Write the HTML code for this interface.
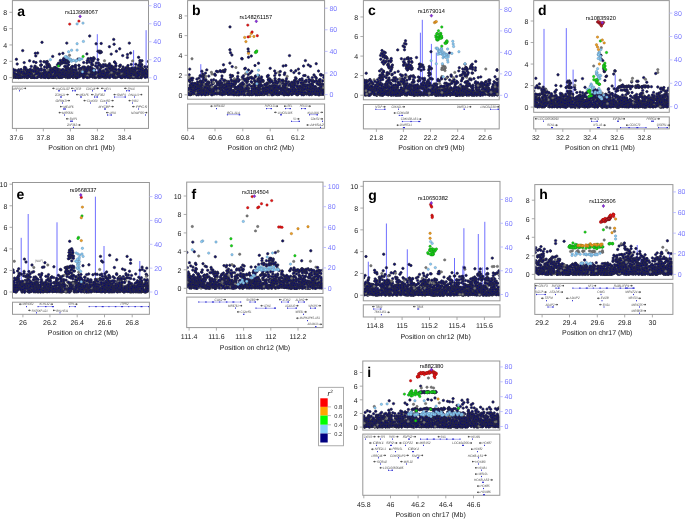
<!DOCTYPE html>
<html><head><meta charset="utf-8">
<style>
html,body{margin:0;padding:0;background:#fff;width:685px;height:519px;overflow:hidden}
svg{position:absolute;left:0;top:0;font-family:"Liberation Sans",sans-serif;will-change:transform;text-rendering:geometricPrecision}
</style></head>
<body>
<svg id="s" width="685" height="519" viewBox="0 0 685 519"><defs><marker id="mn" markerUnits="userSpaceOnUse" markerWidth="4" markerHeight="4" refX="0" refY="0" overflow="visible"><circle cx="0" cy="0" r="1.2" fill="#0a0a72" stroke="#2c2c3c" stroke-width="0.7"></circle></marker><marker id="mlb" markerUnits="userSpaceOnUse" markerWidth="4" markerHeight="4" refX="0" refY="0" overflow="visible"><circle cx="0" cy="0" r="1.2" fill="#87cefa" stroke="#6a8aa8" stroke-width="0.45"></circle></marker><marker id="mg" markerUnits="userSpaceOnUse" markerWidth="4" markerHeight="4" refX="0" refY="0" overflow="visible"><circle cx="0" cy="0" r="1.2" fill="#10e010" stroke="#208020" stroke-width="0.45"></circle></marker><marker id="mo" markerUnits="userSpaceOnUse" markerWidth="4" markerHeight="4" refX="0" refY="0" overflow="visible"><circle cx="0" cy="0" r="1.2" fill="#f0a020" stroke="#a06818" stroke-width="0.45"></circle></marker><marker id="mr" markerUnits="userSpaceOnUse" markerWidth="4" markerHeight="4" refX="0" refY="0" overflow="visible"><circle cx="0" cy="0" r="1.2" fill="#ee1010" stroke="#901818" stroke-width="0.45"></circle></marker><marker id="mp" markerUnits="userSpaceOnUse" markerWidth="4" markerHeight="4" refX="0" refY="0" overflow="visible"><circle cx="0" cy="0" r="1.2" fill="#8a2be2" stroke="#502080" stroke-width="0.45"></circle></marker><marker id="mgr" markerUnits="userSpaceOnUse" markerWidth="4" markerHeight="4" refX="0" refY="0" overflow="visible"><circle cx="0" cy="0" r="1.2" fill="#7a7a7a" stroke="#5a5a5a" stroke-width="0.45"></circle></marker><marker id="mdr" markerUnits="userSpaceOnUse" markerWidth="4" markerHeight="4" refX="0" refY="0" overflow="visible"><circle cx="0" cy="0" r="1.2" fill="#c41a2a" stroke="#601010" stroke-width="0.45"></circle></marker></defs><g><clipPath id="ca"><rect x="12.9" y="1.1" width="135.1" height="80.7"></rect></clipPath><g clip-path="url(#ca)"><line x1="97.3" x2="97.3" y1="34.2" y2="77.8" stroke="#6f6fff" stroke-width="1"></line><line x1="133.6" x2="133.6" y1="50.2" y2="77.8" stroke="#6f6fff" stroke-width="1"></line><line x1="146.1" x2="146.1" y1="30.2" y2="77.8" stroke="#6f6fff" stroke-width="1"></line><g><path d="M80.1 73.7 80.7 75.6 100.1 64.7 98.8 77.5" fill="none" style="marker:url(#mn)"></path><path d="M75.8 72.4" fill="none" style="marker:url(#mgr)"></path><path d="M112.2 71.9 53.3 74.3 127.1 68.4 98.2 74.4 62.6 73.3 128.5 74.5 137.4 74.2" fill="none" style="marker:url(#mn)"></path><path d="M54.3 74" fill="none" style="marker:url(#mgr)"></path><path d="M132.3 70.7 29.2 70.5 86.5 73 88.6 74 143.2 74.5 90.4 72.2 101.1 74.9 109.1 66.8 100.4 77.4 138.4 71.7 101.4 66.2 102.8 73.5 43.1 75.6 24.9 75 37 76.5 114.6 62 128.1 74 98 59.7 79.3 68.9 21.1 70.1 95.8 75.1 137.4 77.5 35.3 75.1 69.2 74.3 20.7 74.5 69.2 75.8 58.4 75.1 145.1 71.7 45.8 75.2" fill="none" style="marker:url(#mn)"></path><path d="M88.9 74.2" fill="none" style="marker:url(#mgr)"></path><path d="M30.2 72 30.9 76.8 98.4 76.2 123 66.9 113.7 69.3 59 69.6 99.4 75.4 115.3 75.4 116.4 70" fill="none" style="marker:url(#mn)"></path><path d="M31.3 75.7" fill="none" style="marker:url(#mgr)"></path><path d="M89.1 77.3 83.1 76.7 84.3 75.8 146.2 69.5 76.7 77.1 65.3 73.9 25.8 71.8 24.4 77.3 90.1 68 22.9 76.8 21 74.3 31.5 73.9 134.5 74.2 147.5 72.8 86.4 69.4 141.1 70.6 67.8 69.3 98.5 62.9 113.3 68 71.2 76.2 94.8 74.8 115.5 77.1 109.1 65.3 83.6 75 137.6 77 134.5 72.1 90 75.6 72.8 70.8" fill="none" style="marker:url(#mn)"></path><path d="M109.7 75" fill="none" style="marker:url(#mgr)"></path><path d="M110.1 66.3 115.4 72.7 113.3 67.1 35.4 66.8 46.7 75 56.4 75.8 95.5 77.4 122.4 73.8 51.5 76.9 86.7 72.1 84.3 68.7 50.5 71.4 133.1 72.1 90.1 71.7 21.1 69.5 136.7 72.4 59.2 73.1 13.3 74.1 120.4 75.3 142.4 74.6 24.5 70.7 128.1 68.1 21.4 76.8" fill="none" style="marker:url(#mn)"></path><path d="M15.3 74" fill="none" style="marker:url(#mgr)"></path><path d="M43.2 76.3" fill="none" style="marker:url(#mn)"></path><path d="M13.1 70 63.8 74.3" fill="none" style="marker:url(#mgr)"></path><path d="M130.5 76.9 59.9 70.1 16.8 74.3 117.5 72.5 76.4 71.8 101.3 75 108.1 72.6 69.8 77.4 98.8 65.3 29.6 75.8 122.2 75.5 143.3 72.6 41.1 65 30.5 75.1 132.5 68 66.8 74.6" fill="none" style="marker:url(#mn)"></path><path d="M60 69.8" fill="none" style="marker:url(#mgr)"></path><path d="M48.1 66.5 95.5 72.5 83.5 74.5 139.1 68.7 28.4 76.1 33.9 75.6 34.4 75.6" fill="none" style="marker:url(#mn)"></path><path d="M44.8 70.2" fill="none" style="marker:url(#mgr)"></path><path d="M24.8 69.2 82.9 71.1 110.4 75.1 103.5 72.7 65.5 76.2 45.3 77.1 21.8 76.9 47.2 61.5 78.9 65.4 108.5 74.8 41 77.2 101 67.5 54.7 74 141.7 65 65.8 77.3 76.1 69.4 89.6 71.2 75.5 77.3 44.9 74.5 55.9 71.7 58.6 76.7 51.6 73.1 66.7 73.3 27 73.4" fill="none" style="marker:url(#mn)"></path><path d="M142 68.2 90.9 68.1" fill="none" style="marker:url(#mgr)"></path><path d="M124.8 75.2 114.5 62.1" fill="none" style="marker:url(#mn)"></path><path d="M37 67.5" fill="none" style="marker:url(#mgr)"></path><path d="M139.5 76.6 100.4 74.3 47.9 66 28.3 73.1 50.9 68.5 77.5 76.8 31.8 75 14.8 74.2 124.6 71.9 72.7 70.6 145.4 70.4 56.9 74.2 115.5 77.4 62.4 70 71.8 71.2 15.4 75.4 94.3 71.1 127.2 67.1 67.1 71.8 123.3 69.5 24.5 74.7 111.9 72.7 140.3 67.5 69.5 76 113.9 73.4 14.2 73.5 103 72.3 90.9 74.3 13.4 76.4 87.6 73.6 33.6 74.9 72.4 73 25.4 73.2 102 76.4 34.4 68 142.1 75.1 56.1 73.9 77.7 77 71.1 68 76.7 77.6 35 77.2 43.8 69.9 87.4 75.6 39.4 74.8 92.8 77.2 128.2 71.4 143.9 74.9 25.1 71 105.7 75.2 88.8 74.2 67.1 68.4 33.4 75 129.7 77.6 59.1 77.3 113.7 76.7 48.6 75.2 75.5 75.4" fill="none" style="marker:url(#mn)"></path><path d="M135.8 69.4" fill="none" style="marker:url(#mgr)"></path><path d="M103.1 75.2 142.4 69 148.4 75.3 52.4 75.7 141.8 71.1 24.6 68.8 32.1 76.5 115 72.3 105.9 77.6 51.3 71.3" fill="none" style="marker:url(#mn)"></path><path d="M61.3 76" fill="none" style="marker:url(#mgr)"></path><path d="M83.7 67.1 130.9 77.3 53.3 76.5 75.8 76.9 113.2 74.2 52.5 69.6 107 74.5 58.1 69.7 135.1 74.1" fill="none" style="marker:url(#mn)"></path><path d="M132.7 73.9" fill="none" style="marker:url(#mgr)"></path><path d="M84.3 68.3 81.2 74.8 35 66.1 30.7 75.6 92.4 64.5 21.1 72.4 74.4 69.8 142 68.3 135.8 68.2 147.7 71.1 127.1 75.3 121.6 75.8 121.9 69.6 59 76.8 15.2 76.2 47.3 65.7 101.7 67.1 71.7 67.4 33.6 77.2 92.7 72 128 65.5 13.9 74.5 43.9 61.7 81.7 73.6 104.3 71.9 122 77.5 121.4 77.5" fill="none" style="marker:url(#mn)"></path><path d="M42.3 75.6" fill="none" style="marker:url(#mgr)"></path><path d="M125.2 74.4 92.6 71.7 138.9 73 15.5 70.3 65.4 75.9 45 75.2 141.5 72.5 15.7 77.2 44.2 75.6 147 76.8 88.9 76.2 18.4 77.5 69.4 75.7 125.3 71.1 56.5 75.3 124.3 69.8 25 70.5 30.7 76 122.1 77 129.4 77 108.9 72.1 92.9 72.4 115.4 69.3 100.6 72.4 125.8 70.5 92.7 71.9 31.2 77.3 54.3 76.2 130.5 70.4 132.6 74.3 44.6 74.9 35.6 74.1 148.3 74.5 59.6 76.9 51.9 73.6 130.1 76.3 56.6 72.7 29.1 75.1 25.7 75 51.4 75 132.5 77.1 69.9 75.6" fill="none" style="marker:url(#mn)"></path><path d="M77.8 72" fill="none" style="marker:url(#mgr)"></path><path d="M97.6 73.5 62 72.9 75.5 65.2 140.1 62.2 70.6 76.4 118.9 76.3 79.4 72.9 28 71.4 21.7 73.8 135.8 64.3 103.3 70.6 132.6 70.4 86.7 70.8 96.6 76.9 141.9 76.7" fill="none" style="marker:url(#mn)"></path><path d="M20.3 77.5" fill="none" style="marker:url(#mgr)"></path><path d="M14.1 77 54.9 77.4 134.9 68.9 32.9 75.5 43.2 76.7 61.1 74.4 109.8 68.7 65.6 76.5 115.9 76.7 103.1 71.8 73.1 77.4 71 73.2 79.4 69.4" fill="none" style="marker:url(#mn)"></path><path d="M53.1 75.8 132.6 60.9 68.1 76.3 19.1 75.6" fill="none" style="marker:url(#mgr)"></path><path d="M119.9 66.5 130.3 75.7 39 76.2 31.2 77.4 35.4 70.8 108 72.2 39.5 70.5 80.7 73.1 58.7 71.6 61.5 73.7 67.6 73.5 48.7 77.5 94.1 72.4 94.3 73.3 48.2 77.4 37 77 138.1 71.8 46.4 72.3 109.5 63.8 24.3 72.3 129.3 75.5 13.4 72.3 35.5 76.2 12.9 77.6 145.4 74.2 87.7 76.6 82.7 71.7 130.5 75.7 136 77.1 107.8 76.5 37 68.8 34.9 70.8 75.1 73.9 142 70.9 12.7 75 137.2 76.2 97.7 68.1 70.1 76.8 18.9 77.1 35.3 75.7 50.9 69.5 61 77.4 84 74.7 116.6 77 117.8 72.2 56.7 75.6 24.6 72.7 18.7 69.8 140.6 77.3 33.2 72 128 75.4 90.7 74.6 129.6 74.6 14.7 70.4" fill="none" style="marker:url(#mn)"></path><path d="M96.6 74.4" fill="none" style="marker:url(#mgr)"></path><path d="M135.4 67.6 64 76.3 17.4 71 32 71 63.5 74.5 133.9 71.4 31 75.3 90.8 76.6 53.7 72.4 144 75.3 81.2 68.7 104.7 73.8 112.5 67.4 80.1 71.9 40.9 76.7 112.8 74 70.2 69.3 12.7 75.9 16.8 76.3 36.5 77 14.9 73.6 67.9 77.6 138 75.1" fill="none" style="marker:url(#mn)"></path><path d="M118.2 71.5" fill="none" style="marker:url(#mgr)"></path><path d="M18.8 76.9 141.5 64.4 50.3 70 48.8 77.4 34.5 74.6 119.8 70.4 127.6 69.9 83.4 77.5 107.1 69.1 37 74.4 19.1 72.4 131.9 71.3 37 74.6 147.5 76.7 71.4 67.8 140.8 75.6 27.2 76.8 101.5 76.5 83.7 71.9 92.3 68.6 138.1 75.8 39.8 76.6 70.3 68.7 15.2 77.2 48.6 71.2 142.6 71.3 107.4 70.7 27.1 77.4 26.5 75.8 130.3 74.3 87.8 74.4 139.1 77.5 96.3 76.8 103.2 66.8 143.1 74 41 73.4 74.7 66.3 92.3 68.7 19.6 73.4 28.8 74.9 128.9 75.1 137.8 76.9 56.5 77.6 32.6 77 67.6 76.4" fill="none" style="marker:url(#mn)"></path><path d="M30.8 75.8" fill="none" style="marker:url(#mgr)"></path><path d="M140.1 68.5 130.5 75.7 50.1 77.1 136.8 77.2 105.7 74.7 43.3 75.7 64.1 70.5 63.6 76.6 86.5 73.4 45 75.5 76 70.2" fill="none" style="marker:url(#mn)"></path><path d="M78.9 75.9" fill="none" style="marker:url(#mgr)"></path><path d="M101.2 66.3 117.5 77" fill="none" style="marker:url(#mn)"></path><path d="M81.4 72.1" fill="none" style="marker:url(#mgr)"></path><path d="M106.9 66.2 56.5 70.8 147.4 74.5 50.2 73.4 133.2 76.8 61.3 70.2 52 75.4" fill="none" style="marker:url(#mn)"></path><path d="M110.3 74.3" fill="none" style="marker:url(#mgr)"></path><path d="M84.1 74.5 130.4 74.9 144.7 73.2 109.9 69.1 112.4 69 114.6 75.6 37.9 71.5 113.2 74.6 34.7 75.5 80.7 69.3 84.2 75.3 114.5 75.1 38.9 69.7 47.2 67.6 16.9 77.4 101.4 72.5 135 74.2 147.7 66.9 20.6 76.3 71.7 71.4 94.5 69.5 58.3 69.7 69.1 69.7 88.3 75.2 64.4 75.1 15.7 76.7 141.5 76.9 138.8 77.6 104.2 77.4 18.6 73.2 75.7 77.1 57 77.2 33.1 77.1 131.3 64.4 41.5 74.3 79 76.2 36.8 77.3 144.8 66.8 67.5 68.1 24.5 67.3 36.1 72.9 105 73.2 134.6 75.2 95.7 72.9 143.6 72.4 140.5 77.2 76.9 74.5 122.3 69.7 16.8 75" fill="none" style="marker:url(#mn)"></path><path d="M112.6 75.5" fill="none" style="marker:url(#mgr)"></path><path d="M119.7 65.9 50.9 75.4 55.6 75.4 94 76.8" fill="none" style="marker:url(#mn)"></path><path d="M21.6 75.6 56.6 69.8" fill="none" style="marker:url(#mgr)"></path><path d="M52.8 75.6 21.8 77.3 100.9 74 112.3 74 108.4 77 88.3 66.8 140.5 66.9 86 73.1 122.4 74.4 120.5 76.2 54.9 71.8 95.3 72.4 141.2 76.8 70.5 76.1 64 71.8 124 71.4 138.1 68.6 42.9 73.7 74.7 75.3 46.9 67.7 41.2 68.6 82.8 67.2 109.6 68 57.3 70.4 90.1 67.8 76.1 74.1 38 68.6 142.2 70.6 19.6 74.8 129.6 69.6 18.3 72.9 96 76.3 144.8 70.6 111.4 67.4 28.4 71.3 104.4 76.4 122.1 74.2 63.1 69.5 90.5 67 20.2 77.1 25.4 72.8" fill="none" style="marker:url(#mn)"></path><path d="M138 67.2" fill="none" style="marker:url(#mgr)"></path><path d="M131.7 71.3 87.5 67.8 21.1 72.1 38.1 72.6 117 74.7 124.4 75.3 109.2 67.3 20.2 76.3 139.5 74 86.5 71.3 18.4 74 88.6 74.1" fill="none" style="marker:url(#mn)"></path><path d="M20.1 76" fill="none" style="marker:url(#mgr)"></path><path d="M104.6 76.2 131.4 75.4 107.8 65.8 43 76.4 81.9 72.8 110.6 72.3 54.2 73 133.3 77.5 68.1 72.2 67.3 76.1 144.5 76.5 137.9 76.8 49.5 65.4 80.6 74.3 84.1 74.6 88.6 69 66.1 70.8 116 74 117.2 74.8 32.1 73.9 94.5 77 139.8 64.1 75.4 76.6" fill="none" style="marker:url(#mn)"></path><path d="M21 71.5" fill="none" style="marker:url(#mgr)"></path><path d="M130.4 71.9 13.2 69.4 33.2 74.8 99.3 70.5 45.2 77.5 121.5 75.7 24.5 71.8 120.4 65.1 64.7 66.4 29.9 74.5 124.7 72.9 86.9 70.9 83.7 62.5 20.1 76.6 102.6 76.6 100 69.5 104 74.1 39.7 76" fill="none" style="marker:url(#mn)"></path><path d="M121.3 73.4" fill="none" style="marker:url(#mgr)"></path><path d="M127.2 73.3 27.4 75.3 111.9 74.7 74.8 75.2 75.9 74.2 77.1 77.1 84.7 68.1 42.5 77.1 29.5 72.3 67.7 67.5 60.3 73.7 113.4 76.7 141.8 76 28.9 72.4 45.7 75.6 72.1 66.8 55.6 68.5 36 73.9 139.8 75.2 20.6 76.3 67.6 77.1 115.7 66.4 25 75.1 134.1 76.3 62.9 73.2 57.8 75.6 87.9 75.3 145.3 77.4 71.3 71.6 81.1 75.2 141.1 66.4" fill="none" style="marker:url(#mn)"></path><path d="M57.6 77.5" fill="none" style="marker:url(#mgr)"></path><path d="M32.8 73.1 126.3 72.4 102 74.3 62.5 76.5 65.2 76.1 113.9 77.3 132.9 74.7 51.6 71.8 84.5 67.1 46.9 64.7 53.2 71.4 84.2 74.6 66 68.8 47.7 75.9 98.5 72.3 92 72.7 76.1 76.6 46.3 74.1 55.5 67.5 111.8 74.1 24.2 73.7 113.8 71.5 52.5 72.6 87.2 69.8 122.7 76.9 41.1 77 86.5 69.3 119.3 72.4 26.6 77.4 32.9 70.1 61.9 77.4 101.6 74.4 72.7 75.6 37.4 76.3 90.6 69.9 139.7 71.4 144.6 70.6 64.5 75.8 42.5 73.9 111 70.5 48.6 64.1 109.8 68.5 105.4 64.6 101.1 75.6 87.5 71.4 82.4 72.2 25.6 74.4 71.5 73 92.4 65.1 92 70.3 59.1 73 52.7 77.3 134.7 77.3 100.8 71.2 26.5 71.7 46.8 76.5 96.3 76.7 52.6 68.9 84.7 76.9 23.7 74.5" fill="none" style="marker:url(#mn)"></path><path d="M53.8 74.2" fill="none" style="marker:url(#mgr)"></path><path d="M116.8 75.9 18.7 75.5 60.3 76.3 76.2 73.9 43.6 72.6 112.9 75.3 40.7 65.4 46.8 63.6 109.5 76.7 62 72.8 49.8 66.9 47.5 77.3 12.9 75.6 107.6 71.3 142.1 73 65.5 73.5 111.6 66 90.4 74.8 37.3 77.3 141.7 75.8 54.2 67.7 42.8 75.4 134.3 73.6 105.3 75.1 55.1 76.1 138.9 74.7 48.1 73.2 127.5 54.5 88 76.9 125.6 74.3 110.5 75.2 111.3 70.3 128.4 68.5 132.6 77.4 141.3 77.6 91.7 71.3 69.7 72.9 94.5 76.9 41.4 70.3 44.8 71.4 73.2 72.2 78 59.1 19.1 74.7 46.6 76.1 77.2 72.8 67 68.1 91.5 60.4 138.6 65.3 109.2 64.9 92.9 74.4 62.8 72.4 134.2 76.8 17.2 64 118.8 69.4 31.3 66.4 135.2 69.3 97 66.9 135.4 76.6 92.8 71.2 35.7 74.5 25.6 69.3 38.3 72.9 118.2 72.9 102.7 76.6 90.6 74.5 59.9 77.5" fill="none" style="marker:url(#mn)"></path><path d="M53.3 76.1" fill="none" style="marker:url(#mgr)"></path><path d="M134.4 70.3 41.3 64.9 65.6 75.4 109.7 77.5 127.1 76.3 70.4 71.9 32.9 76.5 91.1 74.6 47.5 73.5 26.7 73.8 125 77.2 137.5 76.2 128.7 72.8 41.8 75.9 18.8 77.5 92.5 70.8 140.3 61.4 124.2 76.1 132.4 73.7 27.8 77.5 79 65.4 26.6 76.7 56.5 72.9 138.2 68.4 134.2 76.9 24.7 74.5 44.1 75.4 116 65.6 128 74.9 33.4 77 72.8 76.9 92.7 74.9 117.6 73.2 86.9 62.8 116.4 51.2 53.2 69.1 63.8 58.4 29.4 74.6 19.3 71 35.7 68 120.8 76.6 135 70.5" fill="none" style="marker:url(#mn)"></path><path d="M133.5 76.4" fill="none" style="marker:url(#mgr)"></path><path d="M140.1 76.4 105.8 69.3 24.8 72.3 72.3 76.4 54.6 74.9 32 77.4 86.5 77 83.4 75.7 62.6 75.2" fill="none" style="marker:url(#mn)"></path><path d="M33.3 73.3" fill="none" style="marker:url(#mgr)"></path><path d="M83.8 73.5 124.5 69.7 28.3 72.3 54.8 70.6 51.1 77.1 88.7 75.2 73.5 74.9 55.2 73.5 111 75.1 148.4 61.5 131.1 73.4 17.9 75.6 75.6 67.1 125.7 77.1" fill="none" style="marker:url(#mn)"></path><path d="M47.7 70" fill="none" style="marker:url(#mgr)"></path><path d="M128.8 70.9 125.5 67.9 88 67.2 12.6 76 36.1 77.3 89 73.2 29.8 76.5 44.6 70 51.9 77.1 24.7 76.8 43.5 73.9 126.4 74 121.4 71.6 17.6 75.9 32.5 77 35.8 55.9 81.2 68.7 144.6 70.7 26.7 75.7 53.5 77.2 129 74.1 15.4 76.9 101.2 75.2 17.6 75.2 48.4 65.9 134.2 74.3 57.2 68.8 102.2 72.2 24.3 71.5 28.9 73.5 79.3 76.9 19.5 76.7" fill="none" style="marker:url(#mn)"></path><path d="M116.6 75" fill="none" style="marker:url(#mgr)"></path><path d="M52.9 69.7 126.3 70.9 126.5 73.3 68 74.2 21 72.8 31.3 74.3 69.2 76.9 73.9 72.3 24.2 62.6 127.8 68.6 138.6 57.3 46.8 74.8 44.6 66.9 55.3 67.9 18.2 77.3 77.1 73.9 78.9 75.3 39.3 75.3 77.4 77.4 67.2 66.1 96.2 63.1" fill="none" style="marker:url(#mn)"></path><path d="M24.1 71.9" fill="none" style="marker:url(#mgr)"></path><path d="M95 77 119 76.1 70.1 72.7 127.4 57.5 111.8 71.2 85 71.3 49.1 72.5" fill="none" style="marker:url(#mn)"></path><path d="M87.5 75.9" fill="none" style="marker:url(#mgr)"></path><path d="M45 72.8 108.3 72.4 33.9 77 69.9 73.7 24.2 76.7 29 73.7 60.6 72.8 129.3 71.8 31 70.6 50.9 74.9 28.8 74.6 101.8 73.2 17.5 74.7 96.9 74.8 61.7 74.2" fill="none" style="marker:url(#mn)"></path><path d="M88.8 72.4" fill="none" style="marker:url(#mgr)"></path><path d="M145.7 73.2 31.2 73.6 123.3 76.8" fill="none" style="marker:url(#mn)"></path><path d="M140.1 76.7" fill="none" style="marker:url(#mgr)"></path><path d="M79.3 68.6" fill="none" style="marker:url(#mn)"></path><path d="M111.5 72.6" fill="none" style="marker:url(#mgr)"></path><path d="M118.2 74.5 100.7 51.4 41.6 76 87.2 77.5 34.3 77.5 16.7 74.6 106.8 72.7 18.9 75.3 23.6 72 27.7 70 21.6 71.7 19.9 77.4 139.9 60.5 126.7 75.8 53 77.3 58.4 73.6 122.9 71 112.7 75.4" fill="none" style="marker:url(#mn)"></path><path d="M36.4 76" fill="none" style="marker:url(#mgr)"></path><path d="M71.9 76 129 70.1 137.5 73.5 57.5 72.5 27.1 76.2 80.8 69.8 127.8 77.5 57.2 75.8 140.7 69.6 103.4 73.6 64.1 75.1 124.8 76.7 94.3 74.4" fill="none" style="marker:url(#mn)"></path><path d="M96.7 75.4" fill="none" style="marker:url(#mgr)"></path><path d="M63 74.2 35.9 70.1 124.9 72 51.9 77 43.9 77.2 119 73.6 94.3 58.8 95.1 74" fill="none" style="marker:url(#mn)"></path><path d="M81.3 69.3" fill="none" style="marker:url(#mgr)"></path><path d="M29.4 72.6 95.5 65.7 59 72.8 107.1 76.9 134.1 74.9 98.4 75.9 22.6 76.9 115.7 63.5 83.7 76.8 105.2 65.7 69.9 74.8 131.4 68.3 81.6 73.3 138.7 75.3 112.6 76.9 134.2 69.5 30.4 69.2 129 69 50.9 76.8 39.8 73.8 35.4 71.3 72.6 66.5 140.4 66.3 103.3 64.6 79.7 75 120.6 77.3 55.8 72 28.3 75.5 25.6 67.8 99.9 76.6 69 75 37.8 77 30.8 73.9 72.9 69.8 46.9 62 117.2 74.1 145.8 69.6 36.8 73.5 58.6 77.1 81.1 68.8 140.9 77.1 91.8 64.4 53.4 76.6 33.4 71.3 24.1 73.3 66.2 70.3 60.1 72.8 98 51.2 101.3 52.2 99.4 51.2 100.1 52.8 99.6 52.4 68.6 61.9 60.8 62.1 62.7 62.4 60.6 64.1 62.8 59.9 68.1 62.2 65.2 61.6 60.4 60.4 63.7 60.5 67.8 60.9 58.5 63.2 61.2 62.3 57.5 64.8 59.4 65.5 66.3 59.9 62.1 63 66.6 63.3 63 62.8 68.7 64.8 65.8 59.8 65.3 66.4 65.1 63 93.6 57.7 93.1 60.9 88.2 58.6 88.6 60.4 90.9 58.5 93.2 59.3 90.7 58.5 91.5 62.8 89.3 62.1 87.3 60.6" fill="none" style="marker:url(#mn)"></path><path d="M69.5 55.3 104.5 60.8" fill="none" style="marker:url(#mgr)"></path><path d="M16.4 59.3 22.7 50.6 42 42.3 35.4 53.3 37.7 53 29.6 60.8 33.7 61.7 36 62.5 40.6 61.4 45.2 62 52.7 56.4 59.4 54.1 62.9 53.3 66.8 43.1 89.7 36 113.7 39.4 96.1 43.8 101.2 43.5 114.1 44.2 129.3 43.1 109.4 46.7 119.7 48.8 86.9 53.9 111.2 54.1 122.7 55.6 130.6 53 142 60.8 93.5 58.5" fill="none" style="marker:url(#mn)"></path><path d="M70 59.1 70.9 59.5 66.4 56.7 68.8 58.6 67.6 57.5 66.8 57.8 66.5 57.3 65.4 56.6 71.4 61.2 70.1 59.8 70 59.2 72.8 60.6 73.5 60.3 75.7 61 75.9 61 76.7 60.6 81.9 58.9 79.6 58.7 79.3 60 80 59.5 79.1 59.2 77.1 23.9 83 23.1 77.1 43.7 83.4 41.4 77.1 50.1 68.6 51.8 71.6 50.2 50.4 59.7 82.5 71.8 94 70.3" fill="none" style="marker:url(#mlb)"></path><path d="M58.5 66 83.1 56.4" fill="none" style="marker:url(#mg)"></path><path d="M69.7 24.1 78.9 21.1" fill="none" style="marker:url(#mr)"></path><path d="M80.1 14.74L81.50 16.4L80.1 18.04L78.69 16.4Z" fill="#8a2be2" stroke="#502080" stroke-width="0.4"></path></g></g><rect x="12.4" y="0.6" width="136.1" height="81.7" fill="none" stroke="#979797" stroke-width="1"></rect><line x1="9.4" x2="12.4" y1="77.6" y2="77.6" stroke="#979797" stroke-width="0.8"></line><text x="7.2" y="80.39" font-size="7" text-anchor="end" fill="#222">0</text><line x1="9.4" x2="12.4" y1="61.27" y2="61.27" stroke="#979797" stroke-width="0.8"></line><text x="7.2" y="64.08" font-size="7" text-anchor="end" fill="#222">2</text><line x1="9.4" x2="12.4" y1="44.95" y2="44.95" stroke="#979797" stroke-width="0.8"></line><text x="7.2" y="47.75" font-size="7" text-anchor="end" fill="#222">4</text><line x1="9.4" x2="12.4" y1="28.63" y2="28.63" stroke="#979797" stroke-width="0.8"></line><text x="7.2" y="31.43" font-size="7" text-anchor="end" fill="#222">6</text><line x1="9.4" x2="12.4" y1="12.31" y2="12.31" stroke="#979797" stroke-width="0.8"></line><text x="7.2" y="15.11" font-size="7" text-anchor="end" fill="#222">8</text><line x1="148.5" x2="151.5" y1="77.8" y2="77.8" stroke="#b4b4ff" stroke-width="0.8"></line><text x="153.3" y="80.3" font-size="7" text-anchor="start" fill="#7878ff">0</text><line x1="148.5" x2="151.5" y1="59.78" y2="59.78" stroke="#b4b4ff" stroke-width="0.8"></line><text x="153.3" y="62.28" font-size="7" text-anchor="start" fill="#7878ff">20</text><line x1="148.5" x2="151.5" y1="41.76" y2="41.76" stroke="#b4b4ff" stroke-width="0.8"></line><text x="153.3" y="44.26" font-size="7" text-anchor="start" fill="#7878ff">40</text><line x1="148.5" x2="151.5" y1="23.73" y2="23.73" stroke="#b4b4ff" stroke-width="0.8"></line><text x="153.3" y="26.23" font-size="7" text-anchor="start" fill="#7878ff">60</text><line x1="148.5" x2="151.5" y1="5.71" y2="5.71" stroke="#b4b4ff" stroke-width="0.8"></line><text x="153.3" y="8.21" font-size="7" text-anchor="start" fill="#7878ff">80</text><rect x="12.4" y="86.1" width="136.1" height="42.30" fill="none" stroke="#979797" stroke-width="1"></rect><path d="M23.4 88.39h2.6M26.09 88.39l-1 -0.6v1.2z" stroke="#444" stroke-width="0.55" fill="#444"></path><text x="12.5" y="89.5" font-size="3.4" font-style="italic" fill="#484848" textLength="10.3" lengthAdjust="spacingAndGlyphs">MRPS15</text><rect x="19" y="90.2" width="1" height="1.2" fill="#3030d0"></rect><path d="M52.6 88.39h2.6M52.5 88.39l1 -0.6v1.2z" stroke="#444" stroke-width="0.55" fill="#444"></path><text x="55.8" y="89.5" font-size="3.4" font-style="italic" fill="#484848" textLength="14.10" lengthAdjust="spacingAndGlyphs">LINC01137</text><rect x="58" y="90.2" width="2" height="1.2" fill="#3030d0"></rect><path d="M71.3 88.39h2.6M71.19 88.39l1 -0.6v1.2z" stroke="#444" stroke-width="0.55" fill="#444"></path><text x="74.5" y="89.5" font-size="3.4" font-style="italic" fill="#484848" textLength="6.59" lengthAdjust="spacingAndGlyphs">CSF3R</text><rect x="72" y="90.6" width="4" height="0.45" fill="#5050e0"></rect><rect x="72" y="90.2" width="1" height="1.2" fill="#3030d0"></rect><rect x="74.5" y="90.2" width="1.5" height="1.2" fill="#3030d0"></rect><path d="M95.8 88.39h2.6M98.5 88.39l-1 -0.6v1.2z" stroke="#444" stroke-width="0.55" fill="#444"></path><text x="86.1" y="89.5" font-size="3.4" font-style="italic" fill="#484848" textLength="9.09" lengthAdjust="spacingAndGlyphs">CDCA8</text><rect x="92" y="90.2" width="1" height="1.2" fill="#3030d0"></rect><path d="M101.3 88.39h2.6M101.19 88.39l1 -0.6v1.2z" stroke="#444" stroke-width="0.55" fill="#444"></path><text x="104.5" y="89.5" font-size="3.4" font-style="italic" fill="#484848" textLength="6.59" lengthAdjust="spacingAndGlyphs">HEYL</text><rect x="104" y="90.2" width="2" height="1.2" fill="#3030d0"></rect><path d="M124.5 88.39h2.6M124.39 88.39l1 -0.6v1.2z" stroke="#444" stroke-width="0.55" fill="#444"></path><text x="127.7" y="89.5" font-size="3.4" font-style="italic" fill="#484848" textLength="7.10" lengthAdjust="spacingAndGlyphs">EPHA10</text><rect x="126" y="90.6" width="4" height="0.45" fill="#5050e0"></rect><rect x="126" y="90.2" width="1" height="1.2" fill="#3030d0"></rect><rect x="128.5" y="90.2" width="1.5" height="1.2" fill="#3030d0"></rect><path d="M65.8 94.6h2.6M68.5 94.6l-1 -0.6v1.2z" stroke="#444" stroke-width="0.55" fill="#444"></path><text x="54.9" y="95.7" font-size="3.4" font-style="italic" fill="#484848" textLength="10.29" lengthAdjust="spacingAndGlyphs">ZC3H12A</text><rect x="60" y="96.4" width="2" height="1.2" fill="#3030d0"></rect><path d="M76.3 94.6h2.6M76.19 94.6l1 -0.6v1.2z" stroke="#444" stroke-width="0.55" fill="#444"></path><text x="79.5" y="95.7" font-size="3.4" font-style="italic" fill="#484848" textLength="9.09" lengthAdjust="spacingAndGlyphs">MEAF6</text><rect x="80" y="96.4" width="2" height="1.2" fill="#3030d0"></rect><path d="M91.3 94.6h2.6M91.19 94.6l1 -0.6v1.2z" stroke="#444" stroke-width="0.55" fill="#444"></path><text x="94.5" y="95.7" font-size="3.4" font-style="italic" fill="#484848" textLength="10.29" lengthAdjust="spacingAndGlyphs">ZNF362</text><rect x="94" y="96.8" width="4" height="0.45" fill="#5050e0"></rect><rect x="94" y="96.4" width="1" height="1.2" fill="#3030d0"></rect><rect x="96.5" y="96.4" width="1.5" height="1.2" fill="#3030d0"></rect><path d="M113.8 94.6h2.6M113.69 94.6l1 -0.6v1.2z" stroke="#444" stroke-width="0.55" fill="#444"></path><text x="117" y="95.7" font-size="3.4" font-style="italic" fill="#484848" textLength="9.09" lengthAdjust="spacingAndGlyphs">SNIP1</text><rect x="114" y="96.8" width="12" height="0.45" fill="#5050e0"></rect><rect x="114" y="96.4" width="1" height="1.2" fill="#3030d0"></rect><rect x="124.5" y="96.4" width="1.5" height="1.2" fill="#3030d0"></rect><path d="M139.5 94.6h2.6M142.20 94.6l-1 -0.6v1.2z" stroke="#444" stroke-width="0.55" fill="#444"></path><text x="128.6" y="95.7" font-size="3.4" font-style="italic" fill="#484848" textLength="10.30" lengthAdjust="spacingAndGlyphs">DNALI1</text><rect x="134" y="96.4" width="1" height="1.2" fill="#3030d0"></rect><path d="M67.10 100.6h2.6M69.80 100.6l-1 -0.6v1.2z" stroke="#444" stroke-width="0.55" fill="#444"></path><text x="55.4" y="101.7" font-size="3.4" font-style="italic" fill="#484848" textLength="11.10" lengthAdjust="spacingAndGlyphs">GRIK3</text><rect x="62" y="102.4" width="1" height="1.2" fill="#3030d0"></rect><path d="M83.8 100.6h2.6M83.69 100.6l1 -0.6v1.2z" stroke="#444" stroke-width="0.55" fill="#444"></path><text x="87" y="101.7" font-size="3.4" font-style="italic" fill="#484848" textLength="10.40" lengthAdjust="spacingAndGlyphs">C1orf109</text><rect x="90" y="102.4" width="1" height="1.2" fill="#3030d0"></rect><path d="M110.8 100.6h2.6M113.5 100.6l-1 -0.6v1.2z" stroke="#444" stroke-width="0.55" fill="#444"></path><text x="99.9" y="101.7" font-size="3.4" font-style="italic" fill="#484848" textLength="10.29" lengthAdjust="spacingAndGlyphs">C1orf50</text><rect x="106" y="102.4" width="1" height="1.2" fill="#3030d0"></rect><path d="M128.79 100.6h2.6M128.7 100.6l1 -0.6v1.2z" stroke="#444" stroke-width="0.55" fill="#444"></path><text x="132" y="101.7" font-size="3.4" font-style="italic" fill="#484848" textLength="6.5" lengthAdjust="spacingAndGlyphs">RHBDL2</text><rect x="132" y="102.4" width="1" height="1.2" fill="#3030d0"></rect><path d="M60.1 106.6h2.6M60 106.6l1 -0.6v1.2z" stroke="#444" stroke-width="0.55" fill="#444"></path><text x="63.3" y="107.7" font-size="3.4" font-style="italic" fill="#484848" textLength="10.29" lengthAdjust="spacingAndGlyphs">MEAF6</text><rect x="63" y="108.4" width="3" height="1.2" fill="#3030d0"></rect><path d="M110.8 106.6h2.6M113.5 106.6l-1 -0.6v1.2z" stroke="#444" stroke-width="0.55" fill="#444"></path><text x="98.6" y="107.7" font-size="3.4" font-style="italic" fill="#484848" textLength="11.59" lengthAdjust="spacingAndGlyphs">MYCBP</text><rect x="104" y="108.4" width="2" height="1.2" fill="#3030d0"></rect><path d="M132.5 106.6h2.6M132.4 106.6l1 -0.6v1.2z" stroke="#444" stroke-width="0.55" fill="#444"></path><text x="135.70" y="107.7" font-size="3.4" font-style="italic" fill="#484848" textLength="11.59" lengthAdjust="spacingAndGlyphs">PPCS</text><rect x="138" y="108.4" width="1" height="1.2" fill="#3030d0"></rect><path d="M58.90 112.6h2.6M58.80 112.6l1 -0.6v1.2z" stroke="#444" stroke-width="0.55" fill="#444"></path><text x="62.1" y="113.7" font-size="3.4" font-style="italic" fill="#484848" textLength="11.49" lengthAdjust="spacingAndGlyphs">MIR5581</text><rect x="64" y="114.4" width="1" height="1.2" fill="#3030d0"></rect><path d="M106.3 112.6h2.6M106.19 112.6l1 -0.6v1.2z" stroke="#444" stroke-width="0.55" fill="#444"></path><text x="109.5" y="113.7" font-size="3.4" font-style="italic" fill="#484848" textLength="6.59" lengthAdjust="spacingAndGlyphs">AKIRIN1</text><rect x="107" y="114.8" width="5" height="0.45" fill="#5050e0"></rect><rect x="107" y="114.4" width="1" height="1.2" fill="#3030d0"></rect><rect x="110.5" y="114.4" width="1.5" height="1.2" fill="#3030d0"></rect><path d="M144.5 112.6h2.6M147.20 112.6l-1 -0.6v1.2z" stroke="#444" stroke-width="0.55" fill="#444"></path><text x="131.1" y="113.7" font-size="3.4" font-style="italic" fill="#484848" textLength="12.80" lengthAdjust="spacingAndGlyphs">NDUFS5</text><rect x="145" y="114.4" width="1" height="1.2" fill="#3030d0"></rect><path d="M66.3 118.8h2.6M66.19 118.8l1 -0.6v1.2z" stroke="#444" stroke-width="0.55" fill="#444"></path><text x="69.5" y="119.9" font-size="3.4" font-style="italic" fill="#484848" textLength="7.90" lengthAdjust="spacingAndGlyphs">SNIP1</text><rect x="70" y="120.60" width="3" height="1.2" fill="#3030d0"></rect><path d="M77.60 125h2.6M80.30 125l-1 -0.6v1.2z" stroke="#444" stroke-width="0.55" fill="#444"></path><text x="66.9" y="126.10" font-size="3.4" font-style="italic" fill="#484848" textLength="10.09" lengthAdjust="spacingAndGlyphs">ZNF362</text><rect x="73" y="126.80" width="1" height="1.2" fill="#3030d0"></rect><line x1="16.4" x2="16.4" y1="128.4" y2="131.4" stroke="#979797" stroke-width="0.8"></line><text x="16.4" y="139.6" font-size="7" text-anchor="middle" fill="#222">37.6</text><line x1="43.3" x2="43.3" y1="128.4" y2="131.4" stroke="#979797" stroke-width="0.8"></line><text x="43.3" y="139.6" font-size="7" text-anchor="middle" fill="#222">37.8</text><line x1="70.4" x2="70.4" y1="128.4" y2="131.4" stroke="#979797" stroke-width="0.8"></line><text x="70.4" y="139.6" font-size="7" text-anchor="middle" fill="#222">38</text><line x1="97.4" x2="97.4" y1="128.4" y2="131.4" stroke="#979797" stroke-width="0.8"></line><text x="97.4" y="139.6" font-size="7" text-anchor="middle" fill="#222">38.2</text><line x1="124.6" x2="124.6" y1="128.4" y2="131.4" stroke="#979797" stroke-width="0.8"></line><text x="124.6" y="139.6" font-size="7" text-anchor="middle" fill="#222">38.4</text><text x="81.5" y="150" font-size="7" text-anchor="middle" fill="#222">Position on chr1 (Mb)</text><text x="17.3" y="15.5" font-size="14" font-weight="bold" fill="#000">a</text><text x="81.5" y="14.3" font-size="5.7" text-anchor="middle" fill="#000">rs113998067</text></g><g><clipPath id="cb"><rect x="188.1" y="1.1" width="136.00" height="97.60"></rect></clipPath><g clip-path="url(#cb)"><line x1="200.8" x2="200.8" y1="64.2" y2="94.6" stroke="#6f6fff" stroke-width="1"></line><g><path d="M223.4 93.1 244.7 90.8 310.5 88.3 225.1 88.1 259.4 91.2 204.3 85.6 202.7 75.6 295.4 89.2" fill="none" style="marker:url(#mn)"></path><path d="M242.3 79.2" fill="none" style="marker:url(#mgr)"></path><path d="M271.9 90.3 241.6 84.3 301.3 83.3 207.4 94.3 264.7 93.8 284.5 88.3 220.6 94 323.8 90 278.7 79.7 193 90.7 254.3 90 255.5 88.7 188.8 88.2 270.2 88.3 271.9 92.3 324.3 88.5 198.8 86.1 259.5 92.3 278.2 91.7 254.1 85.3 254.6 92.4 232.4 90.7 303 92 311.2 86.5 226.3 90.8 313.5 81.2 297.7 86.8 270.2 80.3 231.8 81" fill="none" style="marker:url(#mn)"></path><path d="M261.5 92.9" fill="none" style="marker:url(#mgr)"></path><path d="M260.6 89.4 267.5 75.9 266.9 89.8 209 83.3 190.3 87.6 216 80.8 307.3 85.7 290 91.5 305.5 81.3 187.9 80.5 309.3 94.7 198.9 78.1 312.7 85.6 295.8 93.7 283.4 85.9 225.2 94 285.7 91.4 273.1 92.7 238.2 90.3 218.9 92 310.8 80.2 306.6 89.9 276.2 92.7 200.8 85.7 299.1 73.2 270.6 86.6 274.7 75.6 276 92 253.8 78.5 286 86.8 277.7 88.9 245.4 92.3 191.6 89.9 305 81.3 294.1 92.6 235 84.2 298.6 89.9 261.4 90.3 247 86.5 269.7 85.8 214.4 87.5 257.8 82.8 228 94.2 233.3 93.6 205.1 84.5 306.3 81.6 288.9 92.9 313.2 93.1 272.7 86.9 281.2 88.4 263.6 91.5 268.9 80.5 304.2 90.7 214.5 94.1 294.8 83.5" fill="none" style="marker:url(#mn)"></path><path d="M313.1 87.3" fill="none" style="marker:url(#mgr)"></path><path d="M229.8 90 276.2 81.6 265.1 93.4 287.1 93.8 220 84.5" fill="none" style="marker:url(#mn)"></path><path d="M282 93.5" fill="none" style="marker:url(#mgr)"></path><path d="M192 87.1 281.7 89.6 322.8 84.2 221.5 93.5 263 81.6 221.5 84.1 319.4 80 234.5 83.7 295.4 90.1 303.2 82.9 313.8 81.4 319.7 94.1 303.6 94.7 213.9 90.5 249.2 84.8" fill="none" style="marker:url(#mn)"></path><path d="M203.1 88.4" fill="none" style="marker:url(#mgr)"></path><path d="M221.4 93.4" fill="none" style="marker:url(#mn)"></path><path d="M234.4 78.8" fill="none" style="marker:url(#mgr)"></path><path d="M221.3 83 309 79.5 200.9 89.3 239.3 89.7 300 79.5 231.7 92.4 310.5 87.9 204.9 94.2 254.3 88.5 287.8 92.8 250.2 91.7 217 89.4 198.7 85.4 204 75.1 271.9 89.9 236.5 88.4 303.7 90.9" fill="none" style="marker:url(#mn)"></path><path d="M263.3 89.3" fill="none" style="marker:url(#mgr)"></path><path d="M264.4 92.7 211 85.6 299.8 79.9 224.2 92.5 272.4 94.3 258.1 94 287 90 233.9 93 302.1 88 190.2 84.9 208.4 82 324.1 89.1 211.6 89.4 201.2 92.9 299.5 93.4 299.8 86.2 320.1 90.2 293.2 87.1" fill="none" style="marker:url(#mn)"></path><path d="M245.6 73.8" fill="none" style="marker:url(#mgr)"></path><path d="M256.3 88.1 322.6 93.8 258.1 80.2 268.5 87 224.2 92.4 284.4 92.8 283.8 85.3 305.6 84.7 244.7 90.2 315.7 91.7 285.5 80.9 196.6 86.9 275.6 84.3 229.1 90.3 320.6 74.5 248.4 91.4 282.3 88.1 232.5 75.8 306.9 93.2 312.9 91.4 239.1 93.4 247.6 81.3 266.4 85.9 307.6 92 236.1 88.7 289.5 90.6 224.8 80.2 281.8 88.7 275.3 87.6 283.9 94.7 294.8 91.2 319 90" fill="none" style="marker:url(#mn)"></path><path d="M227.9 81.3" fill="none" style="marker:url(#mgr)"></path><path d="M275.1 78.5 242.3 77.1 322.5 92.1 303.1 83 237.8 88 208.2 90.6 269.6 88.8 274.5 91.3 238.5 91.5 248.4 90.6 293.6 91 297.6 86.6 318.3 88.3 247.9 93.7 223.6 92.9 304.3 92.7 246.8 82.8 190.7 78.8 275.2 82.5 257.9 92.1 243.4 89.6 264.8 93.8 194.1 93.5 319.8 84.7 290.4 91.5 190.2 85.6 202.3 84.4 245.9 79.2 316.3 80.4 246.4 81.3 324.2 88.5 210 87.6 214.9 89 217.7 89 222 76 220.7 90.4 224 85.3 312.7 80.5 297.1 81.7 239.6 94.3 302.3 80.3 274.6 91.5 247.3 85.6 234.8 86.8 230.4 93.9 250.1 77.6 265.2 90.5 266.3 87.7 316.1 91.9 255.1 93.4 217.2 90.5 263.2 80.6 319.5 81.7 246.1 79.3 320.5 89.6 312.2 81.5 310.5 93.8" fill="none" style="marker:url(#mn)"></path><path d="M193.3 94.3" fill="none" style="marker:url(#mgr)"></path><path d="M311.7 92.6 262.4 93.6 194.2 92.1 315.7 94.3 256 91.6 244.3 92.8 304.7 92.1 320.7 92.5 190.4 87.1 241.3 89.6 306.8 94.1 225.9 93.2 212.5 88 312.3 93.5 280.6 88.5 240.8 93.9 261.5 91.2 291.5 93.7 297 91.3 230.7 77.4 194.3 92 220.7 89.9 283 83.1 215.6 92.9 282.9 81.1 263.6 88.3 315.2 76.8 305.5 90.6 210.6 89.8 240.1 84.6" fill="none" style="marker:url(#mn)"></path><path d="M310.2 88.5" fill="none" style="marker:url(#mgr)"></path><path d="M242.7 91.4 193.2 92.8 189.9 81.8 285.2 83.8" fill="none" style="marker:url(#mn)"></path><path d="M198.8 82.8 254.6 92.3" fill="none" style="marker:url(#mgr)"></path><path d="M312.4 91.7 284.4 74.5 279.8 82.3 219.3 92.3 310.9 92 260.5 84.2 267.4 92.8 307.1 90.4 291.7 94.3 245 86.1 254.2 84.5 217.9 92.2 321.9 91.9 247.7 92.7 279.4 79.4 284.4 91.3 296 91 262.9 92.8 299.9 88.3 248.2 92.2 193.2 86.3 263.1 87.8 289.4 91.4 324 89.3 206 84.8 200.2 80.9 303.3 85.9 320 94.5 205.2 91.9 290.1 90.5 229.7 92.8 224.8 82 189.3 79.6 291.8 93.6 265.3 87.9" fill="none" style="marker:url(#mn)"></path><path d="M214.6 74.4 287.2 76.4" fill="none" style="marker:url(#mgr)"></path><path d="M301.7 91.5 208.1 85.7 228.8 90.2 279.6 75 190.7 87.3" fill="none" style="marker:url(#mn)"></path><path d="M278.6 72.4" fill="none" style="marker:url(#mgr)"></path><path d="M193.7 90.8 200 90.2 202.8 73.9 209.2 91.7 236.8 94.8 220 87.9 247.9 79 194 90.4 259.1 86.7 272.6 93.6" fill="none" style="marker:url(#mn)"></path><path d="M209.6 92.6" fill="none" style="marker:url(#mgr)"></path><path d="M272.4 85.5 215.2 93.4 229.3 83.2 223.2 84.9 267.5 76.7 233.6 90.7 191.5 93.8 272.8 89.4 205.5 73.1 213.3 83.4 203.5 91.8 258.2 87.6 263.8 88.6 251.8 91.9 315.7 93" fill="none" style="marker:url(#mn)"></path><path d="M298.5 92.9" fill="none" style="marker:url(#mgr)"></path><path d="M241.3 86.5 199.7 87" fill="none" style="marker:url(#mn)"></path><path d="M319.3 92.4" fill="none" style="marker:url(#mgr)"></path><path d="M225.3 89.2 289 94 250.2 91.9 216.4 87.6 240.5 86.5 229.3 86.5 302.7 87.1 290.9 90.6 295.1 92 265.8 93.6 259.4 94.2 276.8 94 206.6 92.7 321.5 90.3 253 86.1 248.3 93.1 221.7 87.2 296.1 91.8 245.2 86.1 284.4 94.7 263.4 92.1 303 88.4 218.8 85.1 237.3 92.6 319.2 94.2 207.7 88.6 255.3 83.3 292.7 86.1 221.7 83 285.3 92.7 295.5 77.6 226.2 81.9 234.9 81.3 196.9 79.1 262.6 93 247.8 77.8 210.1 86.1 311.3 85.7 261 78.8 219.4 89.3 200 89.5 192.3 92.1 263.7 92.9 289.1 93.4 286.3 81.3 245.1 94.6 189.1 92.9 288.7 81.9 219.7 93.7 249.4 94.8 272.2 86.2 221.8 89.6 199.9 82.1 205 93.6 261.6 77 202.7 89.8 292 91.4 219.7 87.9 260.5 82 286.5 78.7 246.1 93.2 254.9 87.8 323.9 94.4 313.5 81.7 197.9 91.3 200.6 91.5 223.5 87.9 247.7 93.9 288.4 93.6 321.2 91.4 222.7 87 197.3 84.7 262.4 90.3" fill="none" style="marker:url(#mn)"></path><path d="M323.5 80.5" fill="none" style="marker:url(#mgr)"></path><path d="M233.2 85.5 316.7 91.5 265.3 84.2 237.7 76.5 285.2 94.1 192.2 86.1 189 94.5 188.4 89.9 221 88 320.2 83.2 234 84.2 273.7 88.3" fill="none" style="marker:url(#mn)"></path><path d="M207 87.7" fill="none" style="marker:url(#mgr)"></path><path d="M235.9 82.7 234.8 92.1 284.9 90.5 270.6 93.4 260.1 90.7 282.1 90 294.7 80.2 294 90.7 310.9 88.3 226.3 81.4" fill="none" style="marker:url(#mn)"></path><path d="M265.7 92.3" fill="none" style="marker:url(#mgr)"></path><path d="M297.7 94.7 201.9 86.9 188.8 93.2" fill="none" style="marker:url(#mn)"></path><path d="M277.8 91.1" fill="none" style="marker:url(#mgr)"></path><path d="M299.5 91.6 269.4 78.7 259.7 81.1 276 89.2 204.2 76.5" fill="none" style="marker:url(#mn)"></path><path d="M198.6 83.9" fill="none" style="marker:url(#mgr)"></path><path d="M190.8 94.5 293.7 90.8 323.8 86.8 234.2 90.6 320.6 88 273.4 86.4 296.2 78.7 204.9 91 189.9 94.4 303.2 92.2 194.6 92 318.1 89.7 195.9 84.9 275.2 80.2 257.9 79.1 294.6 88.9 202.9 90.5 282.9 80.1 189.1 93.9 233.5 91.2 303.9 85.8 251.3 94.2 242.4 89.1" fill="none" style="marker:url(#mn)"></path><path d="M312 88.2" fill="none" style="marker:url(#mgr)"></path><path d="M324.4 90.5 253.5 94.2 298.6 89.1 270.8 81 215.8 93.5 315.9 91.8 266.4 92.6 225.8 83.2 236.2 88.7 275.6 73.2 312.4 84 257.8 91.1 190.3 94.6 263 88.9 309.1 82 238.8 90.1 197.4 85 245 92.7 242 89.7 314.7 81.7 314.3 93.5 193.5 87.3 322.4 89.3 316.2 89.5 323.1 91.7" fill="none" style="marker:url(#mn)"></path><path d="M220.9 91.2" fill="none" style="marker:url(#mgr)"></path><path d="M265.3 85.4" fill="none" style="marker:url(#mn)"></path><path d="M243.3 93.5" fill="none" style="marker:url(#mgr)"></path><path d="M245.9 93.6 205.9 79.7 310.4 85.1 238.6 86.4 208.8 82.6 252.5 94.2 275.6 87.3 207.7 82.1 279.6 85.9 221 85.6" fill="none" style="marker:url(#mn)"></path><path d="M246.8 91.6" fill="none" style="marker:url(#mgr)"></path><path d="M276.7 94 261.8 80.7 301 93.6 311.7 91 243.7 94.6 288.5 94.7 281.3 92.4 201.5 76.4 273.6 94.2 207 94.1 215.3 75.3 262.3 80.1 209.2 88.3 310.5 87 299.4 87.6 235.6 94.1 189 80.5 288.2 90 200.2 89 308.4 93.7 191.4 93.1 191.7 84.1 216.9 94" fill="none" style="marker:url(#mn)"></path><path d="M320.5 87.7" fill="none" style="marker:url(#mgr)"></path><path d="M278.4 88.8 196.8 94.2" fill="none" style="marker:url(#mn)"></path><path d="M268.8 83.7" fill="none" style="marker:url(#mgr)"></path><path d="M228.7 93.4 291.9 83.7 274.3 90.5 312.3 92.8 288.7 94.4 321.9 84 212.6 84 220.4 93.8 286.4 83.7 259.1 94.3 269.3 91.6 282.3 93.9 255 87.2 247.1 91.7 258.9 92.9 201.1 82.9 300.4 91.4 306.1 85.9 248.2 93.4 221.2 93.3 267.3 83.4 195.7 92.8 270.5 79.8 309.1 85.5 280.6 83.6 245.6 94.4 317.2 90.1 320.8 75 248.6 88.3 262.5 85.6 285.1 84.7 220.3 84.8 199.6 89.1 311.5 92.9 189.6 94.5 218.8 88.7 270.9 81.6 286.4 94.4 267.1 83 259.4 90.4 189.1 93.2 301.9 89.8 236.8 92.2 229.5 91.4 204.9 80.2 231.1 87.4 293.6 91.4 198.9 85.3 320.3 91.2 291.7 94.4 203.3 82.5 268.6 92.7 305.9 89.7 238.3 81.4 204.1 89.1 224.4 93.2 297.1 92.5 288.4 85.2 256.3 82.6 198.3 82.6 266.2 89.3 246.3 94.1 194.6 85.2 219.6 85.5 255 84.3 229.8 90.2 322.8 93.8" fill="none" style="marker:url(#mn)"></path><path d="M202 85.7" fill="none" style="marker:url(#mgr)"></path><path d="M211.8 82.1 306 90 205.3 94.7 324.3 90.8" fill="none" style="marker:url(#mn)"></path><path d="M290.8 90" fill="none" style="marker:url(#mgr)"></path><path d="M254.5 80.5 246.5 87.3 249.8 93.1 311.8 92.6 300.8 93.2 317.4 81.9 300.6 92.2 295.5 93.7 217.2 82.6 270.1 82.2 223.7 91.6 194.3 86.4 291.3 87.3 302.4 84.9 199.8 89.5 197.5 82 191 89.2 251.9 94.7 237 94.2 222.4 90.3 305.2 86.6 236.4 80.3 278.4 82 289.5 93 238.7 88.8 240.9 89 191.3 88 280.9 92.2 233.5 84.2 254.9 81.1 267.8 91.7 194.6 88.8 245.8 79.7 296.4 85.6 268.8 87.9 306.7 93.6 315.9 88.3 277.4 83.4 286.8 87.7 258.1 91.9 260.4 94.1 225.8 93.1 213 94" fill="none" style="marker:url(#mn)"></path><path d="M276 85.6" fill="none" style="marker:url(#mgr)"></path><path d="M246.2 93.3 319.4 81 242 92.4" fill="none" style="marker:url(#mn)"></path><path d="M272.5 80.6" fill="none" style="marker:url(#mgr)"></path><path d="M239.2 80 228.6 85.6 304.8 94.1 227.6 94.1 202.3 93.4 273.9 88.2 226.9 84 273.2 91.7 198 89.6 192.1 80.2 262.9 90 309.7 84.5 259.1 92.9 254.1 92.1 284.2 89.3 305.3 92.8 274 92.9 214.5 91.2 255.2 89.7 201.2 85.2 276.2 87 259.1 85.3 194.5 90.5 202.3 81 220.2 90.3 321.7 92.4 322.5 81 263.6 89.1 218.7 92.3 321.6 94.3 211.3 80.1 292.8 90.9 306.1 92.9 260 90.5 243.5 75.8 311.2 88.9 305 93.2" fill="none" style="marker:url(#mn)"></path><path d="M318.9 84.4" fill="none" style="marker:url(#mgr)"></path><path d="M203.3 92.6" fill="none" style="marker:url(#mn)"></path><path d="M225.8 82.6" fill="none" style="marker:url(#mgr)"></path><path d="M241.5 83.5 214.8 88.6" fill="none" style="marker:url(#mn)"></path><path d="M213.5 82.8" fill="none" style="marker:url(#mgr)"></path><path d="M205.1 87 193.1 90.1 321.4 86.2 283 86 301.1 82.6 240.5 87.1 268.4 93.9 297.8 83.4 269.9 92.6 195.9 84.6 189.5 89.4" fill="none" style="marker:url(#mn)"></path><path d="M257.1 85.4" fill="none" style="marker:url(#mgr)"></path><path d="M260.3 84.8 258.7 75.6 251.5 77.2 215.4 86.3 313.9 89.3 298.3 81.8 204.4 91.5 214.8 74.2 225 87.7" fill="none" style="marker:url(#mn)"></path><path d="M263.4 94.5" fill="none" style="marker:url(#mgr)"></path><path d="M259.2 94.6 292.9 83.9 293.5 92.4 203.5 77.1 323.6 92.2 315.6 86.7 219.3 93.9 277.5 94.6 281.7 80.4 254.7 92 257.7 92.3 273.9 93.9 217.2 84.9 314 89.6 219.5 91.7 274.3 90.7 212.1 94.6 255.3 84.2" fill="none" style="marker:url(#mn)"></path><path d="M297.7 90.2" fill="none" style="marker:url(#mgr)"></path><path d="M313.1 92.7 300.4 86.8 321.3 92.7 275.6 93 319.6 92.1 257.2 89.3 273.1 93.4 217.5 83.2 281.2 92.1 279.1 88.5 299.7 88.2 265 89.7 195.2 83.7 278.8 93 287.1 94.2 287.3 93.6 198.4 87.4 193.9 90.6 309.9 89.6 244.8 80.6 210.5 90.9 274 85.6 191.3 93.6 252 88.5 189.2 74.8 255.3 88.8 272.8 93.7 298.8 91.1 285.5 92 211.9 91.3 273.7 87.6 241.2 86.3 237.8 90.4 190.8 87.5 284.3 91 208.8 76.1 203.1 92.2 269.5 91.8 290.3 91.4 283.6 93.8 213.7 79.7 192.8 78.2 272.8 94.7" fill="none" style="marker:url(#mn)"></path><path d="M286.8 86.4" fill="none" style="marker:url(#mgr)"></path><path d="M272.9 89.1 231.7 83.5 277 86.1 251.9 92.4 203.2 91.8 302 78.8 317.6 94.2 218.1 88.6 229 91.2 231.2 80 206.5 90.4 316.3 78 264.2 88.4 191.6 78.4 294.7 85.3 292.9 92.5 312.3 77.6 198.6 94.7 320.3 88.4 213.9 92.5 196.1 87.3 243.8 78.8 207.1 89.6 197.2 91.9 263.1 88.7 247.6 93.4 320.4 89.6 211.9 92 227.4 88.3 321.7 75 210.4 92.3 312.4 88.2 290.6 85.7 225 85 256.9 93.6 294.3 81.1 227.2 83.4 268.7 79.5 219.8 84.9 268.7 92.1 268.4 92.1" fill="none" style="marker:url(#mn)"></path><path d="M261.1 91.3" fill="none" style="marker:url(#mgr)"></path><path d="M260.1 94.2 218.7 82.1 292.2 92.6 223.9 94.2 274.4 89.8 294.3 82.5 235.7 81.6 299.8 92.9 287.9 89.8 268.5 92.5 199.2 92.6 322 94.1 321.9 87.6 299.9 86.5 324 75.6 237.3 87.9 231.3 94.3 239.3 93.2 287.5 94.4 197.3 92.8 298.4 89.1 322.2 90.8 258.4 92.8 289.4 82.8 308.1 77.1 253.4 91.6 208 92.5 233.6 91.2 255.5 76 304.9 93.3 226.5 86 289.4 90.4 263 91.3 273 83 242 94.1 275.8 90.3 255.2 93.5 215.2 90.8 203.9 92.8 250.4 94.3" fill="none" style="marker:url(#mn)"></path><path d="M208.3 94.5 237.9 94.4" fill="none" style="marker:url(#mgr)"></path><path d="M210.2 91.2 286.7 93.4 319.4 88.7 284.8 72.9 292.1 84.5 248.2 90.9 311 84.8 278.9 94.5 304 84.9 295.9 89.9 231.2 86.9 223.6 80.4 243.6 84 277.4 92.6 200.9 89.1 288.5 82.9 260.4 84.7 314.2 88.2 312.4 86.4 297.3 92.9 237.6 78.5 218.2 83.1 314.6 89.9 320.6 86.9 273.3 88.9 193.2 85.3 302.9 88.4 314 74.9 242.5 84.6 259.3 88.5" fill="none" style="marker:url(#mn)"></path><path d="M251.7 92.6 291.4 83" fill="none" style="marker:url(#mgr)"></path><path d="M290.2 89.6 210.7 90.9 273.5 88 307.7 85 291.2 92.6 190.8 87.8 310.9 92.6 257.4 94.7 226.5 92.8 233.3 91.2 228 88.8 303.1 91 207.3 85 197.7 88.6 316.6 91.2" fill="none" style="marker:url(#mn)"></path><path d="M291.4 91.1" fill="none" style="marker:url(#mgr)"></path><path d="M268.3 75.4 249.1 93.9 229 81.8 308.6 92.4 298.2 92.6 280.3 71.5 223.3 92.4 281 88.6 201.9 94 233.8 93.8 276.4 90.3 292.2 86.8 200.7 91.9 196.7 94.8 260.5 92.3 235.3 94.3 293.9 72.6 192.8 83.2 269.6 81.3 248.6 94.3 194.1 93.5 222.2 94.7 238.7 87.1 260.9 93.6 211.4 94.4" fill="none" style="marker:url(#mn)"></path><path d="M279.9 83.7" fill="none" style="marker:url(#mgr)"></path><path d="M271.7 94.7 229.2 94.4 188.4 94.3 279.3 94.3 265.2 93.3 195.6 87.2 235.1 87.5 261 92.6 216 87.2 311.7 91.9 297.9 92.5 241.3 94.1 312.3 85.5 193.1 92.4 294 87.5 238.5 86.4 268.3 79.6 267.7 90.6 205.5 86.2 205 87.6" fill="none" style="marker:url(#mn)"></path><path d="M251.5 91.4" fill="none" style="marker:url(#mgr)"></path><path d="M302 87.1 264 94.5 213.7 93.8 275.3 94.1" fill="none" style="marker:url(#mn)"></path><path d="M214.9 91.7" fill="none" style="marker:url(#mgr)"></path><path d="M251.8 78.4 204.3 90.9 323.8 77.5 201.8 84.9 201.6 82.1 231 93.1 214.5 93.4 296.8 94.6 284.2 87.2 207.4 84.4 287.8 94.4 233.5 81.1 320.2 79.5 288.6 89.5 316.2 63.7 311.7 94.6 248.3 74.5 272.3 94.4 232.4 75.9 208.5 93.9 197.5 91.9 236.5 92.4 238 72.9 318.6 93.8 278.3 87.3 229.5 84.8 245.6 92.4 208.8 89.6 314.8 86.6 259.5 87.9 300.1 86.2 304.7 91.6 320.1 92.9 219.4 89.6 284.8 88.5 198.5 93.7 275.8 86 251.8 82.4 203.6 90.9 267.6 94.5 309 88.6 258.5 92.8 256.4 94.3 292 90.8 308.3 64.9 195.5 86.9 220.1 83.1 289.5 55.6 308.9 90.6 258.8 87.7 320.5 84.4 227.2 89.2 321.3 86.9 319.9 84.4 298.4 88.8 251.2 81.6" fill="none" style="marker:url(#mn)"></path><path d="M204.6 84.3" fill="none" style="marker:url(#mgr)"></path><path d="M200.8 93.3 285.3 85.6 212.1 89.1 263.6 93.9 221.9 78.5 247.7 88.9 207 88.4" fill="none" style="marker:url(#mn)"></path><path d="M262.2 94.6 305.1 91.5" fill="none" style="marker:url(#mgr)"></path><path d="M269.8 93.7 274.4 92.2 257.8 89.5 243.2 84.6 261.6 94.1" fill="none" style="marker:url(#mn)"></path><path d="M245 86" fill="none" style="marker:url(#mgr)"></path><path d="M244.2 94.2 305.5 88.4 310.4 66.3 228 92.9 258.3 79.2 267.2 87.6 297.2 92.4 200.1 75.7 191.3 94.1 248.6 94.2" fill="none" style="marker:url(#mn)"></path><path d="M323.4 87.5" fill="none" style="marker:url(#mgr)"></path><path d="M199.3 88.5 257.1 81.8 216.6 88.6 292 83.4 319.1 94.7 271.7 81.3 261.2 94.3" fill="none" style="marker:url(#mn)"></path><path d="M196.4 93" fill="none" style="marker:url(#mgr)"></path><path d="M305.1 75.5 271.9 90.9" fill="none" style="marker:url(#mn)"></path><path d="M320.9 94.1" fill="none" style="marker:url(#mgr)"></path><path d="M207.3 88.1 258.7 85.8 220.3 80.7 279.6 92.5 191.5 83.7 201.8 90.8 224.5 91.8 198 93.5 274.7 87.7 229 83.5 260.3 81.8 238.4 94.7 248.2 94.3 200.4 86.4 269.5 90 243.3 91.2 202.8 94.1 191.5 89.7 200.8 93.2 293.2 93.8" fill="none" style="marker:url(#mn)"></path><path d="M289.9 83.3" fill="none" style="marker:url(#mgr)"></path><path d="M234.2 94.7 207.1 83.5 245.2 89 313.6 91.7 294.3 91.6" fill="none" style="marker:url(#mn)"></path><path d="M246.4 93.2" fill="none" style="marker:url(#mgr)"></path><path d="M258.9 90.2 298.3 94" fill="none" style="marker:url(#mn)"></path><path d="M189.2 77.1" fill="none" style="marker:url(#mgr)"></path><path d="M189.7 69.1 261 86.1" fill="none" style="marker:url(#mn)"></path><path d="M269.1 94.7" fill="none" style="marker:url(#mgr)"></path><path d="M292 82.2 294.9 80.8 279 93.8 301.9 92.4 304.4 89.4 318.3 84.4 239.7 91.8" fill="none" style="marker:url(#mn)"></path><path d="M190.5 91.6" fill="none" style="marker:url(#mgr)"></path><path d="M234.1 81.2 281.4 93.7 231.1 90.3 315.2 93.7 195.9 89.6 247.8 93.9 234.9 87.7 247.9 89.1 269.2 92 203.6 94 296.6 93.6 223.1 92 201.5 94.7 269.6 80.8 200.7 90.2" fill="none" style="marker:url(#mn)"></path><path d="M211.8 87" fill="none" style="marker:url(#mgr)"></path><path d="M298.8 89.2 281 90.1 255 65.5 255.3 76.8 259 78.2 290 83.9 271.5 90.5 207.9 84 242.6 82.7 312.6 85.3 274.7 71 309.1 91.5 251.2 86.3 292.5 90.7 323.7 92.3 297.4 86.6 230.4 88.5 212.7 91.4 263.3 91.8 318.9 94.8 206.8 69.9 251.8 91.7 211.9 94.7 251.6 93.1 307.5 87.9 319.4 93.8 277.1 90.8 317 83.6 244.8 68.8 231.3 85.8 239.1 94.7 215.4 93.4 276.4 93.3 285.3 85 292.4 89.2 311.6 83.9 226.5 86.5 295.8 70.7 213.5 90.2 199.7 90.6 213.4 91.2 197.4 84.4 304.5 92.6 203.5 78.9 246.7 88.8 233.2 94.6 262 94.1 266 91.5 298.7 91.6 191.1 91.5 283.1 90 255.8 94.8 219.1 91.6 197.8 88.3 241.7 91.8 236 87.3 301.9 94.7 282.5 92.9 318.4 91.3 206.1 84.1 209.8 90.6 206.4 92.7 264.9 84.4 230.4 75.1 314.2 93.9 188.6 88.7 310.6 94.1 248.5 78.9 322.5 93.7 199 93.4 261.3 93.3 251.6 90.8 230.6 89.3 267.1 84 315.8 94.2 201 86 229.9 90.8 242.5 87.7 290.6 91.2 253.3 89 227.4 92.8 219.4 89.1 306.2 80.2 250.3 73 194.9 83.4" fill="none" style="marker:url(#mn)"></path><path d="M218.2 90.7" fill="none" style="marker:url(#mgr)"></path><path d="M254.5 85.9 205.6 80.5 285.1 87.8 305 92.7 303.7 75.6 224.6 71.5 217.8 71.7 220.1 70.8 223.1 70.6 223.6 71.4 221.6 71.5 220.4 71.3 224 71.7 216.5 71.3 225.2 69.7 230 26.9 248.1 49 248.5 51.6 251.3 56 248.5 57.2 242.1 58.9 258.5 63.2 305.4 60.6 303.6 66 283.2 66 285.8 65.5 270.2 68.3 298.4 69.1 291.1 70.7 318.5 71 229.9 49.8 230.5 52.7 231.9 55 241.8 58.5 229.9 63.1 232.2 66.6 223.5 64.8 201.9 71.2 245.3 68.3 248.4 70 251.8 71.2" fill="none" style="marker:url(#mn)"></path><path d="M192 58.8 235.9 67.5 211.4 72.3 212 74.1 206 76.4" fill="none" style="marker:url(#mgr)"></path><path d="M258.5 70.2 257.7 75 256.8 83.7 247 72" fill="none" style="marker:url(#mlb)"></path><path d="M256 51.6 256.8 50.9 255.4 52.5 256.5 52" fill="none" style="marker:url(#mg)"></path><path d="M244.7 37.4 245.9 41.6 249.9 36.4 251.3 33.4 253.9 36.5 248.5 53.4" fill="none" style="marker:url(#mo)"></path><path d="M247.8 25.1 252.1 32 248.1 36.9 257.3 35.7" fill="none" style="marker:url(#mr)"></path><path d="M256.3 19.65L257.70 21.3L256.3 22.95L254.89 21.3Z" fill="#8a2be2" stroke="#502080" stroke-width="0.4"></path></g></g><rect x="187.6" y="0.6" width="137.00" height="98.60" fill="none" stroke="#979797" stroke-width="1"></rect><line x1="184.6" x2="187.6" y1="94.8" y2="94.8" stroke="#979797" stroke-width="0.8"></line><text x="182.4" y="97.6" font-size="7" text-anchor="end" fill="#222">0</text><line x1="184.6" x2="187.6" y1="75.08" y2="75.08" stroke="#979797" stroke-width="0.8"></line><text x="182.4" y="77.88" font-size="7" text-anchor="end" fill="#222">2</text><line x1="184.6" x2="187.6" y1="55.36" y2="55.36" stroke="#979797" stroke-width="0.8"></line><text x="182.4" y="58.16" font-size="7" text-anchor="end" fill="#222">4</text><line x1="184.6" x2="187.6" y1="35.64" y2="35.64" stroke="#979797" stroke-width="0.8"></line><text x="182.4" y="38.44" font-size="7" text-anchor="end" fill="#222">6</text><line x1="184.6" x2="187.6" y1="15.92" y2="15.92" stroke="#979797" stroke-width="0.8"></line><text x="182.4" y="18.72" font-size="7" text-anchor="end" fill="#222">8</text><line x1="324.6" x2="327.6" y1="94.6" y2="94.6" stroke="#b4b4ff" stroke-width="0.8"></line><text x="329.40" y="97.1" font-size="7" text-anchor="start" fill="#7878ff">0</text><line x1="324.6" x2="327.6" y1="73" y2="73" stroke="#b4b4ff" stroke-width="0.8"></line><text x="329.40" y="75.5" font-size="7" text-anchor="start" fill="#7878ff">20</text><line x1="324.6" x2="327.6" y1="51.39" y2="51.39" stroke="#b4b4ff" stroke-width="0.8"></line><text x="329.40" y="53.89" font-size="7" text-anchor="start" fill="#7878ff">40</text><line x1="324.6" x2="327.6" y1="29.79" y2="29.79" stroke="#b4b4ff" stroke-width="0.8"></line><text x="329.40" y="32.29" font-size="7" text-anchor="start" fill="#7878ff">60</text><line x1="324.6" x2="327.6" y1="8.19" y2="8.19" stroke="#b4b4ff" stroke-width="0.8"></line><text x="329.40" y="10.69" font-size="7" text-anchor="start" fill="#7878ff">80</text><rect x="187.6" y="104" width="137.00" height="24.30" fill="none" stroke="#979797" stroke-width="1"></rect><path d="M210.7 106.19h2.6M210.6 106.19l1 -0.6v1.2z" stroke="#444" stroke-width="0.55" fill="#444"></path><text x="213.9" y="107.3" font-size="3.4" font-style="italic" fill="#484848" textLength="10.90" lengthAdjust="spacingAndGlyphs">MIR4432</text><rect x="216" y="108" width="1" height="1.2" fill="#3030d0"></rect><path d="M275.2 106.19h2.6M277.9 106.19l-1 -0.6v1.2z" stroke="#444" stroke-width="0.55" fill="#444"></path><text x="264.7" y="107.3" font-size="3.4" font-style="italic" fill="#484848" textLength="9.90" lengthAdjust="spacingAndGlyphs">PAPOLG</text><rect x="266" y="108.39" width="6" height="0.45" fill="#5050e0"></rect><rect x="266" y="108" width="1" height="1.2" fill="#3030d0"></rect><rect x="270.5" y="108" width="1.5" height="1.2" fill="#3030d0"></rect><path d="M284.2 106.19h2.6M284.1 106.19l1 -0.6v1.2z" stroke="#444" stroke-width="0.55" fill="#444"></path><text x="287.4" y="107.3" font-size="3.4" font-style="italic" fill="#484848" textLength="4.90" lengthAdjust="spacingAndGlyphs">REL</text><rect x="285" y="108.39" width="6" height="0.45" fill="#5050e0"></rect><rect x="285" y="108" width="1" height="1.2" fill="#3030d0"></rect><rect x="289.5" y="108" width="1.5" height="1.2" fill="#3030d0"></rect><path d="M307.9 106.19h2.6M310.59 106.19l-1 -0.6v1.2z" stroke="#444" stroke-width="0.55" fill="#444"></path><text x="299.8" y="107.3" font-size="3.4" font-style="italic" fill="#484848" textLength="7.5" lengthAdjust="spacingAndGlyphs">PEX13</text><rect x="301" y="108.39" width="5" height="0.45" fill="#5050e0"></rect><rect x="301" y="108" width="1" height="1.2" fill="#3030d0"></rect><rect x="304.5" y="108" width="1.5" height="1.2" fill="#3030d0"></rect><text x="226.9" y="113.5" font-size="3.4" font-style="italic" fill="#484848" textLength="13.29" lengthAdjust="spacingAndGlyphs">BCL11A</text><rect x="226.9" y="114.6" width="13.29" height="0.45" fill="#5050e0"></rect><rect x="226.9" y="114.2" width="1" height="1.2" fill="#3030d0"></rect><rect x="238.7" y="114.2" width="1.5" height="1.2" fill="#3030d0"></rect><path d="M274.5 112.39h2.6M274.40 112.39l1 -0.6v1.2z" stroke="#444" stroke-width="0.55" fill="#444"></path><text x="277.7" y="113.5" font-size="3.4" font-style="italic" fill="#484848" textLength="14.60" lengthAdjust="spacingAndGlyphs">LINC01185</text><rect x="280" y="114.2" width="2" height="1.2" fill="#3030d0"></rect><path d="M320.09 112.39h2.6M322.79 112.39l-1 -0.6v1.2z" stroke="#444" stroke-width="0.55" fill="#444"></path><text x="307.6" y="113.5" font-size="3.4" font-style="italic" fill="#484848" textLength="11.89" lengthAdjust="spacingAndGlyphs">KIAA1841</text><rect x="309" y="114.6" width="9" height="0.45" fill="#5050e0"></rect><rect x="309" y="114.2" width="1" height="1.2" fill="#3030d0"></rect><rect x="316.5" y="114.2" width="1.5" height="1.2" fill="#3030d0"></rect><path d="M296.59 118.89h2.6M299.29 118.89l-1 -0.6v1.2z" stroke="#444" stroke-width="0.55" fill="#444"></path><text x="293.3" y="120" font-size="3.4" font-style="italic" fill="#484848" textLength="2.69" lengthAdjust="spacingAndGlyphs">PUS10</text><rect x="291" y="121.1" width="9" height="0.45" fill="#5050e0"></rect><rect x="291" y="120.7" width="1" height="1.2" fill="#3030d0"></rect><rect x="298.5" y="120.7" width="1.5" height="1.2" fill="#3030d0"></rect><path d="M320.09 118.89h2.6M322.79 118.89l-1 -0.6v1.2z" stroke="#444" stroke-width="0.55" fill="#444"></path><text x="310.7" y="120" font-size="3.4" font-style="italic" fill="#484848" textLength="8.80" lengthAdjust="spacingAndGlyphs">C2orf74</text><rect x="322" y="120.7" width="1" height="1.2" fill="#3030d0"></rect><path d="M306.8 125h2.6M306.70 125l1 -0.6v1.2z" stroke="#444" stroke-width="0.55" fill="#444"></path><text x="310" y="126.10" font-size="3.4" font-style="italic" fill="#484848" textLength="14" lengthAdjust="spacingAndGlyphs">AHSA2</text><rect x="320" y="126.80" width="1" height="1.2" fill="#3030d0"></rect><line x1="187.7" x2="187.7" y1="128.3" y2="131.3" stroke="#979797" stroke-width="0.8"></line><text x="187.7" y="139.5" font-size="7" text-anchor="middle" fill="#222">60.4</text><line x1="215" x2="215" y1="128.3" y2="131.3" stroke="#979797" stroke-width="0.8"></line><text x="215" y="139.5" font-size="7" text-anchor="middle" fill="#222">60.6</text><line x1="242.8" x2="242.8" y1="128.3" y2="131.3" stroke="#979797" stroke-width="0.8"></line><text x="242.8" y="139.5" font-size="7" text-anchor="middle" fill="#222">60.8</text><line x1="270.2" x2="270.2" y1="128.3" y2="131.3" stroke="#979797" stroke-width="0.8"></line><text x="270.2" y="139.5" font-size="7" text-anchor="middle" fill="#222">61</text><line x1="297.8" x2="297.8" y1="128.3" y2="131.3" stroke="#979797" stroke-width="0.8"></line><text x="297.8" y="139.5" font-size="7" text-anchor="middle" fill="#222">61.2</text><text x="260.8" y="150" font-size="7" text-anchor="middle" fill="#222">Position on chr2 (Mb)</text><text x="192" y="15.39" font-size="14" font-weight="bold" fill="#000">b</text><text x="255.8" y="19" font-size="5.7" text-anchor="middle" fill="#000">rs148261157</text></g><g><clipPath id="cc"><rect x="363.9" y="1.1" width="134.8" height="98.2"></rect></clipPath><g clip-path="url(#cc)"><line x1="420.4" x2="420.4" y1="32.7" y2="95.3" stroke="#6f6fff" stroke-width="1"></line><line x1="422.3" x2="422.3" y1="19.8" y2="95.3" stroke="#6f6fff" stroke-width="1"></line><line x1="431.4" x2="431.4" y1="43.9" y2="95.3" stroke="#6f6fff" stroke-width="1"></line><line x1="436.3" x2="436.3" y1="52.5" y2="95.3" stroke="#6f6fff" stroke-width="1"></line><g><path d="M415.9 87.1 414 81.2 430.9 86.4 470.3 93 465.3 93.1 498.7 80.2 462.8 95.1" fill="none" style="marker:url(#mn)"></path><path d="M374.1 79.7" fill="none" style="marker:url(#mgr)"></path><path d="M470.8 93.9 464.3 87.8 476.4 95.1 428.2 80.2 427.4 93.7" fill="none" style="marker:url(#mn)"></path><path d="M432.6 94 419.6 89.9" fill="none" style="marker:url(#mgr)"></path><path d="M443.7 93.1 492.9 86.3 479.1 94 493.2 92.1 476.4 83.2 445.3 79.1 492.2 95.2 383.3 86.7 412.2 82.6 463.5 94 494.5 87 449 88.8 416.2 86.7 493.1 92.5 371.3 88.8 488.7 88 441.2 86.3" fill="none" style="marker:url(#mn)"></path><path d="M478.4 89.5" fill="none" style="marker:url(#mgr)"></path><path d="M496.7 89.9 389 78" fill="none" style="marker:url(#mn)"></path><path d="M388.1 95" fill="none" style="marker:url(#mgr)"></path><path d="M439.9 94.5 418.7 91.1 440.7 88.1 471.9 87.9 380.4 82.9 411.1 91.8 366.4 80.5" fill="none" style="marker:url(#mn)"></path><path d="M397.7 93.1" fill="none" style="marker:url(#mgr)"></path><path d="M443.5 88.3 430.6 93.4 382.6 91.7 432.3 90.7 438.3 91.2 394.3 88.2 458.2 94.1 476.1 90.4 457.7 82.5 405.7 90.1 385.3 84.4 421.3 92.5 461.4 94.6 445 89.6 389.6 90.4 413 92.7 379.2 89.6 395.8 89.3 374.1 91.1 375.7 91.6 419.2 94.3 450.1 84.1 453.5 91.7 494.9 92.2 380.4 78" fill="none" style="marker:url(#mn)"></path><path d="M382.4 89.8" fill="none" style="marker:url(#mgr)"></path><path d="M450 92.2 463.6 90.4 426.6 89.5 385.8 94.1 445.9 94.7" fill="none" style="marker:url(#mn)"></path><path d="M374.3 91.1" fill="none" style="marker:url(#mgr)"></path><path d="M482.6 93.9 480.9 94.9 417.3 88 450.6 89.7 486.4 87.6 412.7 86.5 399.9 84.2 385.9 87.1 400.2 90.8 492.2 91.2 497.4 90.8 368.4 86.4 365.7 94.9 366.3 84.8 386.8 81.5 466 93.4 466.4 94.2 398.2 85 471.5 86.7" fill="none" style="marker:url(#mn)"></path><path d="M451.4 81.9" fill="none" style="marker:url(#mgr)"></path><path d="M444.5 94.9 418.8 86.3 462.1 90.2 419.8 80.3 410.3 93.9 409.1 87.3 416.3 92.5" fill="none" style="marker:url(#mn)"></path><path d="M380.1 87.6" fill="none" style="marker:url(#mgr)"></path><path d="M389.3 88.5 466.3 81.6 445.4 93.6 413.6 95.2 377.6 84.5 456.9 95.2 496.3 92.2 464.2 92.2 426.1 84.9 458.2 93 459.7 92.9 405.5 87.7 463 92.8 411 93.7 438.8 88 459.8 94.2 430.1 91.8 430.8 89.8 413.5 93.9 366.5 91.9 425.7 93.8 370.2 94.7 496.6 91.7 461.7 90.2 433 91.4 418.5 94.7 432.3 79 404.3 83.9 448.3 91.7 393.2 92.2 463.3 91.2 405.2 94.7 479 86.6 438 79.4 497.4 86.7 413.6 93.8 475.2 83 412.4 90.3 396.5 90.6 428.3 91 376.7 91.4 451.8 83.2 413.7 89.8 466.7 88.4 492.6 94 461.3 94.9 371.1 85.9 407.7 86.7 411.6 85.1 476.4 91.4 488 94.5 429.7 84.6 381.3 92.2 483.2 87.8 364.4 86.7 369.5 83.7 434.4 93.2 485.2 89 493.5 89.4 410.2 87.5 472.5 91 432 94.6 464.4 87.4 382.3 84.2" fill="none" style="marker:url(#mn)"></path><path d="M430.4 86.8" fill="none" style="marker:url(#mgr)"></path><path d="M398.9 92.2 446.7 83.6 386.5 85.9 464.7 92.9 463.3 86.5 482 89.4 465.9 92.4 447.9 86.6 494.1 81.6 384.7 92.9 428.9 90 482.7 84.3" fill="none" style="marker:url(#mn)"></path><path d="M378.7 84.7 416.5 94.7" fill="none" style="marker:url(#mgr)"></path><path d="M418.3 87.3 480.5 92.6 376.1 85 460.7 91.5 388.8 82.2 374.9 81.4 468.9 90.6 466.7 88.5 462.1 79.3 374.4 87.7 417.4 88.3 442.5 90 423.5 94.9 375.9 92.8" fill="none" style="marker:url(#mn)"></path><path d="M497.6 86.6" fill="none" style="marker:url(#mgr)"></path><path d="M460.5 87.9 424.3 94.3 495.1 90.3 496.5 90.1 487.2 85.8 397.1 95.2 417 94.3" fill="none" style="marker:url(#mn)"></path><path d="M481.1 94.2" fill="none" style="marker:url(#mgr)"></path><path d="M470.3 91.1 364.8 88.6 476.3 87.2 413.3 79.7 476.5 86.7 397.2 88.3 445.6 94.4 385.4 90.9 479.8 86.8" fill="none" style="marker:url(#mn)"></path><path d="M460.1 89.5" fill="none" style="marker:url(#mgr)"></path><path d="M404.2 85 471.2 90.7 468.7 85.4 402.3 78.7 448.2 93 391.1 83.4 405.1 94.6 435.2 92.3 444.1 87.2 422.6 85.4 391.9 91.8 434.1 92.9 386.9 93.8 481.1 92.2 468.9 89.9 427.9 93.8 454.9 86.5 422.3 85.4 462.3 92.8 369.8 91.6 456.4 90.9 496.9 79.3 463.6 91.7 368.3 95.1 372.7 89.8 374.2 93.5 401.6 94.3 407.1 83.4 367.9 94.6 382.4 90.1 427.1 93.3 385.6 88.5 438.2 89.4 424.4 94.9 365 81 429.7 90.5 475.4 91.1" fill="none" style="marker:url(#mn)"></path><path d="M455.7 89.1 422.6 86.3" fill="none" style="marker:url(#mgr)"></path><path d="M373.4 90.4 432.7 93.5 460.5 86 461.4 90.5 383.5 94.6 401.5 84.1 450.3 87.9 424.6 94" fill="none" style="marker:url(#mn)"></path><path d="M441.9 76.5" fill="none" style="marker:url(#mgr)"></path><path d="M482.5 86.3 414.5 94.1 388.7 86.2 488.7 80 429.6 85.3 434.2 86.7 446.4 95 427.1 93.2" fill="none" style="marker:url(#mn)"></path><path d="M486 93.4" fill="none" style="marker:url(#mgr)"></path><path d="M468.1 90.9" fill="none" style="marker:url(#mn)"></path><path d="M457.4 94.1" fill="none" style="marker:url(#mgr)"></path><path d="M379.6 92.8 492.2 93.6 370.1 89.9 419.9 92.2 404.8 84.3 487.1 89.3 387 75 443.9 93.5" fill="none" style="marker:url(#mn)"></path><path d="M376.1 94.4 470.4 78.4" fill="none" style="marker:url(#mgr)"></path><path d="M444.3 86.8 421.3 86.9 447.5 86.3 469.4 95 395.8 95.2 471.1 92.6 458.6 92.9 396 87.8 451.1 75 498.2 83 371.4 82.8 391.6 93.5 380.1 95.1 395 90.6 384.5 88.1 368.7 91.4 449.2 85.6 394.7 93.8 476.1 92.9" fill="none" style="marker:url(#mn)"></path><path d="M475.8 90.4" fill="none" style="marker:url(#mgr)"></path><path d="M392.4 94.7 482.6 91 428.7 93.4 413.3 75.7 494.6 94.7 457.3 94.2" fill="none" style="marker:url(#mn)"></path><path d="M482.2 91.4" fill="none" style="marker:url(#mgr)"></path><path d="M444.9 83.2 485.7 91.5 417 89.2 414.7 95.1 369 95.1 379.2 92.2 472.9 85.2 373.4 91.4 389.5 80.5 418.3 80.7 417.6 93.3 413.4 91.3 472.5 92.1 379.1 94.1 480 94.9 380.1 88.9 424 79.8 382.6 94.1 397.8 94 397.3 94.4 403.9 90.8" fill="none" style="marker:url(#mn)"></path><path d="M454.4 91.3" fill="none" style="marker:url(#mgr)"></path><path d="M456.8 95.2 381 90.5 487.9 89.4 410.6 86.6 426.1 94.1 426.6 86 460.7 84.6 403.5 80.7 386.8 94.4 472.7 86.7 497.2 92.6 463.2 89.2 400.1 95 481.2 93.7" fill="none" style="marker:url(#mn)"></path><path d="M370.9 92.5" fill="none" style="marker:url(#mgr)"></path><path d="M415.6 90.7 406.2 93.2 377.8 85.8 487.8 91.6 393.4 80.9 405.7 92.7 461.3 91.4" fill="none" style="marker:url(#mn)"></path><path d="M438.6 89.5" fill="none" style="marker:url(#mgr)"></path><path d="M408.7 86.1 367.9 88.5 495.1 93.6 366.1 92.1 451 94.2 406.9 94.9 377 95 448.6 84.2 476.1 85.3 403.1 89.3 405.4 92.4 498.1 85.4 379.4 77.8 436.6 87.6 472.3 94.3 394.9 89.2 434.7 89.8 469 92.3 416.2 90.8 377.1 94.5 436.5 95.2 388.9 79.5 393.8 95.1 492.6 91.5 497.1 85.9 402.5 75.5 422.3 94.6" fill="none" style="marker:url(#mn)"></path><path d="M441.4 88.7" fill="none" style="marker:url(#mgr)"></path><path d="M378.2 91.7 471.7 93.2 490.1 92.2 386.8 86.1" fill="none" style="marker:url(#mn)"></path><path d="M457.9 88" fill="none" style="marker:url(#mgr)"></path><path d="M396.6 87.8 404.7 93.5" fill="none" style="marker:url(#mn)"></path><path d="M401.1 84" fill="none" style="marker:url(#mgr)"></path><path d="M469.1 90.7 373.5 93.8 446 92.4 371.1 89.2 398 82.5 380.4 91.1 386.2 92.4 414 85.7 493.2 91.3 463.2 89 411.5 89.1 490.8 90.9 399.8 84.4 385.7 85.4 463.9 93.9 363.7 88.2 454.4 90.6 428 92.1 457 91.1 426.6 89.9 422.4 78.5 395.2 78.6 492.2 91 393.9 77.8 443 90.8 472.4 95.1 499 78.9 467.5 84.4 493.9 89.4 453.6 90.3 462.7 78 435.3 84.6" fill="none" style="marker:url(#mn)"></path><path d="M486.4 92.6" fill="none" style="marker:url(#mgr)"></path><path d="M465.1 94.3 375.9 92.2 449.1 93.2 393.9 87.5 396.2 85.7 403.8 79.6 467.9 85.4 444.6 86.1 447.1 88.6 370.4 94.2" fill="none" style="marker:url(#mn)"></path><path d="M469.7 92.8" fill="none" style="marker:url(#mgr)"></path><path d="M441.3 92.7 436.8 91.9 367.8 81.2 409.2 77 479.1 84.6 388.4 94.9 470.7 85.9 493.3 87.2 376.7 94.3 365.2 91.8 364.4 86.1 486.4 88.4 378.7 89.2 451.5 89.4 406.7 90.8 423.9 92.7 370.3 89.5 436.8 84.3 393.9 80.1 486.5 93.8 381.2 94.6 364.2 89.2 496.4 84.9 433 92.9 379 83.9 396.3 88 423.1 82.3 431.4 90.9 489.7 94.9 443.4 94.1 417.2 95.1 370.6 93.8 376.7 95.1 445.4 89.3" fill="none" style="marker:url(#mn)"></path><path d="M473.4 93.9" fill="none" style="marker:url(#mgr)"></path><path d="M435.7 93.3" fill="none" style="marker:url(#mn)"></path><path d="M370 91.6" fill="none" style="marker:url(#mgr)"></path><path d="M378 83.5 391.9 74.9" fill="none" style="marker:url(#mn)"></path><path d="M478.9 89.5" fill="none" style="marker:url(#mgr)"></path><path d="M467 90.9 420.7 87.4 410.8 89.9 486.7 93.6 412.8 94.1 441.7 93.2 377.6 79.6 460.3 75.5 395.3 93.2 454.5 91.2 422.1 94.6 461.7 94.5 468.5 95.1 435.8 83.9 455.1 84.7 382 92 465.3 88.5 408.2 89 400.5 74.6 386.3 77.8 387.7 72.7 401.7 75.9 404.4 81.2 473.9 78.6 465.3 87.1 497.7 94.6 470.7 92.8 398.7 95.2 466.5 91 472.9 92.2 459.3 88.5 460.6 91.9 376.1 92.7 450.2 90.1 434.6 91.6 464 94.9 386.8 84.9 466.4 92 382 95.2 409.8 84.6 366.7 84.5 424.5 80.1 428.8 95 486.1 81.5 478.7 94.7 400.3 79" fill="none" style="marker:url(#mn)"></path><path d="M459.3 86.5" fill="none" style="marker:url(#mgr)"></path><path d="M466.2 90.8 486.2 85.7 425.2 86.8 466.9 83.6 435.8 85.1 378 93.8 455.2 87.5 487.8 91.8 403.7 87.8 441.7 94.1 433.5 91.8 390.8 94.5 486.3 90.1 412.4 93.2 472.6 91 486 91.8 405.1 77.8 374.6 94.3 481.5 82.5" fill="none" style="marker:url(#mn)"></path><path d="M383.1 93.2" fill="none" style="marker:url(#mgr)"></path><path d="M413.5 86 434.5 92.5 441 95 485.4 93.2 469.3 93.8 492.5 87.8 398.5 94.2 408.7 93.1 461.4 90.3 490.6 91.8 394.8 93.5" fill="none" style="marker:url(#mn)"></path><path d="M497.3 93.6" fill="none" style="marker:url(#mgr)"></path><path d="M451.5 88.9 377.9 86.3 442.3 94.9 383.6 89.9 386.6 87.8 375.5 87.2 406.6 94.9 452 94.5 407.2 88.2 380.6 80.2 386 83.5 430.1 93.8" fill="none" style="marker:url(#mn)"></path><path d="M406.7 76.4" fill="none" style="marker:url(#mgr)"></path><path d="M392.4 80 407.6 92.9 485.3 94.5 385.9 85 397.2 91.7 411.2 94.5 435.9 85.5 473.1 90.2 456.5 76.4 394.3 80 466.4 89.7 379.5 87.9 497.2 95 368.5 89.9 364 80.1 395.6 84.8 434.2 84 496.5 92.1 462.4 86.8 475.8 87.6 462.7 90.4 382.6 77.5 434.7 92.1 453.3 94 423.8 94.6 382.4 94.4 428.7 81.9 441.6 78.9" fill="none" style="marker:url(#mn)"></path><path d="M428.3 94.9 425.2 94.3" fill="none" style="marker:url(#mgr)"></path><path d="M456.2 95.2 443.9 93 447.5 94.4 458 95 491.7 90.3 432.5 85.6 376.4 95 497.7 84.3 489 89.8 397.4 92.6 458.3 91.1 456.7 94.3 443.1 89.8 418.3 77 386 92.1 371 91.9 388.5 92.6 416.1 87.8 491.9 90.4 413.2 76.6 368.9 91.7 428.9 91.3 442.5 93.5 427.5 91.2 381 88.2 439.4 94.5 456 90.3 395.9 94.8 412.3 94.3 439.9 92.2 455.7 94.8 479.4 92 378.4 81.4 485.8 92.7 466.7 85.5 445.9 91.2 483 91.9 469.7 79.2 418.4 87.3 467 95 488.3 85.2 389 87.6" fill="none" style="marker:url(#mn)"></path><path d="M377.5 94.6" fill="none" style="marker:url(#mgr)"></path><path d="M488.9 93.8" fill="none" style="marker:url(#mn)"></path><path d="M465.8 89.8" fill="none" style="marker:url(#mgr)"></path><path d="M489.1 81.2 382.8 95.1 449.7 80 438.2 89.9 427.5 83.7 448.8 89.9 434.9 93.2" fill="none" style="marker:url(#mn)"></path><path d="M439.6 83.4" fill="none" style="marker:url(#mgr)"></path><path d="M476.5 92.7 408.4 92.1 467.9 94.2 426 92.9 363.8 81.3 382.2 92.9 463.5 93.3 381.2 77.1 486.9 84.7 385.2 87.5 414.6 77.4 497 83 446.1 83.2 471.8 91.2 419.5 77.7 436.1 90.5 415.8 90.6 469.6 85.2 438.7 95.2 423.1 88.5 429.6 84.7 435.5 95.2 480.4 84 400.7 81.5 397.4 79.5 405.6 74.8" fill="none" style="marker:url(#mn)"></path><path d="M474.8 95.1" fill="none" style="marker:url(#mgr)"></path><path d="M440.3 86.8 446.4 89.9 430.7 78.7 467.1 82.2 404.1 83.2 461.4 80.9 477.7 92.4 417.1 90.9 417.7 94.9 428.5 90.5 433.7 92.5 389 90.7 395.5 90.5 424.7 89.3 455.8 92.8 472.6 91.8 369.7 94.2 388.8 90.4 441.3 93.2 476.4 89 462.7 78.1 478.6 90 456.6 81.3 405.6 84.5 483.8 83.8 417.8 92.4 497.5 89.4 413.2 90.5 381.3 92.5 389.3 93.4 381.3 75.7 374.2 94.6 398.6 90.3 485.3 82.1 420.3 94.7 414.7 91.4 493.2 84.5 439.7 92.3 493.7 86.1 471.2 94.6 471.4 92.5 454.8 82.6 384.4 92.4 425.1 91.2 452.3 81.1 407 94.7 402.4 93.5 432.1 93 367 88.1 424.6 91.5 401.3 93 412.1 92.7 368.8 93.9" fill="none" style="marker:url(#mn)"></path><path d="M466.7 77.3" fill="none" style="marker:url(#mgr)"></path><path d="M480.8 86.1 465.1 74.9 391.8 86.9 369.7 87.5 453.8 81.6 462.9 95 479 90.2 365 92.8 395.5 81.3 465.7 88.8 488.8 90.2 400.6 92.7 409.4 78.6 402.8 89.4 479.5 87.3 391.1 91.9 437.1 92.7" fill="none" style="marker:url(#mn)"></path><path d="M459.6 86.4 486.5 92.8" fill="none" style="marker:url(#mgr)"></path><path d="M458.2 87.8 433.3 88.8 469.3 83.6 482.6 86.4 489.7 93.6 481.9 92.2 413.5 91.1 391.4 88.1 480.4 95.2 468.9 91.1 494.1 95.1 390.8 84.3 473.2 93.9 472.7 88.4 368.1 86.5 391.2 95 444.6 90.8 498.6 90.9 448.5 94 450.4 89.1 418.4 81.1 491.3 92.1 476.6 87.1 492.7 91.4 392.5 94.6 449.1 91.2" fill="none" style="marker:url(#mn)"></path><path d="M423.1 86.7" fill="none" style="marker:url(#mgr)"></path><path d="M461.3 90.7 372.4 83 381.6 85.7 471.9 95 397.6 87.1 371.9 87 364.7 94.9 371.1 89.7 469.3 93.8 370.2 91.3 403.3 90.8 456.4 87.4 492.8 94.4 370 79.5 482.4 86 490.5 93.2 482.5 93.2" fill="none" style="marker:url(#mn)"></path><path d="M454.9 90.4" fill="none" style="marker:url(#mgr)"></path><path d="M424.8 93.8 489.3 91.8 484.5 85 484.3 84.2 465.4 93.9 418.6 93 378.9 91.6 499.2 82.5 409.7 92.9 365.1 83.8 465.9 91.7 454.3 89 401.3 88.8" fill="none" style="marker:url(#mn)"></path><path d="M449.1 87" fill="none" style="marker:url(#mgr)"></path><path d="M423.5 94.3 400.3 95.1" fill="none" style="marker:url(#mn)"></path><path d="M404.6 86.7" fill="none" style="marker:url(#mgr)"></path><path d="M413.9 89.3 364.7 82.5 442.1 89.9 369.5 80.1 478.8 86.1 424.5 83 487.9 91.2 382.7 79.5 383.4 93.6 410 93.7 427.1 83.2 363.8 89.9 370.9 93.3 494.8 82.7 388.6 90.2 433.6 93.8 375.4 85.4 457.4 92 387.5 84 457.2 93.5 439.5 90.4 437.2 87.3 417.8 88 498 93.4 459.4 88.9 417.5 84.8 473.7 94.3 441.5 78 373.9 92.1 410.4 94.4 426.6 87.5 428.4 86.2 366.6 89.8 389 94 403.3 89.4 382.9 88.7 436.2 88.9 435.6 89.4 486.7 90.9 396.2 93.3 397.9 94.4" fill="none" style="marker:url(#mn)"></path><path d="M392.7 89.5" fill="none" style="marker:url(#mgr)"></path><path d="M441.2 92.6 449.2 90.9 418.8 88.2 392.5 86.1 367.3 86.8 372.8 87.3 401.3 92 447.5 86.7 371.2 81.3 397.7 49.9 368 91.5" fill="none" style="marker:url(#mn)"></path><path d="M442.2 87.5" fill="none" style="marker:url(#mgr)"></path><path d="M463.6 93.6" fill="none" style="marker:url(#mn)"></path><path d="M497.6 93.9" fill="none" style="marker:url(#mgr)"></path><path d="M413 91 495 76.8 489.3 95.1 428.2 90 425.8 94.2 497.8 90.6 393.9 87.8 391.6 94.9 454.6 90.6 392.7 87.8 483.8 88.5 417.5 87.3 464.7 89.2 393.5 94.5 489.8 94.1 498 92.6 375.9 90.4 424.1 93.1 400.9 89.6 437.9 80.7 493 86.8 485.6 90.4 456.8 95.1 396 89.7 365.3 87.3 458.7 90.4 474.3 94.8 459.7 94.5 487.1 85.4 424.5 89.8 489.9 89.9 491.1 94.4 409.6 78.9 390.2 82.9 468.7 92.5 409.9 86.8 495.9 94.2 428.7 92.3 495.8 94.1 404.8 86.2 397.8 93.3 404.2 88.9 442.4 95.1 420.5 95.1 426.2 90.5 414.1 87.9 459.1 91.6 366 95 450.3 93.5 404.8 83.7 471.2 79.8 409.3 89.2 423.4 87.8 430.5 93.3 391.1 91.8 489.8 80 376.5 90.8 460.1 93.8 470.1 94.3 393.7 85.3 421.9 87.5 407.7 88.2 466.6 85.6 490.8 93.3 457.2 94.4 406.4 85.4 464.9 92.9 376.7 88.5 479.4 93.1 377 82.5 388.4 90.9 426.7 91 407.6 92.6 469 90.4 372.9 89.8 430.7 94.4 427.2 94.9 489.9 94.6 416.3 90.3 409.6 94.3 487.4 90.3 469.9 91.2 454.6 94.5 413.4 90.4 482.1 84.8 378.4 93.6 375.3 94.5 427 81.9 406.9 80.3 481.4 92.6 447.4 77.1 388.2 80.2 383.2 92.7 418.6 94.6 382.7 93.5 401.9 81.4 476 93.9 395.6 94.4 421.9 88.2 473.7 95.2 442.7 90.5 402.5 94.2 446.8 90.1 381.4 88.6 488.1 92 439.5 92.8" fill="none" style="marker:url(#mn)"></path><path d="M404.3 92.3" fill="none" style="marker:url(#mgr)"></path><path d="M399.2 90.8 431.6 91.3 414.8 93.2 435.5 91 458.6 91 444.7 92.3 376.6 88.9 498.4 88.6 403.5 61.7 444.2 91.4 372.7 91.9 478.3 77.5 432.5 89 430.1 78.2 414.9 95.1 366.6 82.1 462.7 95 469 94.5 462.7 89.1 460.9 93.5 492.7 90.5 431.9 94 495 88.4 365.2 93.4 499.1 93.7 464.9 73.8 488.6 91.4 467.8 81.2 413.8 90.5 462.7 94.3 404.1 91.1 454.1 79.5 468 86.1 492.1 92.6 487.7 83.8 464.1 91.7 497.1 69.8" fill="none" style="marker:url(#mn)"></path><path d="M376.2 93" fill="none" style="marker:url(#mgr)"></path><path d="M379.9 84.4 450 95.1 421.1 94 410.4 90.9 374.7 93.8 421.8 85.2 394.2 91.7 379.1 93.5 465.7 92 453.9 88.3 495.7 88.1 430.9 93.1 424.5 78.4 425.4 85.5 403.2 90.1 366.2 73.2 398.1 85.5 450.5 95 497.2 94.2 431.4 93.2 387.6 87 453.1 94.6 475.8 94 405.5 86.9 394.8 72.6 428.8 89.7 478.3 92 472.7 90.4 434.8 93.1 465.1 82.3" fill="none" style="marker:url(#mn)"></path><path d="M454.8 72.4" fill="none" style="marker:url(#mgr)"></path><path d="M397.7 93.3 478.9 93.3 480 92 473 94.6 391.9 89.8 370.5 91 409.1 86.4 413.3 81.7 443 86.7 383.5 71 401.4 58.7 456.3 83.4 443.5 95.2 439.2 90.7 476.7 93.6 490.6 93 497.6 85 470.4 92.6 498.2 93.2 491.5 92.2 494.8 88.9 451.3 76.2 430.4 90.9 483 92.3 395.5 77.6 416.8 89.7 377.6 93.8 447.4 94.6 436.9 95.1 484.1 93.7 402.1 93 482.2 83.2 441.2 86.2 453.3 92.4 429.4 83.5 415.5 85.9 433.6 92.8 383 94.9 414.1 94.8 448.4 94 490.4 93.2 373.9 89.1 446.7 95" fill="none" style="marker:url(#mn)"></path><path d="M481.6 91.9" fill="none" style="marker:url(#mgr)"></path><path d="M398.5 82.7 377.3 86.6" fill="none" style="marker:url(#mn)"></path><path d="M367.1 94.1" fill="none" style="marker:url(#mgr)"></path><path d="M453.6 92.9 379.8 84.4 385.8 92.7 419.6 94.6" fill="none" style="marker:url(#mn)"></path><path d="M478 85.6" fill="none" style="marker:url(#mgr)"></path><path d="M494 87.3 378.4 92 421.4 84 367.8 89.7 450.6 88.3 416.3 92.4 388.4 90.8 437 94 485.2 89.4 463.9 91.2 379.7 91 368.5 89.4 403.5 82.8 383.2 92.7 482.9 92.6 448.4 92.1 416.3 89.6 410.9 76 390.7 94.7 451.5 93.6 477 95.1 494.2 93.6 391.4 87.5 381.2 94.3 438.6 92.6 413.6 93" fill="none" style="marker:url(#mn)"></path><path d="M453.4 77.7" fill="none" style="marker:url(#mgr)"></path><path d="M429.2 85.4 390.7 93.1 497.9 94.6 403.3 92.5 449.6 52.9 398.2 71.4 367.8 85.1" fill="none" style="marker:url(#mn)"></path><path d="M366 90.8" fill="none" style="marker:url(#mgr)"></path><path d="M451.2 87.9 384.5 93.9 364 88.7 465.9 92 393.6 89.3 411.6 94.5 366 86 401 93.8 374.5 88.1 468.9 91.6 373.1 84 438.8 94.2 468.9 91.5 440.7 94.9 476.9 90.1" fill="none" style="marker:url(#mn)"></path><path d="M497.5 94.1" fill="none" style="marker:url(#mgr)"></path><path d="M437.5 90.9 415.6 85.4" fill="none" style="marker:url(#mn)"></path><path d="M495.1 86.8" fill="none" style="marker:url(#mgr)"></path><path d="M445.1 91.7 423.3 85.3" fill="none" style="marker:url(#mn)"></path><path d="M429.3 93.2" fill="none" style="marker:url(#mgr)"></path><path d="M480 91.7 474.8 94.6 411.5 93.1" fill="none" style="marker:url(#mn)"></path><path d="M369.6 92.1 406.3 90.6" fill="none" style="marker:url(#mgr)"></path><path d="M456.6 90 410 76.9 458.9 94.7 471.2 93.2 461.3 94.3 416.8 88.4 389.2 88.8 460 95.2 497.1 70.2 367.5 94.3 405.3 93.6 413.3 94.3 391.2 94.8 449.5 93.7 371.6 86.4 449.8 92.4 475.7 81.7 432.9 92.5 481.8 92.6 387 91 392.3 74.1 492 89.3 456.4 95.2 455.4 93.9 382.1 93.4 457.8 94.8" fill="none" style="marker:url(#mn)"></path><path d="M491 92.2" fill="none" style="marker:url(#mgr)"></path><path d="M451.3 92.9 497.1 91.3 393.5 90.3 480.6 94.1 382.5 90.2 429.8 83.3 452.7 94 459.8 93.2 465.7 93.6 443.9 86.2 447.5 94.3" fill="none" style="marker:url(#mn)"></path><path d="M441.9 92.4" fill="none" style="marker:url(#mgr)"></path><path d="M447.1 85.5 409 87.8 482.8 95 413.8 82.3 401.2 87.6 466 92.2 369.6 95.2 436.8 93.8 378.2 92.4 459.6 94 477.9 82.7 417.5 88.2 437 93.1 474.9 93 489.8 83.3 446 94.2 375 87 453.5 91.6" fill="none" style="marker:url(#mn)"></path><path d="M399.6 78.8" fill="none" style="marker:url(#mgr)"></path><path d="M403.1 90.6 439.5 80.7 459.3 94.7 448.9 93.5 476.8 94.3 467.1 90.8" fill="none" style="marker:url(#mn)"></path><path d="M366.7 93.9 445.1 68.2" fill="none" style="marker:url(#mgr)"></path><path d="M433.5 87.1 466.6 95 480.8 76.9 435.4 92.1 381.5 53.4 383.4 54.9 383.7 60.7 386 61.2 385.1 62.5 383.7 64.1 382.3 62.2 386.1 56.8 380.8 59.2 385.3 52.7 382.9 56.8 387.1 58.3 382.5 53.7 386.1 57.1 380.6 55.4 384.4 55.4 384.9 57.8 386.8 58.1 388.6 61 388.2 63.7 392.4 65 392 67.6 390.3 60.7 391.3 67.3 388.9 67.3 391.3 69.5 389.2 68.1 388.5 65.1 391.8 66.2 391.3 60.6 390.7 61.8 391.2 58.5 387.6 64.9 388.5 66.2 389 73.5 382.2 74.6 381.3 75.8 384.5 76.4 390.6 71 380.7 75.3 380 75.2 387 75.1 386.9 72.9 382.9 74.5 379.6 70.9 381.5 69.4 382.2 72.8 383.6 71.9 411.9 62.3 407.4 58.9 403.9 64.3 407.8 66.7 406.8 66.4 404.5 59.4 410.1 68.3 411.6 61.5 409 61.2 407.1 58.2 408.8 62 403.6 65.4 411 58.5 406.6 66.1 411.3 66.1 404.7 62.8 408.2 57.8 407.5 66.9 408.6 58.9 406.4 64.6 410.8 68 412.2 67.9 407.3 65.8 411.9 69.1 408.3 68.9 411.2 69.2 408.7 64.3 406.8 67.6 409.8 67.2 406.4 68.6 407.4 70.1 410.4 65.2 404.6 43.5 403.1 46 404.5 49.8 404.5 47 421.1 70.3 421.1 66.4 420.8 64.4 423.8 69.3 423.6 67.1 419.7 64.4 418.7 68.9 419.4 64.2 422.7 65.1 419.8 66.9 429.3 66.5 430.2 74.1 428.9 75.6 428.9 72.9 429.6 72.9 431.4 68.4 429.3 72.9 429.2 68.9 429.2 73.1 428.8 70.1 429.6 67.5 431 68.8 466.9 69.4 464.8 72.7 466.7 75.5 466.1 67.5 458.8 70.9 472.6 73.1 465.8 67.4 462.8 68.9 472 73 467.1 71.1 464.9 69.2 467.2 69.2 459.3 67.7 467.6 74.3 465 64.1 461.7 75 463.2 73.6 463.1 71.8 466.3 67.9 465 75.9 470.1 68.3 472.5 69.2 470.9 66.3 468.3 72.8 472.2 64.2 472.1 67.1 475.3 70.2 471.3 65.5 471.1 66.8 472.3 67.5 475.4 67.8" fill="none" style="marker:url(#mn)"></path><path d="M444.4 67.3 444.8 66.6 445.1 67.6 442 67.9 442.8 65.5 441.8 69.5 444.2 69.5 445 70.6 442.5 69.1 443.4 67.9 446.7 78.1 485.8 69" fill="none" style="marker:url(#mgr)"></path><path d="M431 51.7 475.7 61.4 382 50.5 384 52 405.5 40.8 406 44 416.5 57.5" fill="none" style="marker:url(#mn)"></path><path d="M439.4 51.2 446.1 54.8 438.8 51.4 447.5 55.4 447.5 60.1 443 57.8 445 54.7 441.4 48.2 446.8 54.1 440.1 51 437.4 49 446 55.2 446 57 448.3 55.8 444.2 56.6 444.9 55.7 441.6 49.1 446.6 55.5 439.4 52.4 439.6 52.8 436.1 48.1 441.7 54.1 444.3 52.7 437.5 49.1 440 50 438.7 51.5 437.3 48.1 440.2 51.7 446.5 55.2 442.6 53.2 445.5 55.1 446 54.9 444 53.5 443.1 54 442.1 50.8 447 56.7 442.3 52.2 448 57.2 439.9 51.5 446 57.3 440.8 51.8 439.8 51.3 441.2 53.2 438.9 53.7 443.1 55.2 439.3 53.7 440.6 53.5 437.8 54.2 440.4 53.4 444.5 55.3 452.8 41.3 453.2 44 453.6 46.5 451.9 53.4 458.9 51.7 447.6 49 431.1 60.7 436.3 63.8 442.4 63.8 447.9 62.1 465 63.8 443.2 76.8" fill="none" style="marker:url(#mlb)"></path><path d="M436.8 39.6 437.8 38.1 441.7 37.8 437.8 40.1 441 36.3 440.3 37.8 435.8 35.8 437 39.8 437.3 33.5 438.5 39.3 436.9 33.6 439 37 440.8 33.3 437.3 38.3 441.5 37.8 440.5 38.3 440.3 34.9 439.6 34.1 436.1 37.3 440.4 35.2 438.3 36.7 439.8 34 437.8 37.2 437.4 38.3 441.6 36 437.4 38.6 446.4 42.9 446.7 41 446.6 42 447.1 41.9 446.2 42.8 445 42.9 445.4 43.4 441.8 27 438.5 30.8 441.8 46.1 447 41" fill="none" style="marker:url(#mg)"></path><path d="M434.5 22.6 435.5 22 436.3 21.6" fill="none" style="marker:url(#mo)"></path><path d="M431.4 14.04L432.80 15.7L431.4 17.34L429.99 15.7Z" fill="#8a2be2" stroke="#502080" stroke-width="0.4"></path></g></g><rect x="363.4" y="0.6" width="135.8" height="99.2" fill="none" stroke="#979797" stroke-width="1"></rect><line x1="360.4" x2="363.4" y1="95.2" y2="95.2" stroke="#979797" stroke-width="0.8"></line><text x="358.2" y="98" font-size="7" text-anchor="end" fill="#222">0</text><line x1="360.4" x2="363.4" y1="75.64" y2="75.64" stroke="#979797" stroke-width="0.8"></line><text x="358.2" y="78.44" font-size="7" text-anchor="end" fill="#222">2</text><line x1="360.4" x2="363.4" y1="56.08" y2="56.08" stroke="#979797" stroke-width="0.8"></line><text x="358.2" y="58.88" font-size="7" text-anchor="end" fill="#222">4</text><line x1="360.4" x2="363.4" y1="36.52" y2="36.52" stroke="#979797" stroke-width="0.8"></line><text x="358.2" y="39.32" font-size="7" text-anchor="end" fill="#222">6</text><line x1="360.4" x2="363.4" y1="16.96" y2="16.96" stroke="#979797" stroke-width="0.8"></line><text x="358.2" y="19.76" font-size="7" text-anchor="end" fill="#222">8</text><line x1="499.2" x2="502.2" y1="95.3" y2="95.3" stroke="#b4b4ff" stroke-width="0.8"></line><text x="504" y="97.8" font-size="7" text-anchor="start" fill="#7878ff">0</text><line x1="499.2" x2="502.2" y1="73.85" y2="73.85" stroke="#b4b4ff" stroke-width="0.8"></line><text x="504" y="76.35" font-size="7" text-anchor="start" fill="#7878ff">20</text><line x1="499.2" x2="502.2" y1="52.4" y2="52.4" stroke="#b4b4ff" stroke-width="0.8"></line><text x="504" y="54.9" font-size="7" text-anchor="start" fill="#7878ff">40</text><line x1="499.2" x2="502.2" y1="30.95" y2="30.95" stroke="#b4b4ff" stroke-width="0.8"></line><text x="504" y="33.45" font-size="7" text-anchor="start" fill="#7878ff">60</text><line x1="499.2" x2="502.2" y1="9.5" y2="9.5" stroke="#b4b4ff" stroke-width="0.8"></line><text x="504" y="12" font-size="7" text-anchor="start" fill="#7878ff">80</text><rect x="363.4" y="104.5" width="135.8" height="24.40" fill="none" stroke="#979797" stroke-width="1"></rect><path d="M382.7 106.8h2.6M385.4 106.8l-1 -0.6v1.2z" stroke="#444" stroke-width="0.55" fill="#444"></path><text x="375.3" y="107.9" font-size="3.4" font-style="italic" fill="#484848" textLength="6.80" lengthAdjust="spacingAndGlyphs">MTAP</text><rect x="375.3" y="109" width="10.19" height="0.45" fill="#5050e0"></rect><rect x="375.3" y="108.60" width="1" height="1.2" fill="#3030d0"></rect><rect x="384" y="108.60" width="1.5" height="1.2" fill="#3030d0"></rect><path d="M402.09 106.8h2.6M404.79 106.8l-1 -0.6v1.2z" stroke="#444" stroke-width="0.55" fill="#444"></path><text x="391.6" y="107.9" font-size="3.4" font-style="italic" fill="#484848" textLength="9.89" lengthAdjust="spacingAndGlyphs">CDKN2A</text><rect x="398" y="108.60" width="1" height="1.2" fill="#3030d0"></rect><path d="M468.5 106.8h2.6M471.2 106.8l-1 -0.6v1.2z" stroke="#444" stroke-width="0.55" fill="#444"></path><text x="457" y="107.9" font-size="3.4" font-style="italic" fill="#484848" textLength="10.90" lengthAdjust="spacingAndGlyphs">DMRTA1</text><rect x="463.5" y="108.60" width="1.5" height="1.2" fill="#3030d0"></rect><path d="M496.2 106.8h2.6M498.9 106.8l-1 -0.6v1.2z" stroke="#444" stroke-width="0.55" fill="#444"></path><text x="480.5" y="107.9" font-size="3.4" font-style="italic" fill="#484848" textLength="15.10" lengthAdjust="spacingAndGlyphs">LINC01239</text><rect x="490" y="109" width="9" height="0.45" fill="#5050e0"></rect><rect x="490" y="108.60" width="1" height="1.2" fill="#3030d0"></rect><rect x="497.5" y="108.60" width="1.5" height="1.2" fill="#3030d0"></rect><path d="M393.9 113h2.6M393.8 113l1 -0.6v1.2z" stroke="#444" stroke-width="0.55" fill="#444"></path><text x="397.09" y="114.10" font-size="3.4" font-style="italic" fill="#484848" textLength="11.90" lengthAdjust="spacingAndGlyphs">CDKN2B</text><rect x="398.8" y="115.2" width="4.09" height="0.45" fill="#5050e0"></rect><rect x="398.8" y="114.80" width="1" height="1.2" fill="#3030d0"></rect><rect x="401.4" y="114.80" width="1.5" height="1.2" fill="#3030d0"></rect><path d="M418.5 119.1h2.6M421.2 119.1l-1 -0.6v1.2z" stroke="#444" stroke-width="0.55" fill="#444"></path><text x="400.8" y="120.2" font-size="3.4" font-style="italic" fill="#484848" textLength="17.10" lengthAdjust="spacingAndGlyphs">CDKN2B-AS1</text><rect x="401.9" y="121.3" width="18.30" height="0.45" fill="#5050e0"></rect><rect x="401.9" y="120.9" width="1" height="1.2" fill="#3030d0"></rect><rect x="410.29" y="120.9" width="1.5" height="1.2" fill="#3030d0"></rect><rect x="418.2" y="120.9" width="2" height="1.2" fill="#3030d0"></rect><path d="M396.9 125.19h2.6M396.8 125.19l1 -0.6v1.2z" stroke="#444" stroke-width="0.55" fill="#444"></path><text x="400.09" y="126.3" font-size="3.4" font-style="italic" fill="#484848" textLength="11.90" lengthAdjust="spacingAndGlyphs">DMRTA1</text><rect x="402.9" y="127" width="2.10" height="1.2" fill="#3030d0"></rect><line x1="376.4" x2="376.4" y1="128.9" y2="131.9" stroke="#979797" stroke-width="0.8"></line><text x="376.4" y="140.1" font-size="7" text-anchor="middle" fill="#222">21.8</text><line x1="403.4" x2="403.4" y1="128.9" y2="131.9" stroke="#979797" stroke-width="0.8"></line><text x="403.4" y="140.1" font-size="7" text-anchor="middle" fill="#222">22</text><line x1="430.5" x2="430.5" y1="128.9" y2="131.9" stroke="#979797" stroke-width="0.8"></line><text x="430.5" y="140.1" font-size="7" text-anchor="middle" fill="#222">22.2</text><line x1="457.7" x2="457.7" y1="128.9" y2="131.9" stroke="#979797" stroke-width="0.8"></line><text x="457.7" y="140.1" font-size="7" text-anchor="middle" fill="#222">22.4</text><line x1="485" x2="485" y1="128.9" y2="131.9" stroke="#979797" stroke-width="0.8"></line><text x="485" y="140.1" font-size="7" text-anchor="middle" fill="#222">22.6</text><text x="431.4" y="150" font-size="7" text-anchor="middle" fill="#222">Position on chr9 (Mb)</text><text x="368" y="15.39" font-size="14" font-weight="bold" fill="#000">c</text><text x="431.4" y="12.9" font-size="5.7" text-anchor="middle" fill="#000">rs1679014</text></g><g><clipPath id="cd"><rect x="534.2" y="1.1" width="134.59" height="110.7"></rect></clipPath><g clip-path="url(#cd)"><line x1="544" x2="544" y1="28.9" y2="106.7" stroke="#6f6fff" stroke-width="1"></line><line x1="566.3" x2="566.3" y1="28.1" y2="106.7" stroke="#6f6fff" stroke-width="1"></line><line x1="573.1" x2="573.1" y1="69.6" y2="106.7" stroke="#6f6fff" stroke-width="1"></line><line x1="615.2" x2="615.2" y1="74.6" y2="106.7" stroke="#6f6fff" stroke-width="1"></line><g><path d="M635.5 102.9 568.4 104.2 580 94.9 563 98.9" fill="none" style="marker:url(#mn)"></path><path d="M649.4 101" fill="none" style="marker:url(#mgr)"></path><path d="M566 106.9 560.9 105.8 566.8 104.3 652.5 97.4 617.2 102.7 554.2 104.7 544 95.1 559.9 99.6 650.3 105.5 639.7 100.8" fill="none" style="marker:url(#mn)"></path><path d="M621.3 106.7" fill="none" style="marker:url(#mgr)"></path><path d="M622.2 105.7 543.4 103.8 612.7 105.4 552.9 102.3 579.6 96.9 596.1 105.5 647.9 100.3 626 104.2 547.6 102.9 642.4 105.5 617.6 97.3 545.3 100.1 591.9 94.5 601.3 98.3 598.9 102.3 605.7 94.3 637.8 102.6 633 102.9 595.6 104.7 638.2 105.1 630.6 96 550.4 105.1 574 103.4 663 97.5" fill="none" style="marker:url(#mn)"></path><path d="M553.9 106.5" fill="none" style="marker:url(#mgr)"></path><path d="M564.2 104.2 573.3 105.2 647.2 97.6 545.8 92.3 643.7 103.3 571.8 97.3 575.5 107 646.9 97.9 638.5 106.6 585.6 101.8 605.2 102.9 660.6 102.5 569.3 101.6 620.3 105.7 549.4 103 591.2 97.9" fill="none" style="marker:url(#mn)"></path><path d="M624.1 103.8" fill="none" style="marker:url(#mgr)"></path><path d="M604.2 105.4 566.6 101.5 640.8 102.2 644.1 97.6 606.4 106.9 653.6 92.4 554.7 100.3 579 106.2 562.4 94.8 669.2 94.3 565.6 105.8 568.6 98.7 611.4 101.5 667.7 106.3 603.5 102" fill="none" style="marker:url(#mn)"></path><path d="M638.4 103" fill="none" style="marker:url(#mgr)"></path><path d="M640.3 106 607.2 102.8 646.2 101 600.8 103 561.9 105.6" fill="none" style="marker:url(#mn)"></path><path d="M650 101" fill="none" style="marker:url(#mgr)"></path><path d="M554.2 95.9" fill="none" style="marker:url(#mn)"></path><path d="M640.1 103.1" fill="none" style="marker:url(#mgr)"></path><path d="M615.3 103 593.4 97.8 538.3 106.1 546.6 103.2 619.8 106.5 538.5 99.5 614.7 104.1 663.3 100.1 539.7 106.8 667 103.5 584.4 104.4 547.3 99.3 551.7 106.4 627.8 106.9 536.8 105.5 649.1 100.9 548.6 93.1 578.5 106.5 559.3 105.4 659 93.3 654.8 104.6 628.6 105.7 628 102.9 570 105.8 593.5 99.7 663.8 103.3 564.5 106 562 105.6 604.8 104.8 589.5 104.9 628.5 104.3 626.2 98.3 542 106.9 578.2 98.2 595.8 106.9 649.9 99.1 571.7 98.4 547.2 91.6 664.4 99.7 539.5 87.7 534.5 99 587.7 102.5" fill="none" style="marker:url(#mn)"></path><path d="M620.1 101.9" fill="none" style="marker:url(#mgr)"></path><path d="M585 106.9 560.2 102.4 607.6 107 622.4 95.1 577.1 104.6 657.7 103.8 665.5 96.7 619.3 103.1 570.4 101.6 582.4 97.9 539.4 83.9 580.2 105.7 553.5 105.5 661.9 88.3 590.4 97.6 601.7 96.9 578.7 98.8 616.2 91.3 581.5 101.6 578.1 105.7 565.2 106.7 598.1 101.4 600.5 94.2 549.4 106.7" fill="none" style="marker:url(#mn)"></path><path d="M595.1 97.3" fill="none" style="marker:url(#mgr)"></path><path d="M542.1 93.1 611.7 105.3 659 96.8 537.1 103.4 604.5 106.2 595.8 97.5 667.3 99.1 622.1 105.6 570.5 98.8 638.4 104.5" fill="none" style="marker:url(#mn)"></path><path d="M657 99.7" fill="none" style="marker:url(#mgr)"></path><path d="M656.7 104.8 615.8 102.7 572.6 94 650.6 97.8 553.8 97.5 664.2 96.6 561 100.7 666 92 582.8 105.7 595.3 89.8 592.9 104.9 534.8 100.8 665.9 100.3 538.4 87.9 626.3 104.5 550.9 101.5 656.1 99 583.9 106.3 650.6 102.5 574.8 104.3 665 104.2 607.5 100.5 636.3 101.2 581 97 556.3 90 555.1 104 567 101.6 609.9 101.6" fill="none" style="marker:url(#mn)"></path><path d="M539.4 105.8" fill="none" style="marker:url(#mgr)"></path><path d="M591 100.9 567 99.2 549.1 92.7 665.7 106.3 664.7 94.3 554.2 101.5 600.9 105.9 629.5 106.1 602.1 104.3 652.9 101.9 593.9 95.7 563.4 102.3 570.7 101.9 574.2 104.8 543.1 105.8 642.1 105.6 606.4 100.7 534.1 94.4 547.8 102.2 627.2 106 631.7 102.6 539.1 97.9 638.1 101.2 661.7 106.6 600.3 102.6" fill="none" style="marker:url(#mn)"></path><path d="M627.9 105.2" fill="none" style="marker:url(#mgr)"></path><path d="M664.3 100.1 662.4 99.5 625.8 105.4 605.2 104.2" fill="none" style="marker:url(#mn)"></path><path d="M566.5 100.9" fill="none" style="marker:url(#mgr)"></path><path d="M658.9 94.7 579.5 107 657.5 102.9 648.8 95.7 595.9 92.7 557.8 102.7 616.6 95.8 616.6 103.6 569.7 101.7 558.1 102.6 607.1 101.8" fill="none" style="marker:url(#mn)"></path><path d="M566.5 98.5" fill="none" style="marker:url(#mgr)"></path><path d="M554.1 106.5 622.8 105.5 584.5 106.1 566.4 106.9 593.2 105.3 555.7 98.2 655 106.4 599.9 93.1 573.1 105.6 619.1 102.6 604.6 95.5 607.1 100.9 569 101.1 636.3 96.8 556.5 105.1 636.4 105" fill="none" style="marker:url(#mn)"></path><path d="M626.6 106.3" fill="none" style="marker:url(#mgr)"></path><path d="M575 106.5 618.8 104 597.9 106.5 599 102.8 572.1 104.9 583.5 100.7 596.2 105 572.1 97.4 630.9 106.3 611.3 102" fill="none" style="marker:url(#mn)"></path><path d="M602.1 105.4" fill="none" style="marker:url(#mgr)"></path><path d="M559.7 101.9 575.3 100.6 636.3 104.1 545.6 101.9 572.9 101.2 639.5 105.7 592.4 98.6 664.2 106 624 104.7 552.9 103.2 591.5 105.7 550.2 103.9 601.9 103.4 644.2 101 638.2 107.1 598.2 100.3 605.3 104.3 648.9 103.4 582.5 95.5 547.5 95.6 605 102.1 590 102.3 661 99.6 570.1 96.2 619.1 100.2 653.3 96.7 635.6 100.2 615.3 94.8 659.4 97.1 542.5 90.8 545 106 642.7 90.4 664 106.6 659.3 100.3 606.9 106.2 634.9 100.2" fill="none" style="marker:url(#mn)"></path><path d="M625.5 103.5" fill="none" style="marker:url(#mgr)"></path><path d="M566.5 102 608.8 104.5 579.3 105.9 630.2 104.6 536.2 97.9 630.8 105.5 660.9 88.2 666.6 104.7 625.8 95 625.3 104.5 574.7 105.8 644.4 106.5 619.4 102.3 607.4 103.7 610.6 100.7 534.9 102.5 619.2 103.7" fill="none" style="marker:url(#mn)"></path><path d="M631.4 106" fill="none" style="marker:url(#mgr)"></path><path d="M642.1 104.3 651.1 106.2 588.7 102.7 570.7 97.7 664.1 103 666.6 93.4 665.2 91.1 653.3 103.5 663.3 90" fill="none" style="marker:url(#mn)"></path><path d="M636.7 102.1" fill="none" style="marker:url(#mgr)"></path><path d="M580.2 102.4 581.2 103.8 557.1 98.9 655.5 104.2 605.5 100.6" fill="none" style="marker:url(#mn)"></path><path d="M572.2 98.7" fill="none" style="marker:url(#mgr)"></path><path d="M546.8 100.9 650.4 106.9 627.6 101.3" fill="none" style="marker:url(#mn)"></path><path d="M622.1 98.4" fill="none" style="marker:url(#mgr)"></path><path d="M582.6 92.7 602.3 99.6 661.4 107" fill="none" style="marker:url(#mn)"></path><path d="M577.6 105.6 665.3 94.3" fill="none" style="marker:url(#mgr)"></path><path d="M543.5 106.9 598 97.5 654.3 95.6 597.6 106.5 556.8 100 550.7 103.3 587.4 100.4 622.7 102.6 598.2 100.3 642.5 106.4 627.4 101.8 652.8 103.3 636.5 99.7 580.1 96 610.5 101.9 552.5 100.9 638.9 103.4 614.4 105.6 613.4 106.4 635.7 100.9 544.9 103.9 569.9 100.2 641.3 95.9 572.2 96.2 575.5 106.7 561.2 103.9" fill="none" style="marker:url(#mn)"></path><path d="M616.5 100.9" fill="none" style="marker:url(#mgr)"></path><path d="M570.6 99.6 653 102.9 610.3 100.3 590.4 103.6 666.2 104.1 551.8 100 613.3 98.6 610.6 101 565.6 100.4 552.1 101.7 605 101.9 585 100.6 565.6 101.5 581.6 105.5" fill="none" style="marker:url(#mn)"></path><path d="M592.6 102.6" fill="none" style="marker:url(#mgr)"></path><path d="M545.6 89.1 586.9 99.6 574.4 105.8 595.8 101.3 668.2 97.7 627.6 106.3 543.2 87.1 554.8 106.3 659.8 95.8 626.4 104.7 627.1 100 581.8 98.5 584.9 106.9 614.9 101.6 586 93.1 662.3 100.7 556.4 106 654 98.1 575.2 98.7 543.7 92 620.1 100.4 617.7 106.4 604.8 103.3 616.1 106.6 537.6 107.1 643.8 104.4 565.2 106.2 541.1 102.4 562 104.3 625.7 100.9 635.4 103.3 665.8 94.8 610 104.9 596.9 100.1 565.6 96 554.8 102.9 595 97.5 566 105.2" fill="none" style="marker:url(#mn)"></path><path d="M554.4 102" fill="none" style="marker:url(#mgr)"></path><path d="M572.2 102.6 609.4 100.1 584.5 102.3 644.7 107.1 593.4 105.9 589.6 101.5 650.6 98.7 558.8 106.3 665.3 94.9 534.7 95.1 596.8 105.3 561.9 98.9 551.6 96.3 629.5 103.4" fill="none" style="marker:url(#mn)"></path><path d="M590 103.3" fill="none" style="marker:url(#mgr)"></path><path d="M666.2 102 618.5 104.6 595 104.7 638.3 103.4 649.4 106.5 606.1 103.8 549.6 106.4 647.8 103.9 535.4 105 637 105.5 622.6 106.5 564.5 106.9 553.6 104.6 638 100.4 642.7 93.1 556.9 106.1 619.6 103.3 535.6 94" fill="none" style="marker:url(#mn)"></path><path d="M644 95.7" fill="none" style="marker:url(#mgr)"></path><path d="M618 96.4 650.1 101.9 571.3 106.4 580.6 98.7 587.1 101.2 555.5 97 608.8 98.8 658.8 100.4 668.3 104.2 654 99.8 625.9 101.7" fill="none" style="marker:url(#mn)"></path><path d="M571 103.2" fill="none" style="marker:url(#mgr)"></path><path d="M627.1 104.7 584.7 105.8 605.2 106.1 650 100.5 632 101.6 649.7 102.3 550.9 100.8 646.9 91.6 564.6 102.4 549.8 103.6 551.6 100.1 652.3 102.2 551.6 98.5 614.4 98.2 605.9 94.4 536.7 97.8 598.5 105.8 535.3 87.7 603.8 100.9 570.2 103.3 534.6 97.2 648.3 105.1 647.6 100.9 561.1 95.6 602.9 100.4 633.6 106.5 575.4 100.4 539.5 95.3 541.1 104.4 554 102.7 641.2 105.3 664.4 104.9 560.8 104 642 101.8 548.6 102.6" fill="none" style="marker:url(#mn)"></path><path d="M636.6 107" fill="none" style="marker:url(#mgr)"></path><path d="M564 96.1 557.1 97.1 570 103.7 636.7 106 549.5 97.3 599.4 103.3 584.7 101.1 552 102 645.6 105.4 658.9 103.8 550.1 103.3 555.1 92.4 616.9 107 636.2 105.6 632.3 97.4 546.2 99.1 651.8 106.3 644.7 106.2 624 99.2 609.7 100.3 620.5 101.4 544.7 105.3 620.1 99.4 577.8 106.8 657.5 105.9 652.8 101.5 580.8 101.7 626.5 101.4 594.2 100.3 652.2 103.6 562.2 96.1 651.9 100.3 663.8 101.8 539.6 94.2 578.3 105.4 611.5 103.1 645.1 98.3 574.7 103.8 600.6 104.5 647.9 104.9 655 105.8 534.3 101 587.7 106.6 543.5 96.6 660.4 106" fill="none" style="marker:url(#mn)"></path><path d="M617.3 104" fill="none" style="marker:url(#mgr)"></path><path d="M645.1 104.1 585.3 101.2 536.1 97.1 540.4 100 557.6 106.9 563.9 102.8 555 91.6 647.7 99.9 566.9 101 639.3 103.3 566 100.9 563 104.3 576.8 92.5 602.9 105.1 667.1 99.2 615.3 103.8 549 99.1 550.9 106.3 668 99.2 630.1 102.3 660.5 88.7 634.7 104.3 658.8 98.7 593 97.6 662.3 95.5 592.2 105 545.4 96.5 568.7 105.3" fill="none" style="marker:url(#mn)"></path><path d="M663.3 106.5" fill="none" style="marker:url(#mgr)"></path><path d="M623.5 97.5 654.3 97.1" fill="none" style="marker:url(#mn)"></path><path d="M549 96.3" fill="none" style="marker:url(#mgr)"></path><path d="M560.4 98.6 606.2 106.9 657.4 103.8 638.1 106.5 575.3 102 636 104.4 550.1 106.2 581.6 103.8 585.4 96.7 650.1 101.6 615.1 96.3 657.3 96.4 550.7 103.2 602.2 107.1 599.4 104.9 574.3 101.8" fill="none" style="marker:url(#mn)"></path><path d="M581.2 100.7" fill="none" style="marker:url(#mgr)"></path><path d="M660.2 97.9 648.5 105.8" fill="none" style="marker:url(#mn)"></path><path d="M571.4 104.9" fill="none" style="marker:url(#mgr)"></path><path d="M567.9 97.5 660.5 106.8 558.5 100.5 617.4 96.6 557.7 102.8 598.5 98.5 614.9 104.2 606.5 105.7 607 103.1 575 89.5 569 97 561.2 94.9" fill="none" style="marker:url(#mn)"></path><path d="M546 89.6" fill="none" style="marker:url(#mgr)"></path><path d="M667.6 90.5 581.8 101.4 557.1 101.7" fill="none" style="marker:url(#mn)"></path><path d="M607.9 106.9" fill="none" style="marker:url(#mgr)"></path><path d="M564.7 104 609.4 99.3" fill="none" style="marker:url(#mn)"></path><path d="M632.6 103.7" fill="none" style="marker:url(#mgr)"></path><path d="M626 104.9 609.1 106.1 664.9 104.2 611.4 101.3 618.9 107 657.2 98.6 625.5 104.6 653 105.8 648.3 103.1 623.4 104.8 601.2 93.4 660 100.3 560.6 97.6 588.5 105.6 537 95.3 610.7 94 565.6 98.9 548.3 106.4 559.7 103.9 589.1 101.7 669 105.5 543.1 99.8 547.1 104.7 612 93.6 605.8 104.8 623.6 102.1 623.2 102.4 603.2 96 606.5 103.6 655.9 105.4 576.9 104.9 653.6 98 574.2 98.8 579.8 101.6 636.6 106.5 653.6 100.2 557.1 105.4 605.1 98.1 543.3 105.4 619.4 105.9 559.7 101.2 542.3 97.4 572.4 106.9 604.1 103.7 570.9 107 614.1 88.8 587 99.8 614.5 100.9 658.2 103.9 566.3 99.1 575.4 106.5 551.8 103.5 549.2 105.8 606.4 102.8 651.6 100 568.3 92.1 612.8 98.1" fill="none" style="marker:url(#mn)"></path><path d="M542.5 105.5" fill="none" style="marker:url(#mgr)"></path><path d="M565.7 94.3 549.5 106.6 599.2 99.8 617.1 105.2 618 99.5 554.7 99.3 586.3 97 633.1 105.6 623.8 103.9 660.7 98.9 657.6 101.1 600.9 102.4 615.9 101.7 545.3 105.1 594.1 96.4 589.1 106.8 640.7 95.2" fill="none" style="marker:url(#mn)"></path><path d="M625 106.2" fill="none" style="marker:url(#mgr)"></path><path d="M549.5 97.2 625.6 103.5" fill="none" style="marker:url(#mn)"></path><path d="M595.2 101.3" fill="none" style="marker:url(#mgr)"></path><path d="M544.8 105.5 558.8 106.2 562.7 105.5 574.8 105.6 561.7 93.8 546.7 98.1 656.9 93.9 566.7 101.8 588.7 96.7 643.4 100.9 664.9 103.3 607 106.5 546.1 92.6 657.2 99.2" fill="none" style="marker:url(#mn)"></path><path d="M608.6 98.6" fill="none" style="marker:url(#mgr)"></path><path d="M645.3 99 590.8 102.6 650.7 106 661.8 106 549.4 98.3 581.7 100 601.4 97.5" fill="none" style="marker:url(#mn)"></path><path d="M612.4 100" fill="none" style="marker:url(#mgr)"></path><path d="M559.4 104.3 536.2 100.8 542.5 98.1 539.4 100.6 640.4 103.7 621.2 105.2 597.9 105 543.3 100.9 571 98.8 641.4 96.6 550.2 104.3 563.7 103.1 650.4 99.4 539 94.7 574.7 103.6 640.2 103.2 580.9 104.6 589.2 103.7 545.4 104.7 589.8 104.1 570.4 104.7 604.7 99.5 662.7 99.9 634.6 95.9 608.6 88.8 665.2 101.2 569.5 105.4 645.2 101.4 579 102.2 546.9 105 664.9 103.8 651.3 104.7" fill="none" style="marker:url(#mn)"></path><path d="M555.9 98.1" fill="none" style="marker:url(#mgr)"></path><path d="M556.4 98.2 589.7 104.4 667.5 101.9 574.4 105.1 543.3 94 657.1 99.8 579.9 99.9 561.4 102.7 639.1 106.2 641 105.5 537.7 87.6 536.5 98 541.4 102.2 597.3 99.2" fill="none" style="marker:url(#mn)"></path><path d="M536.4 96.7" fill="none" style="marker:url(#mgr)"></path><path d="M666.8 101.5 575.9 104.9 642.6 98.7 622.8 106 646.2 105.2 646 97.9 544.5 96.3 556.3 104.5 576.3 105 580.8 101.7 559.8 103.3" fill="none" style="marker:url(#mn)"></path><path d="M606.4 106.1" fill="none" style="marker:url(#mgr)"></path><path d="M580.6 99 599.8 93.7 542.9 100.6 544.6 94.9 635 107" fill="none" style="marker:url(#mn)"></path><path d="M573.8 102.4" fill="none" style="marker:url(#mgr)"></path><path d="M610 106.6 566 106.3" fill="none" style="marker:url(#mn)"></path><path d="M568.6 104.5" fill="none" style="marker:url(#mgr)"></path><path d="M639.6 103.8 586.4 105 646.2 106.5 541.9 90.8 538.3 99.6 623.8 105.3 567.1 100.9 610.7 104.3 657.5 101.5 632 101.9 636.6 103.2 610.9 102.8 640.1 103.6 641.3 94.1 637.9 101.8 667.2 106.9 571.6 95.2 646.4 104.2 659.9 104.6 615.5 97.8 551.7 99.5 590.2 103.1 647.8 101.9 642.8 100.9 660.8 107 612.7 101.6 563.2 104.7 656.1 99.5 659.1 93.2 535.9 97 589.2 98.9 551 94.7 579.6 98.9 599.4 104.9 650.9 100.7 569.4 100.4 635.9 95.8 630.7 100.4 642.7 97.2 583.7 96.7" fill="none" style="marker:url(#mn)"></path><path d="M634 101" fill="none" style="marker:url(#mgr)"></path><path d="M609.4 105.5 600.2 97.3 559.3 103.1 580.4 105.2 661.1 91.7 624.3 106.8 638.1 98.5 626.6 98 655.5 106.8 598.4 95.3 535.8 78.3 624.6 97.9 571.1 104.5 567.7 106.2 634.3 98.1 571 96.1 631.4 101.1 631.8 104.9 598.3 92.6 644.9 96.7 609.7 101.8 575.5 97.9 597.8 101.2 582.2 106.4" fill="none" style="marker:url(#mn)"></path><path d="M645.9 99.5" fill="none" style="marker:url(#mgr)"></path><path d="M612.8 95.7 587 102.8 605.4 102.7 610.7 100.8 632.2 101.4 628.4 92.5 664.9 95.1 618.9 105.4 653.7 102.5 546.7 101.6 554.2 99.8 543.9 101.3 643 107 592.1 92.4 548.8 104.2 613.2 102.9 567.5 100.1 598.1 98 587.4 104.1 622.3 101.4 644.6 101.1 567.6 105.3 612.5 100.8 561 94.8 590.1 98.4 621.5 105.5 584.7 94.2 603.2 106.4 626 100.1 639.9 103.6 539.1 106.1 579.9 99.3 609.5 95.8 608.8 97.3 576.8 102.9 536 100.2 570.7 100.2 568.7 99.6 569.5 97.6 549.2 100.8 598.1 96.1 539.9 101.6 632.1 103.4 639.4 106.3 639.4 106.7 578.4 95.9 600.6 100.5" fill="none" style="marker:url(#mn)"></path><path d="M625 96.8" fill="none" style="marker:url(#mgr)"></path><path d="M667.4 101.3 535.4 106.2 635.1 97.7 567.4 102.8 586.3 104 551.2 95.4 641.5 93.1 648.2 102.5 657 96.8 656.6 100.2" fill="none" style="marker:url(#mn)"></path><path d="M655.4 104" fill="none" style="marker:url(#mgr)"></path><path d="M541.8 106.7 563.9 102.8 587 100 616.5 103.2 659.9 106.9 584.4 103.2 542.9 92 652.3 95 638.1 100.6 576.9 96.9 624.7 100.9 648.8 98.6 668.6 100.7 542.1 94 607.2 103.4 539.3 99.7 601.8 104.6 590 105.4 627.5 103.7 616.3 105.8 628.6 107 638.6 99.7 601.6 105.7" fill="none" style="marker:url(#mn)"></path><path d="M646.8 107" fill="none" style="marker:url(#mgr)"></path><path d="M541.7 89.1" fill="none" style="marker:url(#mn)"></path><path d="M547.4 105.5" fill="none" style="marker:url(#mgr)"></path><path d="M642.8 101 661.7 103" fill="none" style="marker:url(#mn)"></path><path d="M601.1 98.8" fill="none" style="marker:url(#mgr)"></path><path d="M577.8 99.6 555.1 105.3 577.8 104.6 577 106 539.9 104.5 639.6 105.9 608.3 89.4" fill="none" style="marker:url(#mn)"></path><path d="M661.4 105.1" fill="none" style="marker:url(#mgr)"></path><path d="M583.2 103.4 604 102.7 579.1 105.9 667.6 106.4 573.3 104.4 639.4 102 565.1 101.9 639.6 106.2 543.9 104.3" fill="none" style="marker:url(#mn)"></path><path d="M535 102.4" fill="none" style="marker:url(#mgr)"></path><path d="M627.5 100.3 583.1 99 610.7 103.3 570.5 101.8" fill="none" style="marker:url(#mn)"></path><path d="M654.8 104.6" fill="none" style="marker:url(#mgr)"></path><path d="M559.8 103.9 667 104.4 568.8 105.6 585.9 106.4 616.1 104.8 635.9 97.8 614.7 105.4 605.6 106.2 573.9 106.7 568.1 103.7 605.8 106.8 663.1 89.3 635.5 103" fill="none" style="marker:url(#mn)"></path><path d="M600.8 97.8" fill="none" style="marker:url(#mgr)"></path><path d="M591.5 104.4 625.2 104 650.6 105.9 668.4 97.6 574.6 87.1 647.9 102.7 636.8 102.6 589.2 96.9 585.7 101.3 632.6 106.9 557 105.6 620.7 103.8 664.3 103.2 626.8 104 646 106.8 573.5 98.1 586.2 102.3 576.1 104.2 608.5 104.1 620.3 102 574.7 107 587.1 92.6 649 106.6 596.7 105.5 570.8 95.2 576.8 106.2 643.7 77.6 575.4 106.6 666.3 106.7" fill="none" style="marker:url(#mn)"></path><path d="M602.2 93.1" fill="none" style="marker:url(#mgr)"></path><path d="M552.5 101.3 657.2 102.6 601.5 106.1 536.4 103.2 629.7 105.4 603.8 106.8 640.1 106.6 567.8 102.7 625.8 98.6 650.1 103.6 622.1 103 577.1 101.1 660.9 99.2 646.2 103.8" fill="none" style="marker:url(#mn)"></path><path d="M662.4 104.1" fill="none" style="marker:url(#mgr)"></path><path d="M620.6 97.2 662.9 103.4 650.7 101.8 658.5 93.8 567.5 96.4 589.5 103.9 651 105.3 591 102.3 587.5 106.3 613.5 106.4 579.7 96.6 570.8 83 638.4 101.3 609 101.5 558.9 99.7 553 104.3 585.4 104.6" fill="none" style="marker:url(#mn)"></path><path d="M657.4 105.6" fill="none" style="marker:url(#mgr)"></path><path d="M651 104.1 613.7 102 641.7 106.2 559.5 101.9 644.9 99.3 559.2 97.4 614.5 104.8 606.8 105.5 583.6 104.7" fill="none" style="marker:url(#mn)"></path><path d="M552.7 98" fill="none" style="marker:url(#mgr)"></path><path d="M621.2 103.4 618.9 106.7 668.2 105.9 556 95.2 542 93 593.7 105.5 593.3 106.4 664.2 103.4 579.2 99 553.8 101 571.2 103.5 623.2 105.6 611 107 652.1 100.8 543.2 101 585.1 102.3 564.8 103.9 609.5 98.5 636.4 106.1 576.1 104.9 609.6 106.4 580.7 96.6 617.1 106.8 573.6 103.8 562.2 100.1" fill="none" style="marker:url(#mn)"></path><path d="M551 106.2" fill="none" style="marker:url(#mgr)"></path><path d="M557.6 106.4 614.6 104.4 667.7 96.1 619.9 104" fill="none" style="marker:url(#mn)"></path><path d="M614 98.5" fill="none" style="marker:url(#mgr)"></path><path d="M564.9 106.3 629.4 103.4 629.9 99.2" fill="none" style="marker:url(#mn)"></path><path d="M635.8 104.4" fill="none" style="marker:url(#mgr)"></path><path d="M546.1 100.6 584.8 101.2 597.7 94.3 577.9 106.7 657.6 98.5 568.9 103.3 641.9 106 570.3 103.7 662.6 106.8 568.6 103.7 552.8 106.5 544.5 106.8 612.3 93.7 540.3 105.4 560.5 106.9 578.6 100.6 646.8 82.2 603 104.6 563.7 96.7 660.6 104.6 624.5 102.2 551.9 103.4 562.5 99.5 664.1 105.5 552.7 101.1 589.6 106.3 601.4 98.3 599.3 93.5 622.7 99.8 618.4 107 654 106.1 613.6 99.4 640.5 105.7 663.3 107.1 534.4 104.9 567 104.5 533.9 99.3 653 106.3 616.3 105.4 550.4 100.5 574.9 103.3 569.4 99 604.8 105.8 602.1 107.1 543.2 104.9 564.1 104.9 657.9 105.4 606.9 104.3 595.4 103.7 627.2 102.9 585.6 100.8 604.6 106.5" fill="none" style="marker:url(#mn)"></path><path d="M574 102.6" fill="none" style="marker:url(#mgr)"></path><path d="M569.8 103.4 584.1 102.5 613.2 106.4 619.6 101.8 587.4 104.6 607.5 95.1 619.9 97.3" fill="none" style="marker:url(#mn)"></path><path d="M574.8 85.2" fill="none" style="marker:url(#mgr)"></path><path d="M587.5 101.2 592.1 106.1 653 99.7" fill="none" style="marker:url(#mn)"></path><path d="M577.2 106.9" fill="none" style="marker:url(#mgr)"></path><path d="M648.1 105.7 606.9 99.8 637.4 105.6 546.3 104.4 615.6 105.4 569.9 104.9 583.4 106.6 632.1 92.5" fill="none" style="marker:url(#mn)"></path><path d="M663.2 104" fill="none" style="marker:url(#mgr)"></path><path d="M577.6 106.1 592.2 97.3 669.2 102.8 562.5 106.3 635.7 106 592.1 105.8 636.8 106.4 571.4 100.9 572.7 94.7" fill="none" style="marker:url(#mn)"></path><path d="M571.5 95.9" fill="none" style="marker:url(#mgr)"></path><path d="M571.2 104.3 656.4 103.3 558.8 100.3 594.5 107 667.6 104 570.5 97.7 645.2 107 560.3 106.8 577.1 99.4 594.1 92.6 561.5 102.2 585.7 101.4 571.5 101.6 596.1 106 638.6 101.1 626.3 104.8 666.2 94.7 545.3 104 539.5 99.2 539.4 104.1 590 106.2 587.7 107.1 569.3 94.8 544.1 102.2 622.6 106.5 629.6 106.5 634.8 102.2 648.1 104.6 607.3 106.9 640 94.2 534.8 102.8 538.7 105.4 661.9 100.1 623.9 105.8 602.1 100.2 638.6 100.7 583.7 105.7 615.9 102.9 602.7 106.7 555.9 85.4 562.8 106.6 544.6 105.9 579 101.2 643.4 104.3 587.9 105.9 659.9 96.1 637.4 104.9 597.6 107 652.6 100.4 553.3 104.7 663.6 104 549.2 105.9 544.5 90.4 628.3 102.6 576 99.2 653.2 107 543.6 89.5 567.7 102.7 574.7 104.9 625.9 103.7 609.7 103.4 550.9 100.2 637.1 104.3 597.4 100.3 612.1 86 579.4 104.8 652.7 106.7 598.5 104.7 621.6 100.6 557.1 102.6 551.8 95.9 660.4 103.7 596.1 101.5 593.3 100 575 102.8 650 102.2 655.7 103.4 630.6 105.3 617.5 106.8 593.9 102.3 573.2 104.6 579.8 103.9 608.1 104.8 668.6 88.1 662 101.2 634.9 105.3 542.6 106.6 649.3 106.2 615.2 105.7 563.4 100 622.3 97.9 583.8 104.7 624.2 101.7 664.9 95 569.5 102.5 591.4 104.2 541.3 102 557 107 618.3 104.4 551.2 106.8 664.5 101 598.6 104.5 644.5 99 634.9 106.9 535.9 105.9 597.7 90.2 576.4 105.1 537 85.7" fill="none" style="marker:url(#mn)"></path><path d="M660.2 106.6" fill="none" style="marker:url(#mgr)"></path><path d="M650.9 99.7" fill="none" style="marker:url(#mn)"></path><path d="M607.5 103.6" fill="none" style="marker:url(#mgr)"></path><path d="M562.8 106.1 660.1 102.3 537 94.5 617.8 106.9 602.8 99.2 599.2 98.6 589.2 100.4 545.1 95.7 560.4 93.4 557.6 101.7 548 100.3 645 104.2 610.1 97.4 584.6 95.8 614.4 105.2 565.1 100.3 606.4 106.8 600 104.7 554.4 106.7 624.1 104.4 640.7 96.5 619.1 98.1 659.6 102 608.9 97.6 645.8 97.7 666 100.4 663.4 96.5 581.3 99.4 631.6 105.4" fill="none" style="marker:url(#mn)"></path><path d="M633.1 102.8" fill="none" style="marker:url(#mgr)"></path><path d="M569.3 93.9 600.5 102.1 547.2 103.2 636.8 97 601.4 102.2 636.6 94.4 626.5 106.6 601.8 105.3 580.1 92.1 631.7 82 626 106.9 602.4 98.6 601.8 101.2 661.7 102.3 537 102.5 533.9 105.6 662.5 97.2 545.4 99 663 105.1 533.9 91 567.7 105.1 662.3 104.9 613.7 104.3 663.9 87.5 545 102.6 636.8 81.3 650.3 103.4 646.8 97.6 565.1 103.5 606.8 95.5" fill="none" style="marker:url(#mn)"></path><path d="M548.4 99.7" fill="none" style="marker:url(#mgr)"></path><path d="M551.6 100.9 552.9 106.3 583.3 105.3 559 103.9 572.5 101.6 609.1 92.1 534.5 105.9 563.7 106.7 534.8 101.3 639.9 105.3 554.5 105 646 105.5 559.1 106.6 564.5 106.5 649.5 103 624.5 97.6 543.8 103.8 565.8 107.1 630.5 88.7 664.9 105.8 668.2 103.6 629.9 103 588.3 104.9 602.4 103.9 657.6 105 579.2 107 612.9 106.5 554.9 105.8 582.3 99.4 546.1 99.8 546 105.4 592.7 104.7 552.5 106.9 598.5 97.3 631 103.8 599.4 103.6 630.1 104.9 619.2 105.2 639.1 97 667.5 106.5 569.9 99.3 536.6 99.3 551.5 93.7 638.4 106.2 535.9 99.3 664.5 99.7 656.7 105.7 584.5 105.9 569.5 102.7 657.2 103.1 586.7 106.4 666.3 105 569.9 91.1 567.4 82.2 568.4 92.2 569.5 93.1 568.5 93.1 570.9 87.9 569.3 86.5 567.5 91.2 569.5 84.8 569.8 83.3 567.9 86.2 569 87.9 569.4 80.9 567.9 81.1 569.2 93.6 571.2 87.3 570.9 91.6 567 87 570.1 93.2 566 87.5 629.6 86.7 647.6 86.8 644.9 86.3 624.6 86.8 648.3 86.8 635.7 87.5 644.4 86.8 625.1 86.7 648.1 86.1 623.8 86.8 635.8 85.9 639.1 86.2 619.7 87.3 624.8 86.7 626.5 86.3 636.4 86.8 638.9 87.3 645.1 86.1 618.8 86.8 620.1 86.6 637.6 86.6 637 86.1 628.1 86.2 642.4 86.6 641.9 87.2 638 86.6 643.9 86 628.8 85.9 620.9 86.1 642.2 87.2 622 85.6 622.7 84.9 643.4 86.6 651.4 86.7 623 86.6 623.8 86.8 641.4 87.1 648.2 86.9 646 86.1 632.3 86.2 627.6 86.6 626.5 86.5 627 87 630.1 86.3 621.2 86.9 642.4 86.6 641.9 86.8 642.5 86.7 637.9 85.3 631.9 86.6 637.6 86.3 638.8 87.4 645.2 87 636.7 87.1 637.1 86.6 622.8 90.1 621.1 90.1 627.2 90.5 617.8 90.5 626 90.6 616.7 89 628 93.4 627.4 93 625.7 90.5 617.9 87.9 626.5 89.6 624.7 90 600.3 55.1 600.6 55.4 601.2 59 602.8 60.6 600.9 55.3 604.9 80.5 606.6 76 605 70.5 604.4 71.4 604.3 71.6 603.7 68.7 604.3 70.4 606 76.6 598 95.2 599.3 93 598.9 92.3 595.1 95 602.6 96.4 601.6 96.1 593.3 90.5 596.9 91.8" fill="none" style="marker:url(#mn)"></path><path d="M593.7 66 601.3 47.7" fill="none" style="marker:url(#mgr)"></path><path d="M614.8 70.8" fill="none" style="marker:url(#mn)"></path><path d="M620.2 80.2 632.5 78.3 631.8 80.9 645.5 79.3 657.8 69.6 657.8 72.5" fill="none" style="marker:url(#mgr)"></path><path d="M615.2 71.1 613.7 74 655.7 73.5 638 81.2 657.8 87 558 74.8 560.9 86 575.4 80.6 582.5 78.6 585 87.3" fill="none" style="marker:url(#mn)"></path><path d="M598.2 54.4 600.4 60 598.9 52.6 600.6 56.2 598.6 55.2 599.8 58.2 599.4 52.3 599.3 53.6 600.2 59 600.9 49.6 598.2 58.5 598.6 54.7 598.9 76.7 598.6 76.5 597.1 72.8 597 74.2 600.7 75.8 596.5 74 598.7 76.2 597.1 74.8 599.9 78.8 599.1 78.4 597.6 68.7 596.5 72.7 596.5 71.5 598.5 78.3 600 75.2 591.1 84 600.7 92.9 598.9 88.5 591 85.5 591.7 85.3 606.9 97.1 601.4 98.6 600.2 90.6 592.4 87.9 595.3 92 598.8 92.9 597.6 92.8 592 89 600 92.2 588 89.3 603.8 95.1 594.8 93.2 587.2 89.6 593.8 87.2 601.2 97.3 599.6 91.6 591.8 92.3 601.8 98.9 592.5 87.9 599.2 96.4 588.6 89.2 600 97.4 590.3 86.3" fill="none" style="marker:url(#mlb)"></path><path d="M605.7 69.6 604.1 64.9 604.1 65.6 603.9 65.1 603.8 67.2 605.1 66 604.1 67.3 603.6 66.1 604.9 63.1 604.8 68.7 597.7 80.8 593.8 79.7 599.2 84.2 596.8 82.9 596.1 81.2 595.8 79.9 598.5 83.6 596.9 79.5 599.2 84.3 599.6 84.3 590 93.4 588.4 90.9 589.7 90.3 589 96.6 591.4 95.8 590.1 95.9 589.3 91.3 589.6 90.8 588.5 91.6 600.4 41 606.5 52.5 593.7 76.5" fill="none" style="marker:url(#mg)"></path><path d="M597.5 37.1 602.3 40 604.2 42.9 596.5 44.8 597.5 47 598.5 49.6 599.4 64" fill="none" style="marker:url(#mo)"></path><path d="M597.5 22 599 23 600.5 24.5 601.5 26 602.5 24 603.5 22.5 598.5 21.5 600.5 22.5" fill="none" style="marker:url(#mdr)"></path><path d="M602.3 21.05L603.70 22.7L602.3 24.34L600.89 22.7Z" fill="#8a2be2" stroke="#502080" stroke-width="0.4"></path></g></g><rect x="533.7" y="0.6" width="135.59" height="111.7" fill="none" stroke="#979797" stroke-width="1"></rect><line x1="530.7" x2="533.7" y1="107.1" y2="107.1" stroke="#979797" stroke-width="0.8"></line><text x="528.5" y="109.89" font-size="7" text-anchor="end" fill="#222">0</text><line x1="530.7" x2="533.7" y1="85.58" y2="85.58" stroke="#979797" stroke-width="0.8"></line><text x="528.5" y="88.38" font-size="7" text-anchor="end" fill="#222">2</text><line x1="530.7" x2="533.7" y1="64.06" y2="64.06" stroke="#979797" stroke-width="0.8"></line><text x="528.5" y="66.86" font-size="7" text-anchor="end" fill="#222">4</text><line x1="530.7" x2="533.7" y1="42.53" y2="42.53" stroke="#979797" stroke-width="0.8"></line><text x="528.5" y="45.33" font-size="7" text-anchor="end" fill="#222">6</text><line x1="530.7" x2="533.7" y1="21.01" y2="21.01" stroke="#979797" stroke-width="0.8"></line><text x="528.5" y="23.81" font-size="7" text-anchor="end" fill="#222">8</text><line x1="669.3" x2="672.3" y1="106.7" y2="106.7" stroke="#b4b4ff" stroke-width="0.8"></line><text x="674.09" y="109.2" font-size="7" text-anchor="start" fill="#7878ff">0</text><line x1="669.3" x2="672.3" y1="83.30" y2="83.30" stroke="#b4b4ff" stroke-width="0.8"></line><text x="674.09" y="85.80" font-size="7" text-anchor="start" fill="#7878ff">20</text><line x1="669.3" x2="672.3" y1="59.90" y2="59.90" stroke="#b4b4ff" stroke-width="0.8"></line><text x="674.09" y="62.40" font-size="7" text-anchor="start" fill="#7878ff">40</text><line x1="669.3" x2="672.3" y1="36.50" y2="36.50" stroke="#b4b4ff" stroke-width="0.8"></line><text x="674.09" y="39.00" font-size="7" text-anchor="start" fill="#7878ff">60</text><line x1="669.3" x2="672.3" y1="13.10" y2="13.10" stroke="#b4b4ff" stroke-width="0.8"></line><text x="674.09" y="15.60" font-size="7" text-anchor="start" fill="#7878ff">80</text><rect x="533.7" y="116.9" width="135.59" height="12" fill="none" stroke="#979797" stroke-width="1"></rect><path d="M535.2 118.8h2.6M535.1 118.8l1 -0.6v1.2z" stroke="#444" stroke-width="0.55" fill="#444"></path><text x="538.4" y="119.9" font-size="3.4" font-style="italic" fill="#484848" textLength="20.20" lengthAdjust="spacingAndGlyphs">LOC100506390</text><rect x="543" y="120.60" width="1" height="1.2" fill="#3030d0"></rect><path d="M590.40 118.8h2.6M590.30 118.8l1 -0.6v1.2z" stroke="#444" stroke-width="0.55" fill="#444"></path><text x="593.6" y="119.9" font-size="3.4" font-style="italic" fill="#484848" textLength="5.79" lengthAdjust="spacingAndGlyphs">WT1</text><rect x="591" y="121" width="7" height="0.45" fill="#5050e0"></rect><rect x="591" y="120.60" width="1" height="1.2" fill="#3030d0"></rect><rect x="596.5" y="120.60" width="1.5" height="1.2" fill="#3030d0"></rect><path d="M622.2 118.8h2.6M624.9 118.8l-1 -0.6v1.2z" stroke="#444" stroke-width="0.55" fill="#444"></path><text x="612.7" y="119.9" font-size="3.4" font-style="italic" fill="#484848" textLength="8.89" lengthAdjust="spacingAndGlyphs">EIF3M</text><rect x="617" y="120.60" width="2" height="1.2" fill="#3030d0"></rect><path d="M656.90 118.8h2.6M659.6 118.8l-1 -0.6v1.2z" stroke="#444" stroke-width="0.55" fill="#444"></path><text x="646.5" y="119.9" font-size="3.4" font-style="italic" fill="#484848" textLength="9.80" lengthAdjust="spacingAndGlyphs">PRRG4</text><rect x="651" y="120.60" width="3" height="1.2" fill="#3030d0"></rect><path d="M554.7 125.19h2.6M557.4 125.19l-1 -0.6v1.2z" stroke="#444" stroke-width="0.55" fill="#444"></path><text x="547.3" y="126.3" font-size="3.4" font-style="italic" fill="#484848" textLength="6.80" lengthAdjust="spacingAndGlyphs">RCN1</text><rect x="551" y="127" width="2" height="1.2" fill="#3030d0"></rect><path d="M602.80 125.19h2.6M605.5 125.19l-1 -0.6v1.2z" stroke="#444" stroke-width="0.55" fill="#444"></path><text x="593.3" y="126.3" font-size="3.4" font-style="italic" fill="#484848" textLength="8.90" lengthAdjust="spacingAndGlyphs">WT1-AS</text><rect x="597" y="127" width="3" height="1.2" fill="#3030d0"></rect><path d="M626.2 125.19h2.6M626.1 125.19l1 -0.6v1.2z" stroke="#444" stroke-width="0.55" fill="#444"></path><text x="629.4" y="126.3" font-size="3.4" font-style="italic" fill="#484848" textLength="10.89" lengthAdjust="spacingAndGlyphs">CCDC73</text><rect x="620" y="127.39" width="26.5" height="0.45" fill="#5050e0"></rect><rect x="620" y="127" width="1" height="1.2" fill="#3030d0"></rect><rect x="628.33" y="127" width="1.5" height="1.2" fill="#3030d0"></rect><rect x="636.33" y="127" width="2" height="1.2" fill="#3030d0"></rect><rect x="645.5" y="127" width="1" height="1.2" fill="#3030d0"></rect><path d="M667.2 125.19h2.6M669.9 125.19l-1 -0.6v1.2z" stroke="#444" stroke-width="0.55" fill="#444"></path><text x="656.7" y="126.3" font-size="3.4" font-style="italic" fill="#484848" textLength="9.89" lengthAdjust="spacingAndGlyphs">QSER1</text><rect x="658" y="127.39" width="10" height="0.45" fill="#5050e0"></rect><rect x="658" y="127" width="1" height="1.2" fill="#3030d0"></rect><rect x="666.5" y="127" width="1.5" height="1.2" fill="#3030d0"></rect><line x1="535.8" x2="535.8" y1="128.9" y2="131.9" stroke="#979797" stroke-width="0.8"></line><text x="535.8" y="140.1" font-size="7" text-anchor="middle" fill="#222">32</text><line x1="562.8" x2="562.8" y1="128.9" y2="131.9" stroke="#979797" stroke-width="0.8"></line><text x="562.8" y="140.1" font-size="7" text-anchor="middle" fill="#222">32.2</text><line x1="590" x2="590" y1="128.9" y2="131.9" stroke="#979797" stroke-width="0.8"></line><text x="590" y="140.1" font-size="7" text-anchor="middle" fill="#222">32.4</text><line x1="617.1" x2="617.1" y1="128.9" y2="131.9" stroke="#979797" stroke-width="0.8"></line><text x="617.1" y="140.1" font-size="7" text-anchor="middle" fill="#222">32.6</text><line x1="644.3" x2="644.3" y1="128.9" y2="131.9" stroke="#979797" stroke-width="0.8"></line><text x="644.3" y="140.1" font-size="7" text-anchor="middle" fill="#222">32.8</text><text x="600" y="150" font-size="7" text-anchor="middle" fill="#222">Position on chr11 (Mb)</text><text x="538" y="15.39" font-size="14" font-weight="bold" fill="#000">d</text><text x="600.8" y="20" font-size="5.7" text-anchor="middle" fill="#000">rs10835920</text></g><g><clipPath id="ce"><rect x="13" y="183" width="135.9" height="114.60"></rect></clipPath><g clip-path="url(#ce)"><line x1="21.2" x2="21.2" y1="237.8" y2="292" stroke="#6f6fff" stroke-width="1"></line><line x1="28.2" x2="28.2" y1="214" y2="292" stroke="#6f6fff" stroke-width="1"></line><line x1="57" x2="57" y1="222.3" y2="292" stroke="#6f6fff" stroke-width="1"></line><line x1="95.4" x2="95.4" y1="196.7" y2="292" stroke="#6f6fff" stroke-width="1"></line><line x1="104" x2="104" y1="246" y2="292" stroke="#6f6fff" stroke-width="1"></line><line x1="139.8" x2="139.8" y1="261" y2="292" stroke="#6f6fff" stroke-width="1"></line><g><path d="M38.6 291.7 46.5 285 66.9 291.9 64.2 280 101.2 289 63.6 281.7 20.4 285.4 37.5 290.5 95.5 279.3 104.7 289.6 37.4 283.8 72.2 284.6 138.6 281.8 136.6 282.6 17.5 282.6 114.9 288.8 26.6 282.3 115 288.1" fill="none" style="marker:url(#mn)"></path><path d="M121.1 288.7" fill="none" style="marker:url(#mgr)"></path><path d="M17.2 287.2 121.6 290.9" fill="none" style="marker:url(#mn)"></path><path d="M23.5 281.6" fill="none" style="marker:url(#mgr)"></path><path d="M27.3 274.7 128.3 275 147.5 290.1 34.8 290.6 145.8 286.1 102.5 280 86.7 291.8 97.4 289.7 59.4 283.5 77.3 279.9 119.4 279.9 60.3 276.7 55 285.7 54.6 282.8 64.3 291.2 133.1 291.6 127.3 288.2 70 286 41.7 288.1 61.4 286 134.1 285.5 85.5 290.5 142.1 285.9 81.6 286 78.1 284.4 126.7 277.8 90.8 281.1 127.7 285.3 27.8 278.7 33.9 283.8 15.2 279 64.6 289.8 65.9 291.9 126 289 41.8 283.3 89.8 288 110.3 291.7 85.2 285.6 60.9 277.5 81 274.5 73 282.1 126.3 288 28.4 291.4 61.8 291.3 40.9 289.7 88.2 288.8 89.6 286.1 107.5 290.6" fill="none" style="marker:url(#mn)"></path><path d="M67.5 282.3" fill="none" style="marker:url(#mgr)"></path><path d="M24 291.1 149.3 286.4 75.8 281.7 49.6 290.7 146.7 285.2 76.4 282.5 130.7 278.5 111.4 283.8 98.1 289.3 143.6 290.6 45.4 284.2 60.8 285.2 41.9 291.4 20.2 285.3" fill="none" style="marker:url(#mn)"></path><path d="M118.2 291.8" fill="none" style="marker:url(#mgr)"></path><path d="M88.7 274 100 274.9 136.1 291.6" fill="none" style="marker:url(#mn)"></path><path d="M138.7 291.3" fill="none" style="marker:url(#mgr)"></path><path d="M124.4 278.9 81 286 45.3 291.1 103.3 289.8 96.2 290.6 62.2 285.5 123.3 276.6" fill="none" style="marker:url(#mn)"></path><path d="M144.4 284.4" fill="none" style="marker:url(#mgr)"></path><path d="M67.9 290.1 98.5 289.3 135.2 283.3 46.5 280.4 49.3 289.6 24.1 271.4 19.2 273.6 137.2 291.9 60 291.8 121.7 289.5 27.9 288.7 30 282.7 85.4 286.9 63.9 283.5 38.3 286.6 37.9 287.5 35.3 290.9 87.8 279 26.4 287.8 107.6 282.2 38.7 289.9 43.7 291.7 100.6 288.3 123.1 288 105.9 281.2" fill="none" style="marker:url(#mn)"></path><path d="M92 288.9" fill="none" style="marker:url(#mgr)"></path><path d="M89.8 287.2 16.2 291 118 280.1" fill="none" style="marker:url(#mn)"></path><path d="M46.1 288.1" fill="none" style="marker:url(#mgr)"></path><path d="M146.2 274.2 119.1 285 78 290.6 146.1 288.3 141.3 287 104.3 284.9 85.5 287.6 148.7 286.5 98.9 279.6 129.6 287.6 22.2 282.3 58.1 283.1 142.8 287.4 60.2 288 30.9 284.3 47.8 284.5 17.1 282.1 88.6 288.3 18.2 289.4 83.5 288.5 131.2 287.1 146.4 284.8 47.7 288.3 39.5 285.7 65 290.1 63.6 290.7 111.9 286.9 43.2 288.2 138.1 290.1 86.4 281 113.2 289.9 112.9 290.9 143.4 290.9 94.6 288.7 86.6 274.6 121.3 290.3 119.2 282.3 84.3 289.3 33.2 285.8 41.4 279.5 59.7 290.3 80.3 280.9 61.5 289.8 106.5 283.8 52.7 291.5" fill="none" style="marker:url(#mn)"></path><path d="M20.1 288" fill="none" style="marker:url(#mgr)"></path><path d="M51.9 286.7 38.3 291.3 63.2 285.9" fill="none" style="marker:url(#mn)"></path><path d="M30.1 289.2" fill="none" style="marker:url(#mgr)"></path><path d="M124.5 282.5 87.7 284.7 113.8 282.4 59.7 291.2 81.8 289.3 84.9 277.2 128.5 287.3 33.8 287.7 47.5 288.9 107.8 282 103.6 282.6 111.6 285.8 127.6 290.2 39 290.4 70 287.8 110.8 289.6 71.5 276.6 25.1 291.6 18.6 288.4 90.3 290 95.2 286.9 105.4 291.8 68.9 288.2 18.7 268.8 38.2 279.6 22.3 284.5 142.7 290.9 22 290.8 39.8 287.6 19.9 281.6 101.1 285.1 66.9 290.5 100.2 279 52.9 289.1 74.6 289.7 134.9 286.8 117.8 286.3 111.1 285.8 33.7 283.6 30.2 273.7 133.2 291.5" fill="none" style="marker:url(#mn)"></path><path d="M30.9 290.7" fill="none" style="marker:url(#mgr)"></path><path d="M139.8 291.3" fill="none" style="marker:url(#mn)"></path><path d="M111.7 288.8" fill="none" style="marker:url(#mgr)"></path><path d="M66.1 280.1 120.5 288.3 55.9 290.8 106.6 289.2" fill="none" style="marker:url(#mn)"></path><path d="M64.1 275.3" fill="none" style="marker:url(#mgr)"></path><path d="M116 291 48.6 278.8 54 291 148.9 286.8 102.7 287.3 66.6 286.1 31 283 33.2 289.4 36.4 286 141.9 283.1 116.6 273.7 127.3 291.6 127.5 289.5 23.7 275.9 117.1 287.3 89.6 289.4 24.5 284.6 33.7 285.3 117.4 281.7 62.6 288.3 122.2 286.5" fill="none" style="marker:url(#mn)"></path><path d="M48.9 280.2" fill="none" style="marker:url(#mgr)"></path><path d="M129.2 289.2 138.1 291.5 40.4 287.2 123.7 287.6 22.9 291.5 76.3 286.2 36.1 279.6 34.4 290.3 121.4 279.3 89.7 281.7 117.6 291.6 61.4 291.5 43.8 282.9 87.7 291.6 96.9 291.3 20.8 288.6 31.7 283.8 109.5 276.5 108.8 277.1 134.7 289.2 109 292 94.2 290.6 35.8 287.4 77.5 285.3 24.9 283.7 106.2 288 22.6 290.7 140.4 281.6 94.7 284.2 75.4 282.9 120.7 285.1 72.3 277.5 37.4 285 40.7 282.3 140.3 284.2 114 291.9 62.2 285 110.1 286.1 145.4 291.9 96.2 288.2 111.3 289" fill="none" style="marker:url(#mn)"></path><path d="M76.8 291.8" fill="none" style="marker:url(#mgr)"></path><path d="M94 288.4 112.7 288.7 96.1 285.1 40.3 286 105.3 291.2 110 283.8" fill="none" style="marker:url(#mn)"></path><path d="M124 287.7" fill="none" style="marker:url(#mgr)"></path><path d="M16.6 291.1 110 277.8 104.9 286.6 27 280.8 114.6 281" fill="none" style="marker:url(#mn)"></path><path d="M35 277.6" fill="none" style="marker:url(#mgr)"></path><path d="M130.5 291.8 20.5 286.5" fill="none" style="marker:url(#mn)"></path><path d="M87.7 283.4" fill="none" style="marker:url(#mgr)"></path><path d="M13.7 285.5" fill="none" style="marker:url(#mn)"></path><path d="M89.8 290.6" fill="none" style="marker:url(#mgr)"></path><path d="M91.1 291.8 84.5 280.1 35.8 291.9 14 289.4 32.7 290 50.9 277.6 111.2 291.7 130.4 291.7 79.4 277.1 110.8 289 138 289.3 21.4 274.2 145.3 284.8 52.9 288.5 123.1 291.2 32.4 282.6 75.9 282.5 113.1 276.8 79.9 289.8 25.1 280.5 95.3 282.8" fill="none" style="marker:url(#mn)"></path><path d="M118.4 281.6" fill="none" style="marker:url(#mgr)"></path><path d="M91.2 282 142.3 291.3 84.8 277.2 32.4 286.9 19.6 273.4 60.9 284.7 39.9 291.2 50.3 284.8 144.5 279.6 119 277.4 20.1 288.4 50.2 280.2" fill="none" style="marker:url(#mn)"></path><path d="M126.3 290.4" fill="none" style="marker:url(#mgr)"></path><path d="M89.3 289.2 56.1 288.9 25.6 285 106.1 291.3 66.5 286.1 63.3 279.8 132.5 288.1 78.1 291.2 86.8 290.6" fill="none" style="marker:url(#mn)"></path><path d="M143.9 284.1" fill="none" style="marker:url(#mgr)"></path><path d="M109.4 281.8 107.9 287.6 45.6 283.5 144.7 291.7 29.1 276.5 109.7 281.9 112.2 291.9" fill="none" style="marker:url(#mn)"></path><path d="M51.9 287.7" fill="none" style="marker:url(#mgr)"></path><path d="M141.5 285.4 30.3 277 54.2 291 147.2 288.4 37.6 283.8 76.4 290.6" fill="none" style="marker:url(#mn)"></path><path d="M120 287.1" fill="none" style="marker:url(#mgr)"></path><path d="M116.8 289.1 56.8 291.8 13.1 281.5 58.4 289.4 104.3 291 25.6 282.3 79.6 287.1 149.2 287.5 43.7 285.4 74.8 282.1 65.9 289 100.8 291 58 284.8 53.7 277.6 23.6 283.1" fill="none" style="marker:url(#mn)"></path><path d="M101.6 289.8" fill="none" style="marker:url(#mgr)"></path><path d="M147.4 279.7 30.9 291.4 19.8 283.9 139.3 283.9 56.3 281.6 13.5 291 132.1 286.1 102 288.9 147.5 283.2" fill="none" style="marker:url(#mn)"></path><path d="M24.5 281.9" fill="none" style="marker:url(#mgr)"></path><path d="M97.9 281.5 24.2 285.7 65.5 291.1 40.8 289.8 69.6 290.7 45.1 289.5 142.5 290 38.9 287 118.9 288 47.7 279.8 21.9 290.1 22.4 290.4 31.5 289.2 33.9 290.1 117.2 291.9 92.9 287.6 58.8 289.6 97.7 287.8 31.2 289.7 116.1 290.1 70.5 284.3 133.4 291.9 117.6 290.5 73.7 275.6 29.9 281.2 43.8 284.4 74 291.8" fill="none" style="marker:url(#mn)"></path><path d="M84.6 291.5" fill="none" style="marker:url(#mgr)"></path><path d="M135.3 291.8 62.1 291.9 70.8 283 45.4 285 30.4 281.4 105 292 58.3 282.9 25.3 291.1 77 290.9 70.9 278 79.7 279.3 94.8 290.8 107.6 284 16.7 279.9 112.4 283.9 111.6 290 112.9 286.3 18.5 278.8 60.8 281.5 117.6 287.1 29.9 286.4 30.7 287.7 50 287.8 41.8 281.1 138.3 291.6 80.6 279.2 89.5 288.9 104.5 286.8 146.1 283.5 15 290.8 131.3 291.7 128.9 285.2 129.9 283.9 126.1 289.1 107.5 289.6 137.7 285 23.1 285.7 59.4 285 141.4 277.7 75.5 279.6 81.9 288.8 58.1 279.2 70.9 290 70.7 291.1 48.4 287.3 57.7 289.3 110.3 287.6 112.6 286.4 18 279.1 62.7 288.7 112.8 286 129.3 283.8 63 283.6 86.6 289.8 74.5 283.1 57.2 288.3 139.3 284.7 17.8 279.1 58.8 287.8 80.4 290.4 55.3 286.8 115.9 285.7 133 290.9 101.3 284.7 136.4 288.7 106.1 290.7 58.8 291.6 21.8 283 78.2 291.1 59.4 289.3 121.3 288.6 56.8 290.6 106.7 290.5 97.6 284.2 14.9 291.4 104.7 287.8 72.6 285.5 62.4 290.4 72.8 278.8 86.8 284.4 121.9 281.7 21.9 287.5 139.2 291.9 105.3 276.2 19.6 287.9" fill="none" style="marker:url(#mn)"></path><path d="M101.4 285.2" fill="none" style="marker:url(#mgr)"></path><path d="M130.4 291.2 61.9 290.2 20.7 289.8 131.7 283.7 96.1 288.8 126 273.7 107.6 280.5 106 277.4 32.3 272.2 79.8 283.4 25.3 288.6 119.9 289.6 74.5 288.6 115.7 289.8 139.2 282.3 115.4 289.1 17.4 277.9 107.3 291.4 50.4 284.9 109.1 287.5 130.2 290.6 135 288.6 114.5 277.9 81.2 280.4 101.6 288.9 135.7 291.2 26.9 285.9 129.6 288 72.5 287.1 53.4 291.4 96.5 287.9 37.5 282.2 107.5 290.1 25.9 287.2 98.7 290.9 84.3 290.6 92 284.8 27.9 291.5 141.7 282.7 18.6 285.4 145.9 289.7 112.1 287.1 135 287.8 46.2 291.6" fill="none" style="marker:url(#mn)"></path><path d="M58.7 287.8" fill="none" style="marker:url(#mgr)"></path><path d="M141.6 282.1 115.9 284.8" fill="none" style="marker:url(#mn)"></path><path d="M125.9 280.6" fill="none" style="marker:url(#mgr)"></path><path d="M72 283.1 38.6 290.5 101.8 283.3 99.3 290.4 27.6 285.8 89.9 284.6 69.3 284 124.8 289.1 26.3 287.8 107.4 290.5 79.7 283.3 105.9 288.6 98.4 290.9 49.6 287.2 132.2 289.5 48.2 283.9 77.6 291.4 103.7 289.7 60.3 289.1 94.2 291.3 105.3 284.4 94 282.5 88.9 288.5 147 275.5 143 290.8 89.6 287.3 76 288.6 76.4 276.6 78.3 286.3 47.8 276.6" fill="none" style="marker:url(#mn)"></path><path d="M69.2 283.7" fill="none" style="marker:url(#mgr)"></path><path d="M78.9 290.3 108.3 284.2 69.6 283.1 52.5 291.4 18.2 276.6 92.4 287.8 138.7 284.9 17 279.4 34.4 291.7 88 280.8 18.8 275.2 121.8 283.5 121.5 285.5 44.2 290.5 91.8 290.6 21 288.1 56.3 287.4 61.2 291.7 57.8 290.5 53.5 282.7 103.7 288.7 42.4 290.5 36.5 286.1 94.4 282.3 78.7 288.5 75.5 286.6 104.1 283.4 51.9 276.8 100.2 288.3 87.7 286.4 124.5 290 146.8 286.9 44.1 286.8" fill="none" style="marker:url(#mn)"></path><path d="M31.8 289.7" fill="none" style="marker:url(#mgr)"></path><path d="M100.6 282.4 138.8 277.3 30.3 283.1 93.4 287 107.3 285.6 13.8 284.4 113.3 287.7 37.7 291.6 130.8 287.5" fill="none" style="marker:url(#mn)"></path><path d="M65.9 286.6" fill="none" style="marker:url(#mgr)"></path><path d="M53.1 286.7 76.7 291 33.5 279.6 126.1 274.9 126.6 289.8 38.5 285.5 121.8 282.5 14.7 280.2 27.2 275.9 122.5 286.1 84.2 287.5 22 292 111.3 281.1 129.3 286.6 144.7 291.5 120 289.4 77.2 287.2" fill="none" style="marker:url(#mn)"></path><path d="M46.9 289.6" fill="none" style="marker:url(#mgr)"></path><path d="M16.2 292 106.6 271.9 85.9 290.1 52.1 290.3 17.7 284.3 62.3 289 131.5 275.4 82.6 282.3 40.5 291.6 28.7 288.1 23 291.5 84.3 291.7" fill="none" style="marker:url(#mn)"></path><path d="M123 285.9" fill="none" style="marker:url(#mgr)"></path><path d="M40.9 289.1 126.1 289.1 82.4 289.8 93.3 285.5 22.8 291.5 90.7 291 65.4 291.3 86 291.2 41.2 284.3 27.1 283.7 74.9 289.8 35.2 282.4 138.7 291.5 145.9 291.4 141.3 291.7 29.1 291.9 87 290.2 50.2 287.9 92.3 285.1 24.4 292 139.5 288.4 93.8 290.9 141.3 291.9 38.5 290.9 39.9 290.7 56.2 285.4 113 290.2 69.8 292" fill="none" style="marker:url(#mn)"></path><path d="M41.7 287.8" fill="none" style="marker:url(#mgr)"></path><path d="M90.2 280 115.8 283.9 148.9 288.4 148.2 285.2" fill="none" style="marker:url(#mn)"></path><path d="M139.1 289.5" fill="none" style="marker:url(#mgr)"></path><path d="M142.4 289.6 39.3 291.5" fill="none" style="marker:url(#mn)"></path><path d="M78.7 272.2" fill="none" style="marker:url(#mgr)"></path><path d="M125.7 286.4 146.1 289.4 69.8 288.6 91.9 290.5 99.9 278.7 61.1 278.9 103.7 288.4 117.1 286.1 109.6 288.2 85.5 285.9 48 287.5 59.4 289.4 45.8 290 73.8 283.1 14.4 282.7 94 290 85.3 291.4 69.6 291.2 57.1 289.7 135.8 286.7 138.1 288.2 106.2 277.9 114.1 286.8 35 285.5 45.6 282.3 97.1 288.9 144 290.8 55 290.8 51.5 277.5 36.4 291 124.5 282.2 21.4 285.6 62.5 291.2" fill="none" style="marker:url(#mn)"></path><path d="M25.9 276.7" fill="none" style="marker:url(#mgr)"></path><path d="M46.7 291.4" fill="none" style="marker:url(#mn)"></path><path d="M18.2 285.2" fill="none" style="marker:url(#mgr)"></path><path d="M50.4 288.5 52.8 291.5 106.2 282.2 67.1 290.7 91.9 290.4 98.6 286.8 103.6 279.5 78.4 278.6 103.2 278.9 48.6 287 103.1 287.5 47.6 291.8 116.7 289.8 53.4 289.3 61.9 291 60.6 289.4 15.4 288.8 17.6 271 91.2 287.2 117.9 278.5 47.5 287.3 105.4 289.9 70.5 288.3 95.8 280.6 52.5 290.9 141.5 285.5 104.4 291.5 59.1 285.2 35.6 283.9 88.8 287.7 76.9 291.8 76.8 288.2 38.7 291.1 63.7 284 138.6 286.4 126.4 290.8 111.8 288.8 12.9 284.9 81 287.6 145.5 291.8 24.3 287.8 56.5 278.3 125.4 289 88.9 292 18.8 276.1 67.6 290.8 141.8 280.8 91.1 280 104.4 285.6 120 276.5 29.2 284 147.3 288.2 108.5 280.7 90.4 287.4 80.5 290.3 23.3 284.7 104.8 289.3 130 284 13.8 286.6" fill="none" style="marker:url(#mn)"></path><path d="M120.1 277.7" fill="none" style="marker:url(#mgr)"></path><path d="M75.6 276.9 31.3 290.9 78.4 278.4 29.8 287.2 29.2 289.4 143.5 285.9 128.6 286.9 120.2 278.6 69.5 290.7 62.3 290.2 102.3 276.3 96.8 291.2 97.5 287.2 87 286.2 12.8 290.8 99.6 290.6 146.2 291.1 145.6 290.9 35.1 291 139.2 282.5 54.2 283 102.2 286.8 81.8 287.9 49.6 289.3 107.8 278.9 87.4 291.7 75.2 291.7 81.1 282.4 70.8 285.1 21.5 282.3 38.5 290.4 29.6 291.1 140.9 291.1 59.9 289.1 50.1 287.2 27.9 276.3 63.8 290.9 39.1 274.6 127.2 277.7 35.8 285 90.5 289.3 17.8 277.4 30.2 284.2 80.8 278.3 118.2 286.2 113.1 280.8 137.4 280.8 64.9 285.3 44.6 288.7 56.6 283 56.1 290.7 28.5 275.2 67.5 291 114.4 286.7 83.7 282.4 95 290.9 43.7 291.5 38.8 290.3 141.2 291.1" fill="none" style="marker:url(#mn)"></path><path d="M97.7 279.3" fill="none" style="marker:url(#mgr)"></path><path d="M61.3 281.1 74.7 291.8 89.9 282.2 22.8 289.8 97.3 290.4 140.3 278.9 25.6 276.5 140.5 291.8 148.5 286.4 139.6 291.5 120.2 285.3 135.7 274 84.4 283.1 132.3 286.1 138.8 287.5 53.9 290.7 90.9 289.9 117.1 289.3 42.5 267.3 44.9 262.7 137.5 285.8 143.9 290.7 71.1 288.1 68.3 291.7 61.9 291.1 60.5 278.4" fill="none" style="marker:url(#mn)"></path><path d="M146.4 276.4" fill="none" style="marker:url(#mgr)"></path><path d="M35.7 283 124.7 287.1 52.9 291.5 78.6 283.1 71.7 288.6 27.8 279.8 126.8 290.9 125.7 287.9 36.1 282.1 63.9 284.4 51.1 283.4 52.5 289.2 129.5 271.2" fill="none" style="marker:url(#mn)"></path><path d="M32.8 288.3" fill="none" style="marker:url(#mgr)"></path><path d="M74.7 290.2 140 270.1 101.4 289.5 15 289.1 68.5 282.2 47 283.4 72.2 283.9 82.1 291.6 140.9 284.4 142.1 286.8 67.9 274.2 119.1 288.4 23 285.1 71.8 275.5 18 285.6 95.9 284.1 85.6 290.1 46.9 290.5 42 290.6 13 287.4 78.8 288 136.1 290.1 34 277.2 29.2 283.5 54.7 290.9 97.7 291.1 32.3 284.2 114.3 287.7 129.8 291.7 137.6 289.7 82.2 290.3" fill="none" style="marker:url(#mn)"></path><path d="M145.5 281.7" fill="none" style="marker:url(#mgr)"></path><path d="M14.5 278.1 21.3 288.9 61.5 291 100.5 291.7 13.2 289.4 76.2 285.1 142.6 288.8 16.6 291.1 96.5 286.3 98.2 291.2 80 289.2 56.4 281 120 291.7 106.8 287.8 43.4 290.5 98.8 289.7 147.8 286.9 41.2 289 60.9 269.9 100.7 288.9 130.3 283.4 131.2 287.7 144 285.7 86.7 290.7 103.8 291 129 281.9 43.3 288.2 135.6 290.4 48 291 80.2 285.7 80.3 290.6 105 273.7 80.7 290.6 21.3 287.8 68.3 288.7 132.8 287 60.4 269.4 82 280.5 148.8 290.9 24.1 273.2 53.9 266.8" fill="none" style="marker:url(#mn)"></path><path d="M99.7 269.5" fill="none" style="marker:url(#mgr)"></path><path d="M60.2 290.8 107.6 288.4 63.8 290.9 22.2 286.6 99.3 289.2 108.3 288.9 138.8 286.6 17.6 285.4 119.7 289.9 145.5 283.2 109.8 288.2 22.4 281.3 40.6 277 112.5 290.5 129.1 278 38 291.9 14.9 289.1 57 290.7 142.3 269.4 49.2 281 84.7 290.6 13.1 270 131.9 290.1 101.8 291.9 118.3 290 146.1 280.8 83 265.7 111.7 291.1 19 281.1 49.6 291.3 24.9 291 96.8 290.8 147.4 291 40 290.6 15 285.4 33.7 271.7 46.8 284.5 83.1 285.5 119.6 290.8 32.1 289.5 92.9 274.7 64.3 291.2 43.5 284.9 13.9 290.1 34.7 284.3 146.5 291.7 135.7 291.3 102.4 288.6 140.4 291.1 71.8 276.6 33.7 291.7 70.4 285 83.4 286 131.9 291.8 80.8 277.6 149.3 281.5 51 290.4 34.1 287.7 74.5 290.7 39.4 289.6 124.4 288.3 129.1 291 40.1 285.7 70.8 286.5 99.1 291.3 14.1 289 118 284.3 115.8 285.5 84.3 291.9 144.8 270.9 110.4 290.3 146.2 280.4 38.8 290.7" fill="none" style="marker:url(#mn)"></path><path d="M33.8 267.5" fill="none" style="marker:url(#mgr)"></path><path d="M120.5 286.4 33.2 286.9 101.2 284.4 28.8 279.4 25.7 286.3 139.3 290.5 35.6 276.9 81.8 279.3 95.3 283.9 132.1 291.2 24.4 259.1 81.7 284.8 108.8 285.7 89.6 290.8 110.3 288.6 91.8 291.4 70.2 287.7 71.1 284.1 99 284.7 55.3 290 146.1 291.5 132.2 288.5 100.3 279.1 128.9 284.7 116.8 289.3 142.8 289.1 56.4 280.1 131.2 289 88.9 264.8 93.7 284.2 129 289.8 128.7 286.1 107.6 290.7 41.1 291.5 24.2 285.2 137.3 290.7 62.6 276.1 85.3 291.4 118.9 289.9" fill="none" style="marker:url(#mn)"></path><path d="M76.8 289.8" fill="none" style="marker:url(#mgr)"></path><path d="M30.6 291.7 76.8 280.6" fill="none" style="marker:url(#mn)"></path><path d="M85.6 291.4" fill="none" style="marker:url(#mgr)"></path><path d="M96.9 290.8 135 288.3 45.9 276.3 119.4 283 134 279.2 81.1 291.8 54.5 290.8" fill="none" style="marker:url(#mn)"></path><path d="M64.1 288.9" fill="none" style="marker:url(#mgr)"></path><path d="M107.2 278.7 37.1 288.3 78.7 274.9 64.9 288.8" fill="none" style="marker:url(#mn)"></path><path d="M73.2 283.2" fill="none" style="marker:url(#mgr)"></path><path d="M98.1 286.9 55.3 291.2 147 287 15.4 291.9 60.5 289.5 68.6 289.8 40.5 284.9 121.6 278.5 136.1 290.1 16.6 285 69.2 291.9 90.4 288.8 101.5 282.7 36.2 287.9 17.2 287.5 42.8 291.9 144.1 284.6 96.4 291.5 42.1 289.6 146.8 268.1 80 286.6 59.8 287.3 96.8 286.7 17.3 290.2 130.2 290.3 63 291.4 122.5 289.6 46.4 284.7 30.7 286.2 46 289 71.7 288.5 131.4 289.9 124.6 279 58.5 288.3 36.8 278.4 80.8 284.5 48.5 284 134.3 287.6 75.7 289.8 108.9 275.3 124 292 13.8 272.4 121.5 286 15.2 287.5 131.4 288.5 20.8 289.2 79.4 289.7 32.9 290.4 28.9 271.5 101.3 279.4 121.8 287.9 123.7 291.6 25.7 287.2 101.7 274.1 116.8 287 50.3 281.3 48.2 286.5 56.6 288.9 141.6 288.7 57 289.1 123.5 291.5 80.6 289.2 29.1 292 115.5 287.4 45 286 33.9 289.1 47 290 128.6 288.9 121.7 290.6 41.8 273.5 136.7 287.2 72.7 288.9 20.4 284.9 139 284.2 141 284.2 48.5 274.6 118.5 286 94.8 286 109.9 291.2 64.7 291 55.9 289.1 64.9 290.6 89.1 288.5 20.3 282.4 148.3 289.1 111.5 287 71.4 288.3 43.2 283.7 77.4 291 19.9 284.1 37.1 289.2 60.5 291.5 115.9 289.9 97.1 274.3 79.9 289.2 115.8 288.2" fill="none" style="marker:url(#mn)"></path><path d="M65.5 291.6" fill="none" style="marker:url(#mgr)"></path><path d="M149.3 290.7 76.3 287.9 27 288.2" fill="none" style="marker:url(#mn)"></path><path d="M91.4 287.7" fill="none" style="marker:url(#mgr)"></path><path d="M124.8 269.9 41.5 275 146.3 290.5 102.8 291.5 94 282.3 89.9 290.7 22.7 289.6 60.5 289.8 15 285.2 86 290.8 33.7 279.8 39.2 290 39.7 289.4 69.3 277.2 89.1 287.2 45 287 95.3 274 96.5 280.1 13.6 291.2 120.2 289.7 34 291.2 29.1 290.7 142.1 267.1 26 276.2 128.2 291.5" fill="none" style="marker:url(#mn)"></path><path d="M78.6 261.3" fill="none" style="marker:url(#mgr)"></path><path d="M58.4 275.3 66.9 274 85.5 286 147.7 288.4 50.6 285.1 64.4 286.5 48.3 291 40.4 286.9 42.7 290.1 67 276.4 86.5 291.7 24.6 292 69.8 288.5 140.1 286.5 53.8 288.7 144.1 291.7 110.9 289.7 117.2 288 30.9 282.7 111.3 287.1 81.9 289.6 73.3 275.4 90.5 285.9 124.9 291.8 82.2 289.5 91 291.8 50.5 291 90.3 286.8 143.7 290.1 40.6 292 24.8 288.3 136.8 282.4 34.9 283.1 86.1 290.1 43.1 290.6 78.4 291.5 49.3 291.6 48 286.8 86.3 291.7 145.4 291.7 132.6 286.7 116.7 274.5 69.1 255.6 71.8 260.9 72.5 257.7 70.1 257.5 69.5 250.2 70.8 254.8 70.7 255.9 72.5 253.6 73.5 256.1 70.3 252.2 70.8 249.5 72.1 255.6 71.7 248.8 72.3 250.4 73.4 258.3 69.9 257.8 72.8 252.3 69.4 258.3 69 252.5 69.9 254.6 68.8 256 68.4 258.7 69.1 273.6 66.4 267.2 66.2 270.5 68.4 271.2 72.3 265.9 67.8 266.9 70.9 270.1 74.5 271 73.8 267.7 66.6 271.3 73.6 270.9 65.1 267.8 67.1 268.4 71.7 273 70.4 266.1 66 268 66.4 273.2 73.6 266.5 71.8 269.4 71.8 267.7 70 272.5 66.7 268.9 68.9 267.4 65.5 271.9 69.5 267 69.7 241.3 100.5 256.4 101.6 261 102.8 262.1 109.7 255.2 116.7 259.8 127.1 256.4 130.6 259.8 130.6 263.3 114.4 267.5 122.5 269" fill="none" style="marker:url(#mn)"></path><path d="M14.3 261.3 47.8 265" fill="none" style="marker:url(#mgr)"></path><path d="M26 262 32 265 44 267" fill="none" style="marker:url(#mn)"></path><path d="M77.6 264 75.7 261.3 76.9 268 79.1 267 78 261.8 78.8 264.2 79.2 257.5 76.8 261.5 78.2 268.9 79.1 259 79.5 261.6 78.9 263.9 77.7 265.1 77.4 259.2 82.4 248.3 76.2 253 78 254 80 255 82 254 83.1 256.4 77.4 268 79 269.5 80.8 271.4 81.3 281.8" fill="none" style="marker:url(#mlb)"></path><path d="M82 215.9 78.5 237.4 78 238.5" fill="none" style="marker:url(#mg)"></path><path d="M82.4 207.1 81.3 217.7 81.3 240.6" fill="none" style="marker:url(#mo)"></path><path d="M81.3 197.4" fill="none" style="marker:url(#mr)"></path><path d="M80.8 193.35L82.20 195L80.8 196.65L79.39 195Z" fill="#8a2be2" stroke="#502080" stroke-width="0.4"></path></g></g><rect x="12.5" y="182.5" width="136.9" height="115.60" fill="none" stroke="#979797" stroke-width="1"></rect><line x1="9.5" x2="12.5" y1="292" y2="292" stroke="#979797" stroke-width="0.8"></line><text x="7.3" y="294.8" font-size="7" text-anchor="end" fill="#222">0</text><line x1="9.5" x2="12.5" y1="270.44" y2="270.44" stroke="#979797" stroke-width="0.8"></line><text x="7.3" y="273.24" font-size="7" text-anchor="end" fill="#222">2</text><line x1="9.5" x2="12.5" y1="248.88" y2="248.88" stroke="#979797" stroke-width="0.8"></line><text x="7.3" y="251.68" font-size="7" text-anchor="end" fill="#222">4</text><line x1="9.5" x2="12.5" y1="227.32" y2="227.32" stroke="#979797" stroke-width="0.8"></line><text x="7.3" y="230.12" font-size="7" text-anchor="end" fill="#222">6</text><line x1="9.5" x2="12.5" y1="205.76" y2="205.76" stroke="#979797" stroke-width="0.8"></line><text x="7.3" y="208.56" font-size="7" text-anchor="end" fill="#222">8</text><line x1="9.5" x2="12.5" y1="184.2" y2="184.2" stroke="#979797" stroke-width="0.8"></line><text x="7.3" y="187" font-size="7" text-anchor="end" fill="#222">10</text><line x1="149.4" x2="152.4" y1="292" y2="292" stroke="#b4b4ff" stroke-width="0.8"></line><text x="154.20" y="294.5" font-size="7" text-anchor="start" fill="#7878ff">0</text><line x1="149.4" x2="152.4" y1="268.15" y2="268.15" stroke="#b4b4ff" stroke-width="0.8"></line><text x="154.20" y="270.65" font-size="7" text-anchor="start" fill="#7878ff">20</text><line x1="149.4" x2="152.4" y1="244.3" y2="244.3" stroke="#b4b4ff" stroke-width="0.8"></line><text x="154.20" y="246.8" font-size="7" text-anchor="start" fill="#7878ff">40</text><line x1="149.4" x2="152.4" y1="220.45" y2="220.45" stroke="#b4b4ff" stroke-width="0.8"></line><text x="154.20" y="222.95" font-size="7" text-anchor="start" fill="#7878ff">60</text><line x1="149.4" x2="152.4" y1="196.60" y2="196.60" stroke="#b4b4ff" stroke-width="0.8"></line><text x="154.20" y="199.10" font-size="7" text-anchor="start" fill="#7878ff">80</text><rect x="12.5" y="302.2" width="136.9" height="12.10" fill="none" stroke="#979797" stroke-width="1"></rect><path d="M19.4 304.20h2.6M19.3 304.20l1 -0.6v1.2z" stroke="#444" stroke-width="0.55" fill="#444"></path><text x="22.59" y="305.3" font-size="3.4" font-style="italic" fill="#484848" textLength="10.90" lengthAdjust="spacingAndGlyphs">MIR4302</text><rect x="26" y="306" width="1" height="1.2" fill="#3030d0"></rect><path d="M50.1 304.20h2.6M52.8 304.20l-1 -0.6v1.2z" stroke="#444" stroke-width="0.55" fill="#444"></path><text x="39.6" y="305.3" font-size="3.4" font-style="italic" fill="#484848" textLength="9.89" lengthAdjust="spacingAndGlyphs">KLHL42</text><rect x="37.6" y="306.40" width="16.29" height="0.45" fill="#5050e0"></rect><rect x="37.6" y="306" width="1" height="1.2" fill="#3030d0"></rect><rect x="45" y="306" width="1.5" height="1.2" fill="#3030d0"></rect><rect x="51.9" y="306" width="2" height="1.2" fill="#3030d0"></rect><path d="M74.60 304.20h2.6M77.30 304.20l-1 -0.6v1.2z" stroke="#444" stroke-width="0.55" fill="#444"></path><text x="68.2" y="305.3" font-size="3.4" font-style="italic" fill="#484848" textLength="5.79" lengthAdjust="spacingAndGlyphs">SSPN</text><rect x="69" y="306.40" width="7" height="0.45" fill="#5050e0"></rect><rect x="69" y="306" width="1" height="1.2" fill="#3030d0"></rect><rect x="74.5" y="306" width="1.5" height="1.2" fill="#3030d0"></rect><text x="120.4" y="305.3" font-size="3.4" font-style="italic" fill="#484848" textLength="8.09" lengthAdjust="spacingAndGlyphs">ITPR2</text><rect x="88.7" y="306.40" width="60.3" height="0.45" fill="#5050e0"></rect><rect x="88.7" y="306" width="1" height="1.2" fill="#3030d0"></rect><rect x="95.23" y="306" width="1.5" height="1.2" fill="#3030d0"></rect><rect x="101.65" y="306" width="2" height="1.2" fill="#3030d0"></rect><rect x="108.46" y="306" width="1" height="1.2" fill="#3030d0"></rect><rect x="114.83" y="306" width="1.5" height="1.2" fill="#3030d0"></rect><rect x="121.08" y="306" width="2" height="1.2" fill="#3030d0"></rect><rect x="128.23" y="306" width="1" height="1.2" fill="#3030d0"></rect><rect x="134.43" y="306" width="1.5" height="1.2" fill="#3030d0"></rect><rect x="140.52" y="306" width="2" height="1.2" fill="#3030d0"></rect><rect x="148" y="306" width="1" height="1.2" fill="#3030d0"></rect><path d="M28.59 310.40h2.6M28.5 310.40l1 -0.6v1.2z" stroke="#444" stroke-width="0.55" fill="#444"></path><text x="31.79" y="311.5" font-size="3.4" font-style="italic" fill="#484848" textLength="16" lengthAdjust="spacingAndGlyphs">RN7SKP-A21</text><rect x="36" y="312.2" width="1" height="1.2" fill="#3030d0"></rect><path d="M53.1 310.40h2.6M53 310.40l1 -0.6v1.2z" stroke="#444" stroke-width="0.55" fill="#444"></path><text x="56.3" y="311.5" font-size="3.4" font-style="italic" fill="#484848" textLength="11.90" lengthAdjust="spacingAndGlyphs">BHLHE41</text><rect x="59.5" y="312.2" width="1" height="1.2" fill="#3030d0"></rect><line x1="22.9" x2="22.9" y1="314.3" y2="317.3" stroke="#979797" stroke-width="0.8"></line><text x="22.9" y="324.7" font-size="7" text-anchor="middle" fill="#222">26</text><line x1="49.9" x2="49.9" y1="314.3" y2="317.3" stroke="#979797" stroke-width="0.8"></line><text x="49.9" y="324.7" font-size="7" text-anchor="middle" fill="#222">26.2</text><line x1="77.2" x2="77.2" y1="314.3" y2="317.3" stroke="#979797" stroke-width="0.8"></line><text x="77.2" y="324.7" font-size="7" text-anchor="middle" fill="#222">26.4</text><line x1="104.5" x2="104.5" y1="314.3" y2="317.3" stroke="#979797" stroke-width="0.8"></line><text x="104.5" y="324.7" font-size="7" text-anchor="middle" fill="#222">26.6</text><line x1="132.2" x2="132.2" y1="314.3" y2="317.3" stroke="#979797" stroke-width="0.8"></line><text x="132.2" y="324.7" font-size="7" text-anchor="middle" fill="#222">26.8</text><text x="83" y="334.9" font-size="7" text-anchor="middle" fill="#222">Position on chr12 (Mb)</text><text x="16.6" y="199.39" font-size="14" font-weight="bold" fill="#000">e</text><text x="83.1" y="192.4" font-size="5.7" text-anchor="middle" fill="#000">rs9668337</text></g><g><clipPath id="cf"><rect x="187.2" y="182.6" width="135.3" height="110.4"></rect></clipPath><g clip-path="url(#cf)"><g><path d="M251 281.3 220.6 281.1 194.8 280.3 301.6 287.6 242 280.8 271 280.7 250.1 287.5 252.3 278.3 192.8 270.1 200.3 276.5 199.5 280.5 306.7 287.5 264.9 274.5 302 268.7 224 265.6 311 273.7 214.4 280.8 188 282.4 226.2 267 194.3 278.8 241.1 281.4 232.1 286.2 210.9 283.9 265.6 281.5 255.5 267 197.3 288.3 250 280.4 317.2 283.7 266.9 287.5 223.7 278.3 202.2 286.2 294.2 272.5 303.5 287.7 293 282.4 190.4 286.6 217.4 272.2 315.2 288.3 243.6 285.3 284.8 276.4 217.3 276.7 238.8 283.5 221.8 278.6 320.9 286.1 276.9 285.9 314.4 272 247.7 279.2 228.5 271.9 246.6 285.9 207.9 285.1 194.6 284.3 191.5 282.4 228.5 279.5 198.8 280.3 304.3 272.6 299.3 282.3 201.3 279.2 283.6 286.9 211.9 278.7 249.3 284.7 253.1 272.4 279.5 287.3 215.3 286.1 262.5 273.6 248.9 286.9 228 280.8 209.7 285.1 258.1 286 293.6 286.6" fill="none" style="marker:url(#mn)"></path><path d="M269.3 288.1" fill="none" style="marker:url(#mgr)"></path><path d="M204.3 287.6 243.2 284.6 322.3 287.9 239.6 284.4 227.9 271 209.2 283.6 266.6 271.8" fill="none" style="marker:url(#mn)"></path><path d="M226.5 285.8" fill="none" style="marker:url(#mgr)"></path><path d="M195.8 283 195.2 271.5 223.5 279.7 272.9 281.6 259.5 285.7 225.8 287.8 251.9 285.4 305.5 276.2 305.3 288 191.5 287.9 289.5 287.1 249.1 280.2 311.6 285.8 224.9 276.7 285.1 280.9 194.5 285.9 215.3 287 224.7 278.4 201.6 271.9 201.5 287.8 215.4 285.7 210.2 281.7 252.6 280.2 219.6 284.8 215.3 278.3 233.6 288.3 259 279.2 253.6 272.7 282.1 281.2 230.2 287.9 262.6 287.2 244.8 287.1" fill="none" style="marker:url(#mn)"></path><path d="M212.4 286 206.4 285.8 288.2 286" fill="none" style="marker:url(#mgr)"></path><path d="M252.7 281.5 290.6 285.1 299.6 284.8 267.5 272.2" fill="none" style="marker:url(#mn)"></path><path d="M262.6 279.6" fill="none" style="marker:url(#mgr)"></path><path d="M228.5 269.1 203.8 278.3 242.8 265.1 245.2 281.9" fill="none" style="marker:url(#mn)"></path><path d="M312.7 283.8" fill="none" style="marker:url(#mgr)"></path><path d="M189.3 280.3 290.3 281.6 197.9 284.5 244.2 275.5 249.8 283.9 292.9 281.1 320.7 285.6 322.7 287.1 227 286.9 243.3 280.5 302.6 270.8 320.7 280.5 276.9 282.5 249.4 286 227.9 281.8 321 282.9" fill="none" style="marker:url(#mn)"></path><path d="M321.7 281.6" fill="none" style="marker:url(#mgr)"></path><path d="M257.7 284.8 198.4 285.4 193.6 286.3 315.4 284.4 305.6 286.5 244.1 275.9 240.2 275.5 195.9 287 279.2 270.5 312.2 283.9 288.3 287.9 295.9 270.8 231.9 282.1 192.3 281.8 304.6 280.5 310.2 287.5" fill="none" style="marker:url(#mn)"></path><path d="M303.5 280.4" fill="none" style="marker:url(#mgr)"></path><path d="M262.4 283.4 232.1 280.2 302.4 287.5 313.3 284.2 300 287 322.1 285.2 307.4 287" fill="none" style="marker:url(#mn)"></path><path d="M259.7 280.6" fill="none" style="marker:url(#mgr)"></path><path d="M282 287.2 313.1 278.1 273.9 279.3 250.9 284.4" fill="none" style="marker:url(#mn)"></path><path d="M265.8 283.3" fill="none" style="marker:url(#mgr)"></path><path d="M191.1 288 251.4 283.4 240.8 287.4 309.7 278 280.4 284.9 298 280 314.1 278.6 191.4 281.6 199.9 282.8 296.6 286.4 244.1 280.5 192.5 285.6 201.2 281.8 322.2 284.5 188.9 275.3 252.5 286.9 313.8 282.5 253.1 282.2 217 273.6 249 284.6 232.9 284.9 256 286.5 263 285.1 228.6 282.2 283.7 284.2" fill="none" style="marker:url(#mn)"></path><path d="M306.3 269.2" fill="none" style="marker:url(#mgr)"></path><path d="M189.7 284.1 288.4 286.5 275.4 279 302 287.8 275.1 284.5 305.5 283 251.1 267 276.4 286.2 209.8 284 239.5 280.8 210 272.8 240.6 281.9 266.6 279.6" fill="none" style="marker:url(#mn)"></path><path d="M200.5 279.4" fill="none" style="marker:url(#mgr)"></path><path d="M278.7 279.6 317 287.8" fill="none" style="marker:url(#mn)"></path><path d="M285.3 277.3" fill="none" style="marker:url(#mgr)"></path><path d="M188.4 283.9 240.8 281.6 257.8 283.9" fill="none" style="marker:url(#mn)"></path><path d="M285.1 285.6" fill="none" style="marker:url(#mgr)"></path><path d="M209.9 277.9 196.3 269.2 188.1 281.8" fill="none" style="marker:url(#mn)"></path><path d="M308 287.8" fill="none" style="marker:url(#mgr)"></path><path d="M242 283.8 309.8 274.2 265.9 275.4 194.5 287.8 264.3 287.9 306.9 284.1 215.2 284 292.9 286.2 214.1 284.1 204.2 284.1 211.5 269.4 196.3 287.9 231.2 270.4 237 277.1 273.4 281.8 243.1 277 205.2 279.5 226.8 270.7 304.8 285.2 194.7 284 314.2 286.5 217.1 282.3 228.7 279.3 269.3 276.1 255.5 286.5 220.8 285.4" fill="none" style="marker:url(#mn)"></path><path d="M300.8 282.6" fill="none" style="marker:url(#mgr)"></path><path d="M191.2 283.3 263.5 279.9 309.1 282.4 257.2 285.3 316 284.5 230.6 284.9 195.8 286.2 207.7 285.6 241.9 287.6 316.5 282.2 293.6 277 276 282.1 265.7 285.3 222.3 274.2 286.6 287.6" fill="none" style="marker:url(#mn)"></path><path d="M236 275" fill="none" style="marker:url(#mgr)"></path><path d="M283.5 280.7 318 275.6" fill="none" style="marker:url(#mn)"></path><path d="M309.8 287.8" fill="none" style="marker:url(#mgr)"></path><path d="M250.7 284.2 247 288 321.5 283.5 246.2 283 260.2 282.8" fill="none" style="marker:url(#mn)"></path><path d="M291.6 284.9" fill="none" style="marker:url(#mgr)"></path><path d="M216.4 285.3 269.5 286.3 305.3 280.1 287.1 287.2 290.7 286.2 249.3 284.5 268 285.3 295.4 284.9 274.4 284.7 268.4 274.5" fill="none" style="marker:url(#mn)"></path><path d="M191.2 276.8 241.9 283" fill="none" style="marker:url(#mgr)"></path><path d="M232 284.5 256.1 284.8 301 278.9 308.2 281 228.3 287.3 224 280.1 190.4 276.7 295.3 280.4 251.2 284.4 195.8 278.7 225.4 278.6 301.9 285.2" fill="none" style="marker:url(#mn)"></path><path d="M231.2 287.2" fill="none" style="marker:url(#mgr)"></path><path d="M198.4 273.8 322.4 283.3 254.4 287.9 227.1 277 301.7 268.9" fill="none" style="marker:url(#mn)"></path><path d="M295 282.8 308.2 285.7" fill="none" style="marker:url(#mgr)"></path><path d="M299.1 287.8 212.5 285.7 272 288.1 272.3 282.3 230.4 280.1 221 286.7 233.4 284.8 211.6 286.6 211.1 267.4 263.9 283.8 279.4 282.4 245 284.8 230.7 283.5 215.9 284.5 231.9 283.6 304.3 287.3 202.4 282.3 225.7 275.1 289.7 284.6 209.8 288.3" fill="none" style="marker:url(#mn)"></path><path d="M220 284.7 286.6 284.5" fill="none" style="marker:url(#mgr)"></path><path d="M318.5 282.2 281.1 286.9" fill="none" style="marker:url(#mn)"></path><path d="M210.4 285.2" fill="none" style="marker:url(#mgr)"></path><path d="M268.6 288.1 249.5 281.3 291.6 287.9 306.1 283.9 192.5 282.1 225.8 281.4 232.7 272.7 190.2 282.9 197.6 283 235.5 286.1 269.6 285.8 258.7 286.2 298.1 285.4 309.3 281.5 208.5 285.1 306.2 273.3 243 285.3 243.3 276 269.8 268.9" fill="none" style="marker:url(#mn)"></path><path d="M253.2 284.3" fill="none" style="marker:url(#mgr)"></path><path d="M249 288.1 278.1 286.4 284.1 282.9 188.7 284.8 284.9 276.5 235.4 281.5 187.2 286.5 280.6 284.7 223.8 285 280 282.9 214.5 280.4" fill="none" style="marker:url(#mn)"></path><path d="M276 288.2" fill="none" style="marker:url(#mgr)"></path><path d="M265.8 285.6 193.4 278.9 317.2 275.5 286.2 280.3 206.8 277.3 311.8 283.9 188.2 281 316.6 281.8 309.1 286.8 307.7 281.4 205.5 279.7 316.8 271.8 212.8 279.8 317.4 279.9 298.9 278.7 186.7 287.1 270.4 286.3 208.9 283.9 255.6 287.9 288.2 285.2 309.7 283.4 197.8 282.5 321.9 287.4 252.9 282.5 214.6 281.2 253.4 282.2 249.8 280 214.1 286 281 281.5 317.5 285.5 262.4 273.7 265.9 281.4 282.8 286.7 318.8 271.6 284.1 281.7 303.7 283 276.1 286.3 290.8 284.9 234.1 281.2 227.9 276.6 189.7 285.5 289.9 279.5 310.2 285.8 223.4 282.4 211 281.9 226.4 274.8 210.4 285.7 276.9 277.2 260.4 287 231.9 283.2 188.3 284.4 235.5 286.5 290.1 280.6 295.8 277.6 235.3 278.7 310.8 282.2 265 285.6 293.1 283.4 316.5 282.5 258.9 280.3 286.3 277.7 308.2 277.1 242.7 277.5 312.1 287.7 322.5 287.9 287.2 285.4 212.9 285.2 254.5 287.1 241.1 281.7 235.2 279.1 215.4 286 313.2 283.6 245.1 282.4 300.3 279.4 248.3 285.7 233.7 286.3 196.2 288.1 256.6 283.2 200.4 287.4 321.6 278.9 214.4 275.7 205.8 275.6 217.9 273.2 292.8 279.8 210.8 281.5 287.6 284.4 228.6 279.2 303 287.4 201.8 272.3 193.5 275 237.9 274.9 292.6 280.3 204.8 277.9 189.5 282.7 317.7 276.2 303 279.9" fill="none" style="marker:url(#mn)"></path><path d="M212 288" fill="none" style="marker:url(#mgr)"></path><path d="M293.8 287.7 320.1 286.9 301 285.7 294.5 276.1 227.2 283.4 313.9 284 274.3 279.1 314.6 281.5 311.7 282.5 203.4 285 215 288.2 241.6 286.5 313.3 286.4" fill="none" style="marker:url(#mn)"></path><path d="M246.6 282.8" fill="none" style="marker:url(#mgr)"></path><path d="M316 283.5 192.1 285.1 292.5 277.4 270.2 279.3 314.4 277 277.3 284.2 214.3 283.7 295 288.3 215.4 288.2 228.4 277.7" fill="none" style="marker:url(#mn)"></path><path d="M230.6 280.9" fill="none" style="marker:url(#mgr)"></path><path d="M308.1 268.8 195.9 268.4 290.6 276.3 219.4 286.1 187.2 279 292.7 284.7 277.7 275.1 286.6 282.5 301.2 284.1 297.5 286 281.6 277.7 242.5 288 315.3 273.8 268.3 276.9 286.7 276 283.1 274.9 287.4 280.9 289.2 287.1 284.3 279 195 277.1 269.3 281.7 311 286.4 202.9 279.9 188.9 274.7 252.4 286.5 319.7 276.1 281 277.4 244.4 285.5 198.1 276.3" fill="none" style="marker:url(#mn)"></path><path d="M216.4 278.7" fill="none" style="marker:url(#mgr)"></path><path d="M287.7 278.5 304.3 277.4 216.3 287.9" fill="none" style="marker:url(#mn)"></path><path d="M275.4 286" fill="none" style="marker:url(#mgr)"></path><path d="M221.1 288 231.1 283.1 259.4 280.5 291.8 288.2 281.9 286 224.1 281 232.2 285.7 227.9 270.8 212.6 285.8 220.3 287 243.3 269.3 205.5 286.2 203.4 283.3 242.8 270.7 314.7 279.2 315.9 276.5 269.7 279.4 223.3 284.6 220.2 277.1 240.1 285.1 249.9 286.6 290.1 285.3 212.5 281 241.4 283 291 285.5 249.1 274.5 256.3 285.3 294 267.9 281.5 274.6 293.3 283.4 293.8 276.6 187.1 283.5 195.3 270.7 212.2 279.8 240.6 273.5 233.1 284.6 314.4 274.1 191.4 283.1 246.6 279.7 192.3 282.6 277.5 268.6 282.2 278.1 312.1 283.2 227 287.3 287.3 287.6 197.2 286.2 201.6 284 291.6 287.2 263.1 271.4 283.2 282.6 236.9 275.8 252.1 286.5 262.7 274.2 309.9 287.3 198.3 284.1 270.6 271.8 189 273.7 281.4 286.1 242.8 288.2 317.8 284.3 272 279.8 263.1 284.1 192.5 282.3 321 278.3 235.1 283.5 233.2 286.8 286 279.7 291.4 277.9 213.6 284.3 199.5 279.3 192.4 276.6 232.1 282.9 204.8 281.6 240.9 281.7 246.9 275 275.4 274.9 232.8 282 283.9 284.9 240.3 281.1 215.3 276.5 249.4 273 207.3 283.1 266.1 280.4 226.7 265.4 193 267.1 254.9 284.1 305.2 283.5 262.5 288.2 254.9 275.2 289.6 277.8 296.5 273.9 311.6 286.9 221.8 274.3 273.8 280.8 293 281.8 303.8 284 292.5 282.6 194.9 281.9 300.8 277.3 284.1 287.5 207.7 270.3 311.6 272.5" fill="none" style="marker:url(#mn)"></path><path d="M198.9 287.1" fill="none" style="marker:url(#mgr)"></path><path d="M298.7 270.1 188.9 281.7 248.3 281.2 199.2 279.4 296.7 288.1 266.3 271.1 296 280.3 317.3 274.3" fill="none" style="marker:url(#mn)"></path><path d="M316.6 278.8" fill="none" style="marker:url(#mgr)"></path><path d="M213.4 273.7 269.4 280.2 195.7 287.3 273.1 276.8 226.2 284.3 200.3 279.5 310.1 288.1 257 278.3 208.7 276.6 231.5 281 241 280.3 223.5 273 305.5 288 231.5 275 252 286.6 258 269.9 219.6 279.9 277.5 281.1 220 284.2 265.1 280.8 215.2 281.9 287.7 282 320.7 285.8 309.9 288 311.7 280.1 285.9 279 299.3 287.8 296.2 279.2 250.7 286.3 293.9 280.1 225.6 275.6 311.9 278.9" fill="none" style="marker:url(#mn)"></path><path d="M302.1 286.1" fill="none" style="marker:url(#mgr)"></path><path d="M237.7 278.1 235.4 287.7 244 283.7 207.1 274.5 319.7 287 231.4 285.8" fill="none" style="marker:url(#mn)"></path><path d="M258.9 281.6" fill="none" style="marker:url(#mgr)"></path><path d="M313.5 282.7 279.1 285.7 205.8 288.3 240.7 276.3 253.8 286.4 239.7 286 258.3 277.2 314.3 286.9 308.7 277.4 317.9 279 307.5 281.8 307.3 288.3 231.8 276.8 277.7 283 235.8 282.9 273.2 284.9" fill="none" style="marker:url(#mn)"></path><path d="M242.4 287.7" fill="none" style="marker:url(#mgr)"></path><path d="M206.6 285.3 234.7 285.9 229 287.8 313.1 288 258.4 281.5 239 268.9 249.6 283 234.1 284.8 256.4 280.3 194.5 285.6 271.2 285.7 288.4 280.3 208.5 288 199.2 281 228.5 278.9 195.7 287.8 218.9 283.6 247.4 280.7 250.5 285 220.8 280.9 312.6 284.5 314.7 281.6" fill="none" style="marker:url(#mn)"></path><path d="M277.7 284" fill="none" style="marker:url(#mgr)"></path><path d="M299.1 281.7 271.5 276.6" fill="none" style="marker:url(#mn)"></path><path d="M303.5 283.7" fill="none" style="marker:url(#mgr)"></path><path d="M197.7 274.3 301.8 285.2 319.4 281.8 259.3 284 207.2 286.9 274.2 283.5 233.3 283.1 269.3 286.5 277.7 274 243.2 278.3 259.1 284.7 242.6 283.2 269.8 285.4 279.3 287.4 222 284.8 308.8 282.6 305.4 283 243.7 276.8 291.4 283.5 235.1 282 279.3 287 290 285.8 244.2 266 198.4 274.7 202.7 282.9 265.5 282.4 189.9 276.6 206.9 287.8 307.3 281.2 192.8 242.1 310 284.2 321.1 273.4 233.3 284.6 236.1 280.1 187.4 282.3 240.2 287.6 215.1 272 224.4 275.7 254.3 279.9 290.6 287.9 229.2 280.7 190.1 287.5 238.4 286.7 213.2 271.7" fill="none" style="marker:url(#mn)"></path><path d="M200.9 288.1" fill="none" style="marker:url(#mgr)"></path><path d="M201.3 286 245.2 286.9 309 288.2 308 288 242.5 274.4 212.9 270 304.7 283.2 288.3 285 197.6 282.3 222.6 287.7 307.4 282.6 261.4 288.1 299.2 287.7 249.8 286.6 217.1 286 306.9 284.7 310.4 283.4 291.1 287.1 191.6 280.8" fill="none" style="marker:url(#mn)"></path><path d="M254.9 285.7" fill="none" style="marker:url(#mgr)"></path><path d="M209.1 287.1" fill="none" style="marker:url(#mn)"></path><path d="M270.8 280.8" fill="none" style="marker:url(#mgr)"></path><path d="M186.9 276.5 188.4 277.4 213.7 287.4 315.6 288.3 263 285.3 197.1 278 276.7 266.3 272.9 287.1 241.2 267.4 225.2 282.9 262.9 278.5 279.1 278 194.3 251.7 310.7 286.1 296.2 281.2 319.2 287.9 245 279.9 188.2 271.9 309.1 287.1 265 285 255.1 273.7 282.1 270.9 300 275.9 192 279.5" fill="none" style="marker:url(#mn)"></path><path d="M220.2 287.6 320 280.4" fill="none" style="marker:url(#mgr)"></path><path d="M277.5 286.8 259.9 287.9 279.7 285.6 296.9 283.8 264.2 287.7 267.5 288 266.6 283.4 233.4 286.4 313.7 285.6 321.1 287.9" fill="none" style="marker:url(#mn)"></path><path d="M222.3 283.9" fill="none" style="marker:url(#mgr)"></path><path d="M312.5 287.9 189.9 284.8 204.5 274.9 250.5 285.7 281.2 284.4 216.9 275.5 234.6 272.6 199.5 283.5 254.3 287.1 207.3 277.1 290.9 268.7 239.7 288.1 276.9 283.6 189.4 262.7 271.7 282.5 301 282.3 302.9 279.2 286.1 285.4" fill="none" style="marker:url(#mn)"></path><path d="M233.8 265.8 235.2 283.9" fill="none" style="marker:url(#mgr)"></path><path d="M275.1 264.8 257.3 287.9 322.1 286.7 270.1 265.5 305.9 283.2 215 279.9 229.6 280.1" fill="none" style="marker:url(#mn)"></path><path d="M230.9 286.9" fill="none" style="marker:url(#mgr)"></path><path d="M286.7 275.4 315.6 283.2 214 281.7 214.7 285.4 273.7 286.1 295.4 288.2 266.3 286.5 255.2 278.3 235.8 287.8 238.8 286.5 218.9 285.2 316.4 280.8 215.5 288.2 253.9 283.1 301.3 283.1 241.7 286.6 248.2 285.1 272.8 274 242.3 269.6 302 281.5 292.1 284.8 204.5 287 256.8 271.8 276 280.2 225.9 278.4 305.9 282.9 271.8 280.6 250.3 287.8 195.5 263.3 187.8 275.5 313.8 279.2 255.3 286.2 298.7 272.6 221.3 285.3 290.9 288.3 256.5 281.5 234 288 191.5 281.8 203 263.7 310 277.3 299.9 287.6 190.3 278.6 244.9 278.3 305.2 286.9 251.4 277.4 196 264.5 288.4 287.8 215.3 256.8 317.3 285.2 203.5 276 293.5 285.4 312.2 282 199.2 278.9 242.1 287.5 303.8 278.2 260.5 275.3 189.4 277.3" fill="none" style="marker:url(#mn)"></path><path d="M293.7 261.4" fill="none" style="marker:url(#mgr)"></path><path d="M276.5 276.7 227 273.5 253.8 270.6 196.9 281.3 320.2 287.7 317.3 279.5 321.6 283.6 242.5 287.2 199.3 285.1 308.2 286.1 221.1 275.8 275.2 288 262.6 271.6 294.4 287.9" fill="none" style="marker:url(#mn)"></path><path d="M263.9 286.4" fill="none" style="marker:url(#mgr)"></path><path d="M211.2 285.2 194.1 287.9 212.4 287.1 294.5 288.3 301.7 284 303.3 287.5 243.9 274.6 203.6 287 258.6 264.5 222 281.8 291.8 278 300.1 287.6 250.4 275.7 299.6 286.5 235 276.7 246.6 274.2" fill="none" style="marker:url(#mn)"></path><path d="M306.4 287.7" fill="none" style="marker:url(#mgr)"></path><path d="M232.2 288.2 298.3 287.3 296.7 288.1 196.5 288.2 301.7 260.8 254.9 284.9 299.4 275.9 203 281.8 321.4 277.4 285.4 287.3 270.5 264.3 303.3 286.7" fill="none" style="marker:url(#mn)"></path><path d="M317.6 281.6" fill="none" style="marker:url(#mgr)"></path><path d="M198.5 279.9 255.8 284 198.7 277.5 313.6 281 226.3 275.8 260.6 285.5 269.4 285.8 257.1 281.2 214.2 287 205.1 266.1 202.1 286.7 212.1 285.4 196.5 281.5 216.5 285.3 291 280.1 306.8 272.7 186.9 252.4 236.9 269 198.8 286.4 245.6 284.6 293.7 280.1 258.3 287.5 321.4 280.9 302.7 275.6 221.7 279 208.1 286.7 229.9 265.2 264.5 264.1 215 288 300 286.2 263.5 275 283.5 286.7 259.4 284 254.5 283 308.5 287.5 297.9 286.8 304 287 223.6 282.2 260.9 275.1 218.5 280.7" fill="none" style="marker:url(#mn)"></path><path d="M310 288" fill="none" style="marker:url(#mgr)"></path><path d="M312.3 285.3 299 284.6 272.7 271.4 257 277.4 294.3 283.3 196.3 280.9 209.9 279.8 278.1 287.8 209 288.1 321.9 280.2 287.2 287.1 243.5 287.5 317.7 284.4 310.4 286.7 284 285.4 253.2 283.5 260.3 281.4 311.1 282.8 239.6 270.3 196 272.4 242.1 284.9 192.9 284.6 215 273.5 312.9 280.6 224.8 288.2 187.4 267.6 304 281.7 322.7 285.6 261.1 286.2 285.6 279.1 306.4 283.2 218.6 285.5 215.9 284.3 213.6 281.5 311.9 275.3 206.5 266.7 320.3 285.1" fill="none" style="marker:url(#mn)"></path><path d="M228.6 275.4" fill="none" style="marker:url(#mgr)"></path><path d="M234.8 286.1 186.8 273.5 302.5 288.2 207.1 288 321.8 285.9 275.8 281.8 210.7 282 264.4 276.2 284.8 287.5 312.9 285" fill="none" style="marker:url(#mn)"></path><path d="M315.9 267.1" fill="none" style="marker:url(#mgr)"></path><path d="M271.3 288.1 321.8 286.1 286.1 287.3 317.7 283.3 200.4 285.5 262.1 284.3 322.1 287.8 248.4 284.9 263.3 283.8 243.7 286.9 196 285.2 274.1 266 243.7 276.3 259.2 287.9" fill="none" style="marker:url(#mn)"></path><path d="M187.2 282.2" fill="none" style="marker:url(#mgr)"></path><path d="M199.6 284.7 271.6 282.8 243.9 283.2 209.3 287 301.9 282.9 270.4 286 304.8 271.3" fill="none" style="marker:url(#mn)"></path><path d="M305.2 285.8" fill="none" style="marker:url(#mgr)"></path><path d="M288.2 276.8 244.5 282.4 302.1 286.1 189.8 288 200.2 277.5 297.9 285" fill="none" style="marker:url(#mn)"></path><path d="M222.3 281.7" fill="none" style="marker:url(#mgr)"></path><path d="M289.8 270.6 281.7 273 193.3 279 263 277.8 305.2 276.5 210.9 281.1 289.7 288.1 259.9 285.5 266.2 287 302.2 272.8 190.8 265.9 319.2 272.9 202.9 284 289.9 270.7 228.9 284.4 212.3 284.3 288.4 285.3 273.7 280.4 240.6 286.4 187.9 285.7 239 285.3 251.8 288 249.6 287.5 309.4 276 230.7 273.3 321.7 287.4 234.2 266.2 232.2 286.9 202.3 269.9 317.6 267.5 306.3 282.8 201.4 280.8 272.5 284.8 282.2 271.6 233.2 287.2 305 287.1 299.1 275.3 218.8 284.8 190.3 281.8 296.9 288.3 285.4 279.2 223.5 286.4" fill="none" style="marker:url(#mn)"></path><path d="M291.6 278.2" fill="none" style="marker:url(#mgr)"></path><path d="M318.2 277.5 284 284.2 211.6 272.5 194.1 277.9 271.1 284.8 272.5 285.6 304.3 284.2 293.4 273.6 226.1 276.4 219.2 288 288.8 280.5 237.8 286.9 254.7 281.2 271.1 285.3 270.4 285.3 240.2 280.5 302.6 280 319 282.6 236.6 270 199.6 276.8 275.3 276.4 279.9 280.1 257.8 286.3 275.1 287.8 236 281.1 227.3 287.9 208 286.4 309.7 274.1 194.8 280 283.8 285.9 261.9 260.6 262.2 258.6 272.7 261.2 271.9 263.6 266.4 266.1 261.9 263.6 274.7 264.1 269.7 258.4 270.8 260.2 269.2 265.7 273.2 258.9 269.6 263.3 271.1 263.8 266.4 260.7 263.8 263.1 263.6 264.8 268.9 260.7 266.7 264.7 269.1 264.1 275.4 262.7 296.2 270.7 295.1 269.9 299.8 270.9 301.5 270.4 309.4 270.2 318.2 270.9 302.9 269.3 298.4 270.8 304.4 270.2 293.3 270 313.8 270.4 304.7 270.2 305.8 270.7 318.8 270.3 319.1 270.7 306.2 270.9 320.2 270.8 311.2 269.7 306.1 269.4 296 270.2 311.1 269.9 299.4 270.9 297.6 269.7 316.8 270.9 312.1 270.4 322.6 270.2 277.8 265 272.5 259.8 276.5 265.8 270.9 258.4 273.7 263.5 270.8 258.5 273.1 260.1" fill="none" style="marker:url(#mn)"></path><path d="M247.1 215.9 257.7 226.5 255.5 230.9" fill="none" style="marker:url(#mgr)"></path><path d="M282.7 240.9 310.8 250.8" fill="none" style="marker:url(#mn)"></path><path d="M278.1 251.3 310.4 261.2" fill="none" style="marker:url(#mgr)"></path><path d="M259.3 255.3 267.7 253.7 275.4 252.6" fill="none" style="marker:url(#mn)"></path><path d="M192.3 226.5 198.7 256 239.7 254.2 232 264.6" fill="none" style="marker:url(#mgr)"></path><path d="M263.6 269.7 257.8 270.4 268.2 269.8 274 269.3 266 269.4 257.8 269.2 268.7 269.3 264.4 268.2 262.2 268.8 265.4 270.4 261 268.2 271.1 267.1 277.7 269.1 273.6 268.5 261.1 269.1 255.2 270.5 273.9 266.8 269 267.6 262.4 269.9 277.8 270 274.7 270 261.3 266.7 256.9 270.6 277.1 269.2 261.3 270.2 259.2 269.3 262.3 268.4 272.6 269.7 259 266.9 259.8 268.8 266.8 269.3 269.3 268.5 270.3 268.7 270.7 267.6 278.4 269.6 265.5 269.5 269 267.6 257.6 268 261.1 268.4 261.3 269.2 254.4 275.8 240.3 282.5 242.4 281.4 243.4 283 241.9 281.6 251.2 277.9 242.2 279.9 238.1 284.3 251 277.6 253.3 275.1 252.2 277.8 246.7 281.3 243.3 221.4 272.5 253 267.2 257 290.5 264.1 202.7 240.9 201.6 241.6 216 242 192.3 249.8 208.7 253.1 232 254.7" fill="none" style="marker:url(#mlb)"></path><path d="M294.9 255.7 230.9 238.7 231.5 245.8" fill="none" style="marker:url(#mg)"></path><path d="M291.4 233.6 298 228.7 308 226.7" fill="none" style="marker:url(#mo)"></path><path d="M252.2 196.6 261.5 203.7 271.7 200.6 267 205 257.7 207.7 258.8 207 247.7 207.7 278.7 227 280.3 227 282 227.3" fill="none" style="marker:url(#mr)"></path><path d="M254.4 194.54L255.80 196.2L254.4 197.85L252.99 196.2Z" fill="#8a2be2" stroke="#502080" stroke-width="0.4"></path></g></g><rect x="186.7" y="182.1" width="136.3" height="111.4" fill="none" stroke="#979797" stroke-width="1"></rect><line x1="183.7" x2="186.7" y1="288.3" y2="288.3" stroke="#979797" stroke-width="0.8"></line><text x="181.5" y="291.1" font-size="7" text-anchor="end" fill="#222">0</text><line x1="183.7" x2="186.7" y1="269.84" y2="269.84" stroke="#979797" stroke-width="0.8"></line><text x="181.5" y="272.64" font-size="7" text-anchor="end" fill="#222">2</text><line x1="183.7" x2="186.7" y1="251.38" y2="251.38" stroke="#979797" stroke-width="0.8"></line><text x="181.5" y="254.18" font-size="7" text-anchor="end" fill="#222">4</text><line x1="183.7" x2="186.7" y1="232.92" y2="232.92" stroke="#979797" stroke-width="0.8"></line><text x="181.5" y="235.72" font-size="7" text-anchor="end" fill="#222">6</text><line x1="183.7" x2="186.7" y1="214.46" y2="214.46" stroke="#979797" stroke-width="0.8"></line><text x="181.5" y="217.26" font-size="7" text-anchor="end" fill="#222">8</text><line x1="183.7" x2="186.7" y1="196" y2="196" stroke="#979797" stroke-width="0.8"></line><text x="181.5" y="198.8" font-size="7" text-anchor="end" fill="#222">10</text><line x1="323" x2="326" y1="288.3" y2="288.3" stroke="#b4b4ff" stroke-width="0.8"></line><text x="327.8" y="290.8" font-size="7" text-anchor="start" fill="#7878ff">0</text><line x1="323" x2="326" y1="267.90" y2="267.90" stroke="#b4b4ff" stroke-width="0.8"></line><text x="327.8" y="270.40" font-size="7" text-anchor="start" fill="#7878ff">20</text><line x1="323" x2="326" y1="247.5" y2="247.5" stroke="#b4b4ff" stroke-width="0.8"></line><text x="327.8" y="250" font-size="7" text-anchor="start" fill="#7878ff">40</text><line x1="323" x2="326" y1="227.10" y2="227.10" stroke="#b4b4ff" stroke-width="0.8"></line><text x="327.8" y="229.60" font-size="7" text-anchor="start" fill="#7878ff">60</text><line x1="323" x2="326" y1="206.70" y2="206.70" stroke="#b4b4ff" stroke-width="0.8"></line><text x="327.8" y="209.20" font-size="7" text-anchor="start" fill="#7878ff">80</text><line x1="323" x2="326" y1="186.3" y2="186.3" stroke="#b4b4ff" stroke-width="0.8"></line><text x="327.8" y="188.8" font-size="7" text-anchor="start" fill="#7878ff">100</text><rect x="186.7" y="297.1" width="136.3" height="30.5" fill="none" stroke="#979797" stroke-width="1"></rect><path d="M223.1 299.6h2.6M225.8 299.6l-1 -0.6v1.2z" stroke="#444" stroke-width="0.55" fill="#444"></path><text x="214.6" y="300.7" font-size="3.4" font-style="italic" fill="#484848" textLength="7.90" lengthAdjust="spacingAndGlyphs">CUX2</text><rect x="198.3" y="301.8" width="42.89" height="0.45" fill="#5050e0"></rect><rect x="198.3" y="301.4" width="1" height="1.2" fill="#3030d0"></rect><rect x="205.20" y="301.4" width="1.5" height="1.2" fill="#3030d0"></rect><rect x="211.93" y="301.4" width="2" height="1.2" fill="#3030d0"></rect><rect x="219.25" y="301.4" width="1" height="1.2" fill="#3030d0"></rect><rect x="225.9" y="301.4" width="1.5" height="1.2" fill="#3030d0"></rect><rect x="232.38" y="301.4" width="2" height="1.2" fill="#3030d0"></rect><rect x="240.2" y="301.4" width="1" height="1.2" fill="#3030d0"></rect><path d="M255.8 299.6h2.6M258.5 299.6l-1 -0.6v1.2z" stroke="#444" stroke-width="0.55" fill="#444"></path><text x="246.3" y="300.7" font-size="3.4" font-style="italic" fill="#484848" textLength="8.90" lengthAdjust="spacingAndGlyphs">SH2B3</text><rect x="249.5" y="301.8" width="6.5" height="0.45" fill="#5050e0"></rect><rect x="249.5" y="301.4" width="1" height="1.2" fill="#3030d0"></rect><rect x="254.5" y="301.4" width="1.5" height="1.2" fill="#3030d0"></rect><path d="M279.2 299.6h2.6M279.1 299.6l1 -0.6v1.2z" stroke="#444" stroke-width="0.55" fill="#444"></path><text x="282.4" y="300.7" font-size="3.4" font-style="italic" fill="#484848" textLength="7.90" lengthAdjust="spacingAndGlyphs">ATXN2</text><rect x="281" y="301.8" width="8" height="0.45" fill="#5050e0"></rect><rect x="281" y="301.4" width="1" height="1.2" fill="#3030d0"></rect><rect x="287.5" y="301.4" width="1.5" height="1.2" fill="#3030d0"></rect><path d="M304.8 299.6h2.6M307.5 299.6l-1 -0.6v1.2z" stroke="#444" stroke-width="0.55" fill="#444"></path><text x="295.4" y="300.7" font-size="3.4" font-style="italic" fill="#484848" textLength="8.80" lengthAdjust="spacingAndGlyphs">ALDH2</text><rect x="298" y="301.8" width="7" height="0.45" fill="#5050e0"></rect><rect x="298" y="301.4" width="1" height="1.2" fill="#3030d0"></rect><rect x="303.5" y="301.4" width="1.5" height="1.2" fill="#3030d0"></rect><path d="M239.39 305.70h2.6M242.1 305.70l-1 -0.6v1.2z" stroke="#444" stroke-width="0.55" fill="#444"></path><text x="227.9" y="306.8" font-size="3.4" font-style="italic" fill="#484848" textLength="10.89" lengthAdjust="spacingAndGlyphs">MIR6761</text><rect x="235" y="307.5" width="1" height="1.2" fill="#3030d0"></rect><path d="M260.8 305.70h2.6M260.70 305.70l1 -0.6v1.2z" stroke="#444" stroke-width="0.55" fill="#444"></path><text x="264" y="306.8" font-size="3.4" font-style="italic" fill="#484848" textLength="6.80" lengthAdjust="spacingAndGlyphs">ATXN2</text><rect x="255.5" y="307.90" width="20.5" height="0.45" fill="#5050e0"></rect><rect x="255.5" y="307.5" width="1" height="1.2" fill="#3030d0"></rect><rect x="265" y="307.5" width="1.5" height="1.2" fill="#3030d0"></rect><rect x="274" y="307.5" width="2" height="1.2" fill="#3030d0"></rect><path d="M295.59 305.70h2.6M298.29 305.70l-1 -0.6v1.2z" stroke="#444" stroke-width="0.55" fill="#444"></path><text x="285.1" y="306.8" font-size="3.4" font-style="italic" fill="#484848" textLength="9.89" lengthAdjust="spacingAndGlyphs">ACAD10</text><rect x="287" y="307.90" width="10" height="0.45" fill="#5050e0"></rect><rect x="287" y="307.5" width="1" height="1.2" fill="#3030d0"></rect><rect x="295.5" y="307.5" width="1.5" height="1.2" fill="#3030d0"></rect><path d="M318.09 305.70h2.6M320.79 305.70l-1 -0.6v1.2z" stroke="#444" stroke-width="0.55" fill="#444"></path><text x="308.6" y="306.8" font-size="3.4" font-style="italic" fill="#484848" textLength="8.89" lengthAdjust="spacingAndGlyphs">MAPKAPK5</text><rect x="310" y="307.90" width="6" height="0.45" fill="#5050e0"></rect><rect x="310" y="307.5" width="1" height="1.2" fill="#3030d0"></rect><rect x="314.5" y="307.5" width="1.5" height="1.2" fill="#3030d0"></rect><path d="M237.29 311.90h2.6M237.2 311.90l1 -0.6v1.2z" stroke="#444" stroke-width="0.55" fill="#444"></path><text x="240.5" y="313" font-size="3.4" font-style="italic" fill="#484848" textLength="10.90" lengthAdjust="spacingAndGlyphs">C12orf51</text><rect x="243" y="313.7" width="1.5" height="1.2" fill="#3030d0"></rect><path d="M303.8 311.90h2.6M306.5 311.90l-1 -0.6v1.2z" stroke="#444" stroke-width="0.55" fill="#444"></path><text x="295.4" y="313" font-size="3.4" font-style="italic" fill="#484848" textLength="7.80" lengthAdjust="spacingAndGlyphs">MIR6761</text><rect x="303" y="313.7" width="1" height="1.2" fill="#3030d0"></rect><path d="M296.59 318.20h2.6M296.5 318.20l1 -0.6v1.2z" stroke="#444" stroke-width="0.55" fill="#444"></path><text x="299.79" y="319.3" font-size="3.4" font-style="italic" fill="#484848" textLength="20.10" lengthAdjust="spacingAndGlyphs">MAPKAPK5-AS1</text><rect x="307" y="320" width="1" height="1.2" fill="#3030d0"></rect><path d="M319.09 324.3h2.6M321.79 324.3l-1 -0.6v1.2z" stroke="#444" stroke-width="0.55" fill="#444"></path><text x="307.6" y="325.4" font-size="3.4" font-style="italic" fill="#484848" textLength="10.89" lengthAdjust="spacingAndGlyphs">ADAM1A</text><rect x="315" y="326.09" width="1.5" height="1.2" fill="#3030d0"></rect><line x1="189.1" x2="189.1" y1="327.6" y2="330.6" stroke="#979797" stroke-width="0.8"></line><text x="189.1" y="338.8" font-size="7" text-anchor="middle" fill="#222">111.4</text><line x1="216.4" x2="216.4" y1="327.6" y2="330.6" stroke="#979797" stroke-width="0.8"></line><text x="216.4" y="338.8" font-size="7" text-anchor="middle" fill="#222">111.6</text><line x1="243.6" x2="243.6" y1="327.6" y2="330.6" stroke="#979797" stroke-width="0.8"></line><text x="243.6" y="338.8" font-size="7" text-anchor="middle" fill="#222">111.8</text><line x1="270.8" x2="270.8" y1="327.6" y2="330.6" stroke="#979797" stroke-width="0.8"></line><text x="270.8" y="338.8" font-size="7" text-anchor="middle" fill="#222">112</text><line x1="298" x2="298" y1="327.6" y2="330.6" stroke="#979797" stroke-width="0.8"></line><text x="298" y="338.8" font-size="7" text-anchor="middle" fill="#222">112.2</text><text x="255" y="350" font-size="7" text-anchor="middle" fill="#222">Position on chr12 (Mb)</text><text x="191.5" y="199.39" font-size="14" font-weight="bold" fill="#000">f</text><text x="255.5" y="193.7" font-size="5.7" text-anchor="middle" fill="#000">rs3184504</text></g><g><clipPath id="cg"><rect x="363.8" y="181.9" width="135.7" height="118.4"></rect></clipPath><g clip-path="url(#cg)"><line x1="368.3" x2="368.3" y1="261.7" y2="294.5" stroke="#6f6fff" stroke-width="1"></line><line x1="386.4" x2="386.4" y1="223.5" y2="294.5" stroke="#6f6fff" stroke-width="1"></line><line x1="407.3" x2="407.3" y1="249.3" y2="294.5" stroke="#6f6fff" stroke-width="1"></line><line x1="454.5" x2="454.5" y1="258" y2="294.5" stroke="#6f6fff" stroke-width="1"></line><line x1="462.8" x2="462.8" y1="265.8" y2="294.5" stroke="#6f6fff" stroke-width="1"></line><line x1="463.9" x2="463.9" y1="228.2" y2="294.5" stroke="#6f6fff" stroke-width="1"></line><line x1="478.3" x2="478.3" y1="234" y2="294.5" stroke="#6f6fff" stroke-width="1"></line><line x1="482.3" x2="482.3" y1="267.4" y2="294.5" stroke="#6f6fff" stroke-width="1"></line><line x1="484.8" x2="484.8" y1="221.8" y2="294.5" stroke="#6f6fff" stroke-width="1"></line><g><path d="M430.1 293.6 414.8 286.5 479.1 287.1 440.8 287.4 414.5 288.8 428.2 291.6 473.8 289.1 434.2 288.2 446.6 290.9 425.5 279.9 368.1 288 422.9 284 448 278.4 474.7 291.4 444.4 287.3 435.2 295.1 364.6 293.2" fill="none" style="marker:url(#mn)"></path><path d="M368.1 288" fill="none" style="marker:url(#mgr)"></path><path d="M475.2 288.4 453.6 287.1 392.7 278.6 474.3 293 432.7 294.8 475.1 290.4 395 271.6 389.6 288.9 468.1 292.8 389.8 292.9" fill="none" style="marker:url(#mn)"></path><path d="M437.9 289.9" fill="none" style="marker:url(#mgr)"></path><path d="M489.6 282.9 472.3 280.6 487.1 293.2 401.8 290.9 461.7 276.6 373.5 287.7 430.2 291.7 464.9 288.3 498.5 293.4 403.7 287.9 441.6 294.3 449.1 290.2 458.9 283.2 403.7 278.6 473.4 288.8 433.2 293.4 423.4 291.1 493.2 284 388.4 281.1 428.3 286.4 402.3 287.9 448.4 290.9 369.9 288.9 387.3 280.2" fill="none" style="marker:url(#mn)"></path><path d="M400 291.5" fill="none" style="marker:url(#mgr)"></path><path d="M487.3 277.5 491.1 289.8 463.7 295 476.3 286.8 453.9 295.1 388.4 289 451.5 291.7 479.1 292.1 490.5 291.6" fill="none" style="marker:url(#mn)"></path><path d="M389.2 280.3" fill="none" style="marker:url(#mgr)"></path><path d="M436.4 282.6 458.3 292.5 397.4 292.1 485.5 287.5 415.2 290.1 393.7 289.3 433 284 437.1 284.3 472.8 292.9 453.2 294 385.3 294.8 489.2 290.6 423.8 284.4 393.6 293.1 474.7 290.3 376.4 281.2 487.2 290.7 398.7 280.3 493.3 277.9 389.9 289.5 489 284.7 414.4 293.6 398.3 282.6 457 289.8" fill="none" style="marker:url(#mn)"></path><path d="M409 292.8" fill="none" style="marker:url(#mgr)"></path><path d="M492.3 294.8 398.7 292.8 399.7 290.9 450.7 279.7 459 292.2 458.6 288.4 442 294.8 479 294.2 468.5 285.3 388.8 295.1 441.5 294.8 429.4 293.2 471.1 290.4 391 285 413.3 295.2 405.7 279.4 399.9 291.5 379.7 280.3 375.4 293.6 428.6 292.8 392.1 281.4 496.3 294.3 448.4 289.9 397 290.5 433.9 287.2 440.7 291.5 412.7 291.8 407 295 448.1 288.6 375.2 278.9 414.6 290.9 369.7 291.4 461.2 292 420.7 291.2 472.1 288.7 456.8 282.6 459 294.3 394.2 286.7 434 294.8" fill="none" style="marker:url(#mn)"></path><path d="M476.1 284.4" fill="none" style="marker:url(#mgr)"></path><path d="M442.1 285.9" fill="none" style="marker:url(#mn)"></path><path d="M422.4 278.2" fill="none" style="marker:url(#mgr)"></path><path d="M443.3 281.6 439.8 287.1 486.6 274.4 412.2 292.3 406 294.5 496.6 285.5 431 291.7 424.4 290.4 425 286 440.5 294.8 490.2 292.8 480.3 268.9 403.9 292.7 417.6 294.2 425.8 284.7 480.4 291.9 470.2 287.6 481.2 293.7 381.5 287.7 412.6 278.8 496.4 292.1 379.3 277.1 477.7 289.1 407.7 280.2" fill="none" style="marker:url(#mn)"></path><path d="M428.7 294.2" fill="none" style="marker:url(#mgr)"></path><path d="M396.5 294.8 363.5 286.1" fill="none" style="marker:url(#mn)"></path><path d="M447.8 286.4" fill="none" style="marker:url(#mgr)"></path><path d="M367.1 287.6 389.8 292.8 436.1 289.4 491.8 288.1 381.7 289.9 469.5 289.9 371.2 293.6 395.1 285.3 495.5 294.4 495.7 292.3 405.6 289.6 499.7 273.1 374 292.7 480.7 288.4 366.9 288.8 484.3 294.2 485.3 288.9 413.3 292 387.1 291 424.1 275.8 477.9 275.2 396.6 285.4 403.5 294.2 496.3 281.1 381.4 295 483.4 287.1 422.8 288.7 492.8 291.4 407.1 295 444.2 290.3" fill="none" style="marker:url(#mn)"></path><path d="M406.9 292.1" fill="none" style="marker:url(#mgr)"></path><path d="M471.9 293.8 372.4 291 497.4 294.1 454.4 289.8 413.1 290.1 474.3 280.8 412.1 286.9 461.5 287.4 472.4 285.7 397.4 295.1 403 277.7 466.2 289.4 487.2 280.2 421.6 289.4 384.7 290.2 371.7 290.5 407.7 294.2 398.4 287.5 377.7 284.2 496.6 290.1 412.5 278.6 478.8 273.8 390.5 288 474.5 291.9 406.5 292 406.7 288.2 490.8 291.1 382.7 284.5 376.4 284.9 424.4 294.1 433.7 282.5 411.7 292.9 398 286.9 364.3 289 448.7 287.3 480.2 290.2 434.2 291.4 375.7 292.2 476.1 283.3 459.9 294.4 387.5 282.2 444.1 294.7 452.2 282.2 391.5 281.8 401.3 294.7 401.2 287.5 363.5 277.9 477.2 294.3 491.7 288.3 418.9 292.9 391.8 291.7 467.6 294.1 463.1 295.1 411.4 289.3 451.3 289.3 463.8 293.1 442.7 291.1 386 294.9" fill="none" style="marker:url(#mn)"></path><path d="M497.3 273.9" fill="none" style="marker:url(#mgr)"></path><path d="M499.3 293.3 465.9 286.6 390.7 294.8 475.2 278.5 446.6 286 412.8 295.1 468.4 295.2 364.6 294.9 406.7 294.3" fill="none" style="marker:url(#mn)"></path><path d="M408.3 278.8" fill="none" style="marker:url(#mgr)"></path><path d="M473.2 278.2 415.8 290.1 367.6 291.1 492.8 282.8 474.6 294.3 483.4 285.8 399 287.2 460.3 290.3 400.8 289.4 466.9 292.4 419.2 290.6" fill="none" style="marker:url(#mn)"></path><path d="M368 283.8" fill="none" style="marker:url(#mgr)"></path><path d="M423.8 283.5 480.6 278.6 462.9 289.1 363.7 289.5 486.8 290.7 487.9 274 427.1 286.7 435.5 280.4 383.2 270.7 368.9 294.6 392.6 283.3 464.9 284.3 481 293.6 389.4 275.4 427 289.4 436.4 290.2 402.7 292.1 396.4 291 400.4 292.7 481.3 291.5" fill="none" style="marker:url(#mn)"></path><path d="M479 283.6" fill="none" style="marker:url(#mgr)"></path><path d="M427.4 294 458.3 288.9 471.4 285.3 378.2 291.6 476.6 293.8 483.5 292.7 476.2 287.4 401.2 292.8 497.8 283.2 455.2 294 421.9 292.9 439.8 294.5 420.2 285.9 412.2 286.6 426.4 283.5 422.3 292.9 478.5 294.5 419.5 274.4 420.2 294.4 432.3 290.6 418.8 294.2 456.7 279.7 465.5 280.5 378.8 293.7 486.3 295 367.8 291.4" fill="none" style="marker:url(#mn)"></path><path d="M413.4 286.8" fill="none" style="marker:url(#mgr)"></path><path d="M479.4 284.6 487.8 292.5 391.2 284.7 382.7 285.1 412.5 288.8 391.5 289.4 457.1 288.7 374.5 290.2 367.6 295.2 424.3 284.7" fill="none" style="marker:url(#mn)"></path><path d="M454.7 292" fill="none" style="marker:url(#mgr)"></path><path d="M448.3 278.8 389.8 290.1 459 280 462.1 292.6 428.5 294.4 432.4 294.5 453.9 289.9" fill="none" style="marker:url(#mn)"></path><path d="M493.6 278.9" fill="none" style="marker:url(#mgr)"></path><path d="M453.6 287.3 450.9 293.1 385.2 290.7 484.4 288.9 482.1 276.3 487.2 286.1 495.4 283.5 465.5 292.8 376.4 282.4 493.7 287.9 383.6 287.6 455 291 443.4 293.7 465.8 287.5 484.8 287.9 416.5 293 463.2 278 417.1 288.9 425.3 288.7 483.3 289 473.1 288.9 459.7 294.2 375.7 286.6 445.5 286.5 387.7 284.9" fill="none" style="marker:url(#mn)"></path><path d="M391.5 290.7" fill="none" style="marker:url(#mgr)"></path><path d="M380.2 294.3 393.1 285.9 430.2 289.7" fill="none" style="marker:url(#mn)"></path><path d="M384.2 285.3 440.9 291" fill="none" style="marker:url(#mgr)"></path><path d="M456.3 292.4 458.6 283.7 368.8 277.8 411.5 289.9 397.3 284.8 382.3 284.9 493.3 275.6 366.8 289.9 488.9 293.4 489.9 292 463.5 294.8 364.5 291.7 387.5 291.6 480.2 288.1 469.4 288.4" fill="none" style="marker:url(#mn)"></path><path d="M425.1 294.9" fill="none" style="marker:url(#mgr)"></path><path d="M384.7 294.1 430.3 289.5 433.5 292.4 437.2 290.2" fill="none" style="marker:url(#mn)"></path><path d="M471.3 282" fill="none" style="marker:url(#mgr)"></path><path d="M460.9 293.1 375.5 294.9 392.5 294.9 407.2 292.9 455.6 288 492.4 288.6 410.4 281.7 483 290.1 468.1 286.7 429.1 289.5 424.8 287.7 429.3 291.4 408.2 290.3 390.7 288.9 367.7 290.4 485.3 282.4 449.9 290.9 443.5 291.6 494.4 287.2 397.1 277.7" fill="none" style="marker:url(#mn)"></path><path d="M492.5 295.1" fill="none" style="marker:url(#mgr)"></path><path d="M425 295 386 292.8 364.8 291.7 491.4 285.2 449.6 289.8 461.4 289.7 495.2 273.7 391.6 292.6 464.6 287.5 391.3 285.5 395.8 286.7 480.6 277.4 369.2 289.1 415.5 285.1 368.3 279.6 451.7 285.7 428.3 281 408.1 294.7 367.9 280.7 379 293.7 449.4 288 418.3 283.5 373.2 294.8 365.7 292.7 476.2 287.8 456.6 292.2" fill="none" style="marker:url(#mn)"></path><path d="M465.8 292.7" fill="none" style="marker:url(#mgr)"></path><path d="M404.1 284.2 417.7 293.8 487.8 293 396.4 287.3 389.5 293.9 378 290.8 410.7 289.5" fill="none" style="marker:url(#mn)"></path><path d="M412 292.5" fill="none" style="marker:url(#mgr)"></path><path d="M434.9 294.5 498.9 270.8 478.7 292.8 387 290.7 453.7 290.9 437.5 293.3 371.4 292 478.6 279.3 487.2 277.8 482 289.8 410.3 288.5 499.6 287.1 472.4 292.9 471 291.4 428.4 292.2 499.9 278.4 468.4 292.6 398.6 291.9" fill="none" style="marker:url(#mn)"></path><path d="M486 290.6" fill="none" style="marker:url(#mgr)"></path><path d="M484.4 288.6" fill="none" style="marker:url(#mn)"></path><path d="M487.8 291.3" fill="none" style="marker:url(#mgr)"></path><path d="M407.4 282.3 414.1 283.6 408.6 290 457.3 289.2 431 287.1 410.3 285.1 500 290.1 464.9 293.2 376.1 290.7 462.1 295 470.7 282.7 494.1 293.6 474.7 277 482.6 278.2 449.7 289.9 493.7 286.8 419 289.5 371.5 292.5 434.8 295.1 373.7 291 446.4 286.8 449.8 276.7 484.4 291.6 387.1 283 417 292.8 373.9 294.1 472.6 288.1 496.1 293.6 430.3 286.8 470.1 284.7" fill="none" style="marker:url(#mn)"></path><path d="M405.6 291.7" fill="none" style="marker:url(#mgr)"></path><path d="M485.1 294.2 476.4 287.3 444 283.7 480 288.6 449.1 293.6 450.6 291.1 385 288.1 396.8 281.8 396.4 289 465.5 294.4 387.8 293.5" fill="none" style="marker:url(#mn)"></path><path d="M495.4 292" fill="none" style="marker:url(#mgr)"></path><path d="M378.8 284.5 456.1 291.4 449.1 290.6 409.5 290.4 382.7 291.9 421.7 289 475.9 291.3 437.7 293.4 421.5 287.3 384 276.5 374.4 290.6 382.5 279.8 378.3 294.3 438.8 288.8 491.9 289.9 499.8 275.8 429 294.2 487.3 292.2 381.1 284.1 434.8 278.9 494.7 281.2 415 293.7 439.1 286 406.5 290.4 416.3 278 491.5 290.8 383.4 287 487.1 288.2 444.7 283.2 452.5 290.4 367.6 285.9 423.3 273.3 485.4 286.1 373.2 292.4 489.9 281.2 403.5 288.7 458.6 282.8 467.9 281 471.6 289.5 475.3 289.4 488.2 284.3 453.6 294.4 459.1 293.7 380.1 290.1 479.2 289.8 482.7 276.4 496.4 294.1 428.6 289.8 416.9 290.8 483.1 295.1 468.6 289 435 292.5 440.7 286.8 396.9 292.1 459.4 294.5 483.2 292.6 436.9 285.3 393.4 273.1 463.6 289.7 434.8 282.9 402.7 284.3" fill="none" style="marker:url(#mn)"></path><path d="M366.1 284.6" fill="none" style="marker:url(#mgr)"></path><path d="M481.5 280.3 384.8 281.5 498 289.3 467.5 286.9 374.6 289.8 450.8 291.6 417.6 288 372.9 289.2 417.6 290.2 417.8 293.8 402 282.5 496.4 290.8 474.9 279.6 371.9 289.3 493.4 292.2 477.7 282.4 416.2 294.3 379.5 281.9 376.6 285 458.2 291.9 404.8 290.9 419.2 292.1" fill="none" style="marker:url(#mn)"></path><path d="M480.1 273.8" fill="none" style="marker:url(#mgr)"></path><path d="M426.1 292.8 371.8 290.3 379.7 278.7" fill="none" style="marker:url(#mn)"></path><path d="M367.7 294.2" fill="none" style="marker:url(#mgr)"></path><path d="M425.3 289.4 442.9 289.7" fill="none" style="marker:url(#mn)"></path><path d="M368.2 294.8" fill="none" style="marker:url(#mgr)"></path><path d="M491.4 285.6 474.6 282.7 476.1 279.9 458.3 287 411.7 289.6 422.8 290.2 393.9 289.6 416.8 290" fill="none" style="marker:url(#mn)"></path><path d="M395.5 273.3" fill="none" style="marker:url(#mgr)"></path><path d="M411.6 291.4 387.9 293.2 488.3 295.1 375.2 291.1 424.8 292.6 447.1 295 416 293.3 432.3 291.2 377 273.9 405.1 294.9 471.5 283.2 496.5 289.8 420 294.4 381.1 290.6 426.2 284.1" fill="none" style="marker:url(#mn)"></path><path d="M389.8 282.9" fill="none" style="marker:url(#mgr)"></path><path d="M428.1 283.5 477.6 287.7 398.6 284.8 412.1 292.2 451.8 286.7 426.8 291.5" fill="none" style="marker:url(#mn)"></path><path d="M382.1 277.1" fill="none" style="marker:url(#mgr)"></path><path d="M478.5 290.8 479.8 271.9 390 287.1 388.7 294.3 451.7 287.4 487.9 294 458.8 291.9 402.8 283.2 454.7 282.9 416.1 289.3 410.5 293.6 387.6 288 430.4 292.7 440.3 287.4 465.1 294.6 367.9 292.8 451.6 288.3 492.3 279.9 488.3 292.3 426.4 277 411.4 291.4 463 281.1 407.9 285.2 470.7 278.9 384.4 287.3 384.5 288.8 401.1 293.3 418.5 291.4 377.7 295.1 404 287.8 445.6 285.8 411.6 282.6 428.1 284.4 412.9 284.8 468.5 286.5" fill="none" style="marker:url(#mn)"></path><path d="M410 292.6" fill="none" style="marker:url(#mgr)"></path><path d="M396.3 289.5 409 284.9 440.6 285.9 496.6 289.9 457.1 290.7 416.6 284.8 492.5 287.8 371.8 284.3 493.9 284.8 383.4 287.1 415 289.9 475.4 288.4 466.5 293.5 389.7 295.1 415.1 294.2 401.7 285 405 284.2 411.1 295.2" fill="none" style="marker:url(#mn)"></path><path d="M492.3 292.7" fill="none" style="marker:url(#mgr)"></path><path d="M449.9 280.1 494.5 288.9 394.9 287.9 448.9 287.6 372.3 285.8 427 287.4 365.5 294 444.7 290.4 428.9 293.5 451.4 290.8 489.7 295 453.4 290.3 371 293.3 397.7 292.6 442.2 292 368.3 283 461.5 291.2 402.7 283 466.9 285.2 407.3 293.9 468.7 288.1 485.1 286.8 442.3 292.4 460.7 288.3 465.4 290.4 455.5 289.2 396.3 289.6 422.4 280.6 486.8 288.7 397 291.7 366 290.8 444.3 287 470.7 291.3 420.9 293.6 444 277.1 424.4 292.4 437.4 285.1 398.5 285.7 425.1 289.9 450.1 282.9 441.1 291.7 480.7 288.1 474.3 294.6 388.1 290.3 424.2 289.1 491.9 293 462.8 279.1 424.7 283.1 479.9 284.3 422.5 293.8 439.7 294.7 450.3 291.5 462.4 288.1 382 285.5 395.6 277.1 396.2 279 484.1 287.9 490.8 282.9 419.2 292.5 387.7 279.9 438.6 285.1 425.5 293.9 410.1 294 363.4 294.1 452.1 280.7 385.1 274.5 400.1 287.4" fill="none" style="marker:url(#mn)"></path><path d="M414.3 288.3" fill="none" style="marker:url(#mgr)"></path><path d="M475.8 289.1 466.1 275.4 430 292.7 477.7 294 401.2 289.9 492.4 290.5 485.2 286.7 487.8 278.9 378.2 293.5 493.9 285.2 444.4 288.7 437.7 294.8" fill="none" style="marker:url(#mn)"></path><path d="M433 292.3" fill="none" style="marker:url(#mgr)"></path><path d="M488.1 291.3 407.3 288.3 422 294.9 420.7 294 467.6 291.1 475.8 281.3 370.8 294.2 435.8 288.4 366.4 294.2 403 283.3 414.1 292.1 422.4 283.9 422.8 294.9 365.7 288.4 463.9 286.8 488.7 280 419.8 292.8 443.5 283.1 466.4 285.7" fill="none" style="marker:url(#mn)"></path><path d="M399.1 290" fill="none" style="marker:url(#mgr)"></path><path d="M483.9 289.7 405.8 291" fill="none" style="marker:url(#mn)"></path><path d="M430.8 281.7" fill="none" style="marker:url(#mgr)"></path><path d="M469.8 285.8 387.4 287.6 373.1 288.7 493 287.3 439.5 292.5 485.9 279.5 390.5 290.3 388.4 290.4 391.2 272.8 491.5 287.6 411.8 282.3 440.5 294.7 374.7 281.1 481.9 279.6 480.3 286.8 435.2 283.3 483.7 287.3 452 272.7 480.8 283.7 381.9 290.4 424.1 282.6 375.1 287.3 475.6 285.3 442.3 293 439.7 294.4 445.8 292 414.3 293.4 363.7 277.6" fill="none" style="marker:url(#mn)"></path><path d="M387.3 291.8" fill="none" style="marker:url(#mgr)"></path><path d="M429 289.8 477.2 294.3 421.7 292.1 423.8 289.4 427.4 274.9" fill="none" style="marker:url(#mn)"></path><path d="M423.1 289.9" fill="none" style="marker:url(#mgr)"></path><path d="M425.7 288.4 394.9 286.3 475.3 291.9 491.3 278.8 390.4 282.7 436.6 288.3" fill="none" style="marker:url(#mn)"></path><path d="M388 276.1" fill="none" style="marker:url(#mgr)"></path><path d="M387 291.8 421.6 287.1 409.4 291.5" fill="none" style="marker:url(#mn)"></path><path d="M497.4 266.4" fill="none" style="marker:url(#mgr)"></path><path d="M469.3 293.3 466 294.6 397.5 285.4 386.8 291.8" fill="none" style="marker:url(#mn)"></path><path d="M437.7 294.5" fill="none" style="marker:url(#mgr)"></path><path d="M490.6 292.3 411 284.3 438.1 292.1 493.6 294.2 468.9 291.8 459.7 293.7 433.5 289.7 378.5 290.6 405.9 286.1" fill="none" style="marker:url(#mn)"></path><path d="M404.3 280.6" fill="none" style="marker:url(#mgr)"></path><path d="M477.7 274.1 365.1 283.7 365.6 292.9 487.1 292.2 467 292 373 285.1 491 281.5" fill="none" style="marker:url(#mn)"></path><path d="M432.5 293.4" fill="none" style="marker:url(#mgr)"></path><path d="M429.1 288.9 471.5 293.1 492.2 292.7 400.5 284.9 445.2 290.3 390.8 287.9 472.7 294.6 423.8 279.7 424 281.4 475.4 287.5 413.9 295 441.3 290.7 433.9 295 458.7 294.2 389.4 294.3 418 294.4 465.6 293.6 434.5 279.9 446.4 290.7 403.4 287.8 457 292.4 384 293.5 370.4 287 380.3 278.3 459.9 289.6 408.7 295 433.4 295.2 468.5 286.6" fill="none" style="marker:url(#mn)"></path><path d="M492 287.1" fill="none" style="marker:url(#mgr)"></path><path d="M432.5 287.3 400.2 281.5 475 287.5 492.2 287.3" fill="none" style="marker:url(#mn)"></path><path d="M435.1 284.6" fill="none" style="marker:url(#mgr)"></path><path d="M428.8 291.6 366.3 292.1 429.4 293.6 472.7 278.2 485.6 294.3 454.3 285.1 473.6 287.8 441.6 282.6 418.4 283.5 454.3 276 377.2 291.4 428.6 293.7 485.7 278.6 460.2 287.2 417.6 280.5 434.1 285.8 436.2 291.3 479.8 275.8 460.4 292.9 366.4 286.4 476.2 293.7 485.1 295.1 453.2 293.9 393.2 291.6 373.1 290.2 457.7 294.7 458.3 294 477.3 288.5 430.7 294.9 476 278.4 448.4 287.4 476.4 292 462.8 288.6 456.8 280.2 496.9 291 363.5 284.6 390.4 290.1 456 286.7 497.2 272.8 367.5 290.7 416.3 291.8 450.8 284.2 484.5 294 370.1 284.2 394.5 291 384.9 291.1 390.6 287.8 482.2 292.7 487.5 273.4 485.8 287.1 465.2 290.4 453.4 288.5 431.1 291.6 410.6 293.5 448.4 288.1 439.1 282.5 374.5 293.8 424.7 287.1" fill="none" style="marker:url(#mn)"></path><path d="M468.3 288.9" fill="none" style="marker:url(#mgr)"></path><path d="M409.4 278 367.2 292.7 365.7 282.2 496.1 292.5 436.5 284.9 422.8 288.1 424.1 291.8 427.3 289.6 485.2 293.4 444.7 293.2 483.1 288.9 496.7 294.8 436.4 279.7 476.8 295 432.7 289.8 470.8 288.2 468 292.7 369.3 283.8 373.5 289.8 377.7 294.6 459.6 276.6 487.3 283.4 387.6 291.6 461.3 279.2 413.6 283.7 466.4 294 428 280.6 420.7 281.5 493.3 273 439.8 288.4 438.7 290.8 370.6 292.7 369.9 286.8 373.3 284.8 408.2 284.9 484.8 279.3 388.8 281 458.2 286.3 495.2 274 450.5 283.8 431.3 291.5" fill="none" style="marker:url(#mn)"></path><path d="M389.4 286.6" fill="none" style="marker:url(#mgr)"></path><path d="M371.9 289.8 401.8 290.4 392.5 286.7 418.6 294.8 458.8 289.3 367.6 286.4 398 280.2 369.9 293.3 374.6 289.3 408.8 293 368.7 289.8 433.8 292.8 405 289.5 475.3 294.6 407.6 286.2 450.9 292.6 379.3 294.8 391.3 292.3 426.8 294 456.9 294.8 498.9 287.2 373.1 285.6 479.1 294.9 394.7 289.2 398 288.2 492.3 258.1 450.5 289 470.8 284.7 393.2 290.5 464.1 287.6 438.3 294.5 378.3 294.6 459 288.7 460 291.4 434.5 289.6 465.7 294.5 376.4 295.2 468.7 286.4 434.1 292.7 496.1 289.5 392.7 295 449.9 293.5 381.4 293.1 410.9 265.5 454.8 275.9" fill="none" style="marker:url(#mn)"></path><path d="M487.3 286.3" fill="none" style="marker:url(#mgr)"></path><path d="M472.5 285.2 383.8 285.7 416.2 290.2 383.4 294.3 389.9 293.7 489.2 294.7 383.8 293.3 400.2 294.6 432 280.2 446.2 281.8 410.7 294.7 400 292.9 375.2 290.7 431.1 273.9 380.3 285.7 391.4 290.5 470.6 294.6 443.7 295 460.3 290.2 424.5 288.6" fill="none" style="marker:url(#mn)"></path><path d="M437.6 293.7" fill="none" style="marker:url(#mgr)"></path><path d="M432.4 294.7 373.2 284.9 487.2 268.6 454.8 289.9 470.8 294.2 418.1 277 471.4 284.1" fill="none" style="marker:url(#mn)"></path><path d="M374.2 286.2" fill="none" style="marker:url(#mgr)"></path><path d="M376.6 289.4 389.1 289.7 468.2 289.4 476.9 294.8 367.7 293.6 441.8 283.3 394.1 290.1 431.5 293.2 388.3 293.6 497.6 291.4 433 293.9 446.4 294 368.3 293.6 437.9 294" fill="none" style="marker:url(#mn)"></path><path d="M464.9 269.2" fill="none" style="marker:url(#mgr)"></path><path d="M456.9 283 399.5 293.3 424.4 290.8 393.6 287 440.1 294.6 420.3 294.2 475.1 294.6 438.8 271.7 475.2 291.1 499.8 294.7 422 294.3 442 289.9 387.5 289.3 389.7 283.1 487.8 294.2 495.8 289.6 394.5 264.2 458.7 294.5 438.1 290.1 456.6 292.8 385.3 293.8 424.9 287.5 377.6 288.5 382.7 283.7 394.1 289.1 386.4 289.8 455 294.8" fill="none" style="marker:url(#mn)"></path><path d="M399.5 294.4" fill="none" style="marker:url(#mgr)"></path><path d="M399.9 274.2" fill="none" style="marker:url(#mn)"></path><path d="M467 289.9" fill="none" style="marker:url(#mgr)"></path><path d="M401.5 291 447.5 294.7 442 291.4 409.4 293.9 450.4 280.1" fill="none" style="marker:url(#mn)"></path><path d="M392.4 292.8" fill="none" style="marker:url(#mgr)"></path><path d="M433.1 290.1 498.9 294.5 435.2 290.4" fill="none" style="marker:url(#mn)"></path><path d="M420.6 287.3" fill="none" style="marker:url(#mgr)"></path><path d="M470.4 289.8 385.9 292.2 489.6 285.1 367.3 291 438.9 289.6 468.7 281.4 403.4 291 457 285.5 424.2 289 464.1 291.9 372.3 294.4 375.3 294.9 376.7 280.5 407 286.9 415.1 293.5 404 292 370.3 292.3 442.4 292.3 394.8 292.6 398.5 284.9 410 279.3 471.4 282 422.2 283.6 449 291.8 433.9 290.4 368.1 288.8 481.1 286" fill="none" style="marker:url(#mn)"></path><path d="M457.3 293.6" fill="none" style="marker:url(#mgr)"></path><path d="M396.6 293.5 488.5 278.4 480.6 287.2" fill="none" style="marker:url(#mn)"></path><path d="M381.8 273.5" fill="none" style="marker:url(#mgr)"></path><path d="M439.3 271.5 436 293.5 390.3 293.7 480 295.1 401.6 293 386.4 267.7" fill="none" style="marker:url(#mn)"></path><path d="M416.9 290.4" fill="none" style="marker:url(#mgr)"></path><path d="M397.2 287.7 421.6 284.9 414.8 292.1 410.4 290.9 454.7 290.8 450 295.1 436.2 294.9 464.4 267.6 403.5 286 419 287.5 398.4 285.4" fill="none" style="marker:url(#mn)"></path><path d="M441.4 271.9" fill="none" style="marker:url(#mgr)"></path><path d="M381.8 276.2 441.1 282.3 493.9 293.7 442.9 295.2 384.4 293.8 398.7 293.2 449 294.2 414.6 294.1 437.3 286.3 458.1 293.6 407.9 292.8 368.7 290.2" fill="none" style="marker:url(#mn)"></path><path d="M447.6 292.2" fill="none" style="marker:url(#mgr)"></path><path d="M407.9 292 450.2 293.2 395.9 294.6 375 272.5 409.1 264.4 366 256.5 390.7 293.8 436.9 290 421.8 292.7 378.2 292.4 441.7 281 465.6 285.5 446.4 291.7 394.1 294.2 424.8 281.8 432.6 291.9" fill="none" style="marker:url(#mn)"></path><path d="M433.5 283.3" fill="none" style="marker:url(#mgr)"></path><path d="M400.6 286 386 284.4 387.1 285.9 404.6 294.3 422.4 294.4 460.6 293.6 418.1 289.1" fill="none" style="marker:url(#mn)"></path><path d="M429.9 283.5" fill="none" style="marker:url(#mgr)"></path><path d="M467.2 290.2 396.2 294.3 458 291.2 373.4 292.1 397.9 292.8" fill="none" style="marker:url(#mn)"></path><path d="M425 288.2" fill="none" style="marker:url(#mgr)"></path><path d="M410.4 293.7 450.3 288" fill="none" style="marker:url(#mn)"></path><path d="M425.9 267.6" fill="none" style="marker:url(#mgr)"></path><path d="M405.8 294.7 398.3 289.3 489.4 293.1 461.6 294.3 400.4 294.5 393.2 290.1 448 284.5 461.4 292.8 470.9 284.1 461.5 282.7 375.3 293.3 489.9 289.7 439.2 273.6 370.9 285.5 419.8 290.7 432.7 292.5 480.7 274 411.4 283.5 372.8 290 474.9 268.8 483.2 295.1 472.9 278.5 384.8 280.7 462.6 276.3 461.6 292.9 463.5 294.2 469.7 286.6 437.2 295.1 364.8 291.6 457.4 293 429.8 291.1 382 286.8 411.8 294.7 496.1 282.7 409.9 294.6 446 292.9 366.8 289.7 499.1 294.9 393.8 290.9 389.1 289.3 396.7 294.7 401 272.6 462.2 294.6 439.8 295.2 387.9 289.8 467.9 293.6 473.7 293.8 383.7 254.2 447.2 288.6 430.7 284.9 409.2 293 442.2 294.3 456.8 289.4 385 291.8 491.8 294.7 469.8 294.2 425.9 294.6 467.6 286.6 463.7 283.9 364.4 291.8 411.2 280.3 479.5 287.3 448.5 294.2 438.1 273.6 472.4 294.2 371 293.7 451 295 400.7 287.9 457.2 273.3 433.4 293.8 383.3 292.2 376.7 272.5 415.1 294.6 493.9 291.6 373.8 291.6 366 290.6 425.8 281.9 462.1 289.3 458.9 291.6 404.6 290.4 456.5 293.7 435.9 289.8 448.2 294.2 428.9 279.7 382.2 284.3 447.6 289.1 444.3 290.8 483.4 292.1 436.1 294.2 422.8 284 490 294.5 414.9 293 445.7 293" fill="none" style="marker:url(#mn)"></path><path d="M492.3 266.6 479.4 294.6" fill="none" style="marker:url(#mgr)"></path><path d="M446.6 285.5 484.7 290.2 486.9 295 485.3 283.3 401.4 290.8 467.3 293.6 389.1 294.1" fill="none" style="marker:url(#mn)"></path><path d="M365.6 293.3" fill="none" style="marker:url(#mgr)"></path><path d="M473.1 293.5 385.2 295 484.9 287.6 457.6 289.4 433.4 293.8 459.9 292.1 494.8 278.9 439.6 292.7" fill="none" style="marker:url(#mn)"></path><path d="M474.7 288.3" fill="none" style="marker:url(#mgr)"></path><path d="M407.8 289 442.2 294 426.7 289.4 470.1 282 368.3 292.6 365.1 275.4 492.5 291.5 468.2 294.8 427.6 293.3 411 288 446.6 291.1 469.7 294.1" fill="none" style="marker:url(#mn)"></path><path d="M462.6 294.4" fill="none" style="marker:url(#mgr)"></path><path d="M417 291.2 490 293.5 365.1 291.6 374.6 270.3 483.6 289.4 430 286" fill="none" style="marker:url(#mn)"></path><path d="M459.7 294.4" fill="none" style="marker:url(#mgr)"></path><path d="M466.2 290.4 466.2 293.7 396.5 290.3 429.8 293.5 492.7 289.5 391.4 289.6 409.7 278.3 419.1 289.8 388.2 284.5 444 287.8 470.9 288.5 370.7 286.2 370 291.3 448.1 288 485.6 287.3 402.9 268.4 488.5 292.6 384.6 283" fill="none" style="marker:url(#mn)"></path><path d="M391.7 281.2" fill="none" style="marker:url(#mgr)"></path><path d="M423.5 283.7 484.1 294.4 375.9 284.2 498 287.5 454.1 289.1 479.4 291.9 499.8 291.7 436.6 280.1 493.9 286.8 452.8 291.4 385.8 288.2 456.9 292.9 456.6 284.4 477.5 285.7 383.1 292.8 430.4 273.7 438.7 294.1 397.3 287.5 467.5 291.3 456.4 294.3 363.7 294.1 431.9 295 426.7 294.4 375.7 293.5" fill="none" style="marker:url(#mn)"></path><path d="M444.7 259.9 494 266.5 370.9 265.7" fill="none" style="marker:url(#mgr)"></path><path d="M430.6 241.6 432.2 243.4 430.6 264.1 435.3 267.6 428.2 269.3" fill="none" style="marker:url(#mlb)"></path><path d="M433.3 253 431.3 254.9 428.1 253.6 430.4 254.3 431.1 249.7 429.8 250.6 434.8 251.2 433.2 250 432.7 249.5 432.7 254.9 427.8 252.6 431.5 250.1 432.6 250.3 432.4 251.7 432.1 248.8 429.9 249.2 433.4 254.2 431.3 251.6 433.7 249.2 432.4 254 429.9 250.5 431 249.9 430.1 246.3 435.5 250 436.4 249" fill="none" style="marker:url(#mg)"></path><path d="M430.1 233.3 430.1 238.3" fill="none" style="marker:url(#mo)"></path><path d="M430.6 204.5 431.2 206 431.7 207 432 215.2 432.3 216.5 432.2 217.6" fill="none" style="marker:url(#mr)"></path><path d="M431.3 201.35L432.70 203L431.3 204.65L429.89 203Z" fill="#8a2be2" stroke="#502080" stroke-width="0.4"></path></g></g><rect x="363.3" y="181.4" width="136.7" height="119.4" fill="none" stroke="#979797" stroke-width="1"></rect><line x1="360.3" x2="363.3" y1="295.2" y2="295.2" stroke="#979797" stroke-width="0.8"></line><text x="358.1" y="298" font-size="7" text-anchor="end" fill="#222">0</text><line x1="360.3" x2="363.3" y1="273.41" y2="273.41" stroke="#979797" stroke-width="0.8"></line><text x="358.1" y="276.21" font-size="7" text-anchor="end" fill="#222">2</text><line x1="360.3" x2="363.3" y1="251.64" y2="251.64" stroke="#979797" stroke-width="0.8"></line><text x="358.1" y="254.44" font-size="7" text-anchor="end" fill="#222">4</text><line x1="360.3" x2="363.3" y1="229.85" y2="229.85" stroke="#979797" stroke-width="0.8"></line><text x="358.1" y="232.66" font-size="7" text-anchor="end" fill="#222">6</text><line x1="360.3" x2="363.3" y1="208.07" y2="208.07" stroke="#979797" stroke-width="0.8"></line><text x="358.1" y="210.88" font-size="7" text-anchor="end" fill="#222">8</text><line x1="360.3" x2="363.3" y1="186.29" y2="186.29" stroke="#979797" stroke-width="0.8"></line><text x="358.1" y="189.1" font-size="7" text-anchor="end" fill="#222">10</text><line x1="500" x2="503" y1="294.5" y2="294.5" stroke="#b4b4ff" stroke-width="0.8"></line><text x="504.8" y="297" font-size="7" text-anchor="start" fill="#7878ff">0</text><line x1="500" x2="503" y1="270.75" y2="270.75" stroke="#b4b4ff" stroke-width="0.8"></line><text x="504.8" y="273.25" font-size="7" text-anchor="start" fill="#7878ff">20</text><line x1="500" x2="503" y1="247" y2="247" stroke="#b4b4ff" stroke-width="0.8"></line><text x="504.8" y="249.5" font-size="7" text-anchor="start" fill="#7878ff">40</text><line x1="500" x2="503" y1="223.25" y2="223.25" stroke="#b4b4ff" stroke-width="0.8"></line><text x="504.8" y="225.75" font-size="7" text-anchor="start" fill="#7878ff">60</text><line x1="500" x2="503" y1="199.5" y2="199.5" stroke="#b4b4ff" stroke-width="0.8"></line><text x="504.8" y="202" font-size="7" text-anchor="start" fill="#7878ff">80</text><rect x="363.3" y="304.8" width="136.7" height="12.19" fill="none" stroke="#979797" stroke-width="1"></rect><path d="M372.4 306.6h2.6M372.3 306.6l1 -0.6v1.2z" stroke="#444" stroke-width="0.55" fill="#444"></path><text x="375.59" y="307.7" font-size="3.4" font-style="italic" fill="#484848" textLength="6.80" lengthAdjust="spacingAndGlyphs">TBX3</text><rect x="373.2" y="308.8" width="8.19" height="0.45" fill="#5050e0"></rect><rect x="373.2" y="308.4" width="1" height="1.2" fill="#3030d0"></rect><rect x="379.9" y="308.4" width="1.5" height="1.2" fill="#3030d0"></rect><path d="M413.3 306.6h2.6M413.20 306.6l1 -0.6v1.2z" stroke="#444" stroke-width="0.55" fill="#444"></path><text x="416.5" y="307.7" font-size="3.4" font-style="italic" fill="#484848" textLength="6.80" lengthAdjust="spacingAndGlyphs">TBX5</text><rect x="417.2" y="308.4" width="2" height="1.2" fill="#3030d0"></rect><path d="M386.8 312.3h2.6M389.5 312.3l-1 -0.6v1.2z" stroke="#444" stroke-width="0.55" fill="#444"></path><text x="374.3" y="313.4" font-size="3.4" font-style="italic" fill="#484848" textLength="11.90" lengthAdjust="spacingAndGlyphs">TBX3-AS1</text><rect x="380.9" y="314.09" width="1" height="1.2" fill="#3030d0"></rect><line x1="375.1" x2="375.1" y1="317" y2="320" stroke="#979797" stroke-width="0.8"></line><text x="375.1" y="328.2" font-size="7" text-anchor="middle" fill="#222">114.8</text><line x1="402.1" x2="402.1" y1="317" y2="320" stroke="#979797" stroke-width="0.8"></line><text x="402.1" y="328.2" font-size="7" text-anchor="middle" fill="#222">115</text><line x1="429.5" x2="429.5" y1="317" y2="320" stroke="#979797" stroke-width="0.8"></line><text x="429.5" y="328.2" font-size="7" text-anchor="middle" fill="#222">115.2</text><line x1="457" x2="457" y1="317" y2="320" stroke="#979797" stroke-width="0.8"></line><text x="457" y="328.2" font-size="7" text-anchor="middle" fill="#222">115.4</text><line x1="484.4" x2="484.4" y1="317" y2="320" stroke="#979797" stroke-width="0.8"></line><text x="484.4" y="328.2" font-size="7" text-anchor="middle" fill="#222">115.6</text><text x="435.6" y="338.5" font-size="7" text-anchor="middle" fill="#222">Position on chr12 (Mb)</text><text x="368.3" y="199.5" font-size="14" font-weight="bold" fill="#000">g</text><text x="433" y="200.3" font-size="5.7" text-anchor="middle" fill="#000">rs10650382</text></g><g><clipPath id="ch"><rect x="535.3" y="185.1" width="137.10" height="93.70"></rect></clipPath><g clip-path="url(#ch)"><line x1="637.2" x2="637.2" y1="245" y2="274.4" stroke="#6f6fff" stroke-width="1"></line><line x1="640.8" x2="640.8" y1="253.8" y2="274.4" stroke="#6f6fff" stroke-width="1"></line><line x1="669.7" x2="669.7" y1="254" y2="274.4" stroke="#6f6fff" stroke-width="1"></line><g><path d="M595.1 274.2 617.3 260.8 671.6 262.1 537.9 272 604.1 273.9 623.8 244.8 555.9 263.4 557.6 271.1 655.7 259.1 622.5 271.1 578.4 270" fill="none" style="marker:url(#mn)"></path><path d="M645 268.5" fill="none" style="marker:url(#mgr)"></path><path d="M586.2 272.2 665.8 273.7 611.8 274 548.5 269.7 541.1 268 568.6 270.5 611.6 268.1 587.6 272.1 652.2 273.3 647.7 274.1 574.8 267.4 590.4 269.2 660.3 265.9 558 271.6 562.2 264.6 631.2 266 650.2 269.7 552.1 274 553.4 264.2 633.3 272.4 581.6 265.8 624.5 254.2 599.8 267.6 664.5 267.8" fill="none" style="marker:url(#mn)"></path><path d="M639.9 264.6" fill="none" style="marker:url(#mgr)"></path><path d="M646.8 261 659.1 268.3 571.4 273.2 572.3 268.5 568.7 272.1 603 268.5 551.9 271.3 670 264.4 649.5 272.2 576.8 272.6 565 274.1 665.3 266.9 538.8 271.4 646.7 269.6 615.1 256.1 546.6 271.4 551.5 258.7 603.7 271.1 571.8 272.2 550.4 261.6 612.9 261.5 551.6 274.2" fill="none" style="marker:url(#mn)"></path><path d="M572.2 270.3" fill="none" style="marker:url(#mgr)"></path><path d="M615.4 266 566.9 273.6 584.7 274 626.5 268.4 623.7 267.5 575.4 271.4 552.5 272 543.9 269.6 552.5 272.4 642.1 261.2 631.1 257.1 551.1 272.7 596.3 270.3" fill="none" style="marker:url(#mn)"></path><path d="M653.1 273.2" fill="none" style="marker:url(#mgr)"></path><path d="M594.7 266.5" fill="none" style="marker:url(#mn)"></path><path d="M620.8 269.5" fill="none" style="marker:url(#mgr)"></path><path d="M613.2 258 564.3 271.5 607.8 274.2 600.7 272.6 651.5 265.4 551.3 268 535.9 260.7 647.8 270.2 613.7 268 616.9 257.2 581.4 263.2 632.7 269.2 598.1 273.2 585.9 274 654.5 267.7 588.1 273.3" fill="none" style="marker:url(#mn)"></path><path d="M652.5 271.8" fill="none" style="marker:url(#mgr)"></path><path d="M587 271.5 593.4 273.1 585.9 270.2 574.5 267.6 540.8 265.3 591.2 268.6 564.4 272.5 636.8 269.9 652.2 266.3 596.1 271.8 592.2 263.5 595.4 273.5" fill="none" style="marker:url(#mn)"></path><path d="M634.2 265.1" fill="none" style="marker:url(#mgr)"></path><path d="M576.1 273.8 577.3 272.6 567 265.6 551.1 267.1 538.2 272.9 669.2 271.8 617.6 265 667.9 269.9 671.9 263.7 616.4 273.1 557 274.1 645.2 273 620.2 265 622.3 263.3 643.8 274 555.9 266.4 666.8 274.1 668.1 264.5 600.2 266.1 598.2 274.2 661.7 272 627.8 256.2 555.6 266.7 608.1 268.3 642.6 269.1 627.3 270.9 639.1 266.2 605.9 274.3 662.7 258.8 557.8 272.4 641.2 264.3 620.4 258.5 620.2 267.3 540.9 269 546.6 269.5 642.2 256.5 576.4 272.6 663.8 267.1 634.5 273.1 626.2 274.4 536.4 270.8 606.6 264.8 573.5 274.3 546.9 262.9 550.4 250.9 605.3 263.4 579.9 273.5 557.3 274.2 593.1 271.4 606.1 269 540.7 261.1 607.1 273.5 633.1 274.2" fill="none" style="marker:url(#mn)"></path><path d="M646.5 266.9" fill="none" style="marker:url(#mgr)"></path><path d="M575.2 263.8 569.1 273.3 619.7 274.3 644.9 269.6 582 271.6 548.7 273.5 648.7 260.7 665.1 271 555.8 265.8 659.8 264.2 586.8 265.5" fill="none" style="marker:url(#mn)"></path><path d="M631.7 269.6" fill="none" style="marker:url(#mgr)"></path><path d="M566.1 269 607 269.2 646.3 258.8 609.1 274.3 622.7 269.8 646.9 262.5 569.1 267.6 535.9 269.8 581.1 272.3 579.3 274.4 545.4 266.7 623.7 266.6 613.3 272.8 578.4 272 619.3 259.3 543.6 270.8 642.7 274.1 640 253.7 554.4 266.1 573.2 270.6 547.5 273.5 592.9 266.9 572.1 271.2 660.3 269.6 640.2 263.9 613.4 273.7 552.1 272.9 669.4 258.8 540 260.1 650.1 274.2 635.3 259.7 660.6 264 576.4 274.4 590.9 271.1 571.5 273.1 621.3 271.7 587.5 268.8 598.7 272.5 652.5 270 570.8 269.9 587.9 274.3 550.1 268 543.5 272.1 589.7 269.9 561.5 269.2" fill="none" style="marker:url(#mn)"></path><path d="M600.5 273.2" fill="none" style="marker:url(#mgr)"></path><path d="M593.7 265.1 584.4 265.9 628 261.9 553.6 262.9 630.5 268.7" fill="none" style="marker:url(#mn)"></path><path d="M582.1 273.8" fill="none" style="marker:url(#mgr)"></path><path d="M665 258.7 566.3 272.3 611.7 271.6 620.7 263.5 669.1 265.8" fill="none" style="marker:url(#mn)"></path><path d="M645.5 270.4" fill="none" style="marker:url(#mgr)"></path><path d="M652.7 274.2 637.3 265.4 535 268.2 595.2 271.9 625.4 270.4 629.9 271.9 541.5 273 625.3 271.8 569.9 266.6 619.9 272 549.6 270.8 660.5 256.3 559.5 271.1 585.7 273.9 626.2 259.4 603.9 266.2 634.8 266.6" fill="none" style="marker:url(#mn)"></path><path d="M542.6 261.5" fill="none" style="marker:url(#mgr)"></path><path d="M556.8 256.1 646.5 263.8 581.8 267.2 565.1 268.6" fill="none" style="marker:url(#mn)"></path><path d="M603.4 272.5" fill="none" style="marker:url(#mgr)"></path><path d="M645.2 264.8 541 246.6 553.5 269.3 575.9 273.8 630.4 258.2 578.3 268.2 663.3 269.5 639.9 257.9 540.1 273.2 621.6 244.7 609.3 273 637.6 270.6 659.1 268.7 636.9 272.6 622.8 270 619.4 273.6 594.8 266 639.3 258.2 662.3 270.8" fill="none" style="marker:url(#mn)"></path><path d="M587 269.1" fill="none" style="marker:url(#mgr)"></path><path d="M606.8 272.5 554.5 271.3" fill="none" style="marker:url(#mn)"></path><path d="M671.2 263.9" fill="none" style="marker:url(#mgr)"></path><path d="M665.9 273.9 615.1 268.8 575.4 272.2 573.9 271.4 653.3 272.2 627 249.2 605.2 273.1 578 266.6 587 270.6 616.1 260.5 592.8 271.2 617.8 266.2 622 271.8 617.7 249.5 552.3 256.9 632.4 265.3 586.5 264.8 659.1 272 645.8 261.9 563.4 269.9 643.1 260.3 545.3 259.9 636.1 267.4 601.3 272 549 273.9 591.6 273.6 649.4 267.3 566.1 269.2 631.6 256.2 597 271.7 568.4 271.4 570.5 269.7 647.6 271.6 582.5 268.7 538.1 264.2 648.6 266.8 607.5 267.7 655.1 274.1 659.3 263.5 654.8 261.3 565.4 266.5" fill="none" style="marker:url(#mn)"></path><path d="M592.5 274.2" fill="none" style="marker:url(#mgr)"></path><path d="M624.8 248.3 659.2 261.5 567.5 272.3 544.9 265.1 606.3 270.4 657.2 259.4 635.5 274.2 666.3 266.3 563.6 264.4 600 272.5 577.8 266 591 271.1" fill="none" style="marker:url(#mn)"></path><path d="M569.1 270.8" fill="none" style="marker:url(#mgr)"></path><path d="M581.3 272.7 569.3 273.5 618 273 540.6 264.9 650.7 268.2 545.7 272.5 606.3 273.6 543.4 253.8 637.8 259.3" fill="none" style="marker:url(#mn)"></path><path d="M612.1 267" fill="none" style="marker:url(#mgr)"></path><path d="M633.3 259.9 585 267.1 549.8 262.2 569.1 268.9 660.4 267.7 596.2 273.5 568.2 273.4 639.8 251.4 598.2 269.2 597.5 269.9 631.8 267.4 637.8 272.9 659.7 269.6 606.5 273.9 664 256.9 615.7 265.8 537.4 270.1 656.1 274 553 271.6 642.4 274.3 559.2 269.3 547.2 251.7 635.7 268.6 568.8 273.4 562.5 266.4 610.1 264.3 535.9 270.6 591.2 274.1 535.4 270.7 628.7 250.9 603.1 267.3 608.8 273.5 638.8 264.2 595.3 272.1 606.6 274.2 658.5 268.4" fill="none" style="marker:url(#mn)"></path><path d="M657.2 269.8" fill="none" style="marker:url(#mgr)"></path><path d="M628.2 259.9 651.6 270.1 631 270 638.5 259.7 549.1 269.4 581.2 269.2 631.2 273.9 549.9 272.8 572.7 274.2 597.8 266.4 557.5 273.3 538.3 272.5" fill="none" style="marker:url(#mn)"></path><path d="M619.3 269.9" fill="none" style="marker:url(#mgr)"></path><path d="M613.2 271.1 537.9 250.3 598.5 267.3 555.8 265 602.7 269.5 642.9 264.5 631.9 261.5 560.2 264.6 625.5 249.5 604.9 269.4 640.4 264.1 564 270.8 650.7 274.3 592.3 273.8 548.1 274.3 645.4 273.4" fill="none" style="marker:url(#mn)"></path><path d="M588 268.5" fill="none" style="marker:url(#mgr)"></path><path d="M623.8 272.8 611.4 268.6 592.4 273.5 597.9 266.2 618.8 271.9 610.8 267 671.4 274 618.6 268.1 645.3 272.7 618.5 266.1 575.3 271.3 541.4 254.6 629.5 260.8" fill="none" style="marker:url(#mn)"></path><path d="M561.1 266.2" fill="none" style="marker:url(#mgr)"></path><path d="M611.2 269.1 585.8 270.6 572.4 273.1 607.7 263 620.8 265.9 600.8 273.4" fill="none" style="marker:url(#mn)"></path><path d="M647.3 262.7" fill="none" style="marker:url(#mgr)"></path><path d="M658.2 263.7 543.4 255.7 549.4 268.3 581.2 273.8 573 270 541.8 254.7 581.2 269.5 534.9 262.7 538.7 261.8 641.8 265.3 641.7 273.1 602.3 274.2 628.7 274.2 588.6 273.7 592.3 274.1 662.9 272.1 625.1 260.7 583.1 271.8 639.2 267.8 562.2 263.8 670.8 272.8 621.9 254.5 632.9 258.9 603.4 271.5 558.6 269.7 542 271.1 567.9 271.6 576.1 271.7" fill="none" style="marker:url(#mn)"></path><path d="M575.7 272.9" fill="none" style="marker:url(#mgr)"></path><path d="M663.6 265.9 546.6 272.7 559.1 268 658.9 259.6 646.1 272.5 592.1 272.4 548.9 263.1 540.9 270 551 258.6 657.1 274.2 610.9 267.8 593.2 273.9 542.9 273.3 576.4 271.8 590.2 266.1 659.6 266.9 571 267.4 551.1 258.9 660.9 253.5 614.8 267.4 572 267.7 663.7 273.3 634.9 273.4 580.4 265.8 654.8 258.9 663.9 273.3 623.6 259 614.6 264.6 613.2 271.9 625.6 262.5 563.4 268.4 574.3 271.8 591.2 274.1 596.3 262.7 594.1 272.1 624.4 264.1" fill="none" style="marker:url(#mn)"></path><path d="M544.1 259.5" fill="none" style="marker:url(#mgr)"></path><path d="M594.3 271.4 593.9 267.5 561.3 266.5 645 267.7 658.2 266.4 557.6 273.3 622.5 266.2 601.7 266.5 620.2 268.4 559.3 272.7 598.6 272.9 543.4 260.2 605.2 271.7 655.8 270.6 590.1 273.4 593.3 274 660.2 269.3 551.5 268.4 552.7 269.4 666.4 269.3 648.6 271.3 544.8 263.9 628 272.4 575.7 270.4 638.5 263.2 671.9 269.4 626.6 269.3 656.4 270.9 664.5 263 591.1 266.4 637.4 262.3 541 259.1 546.3 271.6 623.1 268.1 636.7 268.8 570.9 265.5 560.2 268.7 636.5 271.1 613.4 272.4 669.9 273.1 610.9 270.5" fill="none" style="marker:url(#mn)"></path><path d="M618.1 269.9" fill="none" style="marker:url(#mgr)"></path><path d="M597.3 273.3" fill="none" style="marker:url(#mn)"></path><path d="M663 270.4" fill="none" style="marker:url(#mgr)"></path><path d="M664 274.3 665.1 270.4 665.8 271.3 604.4 269.5 657.2 272 660.9 268.5 547.2 264.1 572.7 264 633.2 266.2" fill="none" style="marker:url(#mn)"></path><path d="M565.6 267.1" fill="none" style="marker:url(#mgr)"></path><path d="M614.2 267.7 671.2 263.6 572.5 273.1 637.8 264.2 569.2 274.3 560 265.4 604.7 274.1 652.4 257.9 665 262.9 601.4 271.5 670.7 261.8 622.9 266.8" fill="none" style="marker:url(#mn)"></path><path d="M610 274.4" fill="none" style="marker:url(#mgr)"></path><path d="M608.8 273.4 543.2 251.5" fill="none" style="marker:url(#mn)"></path><path d="M555.4 272.8" fill="none" style="marker:url(#mgr)"></path><path d="M583.5 269.4 546 263.9 666.4 259 545.9 267.1 590.6 266.2 598.9 269.1 642.9 271.6 607.3 265.8 535.4 271.3 574.8 265.9 604.7 269.4 578.3 271.7 629 254.3 658.3 257.6 581.1 271.5 658.7 268.2 571.9 269.8 600.9 274.3 637.3 254 553.2 267.6 618.2 274.4 600.4 272 570 273.2 576.3 270.2" fill="none" style="marker:url(#mn)"></path><path d="M639.5 271.8" fill="none" style="marker:url(#mgr)"></path><path d="M631.6 265.7 536.2 263.1 611.5 273.7 583.1 273 607.6 270.8 618.5 268.9 647.5 273.3 665.3 273.8 667.9 273.9 582 270.3 603.8 273.1 664.8 273 570.6 270.5 671.8 271.7 583.5 270.4" fill="none" style="marker:url(#mn)"></path><path d="M628.5 269.9" fill="none" style="marker:url(#mgr)"></path><path d="M663.4 265.9 643.5 260.1 587 266.3 643.4 268.6 545.4 273.3 606.8 273.4 641.2 255.6 665.5 270.4 667.8 261.3 565.8 267.6 624.6 272.3 536.3 268.2 593 270.9 672.2 273 640.3 265.8 615 272.1 619.1 271.5 570.7 269.2 546.7 270.5 576.3 264.6 590.9 270.6 646.7 264.3 543 257.1" fill="none" style="marker:url(#mn)"></path><path d="M623.6 262.5" fill="none" style="marker:url(#mgr)"></path><path d="M616.5 265.8 546.3 273.7" fill="none" style="marker:url(#mn)"></path><path d="M621.3 243.7" fill="none" style="marker:url(#mgr)"></path><path d="M623.9 274 671 259 588.3 273.7 539.6 272.3 538.4 267.9 588.1 271.1 633.2 273.4 597.8 270.1 671.4 273.1 598.3 266.7 588.1 271.9 547.6 264.6 631.7 269.9 586.5 272.3 622.3 263.6 632.7 254.9 547.2 272.9" fill="none" style="marker:url(#mn)"></path><path d="M558 261.4" fill="none" style="marker:url(#mgr)"></path><path d="M634.2 264 609.9 268.6 659.3 259.5 561 270.7 661 268.2 559.5 265.5 551.3 269.2" fill="none" style="marker:url(#mn)"></path><path d="M655.9 267.8" fill="none" style="marker:url(#mgr)"></path><path d="M636.6 262.3 587.5 272.3 669.5 270.5 537.6 270.8 658.8 270.1 572.9 272.1 620.5 259 562.8 270.4 644.9 259.1" fill="none" style="marker:url(#mn)"></path><path d="M634.4 266.3" fill="none" style="marker:url(#mgr)"></path><path d="M667.4 267.2 575.6 271.9 623.6 266.1 583.3 268.5 575.6 269.6 643.7 257 604.6 266.2 585.4 268 633.2 260.4 586.1 267.1 545.7 268.6" fill="none" style="marker:url(#mn)"></path><path d="M593.6 273.6" fill="none" style="marker:url(#mgr)"></path><path d="M561.1 272.6 618.1 266.9 535.4 249.7 628.5 266" fill="none" style="marker:url(#mn)"></path><path d="M553.6 273.8" fill="none" style="marker:url(#mgr)"></path><path d="M660.5 258.7 549 268.9 556.5 267.9 558 272.7 655.6 273.8 555.9 265.5 566.8 273.2 560.9 272.9 577.4 268.1 662.9 263.3 546.2 259.1 655 269.9 552.9 272.5 577.4 273 669.1 272.8" fill="none" style="marker:url(#mn)"></path><path d="M615.4 272" fill="none" style="marker:url(#mgr)"></path><path d="M581.9 269.5 572.2 272.5 670.3 272.8 648.7 267.6 663.2 272.2 620.6 259.9 671.9 262.3 538.6 274.3 664.5 272.6" fill="none" style="marker:url(#mn)"></path><path d="M604.3 274.3" fill="none" style="marker:url(#mgr)"></path><path d="M582.4 268 550.6 268.7 661.1 264.9 620 260.1 657.7 271.6 537.7 255.6 560.5 272.3 629.8 273.7 616.8 259.1 604.9 274.3 654.4 273.2 543.1 266.9 589.7 267.7 619.1 246 653 274.2 619.2 260.3 607 273.1 657.7 273.4 631.1 272.5 560.5 274.1 595.3 274.3 540.4 269.3 638.9 273.8 593.8 269 625.8 272.5 623.7 262.1 655.3 269.1 630.1 258.7 564.3 268.5 562.1 273.2 548.8 262.8 668.4 261.2 643.9 270.7 546.9 272.8 556.3 273.1 610.5 272.7" fill="none" style="marker:url(#mn)"></path><path d="M584.1 272.7" fill="none" style="marker:url(#mgr)"></path><path d="M619.1 272.8 589.2 272.9 558.2 259.1 579.5 268 580.4 273.7 552 272.1 604.1 263.5 625.9 256.9 560.8 272.6 602.8 274.4 660.2 260 543 273.3 618.4 263.1 566.4 268.8 620.8 267.5 646.9 269.8 582.8 263.7 566.5 272.1 663.6 273.8 667.8 261 625.9 267.3 561.2 271 613.9 255.2 672.9 262.7 658.2 273.4 591.1 269.8" fill="none" style="marker:url(#mn)"></path><path d="M669 272.8" fill="none" style="marker:url(#mgr)"></path><path d="M552.5 270.6 577.7 265.1 600.6 269.2 654.5 269.2 628.6 274.1" fill="none" style="marker:url(#mn)"></path><path d="M546.6 270 581.4 273.4" fill="none" style="marker:url(#mgr)"></path><path d="M608.3 271.9 544.2 269.2 593 271.5 625.5 263 668.6 266 553.8 257.3 582.3 271.8 550.1 259.5 581.7 268 543 268.5 594.3 272.9 614.4 273 586.4 269.8 652.8 260.9 596.8 270.6 626.6 261.3 625.2 270.6 641.9 268.4 636.7 267.1 577.8 268.4 634.3 258.4 560.3 270.5 580.7 272.2 630.7 267.4 625.9 270.8 580.6 270.7 607.9 272.4 549.3 267.7 603.7 271.8 535.6 272.5" fill="none" style="marker:url(#mn)"></path><path d="M558.8 273.9" fill="none" style="marker:url(#mgr)"></path><path d="M535.1 266.9 566.5 273.6 590.2 273.3 597.1 271.5 662 253.7 573.4 273.1 558 272.1 543.2 273.5 650.3 266.4 594.1 273.2 544.3 268 635.7 270.6 610.6 274.3 625.1 246.7" fill="none" style="marker:url(#mn)"></path><path d="M564.8 265.1" fill="none" style="marker:url(#mgr)"></path><path d="M582.5 274.4 549 260.4 642.7 268.5 539.5 249.3 643.9 273.4 631.1 248.7 551 270.2 572.5 264.6 667.8 265 632.9 262 559.7 259.3" fill="none" style="marker:url(#mn)"></path><path d="M640.6 270.1" fill="none" style="marker:url(#mgr)"></path><path d="M540.3 267.6 539.4 272.2 581.7 272.7 655.7 254.6 560.2 273.1 613 272.7 553.1 268.7 651 267.6 629.3 272.8 635.2 259.4 549.7 270.2 608.8 270.5 557.1 261.6 537.2 270.8 538 262.7 658.6 267.2 645.1 271.8 671.9 270.7 576 263.7 636.7 257.5 612 274 558.6 263.3 610.1 272.3 583.1 271.4 558.2 265.7 630.4 265.3 619.1 271.3 549.4 264 656.5 274" fill="none" style="marker:url(#mn)"></path><path d="M599.5 270.6" fill="none" style="marker:url(#mgr)"></path><path d="M560.3 273.9 669.3 271.5 578.1 270.9 623.3 262.5 593.2 274.1 552.8 264.3 644.3 258.9 557.9 272.8 623 271.3" fill="none" style="marker:url(#mn)"></path><path d="M594.1 271.9" fill="none" style="marker:url(#mgr)"></path><path d="M582.3 272.4 629.1 267.4" fill="none" style="marker:url(#mn)"></path><path d="M631.2 253.4" fill="none" style="marker:url(#mgr)"></path><path d="M669.6 263.5 647 258.5 662.3 271.2 622.6 272.4 597.1 269.7 602.9 273.3 644.9 262.3 566.4 274 544 269.8 584.9 273.2 605.9 264.1 549.2 273.1 601.4 269.9 624.4 262.7 663.4 267.9 665.6 269.9 568 266.9 650.5 266 539.1 260.9 570 266.4 608.8 274.2 581.4 270.5 635.2 260.3" fill="none" style="marker:url(#mn)"></path><path d="M616.7 260.9" fill="none" style="marker:url(#mgr)"></path><path d="M577.8 273.6 548.3 273.2 544.5 272.6" fill="none" style="marker:url(#mn)"></path><path d="M572 270.8" fill="none" style="marker:url(#mgr)"></path><path d="M663.6 269.7 611.1 271.5 664.8 269.7 582.4 272.1 569.2 269 635.9 262 671.6 268.4 543.6 273.2 661.3 261.6 593.6 271.9 551.1 268.9 559.4 271.7 541.3 258.3 554.9 266.9 656.8 257.5 649.6 262.4 562.6 269.2 657.8 272.1 658.6 266.4" fill="none" style="marker:url(#mn)"></path><path d="M622.3 259.9" fill="none" style="marker:url(#mgr)"></path><path d="M631.6 265.1 602.4 270.2 620.4 269.8 619.1 263 671.8 268.4 586.1 272.8 655.2 264.5 565.4 270.3 637.5 270.3 534.9 252.6 603.2 272.6 660.3 273.4 652 264.2 587.7 273.2 629.1 266.7 630.1 260.1 569.3 273.9 542.3 261.7 598.3 273.2 569.5 271.7 568.2 272.3 628 249.9 579.2 270.8 638.2 267.4" fill="none" style="marker:url(#mn)"></path><path d="M549.5 263.8" fill="none" style="marker:url(#mgr)"></path><path d="M672.4 272 611.9 270.7 620.8 272.1 593.5 269.2 599.4 271.9 555.3 256.9 535.8 247.8 616.4 265.2 656.9 273.7 643.5 265.3 605.4 273.4 562 271 602.5 271.6 543.5 272.6 652.5 267.6" fill="none" style="marker:url(#mn)"></path><path d="M570.8 269.5" fill="none" style="marker:url(#mgr)"></path><path d="M639.2 272.3 628.3 268.5 585.6 274 535.3 252.4 590.9 274.4 589.8 272.9 658.5 270.6 624 271.5 627.2 263.3 643.7 271.2 651.9 270.9 583.4 269.4 650.7 269.8" fill="none" style="marker:url(#mn)"></path><path d="M564.2 268.6" fill="none" style="marker:url(#mgr)"></path><path d="M655.7 267.3 598.2 267.7 554.2 261.7 618.5 267.5" fill="none" style="marker:url(#mn)"></path><path d="M573.5 269.8" fill="none" style="marker:url(#mgr)"></path><path d="M604.3 269.4 601.3 268.6 670.9 267.7 666.2 258.4 539.5 255.3 647 270.7 614.3 270.7" fill="none" style="marker:url(#mn)"></path><path d="M630.1 268" fill="none" style="marker:url(#mgr)"></path><path d="M629.6 266 584.5 272.4 657.2 273.1 660 259.6 601.2 272.6 566.2 270.2 654.2 267.1 548.7 266.5 650.4 270.2 668.4 274.2 655.1 273.6 645.1 254.8 547.1 269.8 629.8 259.7 541.7 271.8 567 272.9 535.5 271.1 574.5 273.2 637.2 264.3 641.6 272.6 551.6 261.2 625.2 273.5 608.1 264.6 665.8 268.6 641.4 265.7 651.8 272.7 642.8 262.8 590.5 274 668.4 252.9 631.1 246.2 590.7 272 620.1 263.7 622.9 255.9 562.8 274 584.2 274.1 551.9 262.2" fill="none" style="marker:url(#mn)"></path><path d="M587.2 272.4" fill="none" style="marker:url(#mgr)"></path><path d="M666.7 271.7 608.2 271.7 559.6 274 543 260.7 635.9 248.5 623.5 257.4 570 273.7 546.8 274.3 661.7 263.7 668.5 266 665.5 272.3 657.8 273.7 540.2 265.2 657.2 252.9 551 268.8 567.8 268.1 608.8 265.4 625.8 264.4 630 263.8 561.2 272.7" fill="none" style="marker:url(#mn)"></path><path d="M554.6 273.9" fill="none" style="marker:url(#mgr)"></path><path d="M634.4 267.2 619.3 254.8 595.7 269.8 602.6 272.2 630.8 261 604.8 273 649.3 266.8 630.2 252.5 669.7 272.5 632.1 270.9 548 262.6 611.7 269.8 617 255.4 665.5 274.3 666.6 259.9" fill="none" style="marker:url(#mn)"></path><path d="M588.2 270.4" fill="none" style="marker:url(#mgr)"></path><path d="M602.5 271.2 657.1 272.2 661.4 270.6 544.3 249.1 550.3 251 585.9 273.5 627.2 272.8 633.7 271.7" fill="none" style="marker:url(#mn)"></path><path d="M609.9 269.1" fill="none" style="marker:url(#mgr)"></path><path d="M635.1 272.4 540.7 250.2 628.2 269.7 638.4 273.7 671.6 266.1 616.3 271.4 621.3 266.5 666.4 260.3 548.4 265.7 633.9 252.1 645.1 262.8 583.8 272.2 642.4 263.1 537.4 264.5 567 271.4 579.2 272.3 665.4 267.7 564.7 270.3 643.4 260.9 574.3 271.6 575.4 263.2" fill="none" style="marker:url(#mn)"></path><path d="M584.6 272" fill="none" style="marker:url(#mgr)"></path><path d="M663.1 273 565.7 274.3 646.9 260.7 566.4 273.7 625.8 272.1 668.7 270.9" fill="none" style="marker:url(#mn)"></path><path d="M602.4 272.8" fill="none" style="marker:url(#mgr)"></path><path d="M547.1 268.2 628.3 273.4 622.7 266.6 667 273.3 645.8 267.4 600.7 268.2 671.1 253.6 580.1 273.8 578.5 273.9 606 273.7 568.6 273.9 597.5 272 657.1 273 668.2 274.3 587.6 270.3 658.7 269.2 584.4 268.8 616 272.7 664.2 270.6 634.7 260.4 661.2 272.7 543.4 272.6 539.8 256.8 607.2 273.9" fill="none" style="marker:url(#mn)"></path><path d="M630.4 270.6" fill="none" style="marker:url(#mgr)"></path><path d="M606 272.9 602.3 263.6 596 269.7 574.1 265.2 561.9 273.9 598.1 270.3 672.2 266.9 607.5 273.7" fill="none" style="marker:url(#mn)"></path><path d="M574.3 274.1" fill="none" style="marker:url(#mgr)"></path><path d="M667.9 271 557.3 273.8 595.4 270.8 669.3 273.5" fill="none" style="marker:url(#mn)"></path><path d="M637.1 272.4" fill="none" style="marker:url(#mgr)"></path><path d="M540.8 272.7 596.6 272.4 568.7 272.4 538.2 262.5 542.2 273.6 633.9 268.1 540.4 257.2 625.6 270.4 641.7 273 609.9 272.5 586.5 272 615.8 261.2 606.4 273.6 603.6 268.7 666.8 272.8 540.8 268.5 558.9 260.3 638.6 274.3 538.3 256.4 627.9 273 574.2 273.3 568.6 273.5 603.9 272.1 662 271.9 633.3 271.7 657.5 258 650.9 271.2 629.7 273.5 602.5 271.4 650.2 273.9 661.6 272.3 671.4 266.3 570.1 269.8 613.7 269.2 659.1 272.8 625.2 274.1 600.3 273.8 610.9 274 608.9 273.7" fill="none" style="marker:url(#mn)"></path><path d="M666.5 250.4" fill="none" style="marker:url(#mgr)"></path><path d="M657.2 269.2 606.8 268.8 568.9 272.2 580.2 271.6 639.4 273.6 611.6 265.9 652.7 268.7 641.6 274.3 654.1 272.4 550.8 274.1 594.4 270.5 618.9 273 619.9 263.7 633 270.6 626.8 252.9 551.9 268.9 591.2 270.6 563.1 273.4 540.6 273.5 648.6 273.3 587.8 272.5 655.3 272.2 622.8 272 585.9 269.4" fill="none" style="marker:url(#mn)"></path><path d="M594.6 274.2" fill="none" style="marker:url(#mgr)"></path><path d="M670.3 273.7 606.6 273.1 598.3 270.4 611.7 272.2 586.9 273.2 543.3 269.4 646.3 265.1 595.1 273.9 615.9 269.1 656 272.6 544.2 272.7 553.7 272.9 659.3 271.5 563 274.3 595.7 271.4 603.2 268.6 669 268.4 561.7 271.6 653.4 272.7 588.3 269.4 570.6 273.1 618.4 261.7 558.7 273.7 588.5 272.1 620.7 272.6 668 272.2 639 268.6 593.5 270.3 634.8 270.3 667.2 269.8 645.1 274.3 586.5 272.7 600 272.9" fill="none" style="marker:url(#mn)"></path><path d="M649.1 269.1" fill="none" style="marker:url(#mgr)"></path><path d="M575.3 273.6 626.8 271.8 624.4 272.6 597.9 273.8 651.1 274.1 542.8 268.1" fill="none" style="marker:url(#mn)"></path><path d="M546.7 271" fill="none" style="marker:url(#mgr)"></path><path d="M616.3 271.1" fill="none" style="marker:url(#mn)"></path><path d="M608.4 273" fill="none" style="marker:url(#mgr)"></path><path d="M634 271.2 599.4 272.5 598.6 271.5 588.8 272.8 576.9 269.6 667.4 240.8 568 274.2 584.6 260 662.4 272.4 554.8 265.8 597.2 274.3 585.4 272.8 558 270.6 589.9 269.9 656.1 273.8 620.9 260.5 540.9 271.2 603.8 273 558.1 274.1 573.5 272.5 626.6 271.4 649.4 274.2 641.6 273.3 649.6 269.8 628.2 256.7 567.9 273.4 580.2 271.9 663.9 263.5 612.1 271.1 619.7 273.4 640.7 270.1 629.4 251 547.3 271.8 609.2 272.9 632.1 271.2 607.2 273 610.5 271.1 628 274 662.8 271.6 642.9 271.3 617.9 261.6 661.7 270.5 621.8 273.6 594.1 274.3 582.5 272.4 575.9 272 576.4 264.9 557.3 274.3 572.7 269.7 605.5 274 631.4 269.1 537.5 257.1 631 272.6 629.1 253.6 606.2 273.3 658.1 270.9 550.9 263.8 539.8 271 637 265.6 585.8 272.5 591.5 272.6 559.4 260.7 597.2 273.6 557.6 271.1 625.8 266.1 538.5 264.2 652.7 273.9 612.1 265.9 658.8 269.7 553.1 270.4 579.7 269.5 561.3 273.1 597.4 268.6 657.3 270.8 584.1 269.9 548.5 273.6 664.8 272.3" fill="none" style="marker:url(#mn)"></path><path d="M587.2 272.6 626.4 262.3" fill="none" style="marker:url(#mgr)"></path><path d="M546.9 268.2 665.4 273.7" fill="none" style="marker:url(#mn)"></path><path d="M665.7 271.2" fill="none" style="marker:url(#mgr)"></path><path d="M574.1 273.8 568.2 274.3 567 274.1" fill="none" style="marker:url(#mn)"></path><path d="M596 271" fill="none" style="marker:url(#mgr)"></path><path d="M590.7 273.4 618.2 271.3 570.4 271.5" fill="none" style="marker:url(#mn)"></path><path d="M601.6 274.2" fill="none" style="marker:url(#mgr)"></path><path d="M547.6 264.9 644.1 270.5 622 272.4 576.4 271.2 643.1 269.6 621.2 254.5 546.5 273.2 566.4 273.4 548.7 270.6 653.3 273 610.1 269 598.1 272.9 644.3 270.6 656.5 264.1 630.2 271.5 607 274.1 602.5 270.9 651.3 273.8 586.9 273.4 669.4 271 655.8 274.1 553.8 271.8 654.2 272.9 617.2 262 671.4 273.5 551.3 266.8 584.7 269.9 617.7 265.5 661.6 252.3 536.4 270.1 537.9 272.5" fill="none" style="marker:url(#mn)"></path><path d="M650.5 272" fill="none" style="marker:url(#mgr)"></path><path d="M669.8 270.1 543.3 272.8 662.4 266.6 613 271.6 646.9 271.4 537.2 273.2 639.1 269.7 623.5 267.2 642.1 260 672.8 271.6 583 273.4 586.9 273.5 665.5 262.1 615.8 259.8 657.6 272.4 576 270.5" fill="none" style="marker:url(#mn)"></path><path d="M589.4 272.4" fill="none" style="marker:url(#mgr)"></path><path d="M545.3 274.2 596.6 273.4 575 274 602 272.6 631.3 266.2 591.4 272.8 548.4 272.1 613.1 260.1" fill="none" style="marker:url(#mn)"></path><path d="M619.4 273.2" fill="none" style="marker:url(#mgr)"></path><path d="M541.4 273.4 636 271.7 542.2 273.8 550.1 270 670.9 270 581.1 270.5 596.5 273.8 568 274.3 556.7 267.1 600.1 270.8 565 273.8 646.7 268.3 628 258.5 549.2 261" fill="none" style="marker:url(#mn)"></path><path d="M561.1 270.8" fill="none" style="marker:url(#mgr)"></path><path d="M566.9 270.3 624.5 273.7 638 265.4 637.2 273.2 658.2 264.6 575.7 268.9 626.6 273.7 604.4 274 619.2 271.9 652.9 265.5 568.3 273.7" fill="none" style="marker:url(#mn)"></path><path d="M555.2 259.8" fill="none" style="marker:url(#mgr)"></path><path d="M584.5 273.2 631.9 264.8 583.6 273.6 664.3 258.5 587.7 272 562.5 272.8 620.5 269.4 630.7 267.7 569.8 273.7 553.3 268.6 601 274 611.7 274.1 604.4 272.4 603.8 274.1 631.6 269.3 637.4 269.7" fill="none" style="marker:url(#mn)"></path><path d="M589.4 250.9 590.6 251.2 594.6 251.7 592.6 252 599.8 252.1 582.9 251.6 572.4 250.7 602.4 250.8 578.9 252.1 594.1 250.9 570.6 251.5 593 251.1 602.6 252.2 577.9 250.6 576.7 251.7 582.8 250.9 584.1 250.9 602.3 251.9 606.7 227.2 610 228 614.6 231.2 604.2 240" fill="none" style="marker:url(#mgr)"></path><path d="M555.6 240.6 564.1 241.3 555.6 243.5 624.4 243" fill="none" style="marker:url(#mn)"></path><path d="M662.8 247.3" fill="none" style="marker:url(#mgr)"></path><path d="M590.2 254.3 586.3 254.9 600.1 253.3 591.7 255.2 584 254.2 577.3 253.9 580.2 254.3 588.9 254.2 591.3 255.8 596.9 253.9 572.3 253.9 576.1 252.9 597.3 254.7 592.1 254.5 575.4 255.4 589.6 254.6 586.4 254.5 585.8 254 594.7 254.6 572 255.4 595.2 254.7 596 254.7 581.9 263.9 582.7 263 588.3 264 590.5 263.2 586.3 262.4 591 263.7 581 263.2 590.4 263.4 615.6 236 615.6 239" fill="none" style="marker:url(#mlb)"></path><path d="M574.1 247.1 571.6 247 576.3 247.5 569.9 247.6 574.3 246.6 578.2 246.6 576.7 244.6 569.5 246.7 573.2 246.6 576.8 245.4 570.1 245.5 576.1 246.9 575 248.1 568.9 247 569.7 245.9 575.4 244.4 572.5 246.1 573.1 246.2 571.7 245.9 572.1 246.8 573.6 248 570.8 247.6 571.9 247.4 569.7 245.9 573.5 247.6 575.4 247.3 587.7 246.3 588.8 247.6 586 248.3 579.7 246 579.8 247.5 590.4 247.4 582.3 246.2 578.5 247.5 588.9 247.1 596.9 247.3 581.7 247 597 248.3 582.9 247.6 594.7 247.4 602.2 247.2 599.5 247.4 602.9 246.9 595 247 579.4 246.5 580.8 245.2 590.2 246.2 579.1 246.9 582.6 246.5 582.5 246.6 601.2 244.9 601 245.5 597.2 244.2 594 247.6 600.7 246.8 601.4 246.4 589.6 246.3 598 245.3 593.1 246 594.9 245.4 589.5 244.7 602.4 246.6 600.2 246.2 596.7 248.8 594.7 245.5 594.5 246.4 595 245.7 593.6 247.2 608.9 243.8 612.4 243.8 612.4 243.4 612.7 243.8 609.5 244.1 610 243.3 603.4 229.8 585.1 232.1 572.9 242.9" fill="none" style="marker:url(#mg)"></path><path d="M578 245.5 596.6 245.3 582.7 245.7 601 245.5 598.5 244.5 602.1 244.1 581.4 245.4 587.8 245.6 594.1 244.5 595.9 244.4 587.8 246.1 581.5 245.8 585.8 246 578.7 245.4 590.3 243.8 601 244.2 591 244.9 579.7 245.2 592.1 245.5 587 245.3 582.8 245.7 585.9 244.9 615.6 219 614.6 228.2 612 232.7" fill="none" style="marker:url(#mo)"></path><path d="M605.8 220.4 604.8 221.7 605.4 218.9 606.6 219.7 604.4 219.8 605.2 220 607.3 219.2 602.9 220 602.5 219.8 607.8 218.9 602.9 221.4 603.5 219.7 600.8 221.4 603.1 220.2 603.3 219.5 608.4 219.6 600.7 222.3 604.8 219.5 603.6 220.4 605 218.4 611.2 216.5 610.7 216.3 610.6 215.9 610.4 217.6 613.8 214.5 610.7 216.4 613.6 216.5 609.5 216.3 610.7 215.5 610.4 215.8 609.2 219 613.1 214 607.6 218.2 613.6 214.7 609.5 217 610.5 217.4 609.9 218.7 610.5 215" fill="none" style="marker:url(#mr)"></path><path d="M607.7 219.3 609.2 219.4 609.3 219.4 605.9 221 601.9 221.9 609.8 218.6 609.1 218.3 606.8 219.6 609.8 218.7 608.9 218.6" fill="none" style="marker:url(#mdr)"></path><path d="M603.4 204.35L604.80 206L603.4 207.65L601.99 206Z" fill="#8a2be2" stroke="#502080" stroke-width="0.4"></path></g></g><rect x="534.8" y="184.6" width="138.10" height="94.70" fill="none" stroke="#979797" stroke-width="1"></rect><line x1="531.8" x2="534.8" y1="274.4" y2="274.4" stroke="#979797" stroke-width="0.8"></line><text x="529.59" y="277.2" font-size="7" text-anchor="end" fill="#222">0</text><line x1="531.8" x2="534.8" y1="255.84" y2="255.84" stroke="#979797" stroke-width="0.8"></line><text x="529.59" y="258.65" font-size="7" text-anchor="end" fill="#222">2</text><line x1="531.8" x2="534.8" y1="237.29" y2="237.29" stroke="#979797" stroke-width="0.8"></line><text x="529.59" y="240.1" font-size="7" text-anchor="end" fill="#222">4</text><line x1="531.8" x2="534.8" y1="218.74" y2="218.74" stroke="#979797" stroke-width="0.8"></line><text x="529.59" y="221.54" font-size="7" text-anchor="end" fill="#222">6</text><line x1="531.8" x2="534.8" y1="200.2" y2="200.2" stroke="#979797" stroke-width="0.8"></line><text x="529.59" y="203" font-size="7" text-anchor="end" fill="#222">8</text><line x1="672.9" x2="675.9" y1="274.4" y2="274.4" stroke="#b4b4ff" stroke-width="0.8"></line><text x="677.69" y="276.9" font-size="7" text-anchor="start" fill="#7878ff">0</text><line x1="672.9" x2="675.9" y1="253.77" y2="253.77" stroke="#b4b4ff" stroke-width="0.8"></line><text x="677.69" y="256.28" font-size="7" text-anchor="start" fill="#7878ff">20</text><line x1="672.9" x2="675.9" y1="233.15" y2="233.15" stroke="#b4b4ff" stroke-width="0.8"></line><text x="677.69" y="235.65" font-size="7" text-anchor="start" fill="#7878ff">40</text><line x1="672.9" x2="675.9" y1="212.54" y2="212.54" stroke="#b4b4ff" stroke-width="0.8"></line><text x="677.69" y="215.04" font-size="7" text-anchor="start" fill="#7878ff">60</text><line x1="672.9" x2="675.9" y1="191.92" y2="191.92" stroke="#b4b4ff" stroke-width="0.8"></line><text x="677.69" y="194.42" font-size="7" text-anchor="start" fill="#7878ff">80</text><rect x="534.8" y="283.4" width="138.10" height="31" fill="none" stroke="#979797" stroke-width="1"></rect><path d="M535.2 285.70h2.6M535.1 285.70l1 -0.6v1.2z" stroke="#444" stroke-width="0.55" fill="#444"></path><text x="538.4" y="286.8" font-size="3.4" font-style="italic" fill="#484848" textLength="9.10" lengthAdjust="spacingAndGlyphs">CRLF3</text><rect x="535" y="287.5" width="1" height="1.2" fill="#3030d0"></rect><path d="M561.30 285.70h2.6M564 285.70l-1 -0.6v1.2z" stroke="#444" stroke-width="0.55" fill="#444"></path><text x="551.7" y="286.8" font-size="3.4" font-style="italic" fill="#484848" textLength="9" lengthAdjust="spacingAndGlyphs">RNF135</text><rect x="555.5" y="287.90" width="4" height="0.45" fill="#5050e0"></rect><rect x="555.5" y="287.5" width="1" height="1.2" fill="#3030d0"></rect><rect x="558" y="287.5" width="1.5" height="1.2" fill="#3030d0"></rect><path d="M593.40 285.70h2.6M596.1 285.70l-1 -0.6v1.2z" stroke="#444" stroke-width="0.55" fill="#444"></path><text x="588" y="286.8" font-size="3.4" font-style="italic" fill="#484848" textLength="4.80" lengthAdjust="spacingAndGlyphs">NF1</text><rect x="572.4" y="287.90" width="62.20" height="0.45" fill="#5050e0"></rect><rect x="572.4" y="287.5" width="1" height="1.2" fill="#3030d0"></rect><rect x="579.14" y="287.5" width="1.5" height="1.2" fill="#3030d0"></rect><rect x="585.77" y="287.5" width="2" height="1.2" fill="#3030d0"></rect><rect x="592.8" y="287.5" width="1" height="1.2" fill="#3030d0"></rect><rect x="599.37" y="287.5" width="1.5" height="1.2" fill="#3030d0"></rect><rect x="605.84" y="287.5" width="2" height="1.2" fill="#3030d0"></rect><rect x="613.2" y="287.5" width="1" height="1.2" fill="#3030d0"></rect><rect x="619.61" y="287.5" width="1.5" height="1.2" fill="#3030d0"></rect><rect x="625.91" y="287.5" width="2" height="1.2" fill="#3030d0"></rect><rect x="633.6" y="287.5" width="1" height="1.2" fill="#3030d0"></rect><path d="M629.7 285.70h2.6M632.4 285.70l-1 -0.6v1.2z" stroke="#444" stroke-width="0.55" fill="#444"></path><text x="613.8" y="286.8" font-size="3.4" font-style="italic" fill="#484848" textLength="15.30" lengthAdjust="spacingAndGlyphs">RAB11FIP4</text><rect x="625" y="287.90" width="9" height="0.45" fill="#5050e0"></rect><rect x="625" y="287.5" width="1" height="1.2" fill="#3030d0"></rect><rect x="632.5" y="287.5" width="1.5" height="1.2" fill="#3030d0"></rect><path d="M543.7 292.1h2.6M546.4 292.1l-1 -0.6v1.2z" stroke="#444" stroke-width="0.55" fill="#444"></path><text x="535" y="293.2" font-size="3.4" font-style="italic" fill="#484848" textLength="8.10" lengthAdjust="spacingAndGlyphs">SUZ12P</text><rect x="536" y="294.3" width="10" height="0.45" fill="#5050e0"></rect><rect x="536" y="293.9" width="1" height="1.2" fill="#3030d0"></rect><rect x="544.5" y="293.9" width="1.5" height="1.2" fill="#3030d0"></rect><path d="M560.2 292.1h2.6M562.9 292.1l-1 -0.6v1.2z" stroke="#444" stroke-width="0.55" fill="#444"></path><text x="549.6" y="293.2" font-size="3.4" font-style="italic" fill="#484848" textLength="10" lengthAdjust="spacingAndGlyphs">ATAD5</text><rect x="555" y="293.9" width="1" height="1.2" fill="#3030d0"></rect><text x="597.3" y="293.2" font-size="3.4" font-style="italic" fill="#484848" textLength="7.20" lengthAdjust="spacingAndGlyphs">OMG</text><rect x="600.5" y="293.9" width="1" height="1.2" fill="#3030d0"></rect><path d="M638 292.1h2.6M640.69 292.1l-1 -0.6v1.2z" stroke="#444" stroke-width="0.55" fill="#444"></path><text x="625.2" y="293.2" font-size="3.4" font-style="italic" fill="#484848" textLength="12.19" lengthAdjust="spacingAndGlyphs">MIR4724</text><rect x="633" y="293.9" width="1" height="1.2" fill="#3030d0"></rect><path d="M541.5 298.3h2.6M541.4 298.3l1 -0.6v1.2z" stroke="#444" stroke-width="0.55" fill="#444"></path><text x="544.69" y="299.4" font-size="3.4" font-style="italic" fill="#484848" textLength="8.00" lengthAdjust="spacingAndGlyphs">TEFM</text><rect x="546" y="300.09" width="1" height="1.2" fill="#3030d0"></rect><path d="M566.40 298.3h2.6M566.30 298.3l1 -0.6v1.2z" stroke="#444" stroke-width="0.55" fill="#444"></path><text x="569.6" y="299.4" font-size="3.4" font-style="italic" fill="#484848" textLength="10" lengthAdjust="spacingAndGlyphs">ADAP2</text><rect x="572" y="300.09" width="1" height="1.2" fill="#3030d0"></rect><path d="M597.5 298.3h2.6M597.4 298.3l1 -0.6v1.2z" stroke="#444" stroke-width="0.55" fill="#444"></path><text x="600.69" y="299.4" font-size="3.4" font-style="italic" fill="#484848" textLength="8.00" lengthAdjust="spacingAndGlyphs">EVI2B</text><rect x="601.5" y="300.09" width="1" height="1.2" fill="#3030d0"></rect><path d="M638 298.3h2.6M640.69 298.3l-1 -0.6v1.2z" stroke="#444" stroke-width="0.55" fill="#444"></path><text x="628.4" y="299.4" font-size="3.4" font-style="italic" fill="#484848" textLength="9" lengthAdjust="spacingAndGlyphs">MIR4733</text><rect x="636" y="300.09" width="1" height="1.2" fill="#3030d0"></rect><path d="M555.1 304.6h2.6M557.8 304.6l-1 -0.6v1.2z" stroke="#444" stroke-width="0.55" fill="#444"></path><text x="545.4" y="305.7" font-size="3.4" font-style="italic" fill="#484848" textLength="9.10" lengthAdjust="spacingAndGlyphs">ADAP2</text><rect x="547.5" y="306.8" width="6.20" height="0.45" fill="#5050e0"></rect><rect x="547.5" y="306.4" width="1" height="1.2" fill="#3030d0"></rect><rect x="552.2" y="306.4" width="1.5" height="1.2" fill="#3030d0"></rect><path d="M599.5 304.6h2.6M599.4 304.6l1 -0.6v1.2z" stroke="#444" stroke-width="0.55" fill="#444"></path><text x="602.69" y="305.7" font-size="3.4" font-style="italic" fill="#484848" textLength="7.00" lengthAdjust="spacingAndGlyphs">EVI2A</text><rect x="603.5" y="306.4" width="1" height="1.2" fill="#3030d0"></rect><path d="M643.2 304.6h2.6M645.9 304.6l-1 -0.6v1.2z" stroke="#444" stroke-width="0.55" fill="#444"></path><text x="631.5" y="305.7" font-size="3.4" font-style="italic" fill="#484848" textLength="11.10" lengthAdjust="spacingAndGlyphs">MIR4725</text><rect x="639" y="306.4" width="1" height="1.2" fill="#3030d0"></rect><path d="M643.2 310.8h2.6M645.9 310.8l-1 -0.6v1.2z" stroke="#444" stroke-width="0.55" fill="#444"></path><text x="631.5" y="311.9" font-size="3.4" font-style="italic" fill="#484848" textLength="11.10" lengthAdjust="spacingAndGlyphs">MIR365B</text><rect x="639" y="312.59" width="1" height="1.2" fill="#3030d0"></rect><line x1="542.1" x2="542.1" y1="314.4" y2="317.4" stroke="#979797" stroke-width="0.8"></line><text x="542.1" y="325" font-size="7" text-anchor="middle" fill="#222">29.2</text><line x1="569.5" x2="569.5" y1="314.4" y2="317.4" stroke="#979797" stroke-width="0.8"></line><text x="569.5" y="325" font-size="7" text-anchor="middle" fill="#222">29.4</text><line x1="597.3" x2="597.3" y1="314.4" y2="317.4" stroke="#979797" stroke-width="0.8"></line><text x="597.3" y="325" font-size="7" text-anchor="middle" fill="#222">29.6</text><line x1="624.7" x2="624.7" y1="314.4" y2="317.4" stroke="#979797" stroke-width="0.8"></line><text x="624.7" y="325" font-size="7" text-anchor="middle" fill="#222">29.8</text><line x1="652.4" x2="652.4" y1="314.4" y2="317.4" stroke="#979797" stroke-width="0.8"></line><text x="652.4" y="325" font-size="7" text-anchor="middle" fill="#222">30</text><text x="597.2" y="335" font-size="7" text-anchor="middle" fill="#222">Position on chr17 (Mb)</text><text x="539.3" y="199.39" font-size="14" font-weight="bold" fill="#000">h</text><text x="602.5" y="203.3" font-size="5.7" text-anchor="middle" fill="#000">rs1129506</text></g><g><clipPath id="ci"><rect x="363.3" y="361.5" width="136" height="68.10"></rect></clipPath><g clip-path="url(#ci)"><g><path d="M365.7 423.9 437.4 418.9 475.3 421.5 397.7 425.1 468 414.6 374.6 419.8 414.1 419.7" fill="none" style="marker:url(#mn)"></path><path d="M372 425.3" fill="none" style="marker:url(#mgr)"></path><path d="M440.3 422.8 364.3 427.1 387.9 423.4 491.6 414.8 418.9 424.5 481.8 419.8 373.6 413.7 412.4 424.7 464.8 425.2 408 413.9 445.2 425.6" fill="none" style="marker:url(#mn)"></path><path d="M498.7 419.2" fill="none" style="marker:url(#mgr)"></path><path d="M436.3 419 408.4 417.6 459.7 416.4 431.3 425.6 446.3 417.6 498.8 420.5 454.8 425.9 399.3 425.4 491.1 424.7 492.4 421.8 411.5 426.2 383.8 424.5 403.1 413.4 377.7 426.9 416.1 425.5 476.6 426.9 380.7 420.1 372.8 424.3 385.1 425.2 420.8 422.4 472.2 422.6 406.3 413.1 371.1 423.1 440.2 425.9 409.2 426.1 481.7 416 448.5 414.8 369.8 424 433.2 417.2 433.1 420.1 434.4 426.2 450.1 422.2 484.2 417.2 414.3 426.9 439.4 424.9" fill="none" style="marker:url(#mn)"></path><path d="M461 427" fill="none" style="marker:url(#mgr)"></path><path d="M372.8 424.2 477.2 420.7 434 414.3 431.9 418.7 370.6 425.3 445.3 422.2 404.8 417.5 452.3 424.7 407.7 423.1 437.5 420.6 396.1 418 370 425.9" fill="none" style="marker:url(#mn)"></path><path d="M437.9 420.6" fill="none" style="marker:url(#mgr)"></path><path d="M480.6 407.2 473.7 418.7 448.6 427 384.3 426.2 396.1 425 397.7 426.2" fill="none" style="marker:url(#mn)"></path><path d="M453.9 417.5" fill="none" style="marker:url(#mgr)"></path><path d="M454.3 419.4 428 421 488.2 416.9 464.8 423.2 466.1 426.3 412.1 420.7 424.1 426 472.1 416.1 439.1 421 369.6 426.6 373.8 426.2 426.6 418.3 487.3 423.1 436.3 423.9 483.2 424.8 498 421.5 414.6 422.4 474 420.3 473.5 417.2 463.4 417.2 394.1 421.7" fill="none" style="marker:url(#mn)"></path><path d="M432.6 420.3" fill="none" style="marker:url(#mgr)"></path><path d="M482.1 426.6 378.1 425.3 435.3 424.8 381 416 458.8 426.5 473.3 419.2 481.2 423.8 371.5 421.7 409.1 426.4 486 426.2 434.6 415.5 398.3 426.6 422.4 409.4 376.9 417.6 424.3 420.2 470 415.2 460 426.8 471.3 425.4 378.7 421.3 497.7 425.9 473.1 414 466.7 424.3" fill="none" style="marker:url(#mn)"></path><path d="M395.9 417.8" fill="none" style="marker:url(#mgr)"></path><path d="M410.3 421.9 409.5 421.8 366 421.6 383 425.7 419.9 422 492.4 419.7 379.6 425 405 422.6 408 417.8 428.4 421 400.4 424.4 365.8 426.6 398.8 413.4 379.6 419.3" fill="none" style="marker:url(#mn)"></path><path d="M463.7 420.1" fill="none" style="marker:url(#mgr)"></path><path d="M385.7 427 422.2 418.8 384.9 417.7 368.7 421.9 448.7 425 401.1 422.4 456.4 426.8 391.1 425.4 487.4 421.1 495.9 425 433.4 421.8 492.2 419 416.4 425.3 452.6 413.4" fill="none" style="marker:url(#mn)"></path><path d="M499 407.5" fill="none" style="marker:url(#mgr)"></path><path d="M374.6 421.3 490.7 421.6 456.8 424.2 493.7 425.5 451.2 426.9 368.8 419.5 399.5 425.2 412.9 418.7 409.8 424.4 367.4 417.6 380.2 422.6 445.5 421.7 384 425.9 408.5 416.5 366.8 420.9 478.7 421.5 403.3 423.8 437.8 422.5 457 425.7 436.9 425.4 471.5 407.6 441.3 423.8 437.1 421.3" fill="none" style="marker:url(#mn)"></path><path d="M375.4 424.2" fill="none" style="marker:url(#mgr)"></path><path d="M464.3 423.8 484.4 423.8 421.3 426.5 453.2 415.5 402.1 419.9" fill="none" style="marker:url(#mn)"></path><path d="M489 412.5" fill="none" style="marker:url(#mgr)"></path><path d="M400.3 423.7 458.3 418.1" fill="none" style="marker:url(#mn)"></path><path d="M386.5 416.8" fill="none" style="marker:url(#mgr)"></path><path d="M442.4 410.1 364.9 418.5 473.7 415.2" fill="none" style="marker:url(#mn)"></path><path d="M370.8 419.1" fill="none" style="marker:url(#mgr)"></path><path d="M405 412.2 447.1 425.2 419.4 425.6 374.9 427.1 434 416.8 377.6 424.9 397.7 416.9 413.5 426.9 443.1 413.7 434.7 425.8 396.4 426.7 499 426.5 406.6 423.7 414.4 414.9 412.2 409.6 461.3 422.7 479.5 423.5 492.7 421 472.5 422.8 459.9 425.5" fill="none" style="marker:url(#mn)"></path><path d="M436.1 424.9" fill="none" style="marker:url(#mgr)"></path><path d="M471.6 412.9 499.4 422.9 416.7 425.3 445.2 420.3 473.6 421 463.3 421.4 469.6 417.5" fill="none" style="marker:url(#mn)"></path><path d="M433 426.3" fill="none" style="marker:url(#mgr)"></path><path d="M376.2 422.5 455.9 426 465 420.3 459.2 425.4 457.1 426.9 452.6 422.2 376.8 423 422.2 426.2 434.8 410.6 365.8 419.8 495.1 420.1 487.7 423.9 400.7 411 415.5 425.3 450.9 421.3 370 426.6 378.5 426.6 430 415.3 426.8 421.5 370.9 422.6 432.1 425.2 478.5 426.9 365.3 426.6 469.9 413.6 454.1 423.8 403.4 422.8 368.7 420.7 418.1 422.8 461.3 421.1 404.7 421.6 395.3 418.7 457.3 425.9 442.5 415.9 428.4 424.3 378.9 420.5 425 421.3 403.4 422.1 443.8 423" fill="none" style="marker:url(#mn)"></path><path d="M447.4 418.5" fill="none" style="marker:url(#mgr)"></path><path d="M422.5 420.9 409.8 420.2" fill="none" style="marker:url(#mn)"></path><path d="M376.2 424.9" fill="none" style="marker:url(#mgr)"></path><path d="M477.5 417.8 443.9 427 479.2 423.8 445.3 424.3 492.8 416.9 387.4 426.8 445.1 420.8 431.7 425.8 466.8 417.9 407.6 421.8 420.1 426.5" fill="none" style="marker:url(#mn)"></path><path d="M416.3 425.6" fill="none" style="marker:url(#mgr)"></path><path d="M386.3 420.9 452.5 424.6" fill="none" style="marker:url(#mn)"></path><path d="M455.7 419" fill="none" style="marker:url(#mgr)"></path><path d="M457.1 423.1 415.9 411.9 454.9 426 485.2 421.8 396.3 425.3 481 426.7 490.7 409.2 428.7 416.9 421.4 425.3 421.8 425.5 460.9 426 429.1 426.7 456.5 418.1 431.9 420.2 423.6 426.4 391.6 420.4 497.6 425 455.2 426.3 381.3 426.4 457.2 420.5 381.9 417.9 381.1 419.6 425.7 421 443.6 422.1 497.4 426.5" fill="none" style="marker:url(#mn)"></path><path d="M457.3 423.7" fill="none" style="marker:url(#mgr)"></path><path d="M386.8 424.4 408.1 424.1 433.8 419.4 416.4 424.6 371.7 426.3 376.6 420.6 492.2 413.8 369.5 425.8 447.9 420.4 384.5 414.1 386.4 422.4 405 421.7 440.6 425.3 418.4 421.9 468.7 411.8 368.4 417.9 462.3 426.6 464.6 426 496 425.3 491.1 414.2 492.3 422.9 402.3 421.1 391.2 420.7 495.7 426.1 458.9 424.1 483.3 423 381.6 421.1 429.2 425.6" fill="none" style="marker:url(#mn)"></path><path d="M496.7 420.6" fill="none" style="marker:url(#mgr)"></path><path d="M399.2 426.9 380.5 422.9 425.4 426.2 405.8 426 463.2 408.1 498.9 423 427.4 419.4 377.1 416.2 470.1 422.2 436 418.7 404.2 421.2 434.2 418.6 422.9 424.8 475.1 422.1 457.5 424.5 426.5 413.6 381.4 423.3 458.9 426 487.8 420.6" fill="none" style="marker:url(#mn)"></path><path d="M424.9 423.7" fill="none" style="marker:url(#mgr)"></path><path d="M363.9 418.1 394.9 425.7 455.3 424.4 372.3 424.7 439.2 416.6 401.2 425.2 498.7 425.6 447.4 424.4 489.4 407.4 406.3 421.9 395.2 426.3 490.2 426.5 385 421.5 371.8 424 391 421.1 381.4 422 461.3 417.8 430.6 414.2 378.8 418.5 417.8 426.1 386.8 424.4 407.6 426.6 411.3 426.7 411.6 421 468.9 418.1 412.3 414.3 470.9 418.2 457.6 426.4 430.9 422.7 382.8 423.6 389.4 417.8 418.1 422.4 476.8 419.4 498.2 416.9 416.4 412.2 464.7 419.6 405 420.3 446.7 423 441.6 421.2 494 418.2 381.7 418.5 438.7 421 417.1 426 442 424 366.5 424.2 454.6 422 482.1 426.4 445.1 426.3 415.5 422.7 444.7 424.4 493.8 420.5 398.3 427 419.1 423.6 468 413.8 393.6 421.3" fill="none" style="marker:url(#mn)"></path><path d="M447.4 421.7" fill="none" style="marker:url(#mgr)"></path><path d="M474.4 424 487.5 424.2 487.2 413 472 414.6 417.7 421 394.8 413.5 402.7 418.9 441 426.7 366.4 421.4 401.7 425 497 416 425 425.3 391 422 403.7 416.7 392.5 424.7 413.2 423.7 369.9 411.6 467.7 415.7 461.7 426.7 429 419.7 481.5 425.2 367.1 425.4 396.4 420.1 453.1 421.9 434.2 426 401.3 413 399.2 418.7 491.9 424.4" fill="none" style="marker:url(#mn)"></path><path d="M403.4 414.2" fill="none" style="marker:url(#mgr)"></path><path d="M375.5 424.3 424 426.7 455.6 427 422.4 422.3 483.6 416.8 474.7 418.5 464.5 413.6 478.4 411.9 373.2 417.9 453.5 426.1 449.6 418.3 431.2 426.9 436.8 419.2 459.8 419.2 459.9 425.8 468.1 426.2 372.2 420.2 385 420.1 416.1 417.5 374 426.4 403 425.1 398.5 426.1 417.5 422.6" fill="none" style="marker:url(#mn)"></path><path d="M392.2 426.7" fill="none" style="marker:url(#mgr)"></path><path d="M474.1 425.6" fill="none" style="marker:url(#mn)"></path><path d="M435.6 425.1" fill="none" style="marker:url(#mgr)"></path><path d="M369.9 417.1 482.8 422.6 447 423.2 409 423.9" fill="none" style="marker:url(#mn)"></path><path d="M428.2 422.3" fill="none" style="marker:url(#mgr)"></path><path d="M475.3 424.9 465.7 423.2 405.2 411.9 435.9 423.9 400 420.1 492.1 425.8 490.9 421.9 415.5 425.8 394.9 424.6 485.6 415.4 426.2 426.5 475.8 420.3 414.3 425.1 389.3 416 464.6 418.8" fill="none" style="marker:url(#mn)"></path><path d="M366.3 425.5" fill="none" style="marker:url(#mgr)"></path><path d="M412.1 415.1 385.9 423.5" fill="none" style="marker:url(#mn)"></path><path d="M450.5 422.1" fill="none" style="marker:url(#mgr)"></path><path d="M487.2 419.9 440.4 425.7 458.1 414.4 374.4 421 458.5 414.9 484.2 423.5" fill="none" style="marker:url(#mn)"></path><path d="M420.7 419.7" fill="none" style="marker:url(#mgr)"></path><path d="M471.7 425.7" fill="none" style="marker:url(#mn)"></path><path d="M439.4 424.9" fill="none" style="marker:url(#mgr)"></path><path d="M378.5 420.3 415.4 424.9 384.3 421.2 427.6 418.9 416.9 413.7 455.9 426.9 485.9 420.8 466.3 420 460.6 426.1 397.6 421.8" fill="none" style="marker:url(#mn)"></path><path d="M493.1 426.9" fill="none" style="marker:url(#mgr)"></path><path d="M387.3 423.8 411.5 422.5 364.3 423 466.6 422.3 441.9 419 454.8 425.9 404.7 419.6 386.2 426.4 469.9 419.2 435.7 424.1 445.8 426.8 477.7 424.5 380.5 413.6 425.1 420.2 367.5 422.7 486.1 425.8 382.2 427.1 391.1 415.1 386.4 420.2 426.9 419.4 416.6 413.4 469.8 422.3" fill="none" style="marker:url(#mn)"></path><path d="M485.4 424.4" fill="none" style="marker:url(#mgr)"></path><path d="M375.7 411.3 476.7 415.9 494.2 425.9 389.5 427 462.8 422.9 383.9 417.1 366.3 424.1 402.7 426.3 435 426.9 447.1 419.2 447.3 415.6 378.4 423 453.4 412.6 452.9 423.9 471.9 425.6 460.5 418.8 468.2 411.2 405.6 426.2 477.9 414.8 376.6 422.2 382.2 418.9 413.1 424.7 367.1 424.5 409.8 417.1 465.8 422.4 465.7 426.3 425.4 419.5 461.1 424.7 465.7 425.7 498.3 421.4 472.6 422.9 475.8 422 468.2 425.1 489.4 420.5 383.9 416.8 498.4 425.9 499.5 418 464 417.5 472.5 425 495.4 422.6 367 418.8 473 420.4 374.2 424.5 424 422.7 465.8 419.2 407.8 420.7 404.2 421.1 478.7 419.9 392.1 426.4" fill="none" style="marker:url(#mn)"></path><path d="M495.1 426.1" fill="none" style="marker:url(#mgr)"></path><path d="M438 426.6 427.6 425.6 384.2 419.6 400.1 416 390.2 424.9 383 425.5 370.9 425.6 408.6 420.8 401.9 411.7 460.6 420 461.5 413.9 387 423.1 395.4 419.5 441.8 415.4 472.9 421.9 426.6 422.7 434 421.6 381.5 422.5 366.1 423.9 377.6 420.7 470 424.2 475.8 413.2 395.6 426.3 412.1 417.3 472.3 423.5 387.5 425.8" fill="none" style="marker:url(#mn)"></path><path d="M437.9 426.6" fill="none" style="marker:url(#mgr)"></path><path d="M472.6 416.7 412.5 422.4 448.9 407.5 478.5 424.6 463.2 421 408.9 422.8 421.3 426.4 389.6 420 492 417.7 476.3 422.6 419.7 424.7 434.5 424.8 423.5 423 378 424.6 439.3 423.3 462.2 424.9 365.9 425.9 409.1 423.3 480.7 414.1 380.5 421.4 464.8 421.7 454.9 421.3 430.5 419.1 377 426.3 485.2 424 439.9 426.2 408.2 426.3 391.2 409.3 399.7 423.6 426.4 412 451.9 411.5 366.7 420.6 481 422.8 377.3 423.4 381 423.1" fill="none" style="marker:url(#mn)"></path><path d="M475 426.2" fill="none" style="marker:url(#mgr)"></path><path d="M417.9 422.5 418.1 422.2 367.5 425.2 490 421.6 459.3 422.6 375 422.6 439.5 421.1 364.9 419.8 490.1 423.9 426.6 425 460.8 413.1 389.6 412.7 425.3 417.6 398.9 420.8" fill="none" style="marker:url(#mn)"></path><path d="M433 419.6" fill="none" style="marker:url(#mgr)"></path><path d="M370.2 426.6 413.8 419.5 368.5 419.4 464.3 421.7 439.6 421.9" fill="none" style="marker:url(#mn)"></path><path d="M470.2 423" fill="none" style="marker:url(#mgr)"></path><path d="M461.7 419.8 381.8 418.4 451.3 426.2 472.3 411.5 383.6 422.5 405.6 416.6 366.1 419.8 446.4 419.9 495.2 416.3 376.1 416.9 373.2 419.8 426.6 415.4 474.1 416.1 469.6 413.8 414.7 422.4 485.2 424.4 472.8 417.5 400.6 418.3 377.3 427 396 426.3 385.8 413.4 450.7 415.5 462.9 426.9 460 426.3 363.6 415.7 483.5 416 466.5 419.3 446.9 425.1 467.2 423.3 409.7 425.1 375 420.2 416.5 422.3 383.1 426.8 446 422.3 392.4 424.2 444.1 425.2 485 417.5 498.8 426.5 381.6 412.4 421.5 422.8 435.7 412.3 423.5 424 493.6 421.3 463 424.9" fill="none" style="marker:url(#mn)"></path><path d="M473.7 418.6" fill="none" style="marker:url(#mgr)"></path><path d="M394.2 426.2 448 417.4 449.6 415.1 459.3 413 482.9 409.1 482.5 426.7 443.9 408 404.2 424.2 462.4 424.4 391 416 421.1 425.4 437.8 417.2 449.7 418 474 425.6 372.6 425.4 363.4 424.7 498.7 424 499.6 416.6 377.4 426.4 376.1 421.4 384.3 416.2 406.9 422.8 451.2 423.3 367.4 410.8 444.8 416.7 428.6 426.7 477.2 421.7 414.8 416.8 367.4 426.1 473.9 422.7 375.2 426.3 492.8 424.3 421.1 426.8 381.8 417.3" fill="none" style="marker:url(#mn)"></path><path d="M482.1 422.1" fill="none" style="marker:url(#mgr)"></path><path d="M434.4 425 475.5 416.8 492 420.7 396.7 415.7 439 416" fill="none" style="marker:url(#mn)"></path><path d="M494.4 426.5" fill="none" style="marker:url(#mgr)"></path><path d="M452.2 422.5 388.6 420.3 474.6 424.5 377.3 424.4 478 415.8 433.1 415.6 495.1 421.4 460.8 426.3 495.9 424.7 479.9 414.8 445.9 422.8 383.4 419 427.2 416.2 422 426.8 481.1 416.2 398.5 425.8 375 423.1 434.7 421.6 412.6 426.8 460.8 424.2 418.9 424.5 455.6 423.6" fill="none" style="marker:url(#mn)"></path><path d="M412.8 423.8" fill="none" style="marker:url(#mgr)"></path><path d="M386.8 424.9 491.5 421 421.8 426.4 453.2 422.8 388.9 414.8 468.5 421.2 487.9 425.3 387.3 426.6 496.7 425.8 384.8 425.6 455.5 422.6 410.8 422.9" fill="none" style="marker:url(#mn)"></path><path d="M420.2 423.6" fill="none" style="marker:url(#mgr)"></path><path d="M497.1 416.6 497.7 415.5 461.6 426.3" fill="none" style="marker:url(#mn)"></path><path d="M455.6 424.5" fill="none" style="marker:url(#mgr)"></path><path d="M491.5 417.3 446.8 426.2 425.9 424.3 444.8 423.6 371.8 422 481.4 413.2 461.9 425.4 445.4 416.1 407.1 426.8 474.2 417.5 404 418.6 459.3 424.9 391.2 418 381.9 423.5 461.7 421.6 388.7 425.7 460.8 415.8 373.4 424.4 432.8 420.3 364.8 424.3 436.6 422.8 498.1 426.6 466 425.4 455.3 417.3 367.1 419.2 442.7 417.9 449.9 424.8 478 419.7 454.7 421.5 486.1 426.9 495 426.3 466.4 419.7 416.3 419.7 452 425.8 378.1 425.7 489.3 413.5" fill="none" style="marker:url(#mn)"></path><path d="M423.4 424.4" fill="none" style="marker:url(#mgr)"></path><path d="M371.4 421.4 389 413.3 449.5 425.8 436.7 416.7 435.6 418.6 437.1 409.6 398.4 425.6" fill="none" style="marker:url(#mn)"></path><path d="M386 419.2" fill="none" style="marker:url(#mgr)"></path><path d="M424.2 425.6 423.6 418.9 452.3 417.1 368.1 426.1 380.7 419.8 366.6 424.3 483.3 413 434.1 417.7 457.9 412.4 498 408.7 378.2 419.8 458.3 417.9 385.3 424.8 428.6 419.2 496.7 418.2 480.5 415.4 492.8 414.4 439.1 411.2 363.5 421.8 379.3 423.3 404.3 425.2 364 424.2 382 424.8 392.1 422.7 455.1 425.7 433.8 426.4 388.8 425.3 448.2 417.7" fill="none" style="marker:url(#mn)"></path><path d="M434.3 426.2" fill="none" style="marker:url(#mgr)"></path><path d="M413.4 422.9 460.3 413.6 456.5 415.6 497.3 414.1 427.3 421.4 468.3 420.8" fill="none" style="marker:url(#mn)"></path><path d="M405.6 419.5" fill="none" style="marker:url(#mgr)"></path><path d="M444 424.4 387.9 415.8 452.6 419.4 405.6 420.7 499.1 420.5 369.4 427.1 453 426.5" fill="none" style="marker:url(#mn)"></path><path d="M406 425.9" fill="none" style="marker:url(#mgr)"></path><path d="M391.4 419.6 462.5 420.4 451 424.7 436.5 415.1 387.9 426.2 497.8 422.5 487 409.1 446.1 425.1 477.1 422.4 444.1 419.5 405.2 426.5 409.6 420.4 486.3 416 422.8 423.5 473.4 421.9 477 426.2 381.5 418.4 444.9 421.3 387.5 422.7 387.2 414.9" fill="none" style="marker:url(#mn)"></path><path d="M495 421.8" fill="none" style="marker:url(#mgr)"></path><path d="M481.8 424.4 465.6 417.6 369 422.3 429.3 421.4 419.7 425.2 490.8 415.7 447.8 411.9 404.9 422.2 419.6 422 498.6 418.3 495.5 408.6 442.3 412.5 458.8 426.2 432.4 421.3 444.1 418.6 380.8 419.9 450.3 424.6 403.2 423.4 436.1 422.4 371.2 416.2 478.5 420.5 380.2 426.2 398.4 426.1 441.2 418.7 430.1 416.6 378.9 418.5 405.9 423.1 464.7 423.8 494.2 412.9 383.2 417.6 475.4 424.9 466.6 407.2 372.6 426" fill="none" style="marker:url(#mn)"></path><path d="M432.5 422.1" fill="none" style="marker:url(#mgr)"></path><path d="M364.6 418.8 379.9 419.7 455.5 420.9 499 421.9 462.8 425.9 410.3 421.6 423.5 423 477.4 427.1 493.5 415.8 452.2 409.8 494.1 424.6 474.3 415.7 405.1 421.3 451.2 426.9 446.9 426.2 408 425.4 418.8 423.9 497.5 424.1 400 423.5 489.9 419.8 484.5 424.9 385.5 426.9 410.2 418.3 433.7 411.9 372 426.7 434.3 418 385.7 421.2 444 420 379.2 424.5 465.7 420.5 391.9 421.8 485.5 422.7 468.4 410.1" fill="none" style="marker:url(#mn)"></path><path d="M412.8 425.1" fill="none" style="marker:url(#mgr)"></path><path d="M440.2 419 437.9 420.7 425.3 425.4 469.2 416.1 370.8 425.2 497 409.7" fill="none" style="marker:url(#mn)"></path><path d="M363 420.4 416.4 419.7" fill="none" style="marker:url(#mgr)"></path><path d="M456.2 414 422 425.7 366.4 420.3 412.3 420 418.1 424 368.7 415.6 365.9 424.3 464.3 414.2 492.9 423.8 463.2 412.7 403.3 422.6 452.7 413.2 407.1 424.2 433.8 425.9 418.6 414.5 421.6 425.8 464.7 424.6 377.5 420.4 373.2 425.8 460.9 426.5 456.7 421.7 374.4 421.8" fill="none" style="marker:url(#mn)"></path><path d="M372.6 422" fill="none" style="marker:url(#mgr)"></path><path d="M383.6 421.7 373.5 418.6 490.4 425.8 396.7 426.5 444.8 426.3 465.3 426.7 420.8 414.9 448.3 412.3" fill="none" style="marker:url(#mn)"></path><path d="M421 424" fill="none" style="marker:url(#mgr)"></path><path d="M444.9 419.4 451.8 421.5 497 423.4 405.1 422.1 480.6 425.8 463.3 423.7 447.3 425.7 475.9 424.8" fill="none" style="marker:url(#mn)"></path><path d="M394.3 420.5" fill="none" style="marker:url(#mgr)"></path><path d="M363.8 424.2" fill="none" style="marker:url(#mn)"></path><path d="M385 424.1" fill="none" style="marker:url(#mgr)"></path><path d="M444.8 421.4 498.1 417.1 415.6 415.4 435.6 418.2 494.9 426.1 489.7 420 381.6 426.6 401.6 414.5 398.1 416.1 473.8 426.6 471.3 422.3 490.8 412.4 449.9 426.2 498.7 424.3 450.6 427 383.1 416 474.2 426.8 450.1 419.5 375.8 422.2 471.1 426.2 410.2 423.2 369.9 421.4 485.2 423 405.3 412.3 436.6 421.9 459.8 419.1 368.2 417.8 457.5 426.9 410.7 423.9 430.2 418.8 405 426.4 382.4 426.3 453.6 421.1 463.6 426.3 452.5 423.5 456.4 423.9 383.4 417.4 454.1 426.8 425.6 417.8 486.2 424.8 368.7 415.8 383.2 422.4 380.1 422.2 473.3 424.1 415 426.2 461.4 420.8 438.3 413.9 372.5 426" fill="none" style="marker:url(#mn)"></path><path d="M491.9 425.2" fill="none" style="marker:url(#mgr)"></path><path d="M384.2 426.1 376.3 415.2 392.8 412.8 364.7 426.4 410.9 414.5 363.2 425.6 412 412.8 483.1 421.9 435.4 423.3 471.2 404.8 476 419.1 396.9 425.9 481.4 421.5 471.2 426.1 434.4 415.3 364.8 419 389 418.8 487 417 409.8 424.8 481.7 414.3 365.2 412.4 472.4 423.5 412.2 417.3 413.2 423.4 426.3 415.6 377.8 419.5 460.3 421.4 452.8 422.5 491.9 422.7 480.3 418.4 397 419.1 433.4 424.8 374.4 424.9 425.2 426.2 478 418.2 476.9 423.7 485.4 418.8 487.4 418.3 375.6 426 450.3 422.4 404.7 425.3 397.1 425.2 444.3 422.7 431.2 425.8 460.4 406.5 380 424.2 412.6 416.9" fill="none" style="marker:url(#mn)"></path><path d="M463.5 414.6" fill="none" style="marker:url(#mgr)"></path><path d="M404.8 424.5 421.6 424.2 370 424.5 441.9 417.5 476.5 411.4 363.3 424.7 476.5 409.4 458.8 423.1 415.4 425.7 377.2 421.3 445.8 418.8 467.5 419.8 402.4 424.4 495.2 426.7 372.1 421.5 363.6 420.4 481 419.8 391.8 415.8 391.1 422.1 394.6 426 432 420.5 452.7 422.6 494.2 425.6 408.1 424.6 476.9 416.4 392.2 423 419.9 423.2 452.1 423.7 481.1 422.3 481.3 426.3 483.2 423.4 449.5 427 427.7 415.8 446.7 425.5 451.4 425.5 448.6 417" fill="none" style="marker:url(#mn)"></path><path d="M393.4 426.9" fill="none" style="marker:url(#mgr)"></path><path d="M427.1 421.6 495.4 419.1 446.3 425.1 463.9 402.6 372 424.3 473.7 423.2 368.4 421.3 460.6 423.3 423 423.4 485.1 422.2 467.6 399.7 377.4 415.4 432 419.9 448.8 426 378.6 419.4 424.9 420.7 388.5 426.8 439.7 426.9 490.8 423.8 404.9 425.5 438 425.8 399.8 425 365 425.3" fill="none" style="marker:url(#mn)"></path><path d="M436.8 424.3" fill="none" style="marker:url(#mgr)"></path><path d="M371.6 425.8 424.9 426.2 390.6 422.1 364.3 427 377.5 427.1 426.6 426.4 433.3 423.5 448.5 426.8 467.8 424.9 455.3 424.5" fill="none" style="marker:url(#mn)"></path><path d="M383.2 421.3" fill="none" style="marker:url(#mgr)"></path><path d="M449.4 419.8 413.2 426.7 491.4 424.9 459.6 426.4 417.8 426.2 388.8 410.2 400.6 425.6 491.9 420.4 396.1 426.8 364.8 425.9 427.3 417.8 422.3 423.6 399.6 424.6 396.7 424.6 435.9 425.1 454.3 424.2 474.6 423.3 492.6 423 435.3 412.2 455.8 426.4 493.4 424.2 494.8 415.6 369.1 416.8 487.3 426.3 479 423.5 464.7 425.9 417.5 409.8 415.5 425.2 466 423.4 450.3 426.9 382.5 425.9 393.9 425 394.9 422 401.6 426.8 385.5 423.4 376.6 421.1 372.6 421.5 395.4 426.4 364.5 424 385.3 421.4 425.4 426.4 380 427 415 408.8 473.2 424.1 380.2 423.1 483.1 413.5 407.5 425.4 427.3 421.4 401.7 427 418.7 421.2 470.4 420.4" fill="none" style="marker:url(#mn)"></path><path d="M448.5 423.4" fill="none" style="marker:url(#mgr)"></path><path d="M390.6 421.5 488.9 427" fill="none" style="marker:url(#mn)"></path><path d="M496 421.9" fill="none" style="marker:url(#mgr)"></path><path d="M368.1 418.2 450.9 424.1 446.4 421.1 396.5 426.1 410.4 418.7 419.4 426.8 427.5 415.3 364.4 426.7 433.5 426.9 453 423.5 374.7 421.9 379.2 423.3 383.8 424.3 453.5 425 438.3 420.7 468.8 424.3 445.9 424.8 366.9 423.3" fill="none" style="marker:url(#mn)"></path><path d="M461.5 426.7" fill="none" style="marker:url(#mgr)"></path><path d="M485.2 420.3 378.7 415.1 477.6 418 397.7 426.5 467.1 427.1 441.2 422.1 379.2 425 365.6 426.4 421.4 425.1 434.9 422.6 383.1 423.5 478.1 426.7 407.1 420.8 456.1 420.5 474.4 421.9 418.1 425.9 479 423 489.4 421.5 412.1 416.4 398.7 418.2 469.7 419 474.2 424.4 449.1 423.1 493.8 419.6 473.5 425.1 423 425.2 387.8 425.9 468.5 423.2 414.9 422.5 453 424.7 430.7 425.4 443.7 420.2 462.3 427 491.4 422.8 378.1 426.5 366.4 424.5 415.5 419.7 451.5 424.8 474.5 423.9 424.9 425.4 445.7 425 373 426.1 419.7 423.9 414.9 426.6 387.7 425.4 390.5 425.7 383.3 424.9 446.3 417.6 408.5 423.5 401.8 423.6 407.6 412.4 490 425.2 427.5 426.4 442.1 426.9 464.3 426.6 475.6 423 457.7 427 447.4 427" fill="none" style="marker:url(#mn)"></path><path d="M478.5 424.7 413.9 426.9" fill="none" style="marker:url(#mgr)"></path><path d="M492.5 424 461.8 418.4 410.7 423.9 433.4 423.7 452.5 423.1 437.7 424.1 428.3 426.8 447.2 426.8 456.3 415.8 499.3 427 462 421.1 447.9 426.5 388.3 425.5 396.8 426.6 443.9 426.7 396.2 425 411.1 425.6 406.6 423.8 445.3 426.6 416.8 425.6 457.2 410.6 485.9 423.3 417.1 423 474.2 426.7 430 424.8 413.3 426.7 478.4 419 483.7 424.7 494.1 426.2 487.6 423.8 382.2 417.7 408.5 414.4 381.7 422.7 482.6 425 457.6 425.1 487.4 425.3" fill="none" style="marker:url(#mn)"></path><path d="M479 426.3" fill="none" style="marker:url(#mgr)"></path><path d="M443.1 416.1 471.4 425.6 373.9 423.3" fill="none" style="marker:url(#mn)"></path><path d="M419.4 425.2" fill="none" style="marker:url(#mgr)"></path><path d="M436.7 424.6 426.7 424.5 480.3 424.4 415.1 424 476.1 419.7 451.6 423 465.2 424.1 438.3 418.5 473.5 425.6 390.1 424.2 497.6 417.7 366.1 424.7 375.7 423 377.7 418.1 466.4 426.2 475.6 423.7 377.2 426.4 418.3 425.3 417.9 419.2 413.5 417 420.4 417.2 379.2 417.4" fill="none" style="marker:url(#mn)"></path><path d="M478 423.8" fill="none" style="marker:url(#mgr)"></path><path d="M427 426.8 458.6 424.5 446.8 424.2 442.6 425.3 490.1 424.2 443.8 421.3 467.9 425.9 368.5 426.5 464.3 418.7 448.6 426.6 364 419.4 486.2 422.4 457.1 427 436.4 426.2 391.9 425.5 393.2 422.1 442.7 422 492 425.6 489.8 425.4 419.3 419.3 454.5 421.7 437.7 426.5 468.6 424.3 437.8 426.2 394.4 416.1 437.5 425.5 369 423.9 395.1 425.9 417.7 425.3 425.7 423.9 435.2 424.2 482.2 425.4 494.8 418.9 493 402 455.9 424.4 465.7 427.1" fill="none" style="marker:url(#mn)"></path><path d="M424.1 422.3" fill="none" style="marker:url(#mgr)"></path><path d="M450.7 425.2 385.7 422.2 410.3 425.9 387.5 426 420.7 386.1 463 424.9 482.6 423.8 416.3 426.7 431.9 425.8 432.4 422.8 409.9 424.1 377.2 425.3 482.1 423 430 408.7 426.8 417.4" fill="none" style="marker:url(#mn)"></path><path d="M364.2 423.3" fill="none" style="marker:url(#mgr)"></path><path d="M422.6 417 405 425.9 385 425.3" fill="none" style="marker:url(#mn)"></path><path d="M447.4 416" fill="none" style="marker:url(#mgr)"></path><path d="M466.4 420 485.8 419.1 416.3 423.5 392.7 425.6 426.3 414.9 473.4 419 492.8 420 399.5 422.1 489.1 422.1 400.1 425.6 492.4 417.5 426 426.8 460.2 426.7 382.1 426 495.9 426.1 436.4 426.5 467.5 423.6" fill="none" style="marker:url(#mn)"></path><path d="M374.7 427" fill="none" style="marker:url(#mgr)"></path><path d="M404.9 415.5" fill="none" style="marker:url(#mn)"></path><path d="M450.1 416.1" fill="none" style="marker:url(#mgr)"></path><path d="M399.6 421.7" fill="none" style="marker:url(#mn)"></path><path d="M377.8 425" fill="none" style="marker:url(#mgr)"></path><path d="M482.9 426.3 477.4 424 397.3 426.1 374.1 423.1 464.1 424.5 464.3 424.7 429.3 425.9 442.9 422.3 421.4 424.6 434.2 424 451.6 421 466.7 422.6 419.4 414.6 497.1 419 483.9 412.1 401.7 425.9 402.2 416.7 472.3 424.1" fill="none" style="marker:url(#mn)"></path><path d="M408.2 421.4" fill="none" style="marker:url(#mgr)"></path><path d="M471.8 423.2" fill="none" style="marker:url(#mn)"></path><path d="M435.3 426.6" fill="none" style="marker:url(#mgr)"></path><path d="M429 423.2 366.3 426.3 450.2 425.5 366.2 418.6 416.3 413.1 480.1 420.9 364 416.7 411.7 425.8 390 425.1 470.8 425.6 431.6 424.3 379.4 425.9 462.1 424.7 459.8 426.2 432.6 425 483.3 420.5 451.8 421.1 429.4 392.5 421.8 391.7 435 392.6 424.5 392 432.2 392.4 424.6 392.7 421.5 392.9 423.9 391.6 420.7 392.4 426.9 391.8 428.1 391.6 422.2 392.3 428.6 391.8 427.2 392.2 434 392.3 432.2 392.4 436.1 392.2 423.3 392.2 435.4 392.1 420.8 392 424.5 392.1 419.5 392.3 435.6 391.6 434.7 392.7 433.2 391.9 432.4 392.2 433.4 392.1 427.7 392.6 432 391.9 425.2 392 448.8 409 427.6 408.5 434.3 409.5 458.1 408.7 408.4 409.5 419.8 409.9 441.7 409.2 431.6 409.4 444.3 408.8 413.7 409.3 430.6 409.1 415.7 408.8 444 409.1 452.5 409.8 447.9 408.7 435.2 409 448.2 408.7 435.4 409.7 426.5 408.1 441.6 409 441 408.8 425.9 408.7 453.8 408.7 437 409.5 449.4 409.6 426 408.8 434.7 409.3 450.6 409.1 438.4 409 433.4 409.7 443 409.1 425 408.8 416 409.7 421.4 409.4 427.8 409.3 416.7 408.8 424.1 408.7 412.9 409.1 437 409.5 455.4 408.8 438.2 409.2 420.5 409 444.5 408.7 431.4 409.3 415.5 409.1 453.1 398.6 457.1 405.4 452.7 401.9 462.6 404.3 449.6 401.8 443.4 400.4 447.6 401.3 462 400.2" fill="none" style="marker:url(#mn)"></path><path d="M428.4 378 421.3 388 427 387.2 431.3 387.2 433.6 388" fill="none" style="marker:url(#mgr)"></path><path d="M409.9 400 405 403 407 404.5 389.2 400.8 393.5 403.6" fill="none" style="marker:url(#mn)"></path><path d="M374.3 406.5 413.5 404.3 417 406.5 425.6 403.6" fill="none" style="marker:url(#mgr)"></path><path d="M427.9 399.4 431.4 400.1 435 398" fill="none" style="marker:url(#mn)"></path><path d="M439.3 402.9" fill="none" style="marker:url(#mgr)"></path><path d="M467.8 402.2 472.8 403.6 474.2 407.9 475.6 410.8" fill="none" style="marker:url(#mn)"></path><path d="M447.7 414.5 438.6 413.8 422.1 413.6 424.9 414.2 441.3 412.1 414.8 415.4 414.6 414.6 452.5 415.1 439.1 413.8 453.5 414.6 457.5 414.8 455.2 412.6 453.5 413.2 428.9 415.5 431.7 413.8 418 414.4 453.3 413.9 451 413.9 417.1 415 435.2 414.1 462.1 414.8 458.9 413.4 427.3 413.1 442.5 414.5 447.4 413.9 457.1 413.7 435 414.5 416.2 413.8 422.8 412.8 417.3 413.7 461.3 414.1 438.1 412.7 416.7 414.4 416.2 414.6 430.4 413.5 408.9 413.4 411.6 412.2 441.4 413.6 411 414.3 423.1 414.2 423.1 415 424.9 413.7 446.1 415 433.2 413.1 450.9 413.7 449.4 412.2 459 412.9 441.4 413.3 430.9 414.7 423.6 411.8 431 416.5 436.3 411.7 443.3 414.8 430.5 414.8 411.2 413.1 408.7 414.4 410.9 412.2 427.6 414.5 410.8 414.4 446.4 414.8 429.1 413.5 421.2 414.4 461 415 451.1 414.6 431.5 414 447.6 413.4 442.1 415.3 423.4 414.8 433.6 414.5 462 414.1 408.5 395 414.9 400.8 424.2 400.8 381.4 404.3 387.1 403.9 375 407.9 436.1 406.2 458.5 405" fill="none" style="marker:url(#mlb)"></path><path d="M409.9 393 411.7 390.7 415.8 393.1 410.8 392.9 408.7 394.9 410.9 391.3 418.5 393.7 415.9 393.1 420.3 392.3 410.3 393.5 416.2 392.2 415.8 393.1 415.3 394.9 415.8 390.8 411.6 392.1 404.4 394.1 418.2 394 419 395.1 413.1 394.1 411.2 396 415.8 392.8 411.2 392.7 417.5 393.6 412.4 395.6 419 394.2 410.3 394.9 419.8 396.5 415.6 391.7 409.9 392.9 413.5 393.2 428.4 391.9 431 392 432.5 391.8 427.1 392.7 428.1 392.1 426.4 392.3 431.9 392.3 433.3 391.9 434.8 392.3 434.4 392 416.3 410.8 415.6 420.7 430.7 409.3 458.5 408.2" fill="none" style="marker:url(#mg)"></path><path d="M438.1 399" fill="none" style="marker:url(#mo)"></path><path d="M420 373.5 421.1 373.6 426.2 373 419.1 373.6 428.8 372.8 424.1 372.8 426.3 373.4 426.1 372.9 422 373.6 422 373.1 420.7 372.5 428.5 372.5 422.9 372.7 423.6 373.2 422.1 373.2 424.2 373.8 428 372.4 431.2 371.8 423 372.7 420.6 373 425.8 373.5 428.8 372.7 421.5 373.8 418.7 374 429.2 371.6 418.8 375.6 417.7 377.1 417.5 376.9 419.1 376.7 417.5 376.4 417.8 376.5 430.5 372.5 432.3 371.7 429.8 372.5 429.7 372.7 429.2 372.7 428.5 372.8 432 370.4 430.2 372.5 424.3 374.6 427 373.4 429.4 373.1 430.4 371.7 430 372.3 426.7 373 434.2 372.2 434.6 373.3 435.2 373.6 433.9 371.9 433.5 373 436.2 373.9 434 372.7 435.1 373.1 435 373 436.2 373.1 434.1 376.4 435.7 374.4 434.3 374.4 434.9 377.8 434.9 375.4 434.6 375.2 410.6 380.8" fill="none" style="marker:url(#mr)"></path><path d="M431.4 368.05L432.80 369.7L431.4 371.34L429.99 369.7Z" fill="#8a2be2" stroke="#502080" stroke-width="0.4"></path></g></g><rect x="362.8" y="361" width="137" height="69.10" fill="none" stroke="#979797" stroke-width="1"></rect><line x1="359.8" x2="362.8" y1="427.1" y2="427.1" stroke="#979797" stroke-width="0.8"></line><text x="357.6" y="429.90" font-size="7" text-anchor="end" fill="#222">0</text><line x1="359.8" x2="362.8" y1="413.45" y2="413.45" stroke="#979797" stroke-width="0.8"></line><text x="357.6" y="416.25" font-size="7" text-anchor="end" fill="#222">2</text><line x1="359.8" x2="362.8" y1="399.8" y2="399.8" stroke="#979797" stroke-width="0.8"></line><text x="357.6" y="402.6" font-size="7" text-anchor="end" fill="#222">4</text><line x1="359.8" x2="362.8" y1="386.15" y2="386.15" stroke="#979797" stroke-width="0.8"></line><text x="357.6" y="388.95" font-size="7" text-anchor="end" fill="#222">6</text><line x1="359.8" x2="362.8" y1="372.5" y2="372.5" stroke="#979797" stroke-width="0.8"></line><text x="357.6" y="375.3" font-size="7" text-anchor="end" fill="#222">8</text><line x1="499.8" x2="502.8" y1="426.5" y2="426.5" stroke="#b4b4ff" stroke-width="0.8"></line><text x="504.6" y="429" font-size="7" text-anchor="start" fill="#7878ff">0</text><line x1="499.8" x2="502.8" y1="411.6" y2="411.6" stroke="#b4b4ff" stroke-width="0.8"></line><text x="504.6" y="414.1" font-size="7" text-anchor="start" fill="#7878ff">20</text><line x1="499.8" x2="502.8" y1="396.7" y2="396.7" stroke="#b4b4ff" stroke-width="0.8"></line><text x="504.6" y="399.2" font-size="7" text-anchor="start" fill="#7878ff">40</text><line x1="499.8" x2="502.8" y1="381.8" y2="381.8" stroke="#b4b4ff" stroke-width="0.8"></line><text x="504.6" y="384.3" font-size="7" text-anchor="start" fill="#7878ff">60</text><line x1="499.8" x2="502.8" y1="366.9" y2="366.9" stroke="#b4b4ff" stroke-width="0.8"></line><text x="504.6" y="369.4" font-size="7" text-anchor="start" fill="#7878ff">80</text><rect x="362.8" y="434.1" width="137" height="61.19" fill="none" stroke="#979797" stroke-width="1"></rect><path d="M372.7 436.70h2.6M375.4 436.70l-1 -0.6v1.2z" stroke="#444" stroke-width="0.55" fill="#444"></path><text x="364.1" y="437.8" font-size="3.4" font-style="italic" fill="#484848" textLength="8" lengthAdjust="spacingAndGlyphs">CDK5RAP3</text><rect x="365" y="438.5" width="1" height="1.2" fill="#3030d0"></rect><path d="M377.8 436.70h2.6M377.70 436.70l1 -0.6v1.2z" stroke="#444" stroke-width="0.55" fill="#444"></path><text x="381" y="437.8" font-size="3.4" font-style="italic" fill="#484848" textLength="3.89" lengthAdjust="spacingAndGlyphs">SP6</text><rect x="380" y="438.5" width="1" height="1.2" fill="#3030d0"></rect><path d="M395.59 436.70h2.6M398.29 436.70l-1 -0.6v1.2z" stroke="#444" stroke-width="0.55" fill="#444"></path><text x="389" y="437.8" font-size="3.4" font-style="italic" fill="#484848" textLength="6" lengthAdjust="spacingAndGlyphs">PNPO</text><rect x="392" y="438.5" width="1" height="1.2" fill="#3030d0"></rect><path d="M413.2 436.70h2.6M415.9 436.70l-1 -0.6v1.2z" stroke="#444" stroke-width="0.55" fill="#444"></path><text x="402.5" y="437.8" font-size="3.4" font-style="italic" fill="#484848" textLength="10.10" lengthAdjust="spacingAndGlyphs">SP2</text><rect x="408" y="438.5" width="2" height="1.2" fill="#3030d0"></rect><path d="M437.9 436.70h2.6M437.8 436.70l1 -0.6v1.2z" stroke="#444" stroke-width="0.55" fill="#444"></path><text x="441.09" y="437.8" font-size="3.4" font-style="italic" fill="#484848" textLength="4.90" lengthAdjust="spacingAndGlyphs">SNX11</text><rect x="420" y="438.90" width="40.5" height="0.45" fill="#5050e0"></rect><rect x="420" y="438.5" width="1" height="1.2" fill="#3030d0"></rect><rect x="426.5" y="438.5" width="1.5" height="1.2" fill="#3030d0"></rect><rect x="432.83" y="438.5" width="2" height="1.2" fill="#3030d0"></rect><rect x="439.75" y="438.5" width="1" height="1.2" fill="#3030d0"></rect><rect x="446" y="438.5" width="1.5" height="1.2" fill="#3030d0"></rect><rect x="452.08" y="438.5" width="2" height="1.2" fill="#3030d0"></rect><rect x="459.5" y="438.5" width="1" height="1.2" fill="#3030d0"></rect><path d="M468 436.70h2.6M467.90 436.70l1 -0.6v1.2z" stroke="#444" stroke-width="0.55" fill="#444"></path><text x="471.2" y="437.8" font-size="3.4" font-style="italic" fill="#484848" textLength="9" lengthAdjust="spacingAndGlyphs">HOXB1</text><rect x="472" y="438.5" width="1" height="1.2" fill="#3030d0"></rect><path d="M369.5 443h2.6M369.40 443l1 -0.6v1.2z" stroke="#444" stroke-width="0.55" fill="#444"></path><text x="372.7" y="444.09" font-size="3.4" font-style="italic" fill="#484848" textLength="11.10" lengthAdjust="spacingAndGlyphs">CBX1</text><rect x="376" y="444.79" width="1" height="1.2" fill="#3030d0"></rect><path d="M394.5 443h2.6M397.2 443l-1 -0.6v1.2z" stroke="#444" stroke-width="0.55" fill="#444"></path><text x="385.9" y="444.09" font-size="3.4" font-style="italic" fill="#484848" textLength="8.00" lengthAdjust="spacingAndGlyphs">SP2</text><rect x="390" y="444.79" width="2" height="1.2" fill="#3030d0"></rect><path d="M399.59 443h2.6M399.5 443l1 -0.6v1.2z" stroke="#444" stroke-width="0.55" fill="#444"></path><text x="402.79" y="444.09" font-size="3.4" font-style="italic" fill="#484848" textLength="10.10" lengthAdjust="spacingAndGlyphs">COPZ2</text><rect x="405" y="444.79" width="1" height="1.2" fill="#3030d0"></rect><path d="M416.2 443h2.6M416.1 443l1 -0.6v1.2z" stroke="#444" stroke-width="0.55" fill="#444"></path><text x="419.4" y="444.09" font-size="3.4" font-style="italic" fill="#484848" textLength="11.10" lengthAdjust="spacingAndGlyphs">MIR152</text><rect x="423" y="444.79" width="1" height="1.2" fill="#3030d0"></rect><path d="M469.2 443h2.6M471.9 443l-1 -0.6v1.2z" stroke="#444" stroke-width="0.55" fill="#444"></path><text x="452.2" y="444.09" font-size="3.4" font-style="italic" fill="#484848" textLength="16.40" lengthAdjust="spacingAndGlyphs">LOC404266</text><rect x="462" y="444.79" width="2" height="1.2" fill="#3030d0"></rect><path d="M479.4 443h2.6M479.3 443l1 -0.6v1.2z" stroke="#444" stroke-width="0.55" fill="#444"></path><text x="482.59" y="444.09" font-size="3.4" font-style="italic" fill="#484848" textLength="9.00" lengthAdjust="spacingAndGlyphs">HOXB7</text><rect x="484" y="444.79" width="1" height="1.2" fill="#3030d0"></rect><path d="M371.59 449.20h2.6M371.5 449.20l1 -0.6v1.2z" stroke="#444" stroke-width="0.55" fill="#444"></path><text x="374.79" y="450.3" font-size="3.4" font-style="italic" fill="#484848" textLength="11.10" lengthAdjust="spacingAndGlyphs">NFE2L1</text><rect x="377" y="451" width="1" height="1.2" fill="#3030d0"></rect><path d="M389.2 449.20h2.6M389.1 449.20l1 -0.6v1.2z" stroke="#444" stroke-width="0.55" fill="#444"></path><text x="392.4" y="450.3" font-size="3.4" font-style="italic" fill="#484848" textLength="10.10" lengthAdjust="spacingAndGlyphs">PRR15L</text><rect x="395" y="451" width="1" height="1.2" fill="#3030d0"></rect><text x="407.7" y="450.3" font-size="3.4" font-style="italic" fill="#484848" textLength="11.40" lengthAdjust="spacingAndGlyphs">CBX1</text><rect x="412" y="451" width="2" height="1.2" fill="#3030d0"></rect><path d="M471.09 449.20h2.6M471 449.20l1 -0.6v1.2z" stroke="#444" stroke-width="0.55" fill="#444"></path><text x="474.29" y="450.3" font-size="3.4" font-style="italic" fill="#484848" textLength="8.00" lengthAdjust="spacingAndGlyphs">HOXB2</text><rect x="477" y="451" width="1" height="1.2" fill="#3030d0"></rect><path d="M383.09 455.40h2.6M385.79 455.40l-1 -0.6v1.2z" stroke="#444" stroke-width="0.55" fill="#444"></path><text x="371.4" y="456.5" font-size="3.4" font-style="italic" fill="#484848" textLength="11.10" lengthAdjust="spacingAndGlyphs">LRRC46</text><rect x="378" y="457.2" width="1" height="1.2" fill="#3030d0"></rect><path d="M405.9 455.40h2.6M408.59 455.40l-1 -0.6v1.2z" stroke="#444" stroke-width="0.55" fill="#444"></path><text x="390.1" y="456.5" font-size="3.4" font-style="italic" fill="#484848" textLength="15.19" lengthAdjust="spacingAndGlyphs">CDK5RAP3</text><rect x="398" y="457.2" width="1" height="1.2" fill="#3030d0"></rect><path d="M420.4 455.40h2.6M423.09 455.40l-1 -0.6v1.2z" stroke="#444" stroke-width="0.55" fill="#444"></path><text x="411.8" y="456.5" font-size="3.4" font-style="italic" fill="#484848" textLength="8" lengthAdjust="spacingAndGlyphs">SNF8</text><rect x="417" y="457.2" width="2" height="1.2" fill="#3030d0"></rect><path d="M483.7 455.40h2.6M486.4 455.40l-1 -0.6v1.2z" stroke="#444" stroke-width="0.55" fill="#444"></path><text x="467.8" y="456.5" font-size="3.4" font-style="italic" fill="#484848" textLength="15.30" lengthAdjust="spacingAndGlyphs">HOXB-AS1</text><rect x="478" y="457.2" width="1" height="1.2" fill="#3030d0"></rect><path d="M373.7 461.6h2.6M373.6 461.6l1 -0.6v1.2z" stroke="#444" stroke-width="0.55" fill="#444"></path><text x="376.9" y="462.7" font-size="3.4" font-style="italic" fill="#484848" textLength="10.10" lengthAdjust="spacingAndGlyphs">SCRN2</text><rect x="380" y="463.4" width="1" height="1.2" fill="#3030d0"></rect><path d="M400.59 461.6h2.6M400.5 461.6l1 -0.6v1.2z" stroke="#444" stroke-width="0.55" fill="#444"></path><text x="403.79" y="462.7" font-size="3.4" font-style="italic" fill="#484848" textLength="9.10" lengthAdjust="spacingAndGlyphs">MIR-32</text><rect x="406" y="463.4" width="1" height="1.2" fill="#3030d0"></rect><path d="M472.09 461.6h2.6M472 461.6l1 -0.6v1.2z" stroke="#444" stroke-width="0.55" fill="#444"></path><text x="475.29" y="462.7" font-size="3.4" font-style="italic" fill="#484848" textLength="10.10" lengthAdjust="spacingAndGlyphs">HOXB3</text><rect x="478" y="463.4" width="1" height="1.2" fill="#3030d0"></rect><path d="M379.9 467.8h2.6M379.8 467.8l1 -0.6v1.2z" stroke="#444" stroke-width="0.55" fill="#444"></path><text x="383.09" y="468.9" font-size="3.4" font-style="italic" fill="#484848" textLength="20.40" lengthAdjust="spacingAndGlyphs">LOC100506485</text><rect x="388" y="470" width="5" height="0.45" fill="#5050e0"></rect><rect x="388" y="469.59" width="1" height="1.2" fill="#3030d0"></rect><rect x="391.5" y="469.59" width="1.5" height="1.2" fill="#3030d0"></rect><path d="M475.2 467.8h2.6M475.1 467.8l1 -0.6v1.2z" stroke="#444" stroke-width="0.55" fill="#444"></path><text x="478.4" y="468.9" font-size="3.4" font-style="italic" fill="#484848" textLength="8.10" lengthAdjust="spacingAndGlyphs">HOXB4</text><rect x="481" y="469.59" width="1" height="1.2" fill="#3030d0"></rect><path d="M475.2 474.1h2.6M475.1 474.1l1 -0.6v1.2z" stroke="#444" stroke-width="0.55" fill="#444"></path><text x="478.4" y="475.2" font-size="3.4" font-style="italic" fill="#484848" textLength="9.10" lengthAdjust="spacingAndGlyphs">MIR10A</text><rect x="481" y="475.9" width="1" height="1.2" fill="#3030d0"></rect><path d="M489.9 479.90h2.6M492.59 479.90l-1 -0.6v1.2z" stroke="#444" stroke-width="0.55" fill="#444"></path><text x="474" y="481" font-size="3.4" font-style="italic" fill="#484848" textLength="15.30" lengthAdjust="spacingAndGlyphs">HOXB-AS3</text><rect x="482" y="481.7" width="2" height="1.2" fill="#3030d0"></rect><path d="M477.3 486.1h2.6M477.20 486.1l1 -0.6v1.2z" stroke="#444" stroke-width="0.55" fill="#444"></path><text x="480.5" y="487.2" font-size="3.4" font-style="italic" fill="#484848" textLength="9.10" lengthAdjust="spacingAndGlyphs">HOXB5</text><rect x="483" y="487.9" width="1" height="1.2" fill="#3030d0"></rect><path d="M477.3 492.3h2.6M477.20 492.3l1 -0.6v1.2z" stroke="#444" stroke-width="0.55" fill="#444"></path><text x="480.5" y="493.4" font-size="3.4" font-style="italic" fill="#484848" textLength="10.10" lengthAdjust="spacingAndGlyphs">HOXB6</text><rect x="483" y="494.09" width="2" height="1.2" fill="#3030d0"></rect><line x1="363.8" x2="363.8" y1="495.3" y2="498.3" stroke="#979797" stroke-width="0.8"></line><text x="363.8" y="506.5" font-size="7" text-anchor="middle" fill="#222">45.8</text><line x1="390.5" x2="390.5" y1="495.3" y2="498.3" stroke="#979797" stroke-width="0.8"></line><text x="390.5" y="506.5" font-size="7" text-anchor="middle" fill="#222">46</text><line x1="418.1" x2="418.1" y1="495.3" y2="498.3" stroke="#979797" stroke-width="0.8"></line><text x="418.1" y="506.5" font-size="7" text-anchor="middle" fill="#222">46.2</text><line x1="445.8" x2="445.8" y1="495.3" y2="498.3" stroke="#979797" stroke-width="0.8"></line><text x="445.8" y="506.5" font-size="7" text-anchor="middle" fill="#222">46.4</text><line x1="473.5" x2="473.5" y1="495.3" y2="498.3" stroke="#979797" stroke-width="0.8"></line><text x="473.5" y="506.5" font-size="7" text-anchor="middle" fill="#222">46.6</text><text x="430.6" y="517" font-size="7" text-anchor="middle" fill="#222">Position on chr17 (Mb)</text><text x="367.3" y="377.09" font-size="14" font-weight="bold" fill="#000">i</text><text x="431.6" y="367.8" font-size="5.7" text-anchor="middle" fill="#000">rs882380</text></g><text x="35" y="261.6" font-size="3.4" fill="#555" textLength="8" lengthAdjust="spacingAndGlyphs">(NUF)</text><g><rect x="318.6" y="387.3" width="24.8" height="58.5" fill="none" stroke="#979797" stroke-width="0.8"></rect><rect x="320.3" y="398.3" width="7.4" height="8.59" fill="#ff0000"></rect><rect x="320.3" y="406.9" width="7.4" height="8.70" fill="#ffa500"></rect><rect x="320.3" y="415.6" width="7.4" height="9.19" fill="#00ff00"></rect><rect x="320.3" y="424.8" width="7.4" height="8.69" fill="#87cefa"></rect><rect x="320.3" y="433.5" width="7.4" height="9" fill="#000080"></rect><line x1="327.7" x2="331" y1="406.9" y2="406.9" stroke="#888" stroke-width="0.6"></line><text x="334.3" y="408.9" font-size="5.7" fill="#333">0.8</text><line x1="327.7" x2="331" y1="415.6" y2="415.6" stroke="#888" stroke-width="0.6"></line><text x="334.3" y="417.6" font-size="5.7" fill="#333">0.6</text><line x1="327.7" x2="331" y1="424.8" y2="424.8" stroke="#888" stroke-width="0.6"></line><text x="334.3" y="426.8" font-size="5.7" fill="#333">0.4</text><line x1="327.7" x2="331" y1="433.5" y2="433.5" stroke="#888" stroke-width="0.6"></line><text x="334.3" y="435.5" font-size="5.7" fill="#333">0.2</text><text x="327.6" y="395.7" font-size="7.6" font-style="italic" fill="#222">r<tspan font-size="4.8" dy="-2.7" dx="0.2" font-style="normal">2</tspan></text></g></svg>
</body></html>
